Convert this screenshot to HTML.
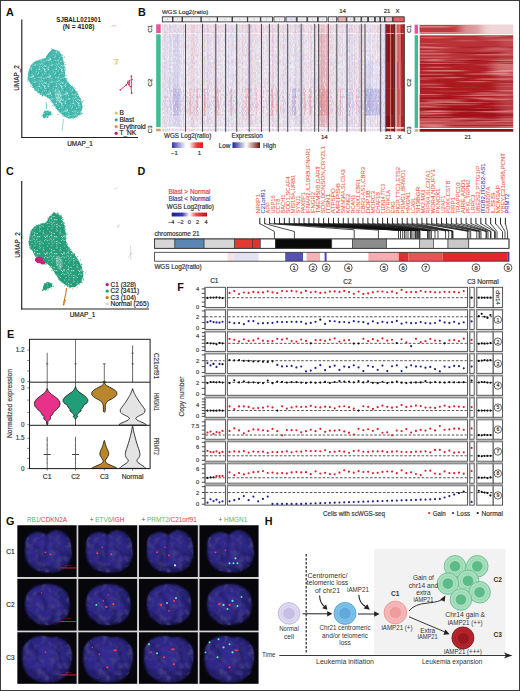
<!DOCTYPE html>
<html><head><meta charset="utf-8"><style>
html,body{margin:0;padding:0;background:#fff;}
body{width:520px;height:691px;overflow:hidden;}
svg{display:block;font-family:"Liberation Sans", sans-serif;}
</style></head><body>
<svg width="520" height="691" viewBox="0 0 520 691">
<rect x="0.5" y="0.5" width="519" height="690" fill="none" stroke="#3a3a3a" stroke-width="1"/>
<text x="6.10" y="15.90" font-size="10.8" fill="#111" text-anchor="start" font-weight="bold" >A</text>
<text x="78.60" y="22.00" font-size="6.6" fill="#1a1a1a" text-anchor="middle" font-weight="bold" textLength="44.5" lengthAdjust="spacingAndGlyphs">SJBALL021901</text>
<text x="78.60" y="29.00" font-size="6.6" fill="#1a1a1a" text-anchor="middle" font-weight="bold" textLength="31.5" lengthAdjust="spacingAndGlyphs">(N = 4108)</text>
<line x1="21.80" y1="19.50" x2="21.80" y2="138.00" stroke="#222" stroke-width="1.15" />
<line x1="21.30" y1="137.50" x2="138.00" y2="137.50" stroke="#222" stroke-width="1.15" />
<text x="19.40" y="78.00" font-size="6.4" fill="#222" text-anchor="middle" stroke="#222" stroke-width="0.18" transform="rotate(-90 19.40 78.00)" >UMAP_2</text>
<text x="80.00" y="146.00" font-size="6.4" fill="#222" text-anchor="middle" stroke="#222" stroke-width="0.18" >UMAP_1</text>
<defs><pattern id="pA" width="17" height="17" patternUnits="userSpaceOnUse"><path d="M3.9 8.9h0.75v0.75h-0.75zM6.0 9.8h0.75v0.75h-0.75zM10.2 1.1h0.75v0.75h-0.75zM0.2 13.7h0.75v0.75h-0.75zM4.2 3.8h0.75v0.75h-0.75zM16.2 7.7h0.75v0.75h-0.75zM13.6 7.8h0.75v0.75h-0.75zM10.4 2.5h0.75v0.75h-0.75zM10.3 14.1h0.75v0.75h-0.75zM8.5 12.1h0.75v0.75h-0.75zM10.9 1.0h0.75v0.75h-0.75zM12.4 9.6h0.75v0.75h-0.75zM4.9 0.5h0.75v0.75h-0.75zM14.1 7.7h0.75v0.75h-0.75zM11.7 14.3h0.75v0.75h-0.75zM11.6 15.0h0.75v0.75h-0.75zM6.4 13.1h0.75v0.75h-0.75zM7.2 15.3h0.75v0.75h-0.75zM14.3 1.6h0.75v0.75h-0.75zM2.2 3.5h0.75v0.75h-0.75zM15.7 7.1h0.75v0.75h-0.75zM10.2 4.9h0.75v0.75h-0.75zM8.3 6.3h0.75v0.75h-0.75zM5.7 9.5h0.75v0.75h-0.75zM9.5 14.7h0.75v0.75h-0.75zM11.1 15.1h0.75v0.75h-0.75zM14.0 16.2h0.75v0.75h-0.75zM10.9 2.7h0.75v0.75h-0.75zM14.0 15.7h0.75v0.75h-0.75zM14.7 9.3h0.75v0.75h-0.75zM11.6 3.4h0.75v0.75h-0.75zM13.6 9.3h0.75v0.75h-0.75zM4.6 1.0h0.75v0.75h-0.75zM13.9 16.1h0.75v0.75h-0.75zM1.4 13.0h0.75v0.75h-0.75zM6.7 2.5h0.75v0.75h-0.75zM4.8 12.5h0.75v0.75h-0.75zM14.2 0.7h0.75v0.75h-0.75zM10.0 0.7h0.75v0.75h-0.75zM11.7 5.4h0.75v0.75h-0.75zM14.4 16.0h0.75v0.75h-0.75zM8.2 16.3h0.75v0.75h-0.75zM5.0 1.3h0.75v0.75h-0.75zM9.8 0.5h0.75v0.75h-0.75zM3.2 6.6h0.75v0.75h-0.75zM10.0 2.5h0.75v0.75h-0.75zM0.7 14.1h0.75v0.75h-0.75zM5.1 15.6h0.75v0.75h-0.75zM14.6 6.2h0.75v0.75h-0.75zM7.5 8.5h0.75v0.75h-0.75zM10.5 9.7h0.75v0.75h-0.75zM9.1 10.1h0.75v0.75h-0.75zM15.3 8.3h0.75v0.75h-0.75zM7.0 11.7h0.75v0.75h-0.75zM3.9 4.9h0.75v0.75h-0.75zM15.9 8.5h0.75v0.75h-0.75zM8.9 0.2h0.75v0.75h-0.75zM6.8 9.5h0.75v0.75h-0.75zM0.3 10.0h0.75v0.75h-0.75zM10.3 1.0h0.75v0.75h-0.75z" fill="#ffffff" opacity="0.9"/><path d="M10.2 7.6h0.75v0.75h-0.75zM11.1 5.7h0.75v0.75h-0.75zM11.5 12.0h0.75v0.75h-0.75zM0.4 1.0h0.75v0.75h-0.75zM11.0 15.7h0.75v0.75h-0.75zM4.1 7.4h0.75v0.75h-0.75zM9.7 5.2h0.75v0.75h-0.75zM5.9 5.1h0.75v0.75h-0.75zM6.0 9.7h0.75v0.75h-0.75zM4.9 6.1h0.75v0.75h-0.75zM12.6 0.4h0.75v0.75h-0.75zM9.3 12.0h0.75v0.75h-0.75zM5.1 3.6h0.75v0.75h-0.75zM13.1 3.9h0.75v0.75h-0.75zM3.1 7.1h0.75v0.75h-0.75zM11.4 1.7h0.75v0.75h-0.75zM5.2 5.4h0.75v0.75h-0.75zM13.6 7.1h0.75v0.75h-0.75zM13.9 2.8h0.75v0.75h-0.75zM5.5 10.6h0.75v0.75h-0.75zM14.4 7.4h0.75v0.75h-0.75zM3.7 2.0h0.75v0.75h-0.75zM8.6 3.1h0.75v0.75h-0.75zM13.2 13.7h0.75v0.75h-0.75zM3.0 4.5h0.75v0.75h-0.75zM13.2 10.5h0.75v0.75h-0.75zM13.1 5.6h0.75v0.75h-0.75zM2.1 4.8h0.75v0.75h-0.75zM12.9 4.4h0.75v0.75h-0.75zM5.6 6.8h0.75v0.75h-0.75zM6.8 6.7h0.75v0.75h-0.75zM15.0 2.5h0.75v0.75h-0.75zM0.1 15.4h0.75v0.75h-0.75zM14.3 16.1h0.75v0.75h-0.75zM7.1 15.5h0.75v0.75h-0.75z" fill="#2a978d" opacity="0.7"/><path d="M15.1 3.6h0.75v0.75h-0.75zM12.2 13.6h0.75v0.75h-0.75zM10.8 8.5h0.75v0.75h-0.75zM4.7 5.6h0.75v0.75h-0.75zM3.7 1.1h0.75v0.75h-0.75zM9.6 4.7h0.75v0.75h-0.75zM13.2 0.7h0.75v0.75h-0.75zM14.7 11.3h0.75v0.75h-0.75zM15.1 14.6h0.75v0.75h-0.75zM14.7 9.4h0.75v0.75h-0.75zM0.2 12.1h0.75v0.75h-0.75zM2.8 4.9h0.75v0.75h-0.75zM10.8 8.6h0.75v0.75h-0.75zM6.7 15.3h0.75v0.75h-0.75zM10.0 5.6h0.75v0.75h-0.75zM4.1 14.0h0.75v0.75h-0.75zM7.8 12.8h0.75v0.75h-0.75zM5.7 3.2h0.75v0.75h-0.75zM8.7 13.3h0.75v0.75h-0.75zM2.8 12.9h0.75v0.75h-0.75zM15.0 13.1h0.75v0.75h-0.75zM13.4 0.1h0.75v0.75h-0.75zM10.2 14.1h0.75v0.75h-0.75zM0.8 4.4h0.75v0.75h-0.75zM4.4 8.6h0.75v0.75h-0.75zM6.9 7.7h0.75v0.75h-0.75zM12.7 0.0h0.75v0.75h-0.75zM0.9 2.1h0.75v0.75h-0.75zM2.0 1.1h0.75v0.75h-0.75zM15.9 13.9h0.75v0.75h-0.75z" fill="#7fd8d0" opacity="0.8"/></pattern></defs>
<polygon points="52.8,49.1 57.9,50.8 61.3,54.2 63.0,59.3 64.3,65.2 64.7,71.1 65.5,77.9 67.0,81.0 70.0,84.4 73.4,87.6 77.7,93.4 81.3,100.6 82.7,107.8 80.6,113.6 74.8,117.9 69.8,118.6 64.7,116.4 58.9,112.1 54.6,106.3 51.0,100.6 46.7,96.8 41.6,95.5 38.8,92.4 35.1,90.5 31.5,84.7 28.7,80.5 27.8,77.9 28.7,71.1 30.8,65.2 34.2,61.8 39.3,59.7 45.2,58.4 46.5,56.7 48.2,53.3" fill="#42b8ad"/>
<polygon points="55.0,90.0 58.0,89.0 61.5,93.0 62.0,99.0 60.0,103.0 57.0,101.0 55.0,96.0" fill="#ffffff" opacity="0.3"/>
<polygon points="52.8,49.1 57.9,50.8 61.3,54.2 63.0,59.3 64.3,65.2 64.7,71.1 65.5,77.9 67.0,81.0 70.0,84.4 73.4,87.6 77.7,93.4 81.3,100.6 82.7,107.8 80.6,113.6 74.8,117.9 69.8,118.6 64.7,116.4 58.9,112.1 54.6,106.3 51.0,100.6 46.7,96.8 41.6,95.5 38.8,92.4 35.1,90.5 31.5,84.7 28.7,80.5 27.8,77.9 28.7,71.1 30.8,65.2 34.2,61.8 39.3,59.7 45.2,58.4 46.5,56.7 48.2,53.3" fill="url(#pA)"/>
<path d="M64.6 74.6h0.8v0.8h-0.8zM63.8 66.4h0.8v0.8h-0.8zM35.0 88.9h0.8v0.8h-0.8zM71.7 85.4h0.8v0.8h-0.8zM66.0 75.2h0.8v0.8h-0.8zM31.3 82.5h0.8v0.8h-0.8zM62.2 61.5h0.8v0.8h-0.8zM28.5 71.5h0.8v0.8h-0.8zM77.4 115.6h0.8v0.8h-0.8zM29.3 69.9h0.8v0.8h-0.8zM45.9 95.5h0.8v0.8h-0.8zM63.3 114.1h0.8v0.8h-0.8zM51.2 48.8h0.8v0.8h-0.8zM66.5 79.5h0.8v0.8h-0.8zM66.2 117.0h0.8v0.8h-0.8zM65.4 81.0h0.8v0.8h-0.8zM40.4 94.0h0.8v0.8h-0.8zM45.2 58.3h0.8v0.8h-0.8zM64.8 70.4h0.8v0.8h-0.8zM69.2 116.5h0.8v0.8h-0.8zM64.1 62.2h0.8v0.8h-0.8zM64.7 67.2h0.8v0.8h-0.8zM26.9 78.7h0.8v0.8h-0.8zM28.3 71.7h0.8v0.8h-0.8zM29.4 72.0h0.8v0.8h-0.8zM51.8 51.1h0.8v0.8h-0.8zM73.2 88.6h0.8v0.8h-0.8zM51.2 48.5h0.8v0.8h-0.8zM71.2 86.3h0.8v0.8h-0.8zM42.5 94.8h0.8v0.8h-0.8zM52.8 101.6h0.8v0.8h-0.8zM54.9 107.5h0.8v0.8h-0.8zM30.4 83.6h0.8v0.8h-0.8zM45.4 60.6h0.8v0.8h-0.8zM43.7 59.8h0.8v0.8h-0.8zM59.2 50.9h0.8v0.8h-0.8zM28.2 78.3h0.8v0.8h-0.8zM69.5 117.4h0.8v0.8h-0.8zM65.0 70.4h0.8v0.8h-0.8zM81.8 113.1h0.8v0.8h-0.8zM62.8 60.4h0.8v0.8h-0.8zM47.0 97.3h0.8v0.8h-0.8zM67.6 80.7h0.8v0.8h-0.8zM37.1 90.8h0.8v0.8h-0.8zM58.2 52.3h0.8v0.8h-0.8zM76.8 115.4h0.8v0.8h-0.8zM72.3 86.6h0.8v0.8h-0.8zM30.3 69.3h0.8v0.8h-0.8zM65.9 78.4h0.8v0.8h-0.8zM32.0 87.3h0.8v0.8h-0.8zM64.8 115.7h0.8v0.8h-0.8zM48.0 52.9h0.8v0.8h-0.8zM51.7 102.2h0.8v0.8h-0.8zM75.1 87.9h0.8v0.8h-0.8zM65.6 80.7h0.8v0.8h-0.8zM27.8 73.4h0.8v0.8h-0.8zM47.5 97.3h0.8v0.8h-0.8zM81.1 105.7h0.8v0.8h-0.8zM38.4 92.5h0.8v0.8h-0.8zM69.5 84.5h0.8v0.8h-0.8zM46.7 56.2h0.8v0.8h-0.8zM64.7 67.0h0.8v0.8h-0.8zM55.9 107.7h0.8v0.8h-0.8zM67.9 82.4h0.8v0.8h-0.8zM28.0 77.3h0.8v0.8h-0.8zM77.4 91.6h0.8v0.8h-0.8zM79.9 98.1h0.8v0.8h-0.8zM55.0 104.5h0.8v0.8h-0.8zM31.2 83.0h0.8v0.8h-0.8zM46.2 56.1h0.8v0.8h-0.8zM39.9 60.7h0.8v0.8h-0.8zM66.2 79.5h0.8v0.8h-0.8zM51.5 52.0h0.8v0.8h-0.8zM79.2 113.8h0.8v0.8h-0.8zM30.9 66.0h0.8v0.8h-0.8zM74.3 87.3h0.8v0.8h-0.8zM62.3 58.8h0.8v0.8h-0.8zM46.5 57.2h0.8v0.8h-0.8zM37.3 92.3h0.8v0.8h-0.8zM62.5 57.1h0.8v0.8h-0.8zM75.7 117.0h0.8v0.8h-0.8zM72.6 118.4h0.8v0.8h-0.8zM64.4 69.4h0.8v0.8h-0.8zM42.6 58.6h0.8v0.8h-0.8zM44.3 58.2h0.8v0.8h-0.8zM28.1 79.4h0.8v0.8h-0.8zM61.9 115.5h0.8v0.8h-0.8zM29.0 79.9h0.8v0.8h-0.8zM34.1 89.8h0.8v0.8h-0.8zM79.7 113.2h0.8v0.8h-0.8zM57.7 50.7h0.8v0.8h-0.8zM82.2 101.2h0.8v0.8h-0.8zM27.7 77.1h0.8v0.8h-0.8zM64.0 56.6h0.8v0.8h-0.8zM73.2 118.4h0.8v0.8h-0.8zM39.6 93.9h0.8v0.8h-0.8zM63.5 66.2h0.8v0.8h-0.8zM39.1 59.9h0.8v0.8h-0.8zM57.5 114.1h0.8v0.8h-0.8zM45.4 94.8h0.8v0.8h-0.8zM53.3 49.1h0.8v0.8h-0.8zM47.7 57.0h0.8v0.8h-0.8zM41.9 94.7h0.8v0.8h-0.8zM44.9 58.4h0.8v0.8h-0.8zM47.2 97.2h0.8v0.8h-0.8zM53.1 105.7h0.8v0.8h-0.8zM40.2 93.0h0.8v0.8h-0.8zM27.4 80.6h0.8v0.8h-0.8zM31.4 86.2h0.8v0.8h-0.8zM41.7 58.4h0.8v0.8h-0.8zM29.3 80.8h0.8v0.8h-0.8zM61.7 54.3h0.8v0.8h-0.8zM64.8 78.0h0.8v0.8h-0.8zM64.7 63.9h0.8v0.8h-0.8zM39.3 92.4h0.8v0.8h-0.8zM65.7 79.8h0.8v0.8h-0.8zM79.6 114.8h0.8v0.8h-0.8zM76.5 91.0h0.8v0.8h-0.8zM78.6 114.2h0.8v0.8h-0.8zM42.2 95.7h0.8v0.8h-0.8zM83.6 105.5h0.8v0.8h-0.8zM62.4 54.9h0.8v0.8h-0.8zM63.6 116.2h0.8v0.8h-0.8zM66.6 78.3h0.8v0.8h-0.8zM36.6 90.5h0.8v0.8h-0.8zM50.4 100.7h0.8v0.8h-0.8zM80.6 114.1h0.8v0.8h-0.8zM64.9 68.5h0.8v0.8h-0.8zM32.9 87.2h0.8v0.8h-0.8zM79.3 114.4h0.8v0.8h-0.8zM68.1 117.9h0.8v0.8h-0.8zM80.5 99.3h0.8v0.8h-0.8zM38.1 59.7h0.8v0.8h-0.8zM81.7 112.8h0.8v0.8h-0.8zM28.0 74.6h0.8v0.8h-0.8zM59.6 52.2h0.8v0.8h-0.8zM53.6 103.8h0.8v0.8h-0.8zM81.0 113.0h0.8v0.8h-0.8zM37.5 92.8h0.8v0.8h-0.8zM73.6 89.0h0.8v0.8h-0.8zM62.9 66.5h0.8v0.8h-0.8zM52.7 100.5h0.8v0.8h-0.8zM30.0 85.8h0.8v0.8h-0.8zM41.7 58.8h0.8v0.8h-0.8zM51.9 105.1h0.8v0.8h-0.8zM48.7 97.3h0.8v0.8h-0.8zM52.5 49.1h0.8v0.8h-0.8zM83.4 100.3h0.8v0.8h-0.8zM36.8 60.9h0.8v0.8h-0.8zM62.2 57.3h0.8v0.8h-0.8zM38.1 92.0h0.8v0.8h-0.8zM31.9 65.6h0.8v0.8h-0.8zM28.3 73.1h0.8v0.8h-0.8zM61.6 55.8h0.8v0.8h-0.8zM64.9 115.0h0.8v0.8h-0.8zM28.8 73.6h0.8v0.8h-0.8zM59.7 112.3h0.8v0.8h-0.8zM64.9 64.1h0.8v0.8h-0.8zM46.7 55.2h0.8v0.8h-0.8zM82.4 102.3h0.8v0.8h-0.8z" fill="#42b8ad"/>
<defs><pattern id="pA2" width="17" height="17" patternUnits="userSpaceOnUse"><path d="M3.8 1.7h0.75v0.75h-0.75zM6.5 2.5h0.75v0.75h-0.75zM1.1 6.5h0.75v0.75h-0.75zM15.0 13.0h0.75v0.75h-0.75zM12.5 3.6h0.75v0.75h-0.75zM8.7 4.5h0.75v0.75h-0.75zM2.8 1.7h0.75v0.75h-0.75zM3.5 15.1h0.75v0.75h-0.75zM13.5 13.1h0.75v0.75h-0.75zM13.0 3.2h0.75v0.75h-0.75zM5.1 10.2h0.75v0.75h-0.75zM11.9 13.9h0.75v0.75h-0.75zM14.3 1.4h0.75v0.75h-0.75zM9.9 10.9h0.75v0.75h-0.75zM8.2 2.9h0.75v0.75h-0.75zM7.7 1.5h0.75v0.75h-0.75zM15.2 14.1h0.75v0.75h-0.75zM8.9 4.9h0.75v0.75h-0.75zM14.8 9.3h0.75v0.75h-0.75zM14.4 13.8h0.75v0.75h-0.75zM8.3 6.7h0.75v0.75h-0.75zM9.8 7.0h0.75v0.75h-0.75zM2.6 5.0h0.75v0.75h-0.75zM13.2 0.7h0.75v0.75h-0.75zM0.8 10.2h0.75v0.75h-0.75zM4.6 8.7h0.75v0.75h-0.75zM7.7 5.6h0.75v0.75h-0.75zM16.3 3.2h0.75v0.75h-0.75zM6.7 3.3h0.75v0.75h-0.75zM10.3 4.5h0.75v0.75h-0.75zM5.8 12.2h0.75v0.75h-0.75zM5.2 9.1h0.75v0.75h-0.75zM14.7 1.6h0.75v0.75h-0.75zM1.0 3.7h0.75v0.75h-0.75zM12.5 10.0h0.75v0.75h-0.75zM3.9 5.4h0.75v0.75h-0.75zM2.9 7.5h0.75v0.75h-0.75zM0.7 11.4h0.75v0.75h-0.75zM14.6 15.6h0.75v0.75h-0.75zM12.0 15.6h0.75v0.75h-0.75z" fill="#ffffff" opacity="0.9"/></pattern></defs>
<polygon points="44.0,111.5 47.5,110.5 51.5,111.8 50.8,115.0 47.0,117.0 43.5,118.2 42.5,116.0" fill="#3db5a8"/>
<polygon points="44.0,111.5 47.5,110.5 51.5,111.8 50.8,115.0 47.0,117.0 43.5,118.2 42.5,116.0" fill="url(#pA2)"/>
<path d="M44.9 111.6h0.8v0.8h-0.8zM44.1 116.9h0.8v0.8h-0.8zM41.4 114.5h0.8v0.8h-0.8zM49.9 113.6h0.8v0.8h-0.8zM50.5 114.3h0.8v0.8h-0.8zM50.5 114.8h0.8v0.8h-0.8zM46.0 112.8h0.8v0.8h-0.8zM44.7 111.6h0.8v0.8h-0.8zM41.7 115.4h0.8v0.8h-0.8zM46.5 117.3h0.8v0.8h-0.8zM47.1 117.3h0.8v0.8h-0.8zM49.5 111.9h0.8v0.8h-0.8zM43.7 111.7h0.8v0.8h-0.8zM47.4 116.7h0.8v0.8h-0.8zM50.0 112.4h0.8v0.8h-0.8zM47.7 116.9h0.8v0.8h-0.8zM51.9 113.6h0.8v0.8h-0.8zM43.2 115.5h0.8v0.8h-0.8zM47.7 116.6h0.8v0.8h-0.8zM44.5 117.7h0.8v0.8h-0.8zM43.6 116.8h0.8v0.8h-0.8zM48.1 115.1h0.8v0.8h-0.8zM50.5 113.5h0.8v0.8h-0.8zM45.1 111.3h0.8v0.8h-0.8zM44.4 110.2h0.8v0.8h-0.8z" fill="#3db5a8"/>
<path d="M63.5,119 L62.5,127 L62,131" stroke="#7fcfc5" stroke-width="0.8" fill="none"/>
<path d="M46,102 l0.6,4 l-0.3,3" stroke="#3db5a8" stroke-width="0.7" fill="none"/>
<path d="M111.5,26.5 l2,-1 l1.5,1 l1.5,-1.5" stroke="#e6b3a6" stroke-width="0.9" fill="none"/>
<path d="M113.5,59.5 l4.5,0.3 l-2,2 l1,1.8 l-2.5,0.5" stroke="#d6d27e" stroke-width="1.1" fill="none"/>
<path d="M120.3,89.8 L123.5,87.2 L126.5,84.8 L128.5,82.5 M131.4,76.2 L131.2,80 L131.8,84 L131.2,88 L131.6,93.2 M128,80.5 L130,83 L129,86" stroke="#c82a5c" stroke-width="0.9" fill="none"/>
<circle cx="120.30" cy="89.80" r="0.85" fill="#c82a5c" />
<circle cx="131.40" cy="76.20" r="0.85" fill="#c82a5c" />
<circle cx="131.60" cy="93.20" r="0.85" fill="#c82a5c" />
<circle cx="127.80" cy="82.20" r="0.85" fill="#c82a5c" />
<circle cx="129.60" cy="80.80" r="0.85" fill="#c82a5c" />
<circle cx="126.20" cy="85.00" r="0.85" fill="#c82a5c" />
<circle cx="130.20" cy="86.50" r="0.85" fill="#c82a5c" />
<circle cx="128.80" cy="84.20" r="0.85" fill="#c82a5c" />
<circle cx="132.00" cy="79.50" r="0.85" fill="#c82a5c" />
<circle cx="116.20" cy="113.10" r="1.65" fill="#d9c36a" />
<text x="119.40" y="115.00" font-size="6.6" fill="#222" text-anchor="start" stroke="#222" stroke-width="0.18" >B</text>
<circle cx="116.20" cy="119.85" r="1.65" fill="#3a9fcf" />
<text x="119.40" y="121.75" font-size="6.6" fill="#222" text-anchor="start" stroke="#222" stroke-width="0.18" >Blast</text>
<circle cx="116.20" cy="126.60" r="1.65" fill="#ec8a5a" />
<text x="119.40" y="128.50" font-size="6.6" fill="#222" text-anchor="start" stroke="#222" stroke-width="0.18" >Erythroid</text>
<circle cx="116.20" cy="133.35" r="1.65" fill="#c02060" />
<text x="119.40" y="135.25" font-size="6.6" fill="#222" text-anchor="start" stroke="#222" stroke-width="0.18" >T_NK</text>
<text x="6.00" y="175.20" font-size="10.8" fill="#111" text-anchor="start" font-weight="bold" >C</text>
<line x1="21.70" y1="181.00" x2="21.70" y2="309.50" stroke="#222" stroke-width="1.15" />
<line x1="21.20" y1="309.00" x2="149.00" y2="309.00" stroke="#222" stroke-width="1.15" />
<text x="19.80" y="245.00" font-size="6.4" fill="#222" text-anchor="middle" stroke="#222" stroke-width="0.18" transform="rotate(-90 19.80 245.00)" >UMAP_2</text>
<text x="82.50" y="316.60" font-size="6.4" fill="#222" text-anchor="middle" stroke="#222" stroke-width="0.18" >UMAP_1</text>
<defs><pattern id="pC" width="17" height="17" patternUnits="userSpaceOnUse"><path d="M10.2 12.1h0.75v0.75h-0.75zM13.0 15.4h0.75v0.75h-0.75zM12.1 15.0h0.75v0.75h-0.75zM0.5 7.6h0.75v0.75h-0.75zM15.4 10.6h0.75v0.75h-0.75zM14.7 1.8h0.75v0.75h-0.75zM7.6 4.0h0.75v0.75h-0.75zM8.9 9.4h0.75v0.75h-0.75zM0.2 3.5h0.75v0.75h-0.75zM4.6 14.9h0.75v0.75h-0.75zM12.5 2.6h0.75v0.75h-0.75zM13.0 2.3h0.75v0.75h-0.75zM10.1 2.1h0.75v0.75h-0.75zM0.0 14.2h0.75v0.75h-0.75zM3.4 3.5h0.75v0.75h-0.75zM16.0 14.2h0.75v0.75h-0.75zM4.7 15.7h0.75v0.75h-0.75zM8.8 11.0h0.75v0.75h-0.75zM3.3 15.3h0.75v0.75h-0.75zM11.3 15.8h0.75v0.75h-0.75zM14.6 4.9h0.75v0.75h-0.75zM5.9 2.7h0.75v0.75h-0.75zM2.4 1.1h0.75v0.75h-0.75zM4.9 9.8h0.75v0.75h-0.75zM0.1 11.1h0.75v0.75h-0.75zM5.5 5.1h0.75v0.75h-0.75zM13.3 7.8h0.75v0.75h-0.75zM5.1 7.8h0.75v0.75h-0.75zM11.5 0.9h0.75v0.75h-0.75zM15.9 0.4h0.75v0.75h-0.75zM12.2 13.8h0.75v0.75h-0.75zM0.3 12.8h0.75v0.75h-0.75zM6.0 9.4h0.75v0.75h-0.75zM0.1 0.8h0.75v0.75h-0.75zM2.9 15.6h0.75v0.75h-0.75zM3.2 12.3h0.75v0.75h-0.75zM15.2 15.4h0.75v0.75h-0.75zM5.6 5.8h0.75v0.75h-0.75zM8.6 12.6h0.75v0.75h-0.75zM1.8 12.2h0.75v0.75h-0.75zM13.0 14.0h0.75v0.75h-0.75zM0.6 15.4h0.75v0.75h-0.75zM1.5 5.6h0.75v0.75h-0.75zM10.0 15.0h0.75v0.75h-0.75zM5.5 15.1h0.75v0.75h-0.75zM8.9 5.1h0.75v0.75h-0.75zM5.2 2.9h0.75v0.75h-0.75zM1.3 2.4h0.75v0.75h-0.75zM11.2 16.2h0.75v0.75h-0.75zM2.6 0.8h0.75v0.75h-0.75z" fill="#ffffff" opacity="0.9"/><path d="M16.1 8.7h0.75v0.75h-0.75zM6.6 3.9h0.75v0.75h-0.75zM9.7 13.5h0.75v0.75h-0.75zM7.4 6.9h0.75v0.75h-0.75zM0.9 14.9h0.75v0.75h-0.75zM0.5 8.0h0.75v0.75h-0.75zM13.7 2.1h0.75v0.75h-0.75zM11.9 15.5h0.75v0.75h-0.75zM10.3 12.8h0.75v0.75h-0.75zM1.7 7.1h0.75v0.75h-0.75zM2.4 13.8h0.75v0.75h-0.75zM4.8 7.4h0.75v0.75h-0.75zM16.3 13.9h0.75v0.75h-0.75zM15.9 7.4h0.75v0.75h-0.75zM8.0 11.9h0.75v0.75h-0.75zM7.8 4.7h0.75v0.75h-0.75zM6.6 2.4h0.75v0.75h-0.75zM6.1 16.1h0.75v0.75h-0.75zM15.6 10.2h0.75v0.75h-0.75zM8.1 5.5h0.75v0.75h-0.75zM1.5 4.4h0.75v0.75h-0.75zM12.7 14.1h0.75v0.75h-0.75zM5.9 12.8h0.75v0.75h-0.75zM12.6 11.3h0.75v0.75h-0.75zM10.8 12.4h0.75v0.75h-0.75z" fill="#8a8a8a" opacity="0.8"/><path d="M5.9 11.5h0.75v0.75h-0.75zM4.6 7.9h0.75v0.75h-0.75zM12.5 11.3h0.75v0.75h-0.75zM4.8 15.4h0.75v0.75h-0.75zM10.6 9.5h0.75v0.75h-0.75zM0.2 8.9h0.75v0.75h-0.75zM4.1 10.9h0.75v0.75h-0.75zM7.5 13.3h0.75v0.75h-0.75zM10.6 13.0h0.75v0.75h-0.75zM5.7 10.5h0.75v0.75h-0.75zM12.0 13.5h0.75v0.75h-0.75zM5.7 13.7h0.75v0.75h-0.75zM14.2 11.2h0.75v0.75h-0.75zM15.9 15.6h0.75v0.75h-0.75zM8.4 8.6h0.75v0.75h-0.75zM2.7 13.6h0.75v0.75h-0.75zM15.3 7.8h0.75v0.75h-0.75zM11.3 11.7h0.75v0.75h-0.75zM11.9 2.8h0.75v0.75h-0.75zM12.7 9.5h0.75v0.75h-0.75zM10.8 6.9h0.75v0.75h-0.75zM10.2 12.6h0.75v0.75h-0.75zM10.4 11.7h0.75v0.75h-0.75zM0.5 2.6h0.75v0.75h-0.75zM7.2 10.6h0.75v0.75h-0.75z" fill="#167e60" opacity="0.6"/></pattern></defs>
<polygon points="53.6,212.4 58.7,214.2 62.1,217.9 63.8,223.4 65.1,229.8 65.5,236.1 66.3,243.5 67.8,246.8 70.8,250.5 74.2,254.0 78.5,260.2 82.1,268.0 83.5,275.8 81.4,282.0 75.6,286.7 70.6,287.4 65.5,285.1 59.7,280.4 55.4,274.2 51.8,268.0 47.5,263.9 42.4,262.5 39.6,259.1 35.9,257.1 32.3,250.8 29.5,246.3 28.6,243.5 29.5,236.1 31.6,229.8 35.0,226.1 40.1,223.8 46.0,222.4 47.3,220.6 49.0,216.9" fill="#22a07a"/>
<polygon points="55.8,256.6 58.8,255.5 62.3,259.8 62.8,266.3 60.8,270.6 57.8,268.4 55.8,263.0" fill="#ffffff" opacity="0.3"/>
<polygon points="53.6,212.4 58.7,214.2 62.1,217.9 63.8,223.4 65.1,229.8 65.5,236.1 66.3,243.5 67.8,246.8 70.8,250.5 74.2,254.0 78.5,260.2 82.1,268.0 83.5,275.8 81.4,282.0 75.6,286.7 70.6,287.4 65.5,285.1 59.7,280.4 55.4,274.2 51.8,268.0 47.5,263.9 42.4,262.5 39.6,259.1 35.9,257.1 32.3,250.8 29.5,246.3 28.6,243.5 29.5,236.1 31.6,229.8 35.0,226.1 40.1,223.8 46.0,222.4 47.3,220.6 49.0,216.9" fill="url(#pC)"/>
<path d="M72.3 288.4h0.8v0.8h-0.8zM46.7 223.9h0.8v0.8h-0.8zM69.0 248.5h0.8v0.8h-0.8zM62.1 221.1h0.8v0.8h-0.8zM65.5 235.3h0.8v0.8h-0.8zM56.9 212.6h0.8v0.8h-0.8zM67.9 248.8h0.8v0.8h-0.8zM50.7 267.4h0.8v0.8h-0.8zM52.3 267.5h0.8v0.8h-0.8zM34.7 254.8h0.8v0.8h-0.8zM46.8 222.3h0.8v0.8h-0.8zM36.1 256.8h0.8v0.8h-0.8zM44.3 262.8h0.8v0.8h-0.8zM32.0 248.7h0.8v0.8h-0.8zM44.4 223.9h0.8v0.8h-0.8zM80.5 267.1h0.8v0.8h-0.8zM48.2 222.2h0.8v0.8h-0.8zM49.5 266.9h0.8v0.8h-0.8zM70.4 249.1h0.8v0.8h-0.8zM63.5 222.1h0.8v0.8h-0.8zM58.4 278.9h0.8v0.8h-0.8zM47.7 223.9h0.8v0.8h-0.8zM54.6 271.1h0.8v0.8h-0.8zM68.3 247.4h0.8v0.8h-0.8zM40.7 260.3h0.8v0.8h-0.8zM38.2 257.3h0.8v0.8h-0.8zM61.0 217.5h0.8v0.8h-0.8zM67.5 246.4h0.8v0.8h-0.8zM30.0 230.5h0.8v0.8h-0.8zM45.7 221.9h0.8v0.8h-0.8zM80.3 281.7h0.8v0.8h-0.8zM47.9 263.8h0.8v0.8h-0.8zM52.4 270.3h0.8v0.8h-0.8zM79.3 263.7h0.8v0.8h-0.8zM40.0 261.1h0.8v0.8h-0.8zM64.1 225.3h0.8v0.8h-0.8zM66.6 234.2h0.8v0.8h-0.8zM65.4 235.9h0.8v0.8h-0.8zM67.3 246.1h0.8v0.8h-0.8zM73.9 253.1h0.8v0.8h-0.8zM82.5 273.0h0.8v0.8h-0.8zM81.8 282.7h0.8v0.8h-0.8zM64.8 231.4h0.8v0.8h-0.8zM29.3 244.5h0.8v0.8h-0.8zM43.3 263.0h0.8v0.8h-0.8zM33.0 251.9h0.8v0.8h-0.8zM48.7 219.2h0.8v0.8h-0.8zM73.7 286.7h0.8v0.8h-0.8zM53.9 271.4h0.8v0.8h-0.8zM33.9 254.5h0.8v0.8h-0.8zM61.9 217.2h0.8v0.8h-0.8zM65.3 242.4h0.8v0.8h-0.8zM29.1 246.9h0.8v0.8h-0.8zM49.1 216.5h0.8v0.8h-0.8zM77.0 260.5h0.8v0.8h-0.8zM68.8 246.7h0.8v0.8h-0.8zM80.1 282.2h0.8v0.8h-0.8zM70.3 286.2h0.8v0.8h-0.8zM31.1 248.4h0.8v0.8h-0.8zM51.1 269.8h0.8v0.8h-0.8zM49.7 216.7h0.8v0.8h-0.8zM82.8 271.2h0.8v0.8h-0.8zM81.2 277.1h0.8v0.8h-0.8zM37.9 259.5h0.8v0.8h-0.8zM29.7 234.2h0.8v0.8h-0.8zM79.9 259.6h0.8v0.8h-0.8zM41.0 224.3h0.8v0.8h-0.8zM81.1 265.9h0.8v0.8h-0.8zM62.7 219.1h0.8v0.8h-0.8zM64.3 227.0h0.8v0.8h-0.8zM74.4 254.1h0.8v0.8h-0.8zM67.2 286.2h0.8v0.8h-0.8zM60.0 215.4h0.8v0.8h-0.8zM33.8 253.5h0.8v0.8h-0.8zM65.3 234.0h0.8v0.8h-0.8zM69.8 287.3h0.8v0.8h-0.8zM30.9 232.4h0.8v0.8h-0.8zM34.0 227.0h0.8v0.8h-0.8zM52.8 213.9h0.8v0.8h-0.8zM64.1 285.4h0.8v0.8h-0.8zM64.1 227.0h0.8v0.8h-0.8zM64.3 223.0h0.8v0.8h-0.8zM65.4 228.8h0.8v0.8h-0.8zM48.6 218.8h0.8v0.8h-0.8zM45.5 264.0h0.8v0.8h-0.8zM81.0 264.4h0.8v0.8h-0.8zM59.7 216.5h0.8v0.8h-0.8zM30.9 248.6h0.8v0.8h-0.8zM51.3 263.2h0.8v0.8h-0.8zM66.8 247.5h0.8v0.8h-0.8zM60.6 281.7h0.8v0.8h-0.8zM65.4 238.3h0.8v0.8h-0.8zM68.6 286.8h0.8v0.8h-0.8zM83.1 279.6h0.8v0.8h-0.8zM64.7 233.7h0.8v0.8h-0.8zM57.4 212.9h0.8v0.8h-0.8zM60.7 214.8h0.8v0.8h-0.8zM61.0 216.3h0.8v0.8h-0.8zM30.4 248.9h0.8v0.8h-0.8zM71.4 250.8h0.8v0.8h-0.8zM65.3 233.0h0.8v0.8h-0.8zM68.5 247.6h0.8v0.8h-0.8zM59.6 280.3h0.8v0.8h-0.8zM30.0 236.1h0.8v0.8h-0.8zM81.2 263.6h0.8v0.8h-0.8zM65.8 243.7h0.8v0.8h-0.8zM77.4 256.2h0.8v0.8h-0.8zM68.3 248.3h0.8v0.8h-0.8zM31.0 235.4h0.8v0.8h-0.8zM81.5 264.2h0.8v0.8h-0.8zM67.2 242.9h0.8v0.8h-0.8zM76.8 286.8h0.8v0.8h-0.8zM43.7 223.6h0.8v0.8h-0.8zM83.2 278.5h0.8v0.8h-0.8zM36.9 256.8h0.8v0.8h-0.8zM65.5 284.0h0.8v0.8h-0.8zM64.2 227.6h0.8v0.8h-0.8zM68.6 286.4h0.8v0.8h-0.8zM67.1 247.8h0.8v0.8h-0.8zM44.1 263.4h0.8v0.8h-0.8zM66.1 242.1h0.8v0.8h-0.8zM47.3 217.4h0.8v0.8h-0.8zM60.5 215.5h0.8v0.8h-0.8zM29.7 248.2h0.8v0.8h-0.8zM35.7 224.5h0.8v0.8h-0.8zM64.7 226.1h0.8v0.8h-0.8zM60.4 216.6h0.8v0.8h-0.8zM65.3 228.9h0.8v0.8h-0.8zM29.5 241.0h0.8v0.8h-0.8zM70.3 286.1h0.8v0.8h-0.8zM47.4 262.9h0.8v0.8h-0.8zM78.9 284.5h0.8v0.8h-0.8zM38.9 259.0h0.8v0.8h-0.8zM56.1 214.5h0.8v0.8h-0.8zM54.1 212.2h0.8v0.8h-0.8zM32.3 248.0h0.8v0.8h-0.8zM35.5 255.9h0.8v0.8h-0.8zM58.0 276.4h0.8v0.8h-0.8zM65.4 233.2h0.8v0.8h-0.8zM64.5 232.6h0.8v0.8h-0.8zM28.1 240.9h0.8v0.8h-0.8zM68.8 287.8h0.8v0.8h-0.8zM42.3 261.9h0.8v0.8h-0.8zM82.5 271.7h0.8v0.8h-0.8zM41.2 260.4h0.8v0.8h-0.8zM52.8 214.0h0.8v0.8h-0.8zM29.9 247.9h0.8v0.8h-0.8zM46.3 222.7h0.8v0.8h-0.8zM68.7 248.1h0.8v0.8h-0.8zM66.5 245.7h0.8v0.8h-0.8zM84.9 272.6h0.8v0.8h-0.8zM67.1 244.2h0.8v0.8h-0.8zM44.4 263.7h0.8v0.8h-0.8zM66.5 237.6h0.8v0.8h-0.8zM53.6 212.2h0.8v0.8h-0.8zM58.0 212.8h0.8v0.8h-0.8zM66.5 232.4h0.8v0.8h-0.8zM58.4 214.7h0.8v0.8h-0.8zM81.1 282.0h0.8v0.8h-0.8zM46.9 220.9h0.8v0.8h-0.8z" fill="#22a07a"/>
<defs><pattern id="pC2" width="17" height="17" patternUnits="userSpaceOnUse"><path d="M12.9 13.4h0.75v0.75h-0.75zM7.9 4.3h0.75v0.75h-0.75zM0.0 10.8h0.75v0.75h-0.75zM7.7 12.4h0.75v0.75h-0.75zM6.1 12.6h0.75v0.75h-0.75zM4.4 13.1h0.75v0.75h-0.75zM11.9 6.7h0.75v0.75h-0.75zM8.8 11.1h0.75v0.75h-0.75zM3.1 9.0h0.75v0.75h-0.75zM13.1 4.3h0.75v0.75h-0.75zM13.1 11.2h0.75v0.75h-0.75zM13.8 5.5h0.75v0.75h-0.75zM1.5 13.0h0.75v0.75h-0.75zM13.1 7.3h0.75v0.75h-0.75zM1.5 3.2h0.75v0.75h-0.75zM10.3 4.7h0.75v0.75h-0.75zM15.5 9.6h0.75v0.75h-0.75zM3.3 10.7h0.75v0.75h-0.75zM5.9 15.2h0.75v0.75h-0.75zM14.8 8.4h0.75v0.75h-0.75zM10.5 11.4h0.75v0.75h-0.75zM13.1 15.9h0.75v0.75h-0.75zM0.5 5.9h0.75v0.75h-0.75zM9.8 5.0h0.75v0.75h-0.75zM9.6 1.5h0.75v0.75h-0.75zM14.3 8.6h0.75v0.75h-0.75zM1.9 10.8h0.75v0.75h-0.75zM5.1 3.2h0.75v0.75h-0.75zM7.9 2.3h0.75v0.75h-0.75zM3.4 14.1h0.75v0.75h-0.75zM11.4 0.2h0.75v0.75h-0.75zM12.7 0.3h0.75v0.75h-0.75zM5.4 14.7h0.75v0.75h-0.75zM10.1 5.0h0.75v0.75h-0.75zM6.2 6.3h0.75v0.75h-0.75zM2.1 16.3h0.75v0.75h-0.75zM0.9 6.9h0.75v0.75h-0.75zM12.2 6.5h0.75v0.75h-0.75zM16.0 4.0h0.75v0.75h-0.75zM16.0 14.5h0.75v0.75h-0.75z" fill="#ffffff" opacity="0.9"/></pattern></defs>
<polygon points="44.0,284.0 48.0,282.0 52.5,283.5 51.8,287.0 47.5,289.0 43.8,290.5 43.0,288.0" fill="#1f9e78"/>
<polygon points="44.0,284.0 48.0,282.0 52.5,283.5 51.8,287.0 47.5,289.0 43.8,290.5 43.0,288.0" fill="url(#pC2)"/>
<path d="M41.8 288.8h0.8v0.8h-0.8zM47.5 288.5h0.8v0.8h-0.8zM43.6 288.3h0.8v0.8h-0.8zM42.2 289.9h0.8v0.8h-0.8zM47.5 281.9h0.8v0.8h-0.8zM43.3 287.4h0.8v0.8h-0.8zM45.2 290.3h0.8v0.8h-0.8zM44.8 289.0h0.8v0.8h-0.8zM50.7 287.8h0.8v0.8h-0.8zM43.1 286.5h0.8v0.8h-0.8zM45.5 289.1h0.8v0.8h-0.8zM47.5 288.5h0.8v0.8h-0.8zM44.2 286.9h0.8v0.8h-0.8zM43.9 283.0h0.8v0.8h-0.8zM42.0 290.1h0.8v0.8h-0.8zM44.0 285.4h0.8v0.8h-0.8zM50.8 286.3h0.8v0.8h-0.8zM44.0 286.2h0.8v0.8h-0.8zM52.9 285.7h0.8v0.8h-0.8zM47.5 289.8h0.8v0.8h-0.8zM43.2 289.5h0.8v0.8h-0.8zM46.4 282.3h0.8v0.8h-0.8zM44.5 285.3h0.8v0.8h-0.8zM52.6 286.1h0.8v0.8h-0.8zM42.8 289.3h0.8v0.8h-0.8z" fill="#1f9e78"/>
<path d="M35,258.5 q2,-2.5 5,-1.5 q3,0.5 3,3 q2,0.5 2,2.5 q-0.5,2.5 -2.5,2 q-2,-0.5 -2.5,-1.5 q-3,0.5 -4,-1 q-1.5,-1.5 -1,-3.5z" fill="#cc1f77"/>
<path d="M66.5,288 l-0.6,5 l-0.8,4 l-0.8,3 l-0.6,3.5" stroke="#c07a1f" stroke-width="1.1" fill="none"/>
<circle cx="64.20" cy="302.50" r="0.90" fill="#c07a1f" />
<circle cx="63.60" cy="304.50" r="0.90" fill="#c07a1f" />
<circle cx="65.00" cy="300.50" r="0.90" fill="#c07a1f" />
<path d="M114,188 l1.5,1 l2,-1.5 M117,225 l1,2.5 l1.5,-3 M128,258 l2,-3 l1,-2 l1.5,2 M130.5,245 l0.5,5 l-0.5,5 l0.5,5" stroke="#c8c8c8" stroke-width="0.7" fill="none"/>
<circle cx="107.20" cy="284.60" r="1.65" fill="#c8187a" />
<text x="110.40" y="286.90" font-size="6.6" fill="#222" text-anchor="start" stroke="#222" stroke-width="0.18" >C1 (328)</text>
<circle cx="107.20" cy="291.10" r="1.65" fill="#1f9a74" />
<text x="110.40" y="293.40" font-size="6.6" fill="#222" text-anchor="start" stroke="#222" stroke-width="0.18" >C2 (3411)</text>
<circle cx="107.20" cy="297.60" r="1.65" fill="#c07a1f" />
<text x="110.40" y="299.90" font-size="6.6" fill="#222" text-anchor="start" stroke="#222" stroke-width="0.18" >C3 (104)</text>
<circle cx="107.20" cy="304.10" r="1.65" fill="#d8d8d8" />
<text x="110.40" y="306.40" font-size="6.6" fill="#222" text-anchor="start" stroke="#222" stroke-width="0.18" >Normal (265)</text>
<text x="138.10" y="15.90" font-size="10.8" fill="#111" text-anchor="start" font-weight="bold" >B</text>
<text x="162.00" y="14.20" font-size="6.2" fill="#333" text-anchor="start" stroke="#333" stroke-width="0.18" >WGS Log2(ratio)</text>
<text x="342.50" y="12.60" font-size="6" fill="#333" text-anchor="middle" stroke="#333" stroke-width="0.18" >14</text>
<text x="387.00" y="12.60" font-size="6" fill="#333" text-anchor="middle" stroke="#333" stroke-width="0.18" >21</text>
<text x="397.50" y="12.60" font-size="6" fill="#333" text-anchor="middle" stroke="#333" stroke-width="0.18" >X</text>
<rect x="162.00" y="24.30" width="1.05" height="9.10" fill="#edd9e2" />
<rect x="163.00" y="24.30" width="1.05" height="9.10" fill="#eddbe5" />
<rect x="164.00" y="24.30" width="1.05" height="9.10" fill="#ded4e8" />
<rect x="165.00" y="24.30" width="1.05" height="9.10" fill="#ddd3e8" />
<rect x="166.00" y="24.30" width="1.05" height="9.10" fill="#eadfeb" />
<rect x="167.00" y="24.30" width="1.05" height="9.10" fill="#ecd6df" />
<rect x="168.00" y="24.30" width="1.05" height="9.10" fill="#ebdfeb" />
<rect x="169.00" y="24.30" width="1.05" height="9.10" fill="#dad1e7" />
<rect x="170.00" y="24.30" width="1.05" height="9.10" fill="#ded4e8" />
<rect x="171.00" y="24.30" width="1.05" height="9.10" fill="#e6dbea" />
<rect x="172.00" y="24.30" width="1.05" height="9.10" fill="#eedfe9" />
<rect x="173.00" y="24.30" width="1.05" height="9.10" fill="#e6dbea" />
<rect x="174.00" y="24.30" width="1.05" height="9.10" fill="#e2d8e9" />
<rect x="175.00" y="24.30" width="1.05" height="9.10" fill="#e4d9ea" />
<rect x="176.00" y="24.30" width="1.05" height="9.10" fill="#e8ddeb" />
<rect x="177.00" y="24.30" width="1.05" height="9.10" fill="#ded5e8" />
<rect x="178.00" y="24.30" width="1.05" height="9.10" fill="#e6dcea" />
<rect x="179.00" y="24.30" width="1.05" height="9.10" fill="#e9deeb" />
<rect x="180.00" y="24.30" width="1.05" height="9.10" fill="#ecd7e1" />
<rect x="181.00" y="24.30" width="1.05" height="9.10" fill="#e6dbea" />
<rect x="182.00" y="24.30" width="1.05" height="9.10" fill="#eedfe9" />
<rect x="183.00" y="24.30" width="1.05" height="9.10" fill="#dbd2e8" />
<rect x="184.00" y="24.30" width="1.05" height="9.10" fill="#eee0ea" />
<rect x="185.00" y="24.30" width="1.05" height="9.10" fill="#e8ddeb" />
<rect x="186.00" y="24.30" width="1.05" height="9.10" fill="#e9ddeb" />
<rect x="187.00" y="24.30" width="1.05" height="9.10" fill="#eee2ec" />
<rect x="188.00" y="24.30" width="1.05" height="9.10" fill="#ecd7e1" />
<rect x="189.00" y="24.30" width="1.05" height="9.10" fill="#ebdfeb" />
<rect x="190.00" y="24.30" width="1.05" height="9.10" fill="#ecd6df" />
<rect x="191.00" y="24.30" width="1.05" height="9.10" fill="#ebd0d9" />
<rect x="192.00" y="24.30" width="1.05" height="9.10" fill="#ebcfd8" />
<rect x="193.00" y="24.30" width="1.05" height="9.10" fill="#ebcfd8" />
<rect x="194.00" y="24.30" width="1.05" height="9.10" fill="#e1d6e9" />
<rect x="195.00" y="24.30" width="1.05" height="9.10" fill="#eddee7" />
<rect x="196.00" y="24.30" width="1.05" height="9.10" fill="#e7dcea" />
<rect x="197.00" y="24.30" width="1.05" height="9.10" fill="#ecd7e0" />
<rect x="198.00" y="24.30" width="1.05" height="9.10" fill="#eee1eb" />
<rect x="199.00" y="24.30" width="1.05" height="9.10" fill="#eedfe9" />
<rect x="200.00" y="24.30" width="1.05" height="9.10" fill="#eddce6" />
<rect x="201.00" y="24.30" width="1.05" height="9.10" fill="#e8ddeb" />
<rect x="202.00" y="24.30" width="1.05" height="9.10" fill="#eee0ea" />
<rect x="203.00" y="24.30" width="1.05" height="9.10" fill="#e7dcea" />
<rect x="204.00" y="24.30" width="1.05" height="9.10" fill="#ebcad2" />
<rect x="205.00" y="24.30" width="1.05" height="9.10" fill="#e9deeb" />
<rect x="206.00" y="24.30" width="1.05" height="9.10" fill="#eee1eb" />
<rect x="207.00" y="24.30" width="1.05" height="9.10" fill="#dbd2e8" />
<rect x="208.00" y="24.30" width="1.05" height="9.10" fill="#ded5e8" />
<rect x="209.00" y="24.30" width="1.05" height="9.10" fill="#e5dbea" />
<rect x="210.00" y="24.30" width="1.05" height="9.10" fill="#edd9e2" />
<rect x="211.00" y="24.30" width="1.05" height="9.10" fill="#edd9e2" />
<rect x="212.00" y="24.30" width="1.05" height="9.10" fill="#eddee8" />
<rect x="213.00" y="24.30" width="1.05" height="9.10" fill="#e7dceb" />
<rect x="214.00" y="24.30" width="1.05" height="9.10" fill="#ebccd5" />
<rect x="215.00" y="24.30" width="1.05" height="9.10" fill="#e3d9ea" />
<rect x="216.00" y="24.30" width="1.05" height="9.10" fill="#e5daea" />
<rect x="217.00" y="24.30" width="1.05" height="9.10" fill="#eddce6" />
<rect x="218.00" y="24.30" width="1.05" height="9.10" fill="#e4d9ea" />
<rect x="219.00" y="24.30" width="1.05" height="9.10" fill="#eedfe8" />
<rect x="220.00" y="24.30" width="1.05" height="9.10" fill="#ecd7e0" />
<rect x="221.00" y="24.30" width="1.05" height="9.10" fill="#eee2ec" />
<rect x="222.00" y="24.30" width="1.05" height="9.10" fill="#eddde7" />
<rect x="223.00" y="24.30" width="1.05" height="9.10" fill="#eee1eb" />
<rect x="224.00" y="24.30" width="1.05" height="9.10" fill="#e7dcea" />
<rect x="225.00" y="24.30" width="1.05" height="9.10" fill="#ccc5e4" />
<rect x="226.00" y="24.30" width="1.05" height="9.10" fill="#e1d7e9" />
<rect x="227.00" y="24.30" width="1.05" height="9.10" fill="#eee2ec" />
<rect x="228.00" y="24.30" width="1.05" height="9.10" fill="#ddd3e8" />
<rect x="229.00" y="24.30" width="1.05" height="9.10" fill="#e8ddeb" />
<rect x="230.00" y="24.30" width="1.05" height="9.10" fill="#eedfe9" />
<rect x="231.00" y="24.30" width="1.05" height="9.10" fill="#ecd2db" />
<rect x="232.00" y="24.30" width="1.05" height="9.10" fill="#e0d6e9" />
<rect x="233.00" y="24.30" width="1.05" height="9.10" fill="#e9ddeb" />
<rect x="234.00" y="24.30" width="1.05" height="9.10" fill="#eedfe9" />
<rect x="235.00" y="24.30" width="1.05" height="9.10" fill="#eddce5" />
<rect x="236.00" y="24.30" width="1.05" height="9.10" fill="#dfd5e9" />
<rect x="237.00" y="24.30" width="1.05" height="9.10" fill="#ebccd5" />
<rect x="238.00" y="24.30" width="1.05" height="9.10" fill="#e5dbea" />
<rect x="239.00" y="24.30" width="1.05" height="9.10" fill="#ecd5de" />
<rect x="240.00" y="24.30" width="1.05" height="9.10" fill="#ece0ec" />
<rect x="241.00" y="24.30" width="1.05" height="9.10" fill="#eddde7" />
<rect x="242.00" y="24.30" width="1.05" height="9.10" fill="#ebced7" />
<rect x="243.00" y="24.30" width="1.05" height="9.10" fill="#edd9e3" />
<rect x="244.00" y="24.30" width="1.05" height="9.10" fill="#eee0ea" />
<rect x="245.00" y="24.30" width="1.05" height="9.10" fill="#e3d9ea" />
<rect x="246.00" y="24.30" width="1.05" height="9.10" fill="#e7dcea" />
<rect x="247.00" y="24.30" width="1.05" height="9.10" fill="#dfd5e9" />
<rect x="248.00" y="24.30" width="1.05" height="9.10" fill="#ebcad3" />
<rect x="249.00" y="24.30" width="1.05" height="9.10" fill="#ddd4e8" />
<rect x="250.00" y="24.30" width="1.05" height="9.10" fill="#d2cae6" />
<rect x="251.00" y="24.30" width="1.05" height="9.10" fill="#ebcfd8" />
<rect x="252.00" y="24.30" width="1.05" height="9.10" fill="#ecd3dc" />
<rect x="253.00" y="24.30" width="1.05" height="9.10" fill="#eadfeb" />
<rect x="254.00" y="24.30" width="1.05" height="9.10" fill="#edd8e1" />
<rect x="255.00" y="24.30" width="1.05" height="9.10" fill="#e5dbea" />
<rect x="256.00" y="24.30" width="1.05" height="9.10" fill="#e8ddeb" />
<rect x="257.00" y="24.30" width="1.05" height="9.10" fill="#eddce5" />
<rect x="258.00" y="24.30" width="1.05" height="9.10" fill="#eddde7" />
<rect x="259.00" y="24.30" width="1.05" height="9.10" fill="#e9deeb" />
<rect x="260.00" y="24.30" width="1.05" height="9.10" fill="#ebcfd8" />
<rect x="261.00" y="24.30" width="1.05" height="9.10" fill="#edd9e3" />
<rect x="262.00" y="24.30" width="1.05" height="9.10" fill="#eee0ea" />
<rect x="263.00" y="24.30" width="1.05" height="9.10" fill="#e1d7e9" />
<rect x="264.00" y="24.30" width="1.05" height="9.10" fill="#eee0ea" />
<rect x="265.00" y="24.30" width="1.05" height="9.10" fill="#ebdfeb" />
<rect x="266.00" y="24.30" width="1.05" height="9.10" fill="#eee2ec" />
<rect x="267.00" y="24.30" width="1.05" height="9.10" fill="#edd8e2" />
<rect x="268.00" y="24.30" width="1.05" height="9.10" fill="#e8ddeb" />
<rect x="269.00" y="24.30" width="1.05" height="9.10" fill="#eedfe8" />
<rect x="270.00" y="24.30" width="1.05" height="9.10" fill="#edd8e2" />
<rect x="271.00" y="24.30" width="1.05" height="9.10" fill="#eddee7" />
<rect x="272.00" y="24.30" width="1.05" height="9.10" fill="#eac7d0" />
<rect x="273.00" y="24.30" width="1.05" height="9.10" fill="#dbd2e8" />
<rect x="274.00" y="24.30" width="1.05" height="9.10" fill="#eee2ec" />
<rect x="275.00" y="24.30" width="1.05" height="9.10" fill="#e1d7e9" />
<rect x="276.00" y="24.30" width="1.05" height="9.10" fill="#eee2ec" />
<rect x="277.00" y="24.30" width="1.05" height="9.10" fill="#eac5cd" />
<rect x="278.00" y="24.30" width="1.05" height="9.10" fill="#dcd3e8" />
<rect x="279.00" y="24.30" width="1.05" height="9.10" fill="#ebe0eb" />
<rect x="280.00" y="24.30" width="1.05" height="9.10" fill="#eddae4" />
<rect x="281.00" y="24.30" width="1.05" height="9.10" fill="#eee1ea" />
<rect x="282.00" y="24.30" width="1.05" height="9.10" fill="#ecd7e0" />
<rect x="283.00" y="24.30" width="1.05" height="9.10" fill="#ddd4e8" />
<rect x="284.00" y="24.30" width="1.05" height="9.10" fill="#ecd6e0" />
<rect x="285.00" y="24.30" width="1.05" height="9.10" fill="#e4d9ea" />
<rect x="286.00" y="24.30" width="1.05" height="9.10" fill="#e1d7e9" />
<rect x="287.00" y="24.30" width="1.05" height="9.10" fill="#eddbe5" />
<rect x="288.00" y="24.30" width="1.05" height="9.10" fill="#eddce6" />
<rect x="289.00" y="24.30" width="1.05" height="9.10" fill="#e6dbea" />
<rect x="290.00" y="24.30" width="1.05" height="9.10" fill="#e5dbea" />
<rect x="291.00" y="24.30" width="1.05" height="9.10" fill="#ece0ec" />
<rect x="292.00" y="24.30" width="1.05" height="9.10" fill="#eee2ec" />
<rect x="293.00" y="24.30" width="1.05" height="9.10" fill="#ece1ec" />
<rect x="294.00" y="24.30" width="1.05" height="9.10" fill="#e3d9ea" />
<rect x="295.00" y="24.30" width="1.05" height="9.10" fill="#d5cce6" />
<rect x="296.00" y="24.30" width="1.05" height="9.10" fill="#ecd3dc" />
<rect x="297.00" y="24.30" width="1.05" height="9.10" fill="#eee0ea" />
<rect x="298.00" y="24.30" width="1.05" height="9.10" fill="#e1d6e9" />
<rect x="299.00" y="24.30" width="1.05" height="9.10" fill="#ddd3e8" />
<rect x="300.00" y="24.30" width="1.05" height="9.10" fill="#e7dcea" />
<rect x="301.00" y="24.30" width="1.05" height="9.10" fill="#eadeeb" />
<rect x="302.00" y="24.30" width="1.05" height="9.10" fill="#d7cee7" />
<rect x="303.00" y="24.30" width="1.05" height="9.10" fill="#ecd2db" />
<rect x="304.00" y="24.30" width="1.05" height="9.10" fill="#eddde7" />
<rect x="305.00" y="24.30" width="1.05" height="9.10" fill="#ebdfeb" />
<rect x="306.00" y="24.30" width="1.05" height="9.10" fill="#eddee7" />
<rect x="307.00" y="24.30" width="1.05" height="9.10" fill="#eedfe9" />
<rect x="308.00" y="24.30" width="1.05" height="9.10" fill="#ecd6df" />
<rect x="309.00" y="24.30" width="1.05" height="9.10" fill="#eee0ea" />
<rect x="310.00" y="24.30" width="1.05" height="9.10" fill="#ecd3dc" />
<rect x="311.00" y="24.30" width="1.05" height="9.10" fill="#ebd0d9" />
<rect x="312.00" y="24.30" width="1.05" height="9.10" fill="#ebdfeb" />
<rect x="313.00" y="24.30" width="1.05" height="9.10" fill="#e9deeb" />
<rect x="314.00" y="24.30" width="1.05" height="9.10" fill="#e4daea" />
<rect x="315.00" y="24.30" width="1.05" height="9.10" fill="#ece0eb" />
<rect x="316.00" y="24.30" width="1.05" height="9.10" fill="#e6dbea" />
<rect x="317.00" y="24.30" width="1.05" height="9.10" fill="#eee2ec" />
<rect x="318.00" y="24.30" width="1.05" height="9.10" fill="#eddee8" />
<rect x="319.00" y="24.30" width="1.05" height="9.10" fill="#e8bac2" />
<rect x="320.00" y="24.30" width="1.05" height="9.10" fill="#ebced7" />
<rect x="321.00" y="24.30" width="1.05" height="9.10" fill="#e7b4bb" />
<rect x="322.00" y="24.30" width="1.05" height="9.10" fill="#eac4cc" />
<rect x="323.00" y="24.30" width="1.05" height="9.10" fill="#e9c2ca" />
<rect x="324.00" y="24.30" width="1.05" height="9.10" fill="#eac7cf" />
<rect x="325.00" y="24.30" width="1.05" height="9.10" fill="#edd8e1" />
<rect x="326.00" y="24.30" width="1.05" height="9.10" fill="#e9bec5" />
<rect x="327.00" y="24.30" width="1.05" height="9.10" fill="#ecd5de" />
<rect x="328.00" y="24.30" width="1.05" height="9.10" fill="#e7b4bb" />
<rect x="329.00" y="24.30" width="1.05" height="9.10" fill="#eee1eb" />
<rect x="330.00" y="24.30" width="1.05" height="9.10" fill="#ebd0d9" />
<rect x="331.00" y="24.30" width="1.05" height="9.10" fill="#eddae4" />
<rect x="332.00" y="24.30" width="1.05" height="9.10" fill="#eddae3" />
<rect x="333.00" y="24.30" width="1.05" height="9.10" fill="#ecd2db" />
<rect x="334.00" y="24.30" width="1.05" height="9.10" fill="#eee2ec" />
<rect x="335.00" y="24.30" width="1.05" height="9.10" fill="#ebd0d9" />
<rect x="336.00" y="24.30" width="1.05" height="9.10" fill="#ede1ec" />
<rect x="337.00" y="24.30" width="1.05" height="9.10" fill="#eedfe9" />
<rect x="338.00" y="24.30" width="1.05" height="9.10" fill="#e7dcea" />
<rect x="339.00" y="24.30" width="1.05" height="9.10" fill="#eddce5" />
<rect x="340.00" y="24.30" width="1.05" height="9.10" fill="#eddae4" />
<rect x="341.00" y="24.30" width="1.05" height="9.10" fill="#e9ddeb" />
<rect x="342.00" y="24.30" width="1.05" height="9.10" fill="#e0d6e9" />
<rect x="343.00" y="24.30" width="1.05" height="9.10" fill="#eee2ec" />
<rect x="344.00" y="24.30" width="1.05" height="9.10" fill="#eddde7" />
<rect x="345.00" y="24.30" width="1.05" height="9.10" fill="#ece1ec" />
<rect x="346.00" y="24.30" width="1.05" height="9.10" fill="#e3d9ea" />
<rect x="347.00" y="24.30" width="1.05" height="9.10" fill="#e6dbea" />
<rect x="348.00" y="24.30" width="1.05" height="9.10" fill="#ebe0eb" />
<rect x="349.00" y="24.30" width="1.05" height="9.10" fill="#d1c9e5" />
<rect x="350.00" y="24.30" width="1.05" height="9.10" fill="#e8ddeb" />
<rect x="351.00" y="24.30" width="1.05" height="9.10" fill="#ecd1da" />
<rect x="352.00" y="24.30" width="1.05" height="9.10" fill="#e0d6e9" />
<rect x="353.00" y="24.30" width="1.05" height="9.10" fill="#ece0eb" />
<rect x="354.00" y="24.30" width="1.05" height="9.10" fill="#ebced7" />
<rect x="355.00" y="24.30" width="1.05" height="9.10" fill="#eddae3" />
<rect x="356.00" y="24.30" width="1.05" height="9.10" fill="#ecd7e1" />
<rect x="357.00" y="24.30" width="1.05" height="9.10" fill="#ece1ec" />
<rect x="358.00" y="24.30" width="1.05" height="9.10" fill="#dfd6e9" />
<rect x="359.00" y="24.30" width="1.05" height="9.10" fill="#e9c1c9" />
<rect x="360.00" y="24.30" width="1.05" height="9.10" fill="#eddee8" />
<rect x="361.00" y="24.30" width="1.05" height="9.10" fill="#eedfe9" />
<rect x="362.00" y="24.30" width="1.05" height="9.10" fill="#ebcfd8" />
<rect x="363.00" y="24.30" width="1.05" height="9.10" fill="#edd9e2" />
<rect x="364.00" y="24.30" width="1.05" height="9.10" fill="#eee1eb" />
<rect x="365.00" y="24.30" width="1.05" height="9.10" fill="#e2d8e9" />
<rect x="366.00" y="24.30" width="1.05" height="9.10" fill="#ece1ec" />
<rect x="367.00" y="24.30" width="1.05" height="9.10" fill="#ece1ec" />
<rect x="368.00" y="24.30" width="1.05" height="9.10" fill="#e7dcea" />
<rect x="369.00" y="24.30" width="1.05" height="9.10" fill="#e5daea" />
<rect x="370.00" y="24.30" width="1.05" height="9.10" fill="#e3d9ea" />
<rect x="371.00" y="24.30" width="1.05" height="9.10" fill="#ede1ec" />
<rect x="372.00" y="24.30" width="1.05" height="9.10" fill="#e8dceb" />
<rect x="373.00" y="24.30" width="1.05" height="9.10" fill="#eddde7" />
<rect x="374.00" y="24.30" width="1.05" height="9.10" fill="#ecd6df" />
<rect x="375.00" y="24.30" width="1.05" height="9.10" fill="#eddee8" />
<rect x="376.00" y="24.30" width="1.05" height="9.10" fill="#eee2ec" />
<rect x="377.00" y="24.30" width="1.05" height="9.10" fill="#ebd0d9" />
<rect x="378.00" y="24.30" width="1.05" height="9.10" fill="#eddae4" />
<rect x="379.00" y="24.30" width="1.05" height="9.10" fill="#ded4e8" />
<rect x="380.00" y="24.30" width="1.05" height="9.10" fill="#e6dbea" />
<rect x="381.00" y="24.30" width="1.05" height="9.10" fill="#eee0ea" />
<rect x="382.00" y="24.30" width="1.05" height="9.10" fill="#e4daea" />
<rect x="383.00" y="24.30" width="1.05" height="9.10" fill="#edd9e3" />
<rect x="384.00" y="24.30" width="1.05" height="9.10" fill="#dbd1e8" />
<rect x="385.00" y="24.30" width="1.05" height="9.10" fill="#d9d0e7" />
<rect x="386.00" y="24.30" width="1.05" height="9.10" fill="#9a181d" />
<rect x="387.00" y="24.30" width="1.05" height="9.10" fill="#9a181d" />
<rect x="388.00" y="24.30" width="1.05" height="9.10" fill="#97171c" />
<rect x="389.00" y="24.30" width="1.05" height="9.10" fill="#a01b20" />
<rect x="390.00" y="24.30" width="1.05" height="9.10" fill="#c86e6e" />
<rect x="391.00" y="24.30" width="1.05" height="9.10" fill="#921419" />
<rect x="392.00" y="24.30" width="1.05" height="9.10" fill="#a21d21" />
<rect x="393.00" y="24.30" width="1.05" height="9.10" fill="#9a191d" />
<rect x="394.00" y="24.30" width="1.05" height="9.10" fill="#840d13" />
<rect x="395.00" y="24.30" width="1.05" height="9.10" fill="#e4a5a5" />
<rect x="396.00" y="24.30" width="1.05" height="9.10" fill="#e4a5a5" />
<rect x="397.00" y="24.30" width="1.05" height="9.10" fill="#ce5a5a" />
<rect x="398.00" y="24.30" width="1.05" height="9.10" fill="#d46666" />
<rect x="399.00" y="24.30" width="1.05" height="9.10" fill="#dc7474" />
<rect x="400.00" y="24.30" width="1.05" height="9.10" fill="#c95252" />
<rect x="401.00" y="24.30" width="1.05" height="9.10" fill="#ac2429" />
<rect x="402.00" y="24.30" width="1.05" height="9.10" fill="#b92e33" />
<rect x="403.00" y="24.30" width="1.05" height="9.10" fill="#b62b30" />
<rect x="404.00" y="24.30" width="0.55" height="9.10" fill="#ae252a" />
<rect x="162.00" y="34.00" width="1.05" height="28.40" fill="#ebdfe8" />
<rect x="163.00" y="34.00" width="1.05" height="28.40" fill="#ebe1ea" />
<rect x="164.00" y="34.00" width="1.05" height="28.40" fill="#dcd9ee" />
<rect x="165.00" y="34.00" width="1.05" height="28.40" fill="#dbd8ed" />
<rect x="166.00" y="34.00" width="1.05" height="28.40" fill="#e8e5f1" />
<rect x="167.00" y="34.00" width="1.05" height="28.40" fill="#eadce5" />
<rect x="168.00" y="34.00" width="1.05" height="28.40" fill="#e9e5f1" />
<rect x="169.00" y="34.00" width="1.05" height="28.40" fill="#d8d6ed" />
<rect x="170.00" y="34.00" width="1.05" height="28.40" fill="#dcdaee" />
<rect x="171.00" y="34.00" width="1.05" height="28.40" fill="#e4e1f0" />
<rect x="172.00" y="34.00" width="1.05" height="28.40" fill="#ece5ef" />
<rect x="173.00" y="34.00" width="1.05" height="28.40" fill="#d9d7ed" />
<rect x="174.00" y="34.00" width="1.05" height="28.40" fill="#d6d4ec" />
<rect x="175.00" y="34.00" width="1.05" height="28.40" fill="#d7d5ec" />
<rect x="176.00" y="34.00" width="1.05" height="28.40" fill="#dbd9ee" />
<rect x="177.00" y="34.00" width="1.05" height="28.40" fill="#d2d0eb" />
<rect x="178.00" y="34.00" width="1.05" height="28.40" fill="#dad7ed" />
<rect x="179.00" y="34.00" width="1.05" height="28.40" fill="#dcdaee" />
<rect x="180.00" y="34.00" width="1.05" height="28.40" fill="#ebe7f2" />
<rect x="181.00" y="34.00" width="1.05" height="28.40" fill="#e4e1f0" />
<rect x="182.00" y="34.00" width="1.05" height="28.40" fill="#ece5ef" />
<rect x="183.00" y="34.00" width="1.05" height="28.40" fill="#dad7ed" />
<rect x="184.00" y="34.00" width="1.05" height="28.40" fill="#ece6f0" />
<rect x="185.00" y="34.00" width="1.05" height="28.40" fill="#e6e3f0" />
<rect x="186.00" y="34.00" width="1.05" height="28.40" fill="#e7e3f1" />
<rect x="187.00" y="34.00" width="1.05" height="28.40" fill="#ece8f2" />
<rect x="188.00" y="34.00" width="1.05" height="28.40" fill="#ebdde6" />
<rect x="189.00" y="34.00" width="1.05" height="28.40" fill="#e9e5f1" />
<rect x="190.00" y="34.00" width="1.05" height="28.40" fill="#eadbe5" />
<rect x="191.00" y="34.00" width="1.05" height="28.40" fill="#ead6df" />
<rect x="192.00" y="34.00" width="1.05" height="28.40" fill="#ead4dd" />
<rect x="193.00" y="34.00" width="1.05" height="28.40" fill="#ead4dd" />
<rect x="194.00" y="34.00" width="1.05" height="28.40" fill="#dfdcee" />
<rect x="195.00" y="34.00" width="1.05" height="28.40" fill="#ebe4ed" />
<rect x="196.00" y="34.00" width="1.05" height="28.40" fill="#e5e2f0" />
<rect x="197.00" y="34.00" width="1.05" height="28.40" fill="#ebdce6" />
<rect x="198.00" y="34.00" width="1.05" height="28.40" fill="#ece7f1" />
<rect x="199.00" y="34.00" width="1.05" height="28.40" fill="#ece5ef" />
<rect x="200.00" y="34.00" width="1.05" height="28.40" fill="#ebe2ec" />
<rect x="201.00" y="34.00" width="1.05" height="28.40" fill="#e6e3f0" />
<rect x="202.00" y="34.00" width="1.05" height="28.40" fill="#ece6f0" />
<rect x="203.00" y="34.00" width="1.05" height="28.40" fill="#e5e1f0" />
<rect x="204.00" y="34.00" width="1.05" height="28.40" fill="#e9cfd8" />
<rect x="205.00" y="34.00" width="1.05" height="28.40" fill="#e7e4f1" />
<rect x="206.00" y="34.00" width="1.05" height="28.40" fill="#ece7f1" />
<rect x="207.00" y="34.00" width="1.05" height="28.40" fill="#d9d7ed" />
<rect x="208.00" y="34.00" width="1.05" height="28.40" fill="#dddaee" />
<rect x="209.00" y="34.00" width="1.05" height="28.40" fill="#e3e0f0" />
<rect x="210.00" y="34.00" width="1.05" height="28.40" fill="#ebdee8" />
<rect x="211.00" y="34.00" width="1.05" height="28.40" fill="#ebdee8" />
<rect x="212.00" y="34.00" width="1.05" height="28.40" fill="#ece4ee" />
<rect x="213.00" y="34.00" width="1.05" height="28.40" fill="#e6e2f0" />
<rect x="214.00" y="34.00" width="1.05" height="28.40" fill="#e9d2da" />
<rect x="215.00" y="34.00" width="1.05" height="28.40" fill="#e1deef" />
<rect x="216.00" y="34.00" width="1.05" height="28.40" fill="#e3e0f0" />
<rect x="217.00" y="34.00" width="1.05" height="28.40" fill="#ebe2eb" />
<rect x="218.00" y="34.00" width="1.05" height="28.40" fill="#e2dfef" />
<rect x="219.00" y="34.00" width="1.05" height="28.40" fill="#ece4ee" />
<rect x="220.00" y="34.00" width="1.05" height="28.40" fill="#eadce5" />
<rect x="221.00" y="34.00" width="1.05" height="28.40" fill="#ece8f2" />
<rect x="222.00" y="34.00" width="1.05" height="28.40" fill="#ebe3ec" />
<rect x="223.00" y="34.00" width="1.05" height="28.40" fill="#ece7f1" />
<rect x="224.00" y="34.00" width="1.05" height="28.40" fill="#e5e2f0" />
<rect x="225.00" y="34.00" width="1.05" height="28.40" fill="#cac9e9" />
<rect x="226.00" y="34.00" width="1.05" height="28.40" fill="#dfdcef" />
<rect x="227.00" y="34.00" width="1.05" height="28.40" fill="#ece8f2" />
<rect x="228.00" y="34.00" width="1.05" height="28.40" fill="#dbd8ed" />
<rect x="229.00" y="34.00" width="1.05" height="28.40" fill="#e6e3f0" />
<rect x="230.00" y="34.00" width="1.05" height="28.40" fill="#ece5ef" />
<rect x="231.00" y="34.00" width="1.05" height="28.40" fill="#ead8e1" />
<rect x="232.00" y="34.00" width="1.05" height="28.40" fill="#dedbee" />
<rect x="233.00" y="34.00" width="1.05" height="28.40" fill="#e7e3f1" />
<rect x="234.00" y="34.00" width="1.05" height="28.40" fill="#ece5ef" />
<rect x="235.00" y="34.00" width="1.05" height="28.40" fill="#ebe1eb" />
<rect x="236.00" y="34.00" width="1.05" height="28.40" fill="#dedbee" />
<rect x="237.00" y="34.00" width="1.05" height="28.40" fill="#e9d2da" />
<rect x="238.00" y="34.00" width="1.05" height="28.40" fill="#e4e0f0" />
<rect x="239.00" y="34.00" width="1.05" height="28.40" fill="#eadbe4" />
<rect x="240.00" y="34.00" width="1.05" height="28.40" fill="#eae6f2" />
<rect x="241.00" y="34.00" width="1.05" height="28.40" fill="#ebe3ec" />
<rect x="242.00" y="34.00" width="1.05" height="28.40" fill="#e9d4dd" />
<rect x="243.00" y="34.00" width="1.05" height="28.40" fill="#ebdfe9" />
<rect x="244.00" y="34.00" width="1.05" height="28.40" fill="#ece6f0" />
<rect x="245.00" y="34.00" width="1.05" height="28.40" fill="#e2dfef" />
<rect x="246.00" y="34.00" width="1.05" height="28.40" fill="#e5e2f0" />
<rect x="247.00" y="34.00" width="1.05" height="28.40" fill="#dddaee" />
<rect x="248.00" y="34.00" width="1.05" height="28.40" fill="#e9d0d8" />
<rect x="249.00" y="34.00" width="1.05" height="28.40" fill="#dcd9ee" />
<rect x="250.00" y="34.00" width="1.05" height="28.40" fill="#d1cfeb" />
<rect x="251.00" y="34.00" width="1.05" height="28.40" fill="#e9d4dd" />
<rect x="252.00" y="34.00" width="1.05" height="28.40" fill="#ead8e1" />
<rect x="253.00" y="34.00" width="1.05" height="28.40" fill="#e8e5f1" />
<rect x="254.00" y="34.00" width="1.05" height="28.40" fill="#ebdee7" />
<rect x="255.00" y="34.00" width="1.05" height="28.40" fill="#e3e0f0" />
<rect x="256.00" y="34.00" width="1.05" height="28.40" fill="#e6e3f0" />
<rect x="257.00" y="34.00" width="1.05" height="28.40" fill="#ebe2eb" />
<rect x="258.00" y="34.00" width="1.05" height="28.40" fill="#ebe3ed" />
<rect x="259.00" y="34.00" width="1.05" height="28.40" fill="#e7e4f1" />
<rect x="260.00" y="34.00" width="1.05" height="28.40" fill="#e9d4dd" />
<rect x="261.00" y="34.00" width="1.05" height="28.40" fill="#ebdfe8" />
<rect x="262.00" y="34.00" width="1.05" height="28.40" fill="#ece6f0" />
<rect x="263.00" y="34.00" width="1.05" height="28.40" fill="#e0ddef" />
<rect x="264.00" y="34.00" width="1.05" height="28.40" fill="#ece6f0" />
<rect x="265.00" y="34.00" width="1.05" height="28.40" fill="#e9e5f1" />
<rect x="266.00" y="34.00" width="1.05" height="28.40" fill="#ece8f2" />
<rect x="267.00" y="34.00" width="1.05" height="28.40" fill="#ebdee7" />
<rect x="268.00" y="34.00" width="1.05" height="28.40" fill="#e6e3f0" />
<rect x="269.00" y="34.00" width="1.05" height="28.40" fill="#ece4ee" />
<rect x="270.00" y="34.00" width="1.05" height="28.40" fill="#ebdee8" />
<rect x="271.00" y="34.00" width="1.05" height="28.40" fill="#ebe3ed" />
<rect x="272.00" y="34.00" width="1.05" height="28.40" fill="#e8ccd5" />
<rect x="273.00" y="34.00" width="1.05" height="28.40" fill="#d9d7ed" />
<rect x="274.00" y="34.00" width="1.05" height="28.40" fill="#ece8f2" />
<rect x="275.00" y="34.00" width="1.05" height="28.40" fill="#e0ddef" />
<rect x="276.00" y="34.00" width="1.05" height="28.40" fill="#ece8f2" />
<rect x="277.00" y="34.00" width="1.05" height="28.40" fill="#e8cad2" />
<rect x="278.00" y="34.00" width="1.05" height="28.40" fill="#dbd8ed" />
<rect x="279.00" y="34.00" width="1.05" height="28.40" fill="#e9e5f1" />
<rect x="280.00" y="34.00" width="1.05" height="28.40" fill="#ebe0e9" />
<rect x="281.00" y="34.00" width="1.05" height="28.40" fill="#ece7f0" />
<rect x="282.00" y="34.00" width="1.05" height="28.40" fill="#ebdde6" />
<rect x="283.00" y="34.00" width="1.05" height="28.40" fill="#dbd9ee" />
<rect x="284.00" y="34.00" width="1.05" height="28.40" fill="#eadce5" />
<rect x="285.00" y="34.00" width="1.05" height="28.40" fill="#e2dfef" />
<rect x="286.00" y="34.00" width="1.05" height="28.40" fill="#dfdcef" />
<rect x="287.00" y="34.00" width="1.05" height="28.40" fill="#ebe1ea" />
<rect x="288.00" y="34.00" width="1.05" height="28.40" fill="#ebe2ec" />
<rect x="289.00" y="34.00" width="1.05" height="28.40" fill="#e4e1f0" />
<rect x="290.00" y="34.00" width="1.05" height="28.40" fill="#e3e0f0" />
<rect x="291.00" y="34.00" width="1.05" height="28.40" fill="#eae6f1" />
<rect x="292.00" y="34.00" width="1.05" height="28.40" fill="#ece8f2" />
<rect x="293.00" y="34.00" width="1.05" height="28.40" fill="#eae7f2" />
<rect x="294.00" y="34.00" width="1.05" height="28.40" fill="#e1deef" />
<rect x="295.00" y="34.00" width="1.05" height="28.40" fill="#d3d1eb" />
<rect x="296.00" y="34.00" width="1.05" height="28.40" fill="#ead8e1" />
<rect x="297.00" y="34.00" width="1.05" height="28.40" fill="#ece6ef" />
<rect x="298.00" y="34.00" width="1.05" height="28.40" fill="#dfdcee" />
<rect x="299.00" y="34.00" width="1.05" height="28.40" fill="#dbd9ed" />
<rect x="300.00" y="34.00" width="1.05" height="28.40" fill="#e5e1f0" />
<rect x="301.00" y="34.00" width="1.05" height="28.40" fill="#e8e4f1" />
<rect x="302.00" y="34.00" width="1.05" height="28.40" fill="#d5d3ec" />
<rect x="303.00" y="34.00" width="1.05" height="28.40" fill="#ead7e0" />
<rect x="304.00" y="34.00" width="1.05" height="28.40" fill="#ebe3ec" />
<rect x="305.00" y="34.00" width="1.05" height="28.40" fill="#e9e5f1" />
<rect x="306.00" y="34.00" width="1.05" height="28.40" fill="#ebe4ed" />
<rect x="307.00" y="34.00" width="1.05" height="28.40" fill="#ece5ef" />
<rect x="308.00" y="34.00" width="1.05" height="28.40" fill="#eadbe4" />
<rect x="309.00" y="34.00" width="1.05" height="28.40" fill="#ece6f0" />
<rect x="310.00" y="34.00" width="1.05" height="28.40" fill="#ead9e2" />
<rect x="311.00" y="34.00" width="1.05" height="28.40" fill="#ead5de" />
<rect x="312.00" y="34.00" width="1.05" height="28.40" fill="#e9e5f1" />
<rect x="313.00" y="34.00" width="1.05" height="28.40" fill="#e7e4f1" />
<rect x="314.00" y="34.00" width="1.05" height="28.40" fill="#e3dfef" />
<rect x="315.00" y="34.00" width="1.05" height="28.40" fill="#eae6f1" />
<rect x="316.00" y="34.00" width="1.05" height="28.40" fill="#e4e1f0" />
<rect x="317.00" y="34.00" width="1.05" height="28.40" fill="#ece8f2" />
<rect x="318.00" y="34.00" width="1.05" height="28.40" fill="#ece4ee" />
<rect x="319.00" y="34.00" width="1.05" height="28.40" fill="#e5aeb4" />
<rect x="320.00" y="34.00" width="1.05" height="28.40" fill="#e7c2ca" />
<rect x="321.00" y="34.00" width="1.05" height="28.40" fill="#e4a7ad" />
<rect x="322.00" y="34.00" width="1.05" height="28.40" fill="#e6b8bf" />
<rect x="323.00" y="34.00" width="1.05" height="28.40" fill="#e6b6bd" />
<rect x="324.00" y="34.00" width="1.05" height="28.40" fill="#e6bac2" />
<rect x="325.00" y="34.00" width="1.05" height="28.40" fill="#e8ccd5" />
<rect x="326.00" y="34.00" width="1.05" height="28.40" fill="#e5b1b8" />
<rect x="327.00" y="34.00" width="1.05" height="28.40" fill="#e8c9d2" />
<rect x="328.00" y="34.00" width="1.05" height="28.40" fill="#e4a7ad" />
<rect x="329.00" y="34.00" width="1.05" height="28.40" fill="#ece7f1" />
<rect x="330.00" y="34.00" width="1.05" height="28.40" fill="#ead5de" />
<rect x="331.00" y="34.00" width="1.05" height="28.40" fill="#ebe0ea" />
<rect x="332.00" y="34.00" width="1.05" height="28.40" fill="#ebdfe9" />
<rect x="333.00" y="34.00" width="1.05" height="28.40" fill="#ead7e0" />
<rect x="334.00" y="34.00" width="1.05" height="28.40" fill="#ece8f2" />
<rect x="335.00" y="34.00" width="1.05" height="28.40" fill="#ead5de" />
<rect x="336.00" y="34.00" width="1.05" height="28.40" fill="#ebe7f2" />
<rect x="337.00" y="34.00" width="1.05" height="28.40" fill="#ece5ef" />
<rect x="338.00" y="34.00" width="1.05" height="28.40" fill="#e5e1f0" />
<rect x="339.00" y="34.00" width="1.05" height="28.40" fill="#ebe1eb" />
<rect x="340.00" y="34.00" width="1.05" height="28.40" fill="#ebe0e9" />
<rect x="341.00" y="34.00" width="1.05" height="28.40" fill="#e7e3f1" />
<rect x="342.00" y="34.00" width="1.05" height="28.40" fill="#dedbee" />
<rect x="343.00" y="34.00" width="1.05" height="28.40" fill="#ece8f2" />
<rect x="344.00" y="34.00" width="1.05" height="28.40" fill="#ebe3ed" />
<rect x="345.00" y="34.00" width="1.05" height="28.40" fill="#eae7f2" />
<rect x="346.00" y="34.00" width="1.05" height="28.40" fill="#e2deef" />
<rect x="347.00" y="34.00" width="1.05" height="28.40" fill="#e4e1f0" />
<rect x="348.00" y="34.00" width="1.05" height="28.40" fill="#e9e5f1" />
<rect x="349.00" y="34.00" width="1.05" height="28.40" fill="#d0ceea" />
<rect x="350.00" y="34.00" width="1.05" height="28.40" fill="#e6e2f0" />
<rect x="351.00" y="34.00" width="1.05" height="28.40" fill="#ead7e0" />
<rect x="352.00" y="34.00" width="1.05" height="28.40" fill="#dedbee" />
<rect x="353.00" y="34.00" width="1.05" height="28.40" fill="#eae6f1" />
<rect x="354.00" y="34.00" width="1.05" height="28.40" fill="#e9d4dc" />
<rect x="355.00" y="34.00" width="1.05" height="28.40" fill="#ebdfe9" />
<rect x="356.00" y="34.00" width="1.05" height="28.40" fill="#ebdde6" />
<rect x="357.00" y="34.00" width="1.05" height="28.40" fill="#ebe7f2" />
<rect x="358.00" y="34.00" width="1.05" height="28.40" fill="#dedbee" />
<rect x="359.00" y="34.00" width="1.05" height="28.40" fill="#e8c5cd" />
<rect x="360.00" y="34.00" width="1.05" height="28.40" fill="#ece4ee" />
<rect x="361.00" y="34.00" width="1.05" height="28.40" fill="#ece5ef" />
<rect x="362.00" y="34.00" width="1.05" height="28.40" fill="#e9d4dd" />
<rect x="363.00" y="34.00" width="1.05" height="28.40" fill="#ebdee8" />
<rect x="364.00" y="34.00" width="1.05" height="28.40" fill="#ece7f1" />
<rect x="365.00" y="34.00" width="1.05" height="28.40" fill="#e0ddef" />
<rect x="366.00" y="34.00" width="1.05" height="28.40" fill="#eae7f2" />
<rect x="367.00" y="34.00" width="1.05" height="28.40" fill="#eae7f2" />
<rect x="368.00" y="34.00" width="1.05" height="28.40" fill="#e5e1f0" />
<rect x="369.00" y="34.00" width="1.05" height="28.40" fill="#e3e0ef" />
<rect x="370.00" y="34.00" width="1.05" height="28.40" fill="#e1deef" />
<rect x="371.00" y="34.00" width="1.05" height="28.40" fill="#ebe7f2" />
<rect x="372.00" y="34.00" width="1.05" height="28.40" fill="#e6e2f0" />
<rect x="373.00" y="34.00" width="1.05" height="28.40" fill="#ebe3ed" />
<rect x="374.00" y="34.00" width="1.05" height="28.40" fill="#eadce5" />
<rect x="375.00" y="34.00" width="1.05" height="28.40" fill="#ece4ee" />
<rect x="376.00" y="34.00" width="1.05" height="28.40" fill="#ece8f2" />
<rect x="377.00" y="34.00" width="1.05" height="28.40" fill="#ead5de" />
<rect x="378.00" y="34.00" width="1.05" height="28.40" fill="#ebe0ea" />
<rect x="379.00" y="34.00" width="1.05" height="28.40" fill="#dcd9ee" />
<rect x="380.00" y="34.00" width="1.05" height="28.40" fill="#e4e1f0" />
<rect x="381.00" y="34.00" width="1.05" height="28.40" fill="#ece6ef" />
<rect x="382.00" y="34.00" width="1.05" height="28.40" fill="#e3dfef" />
<rect x="383.00" y="34.00" width="1.05" height="28.40" fill="#ebdfe8" />
<rect x="384.00" y="34.00" width="1.05" height="28.40" fill="#d9d7ed" />
<rect x="385.00" y="34.00" width="1.05" height="28.40" fill="#d7d5ec" />
<rect x="386.00" y="34.00" width="1.05" height="28.40" fill="#8d1217" />
<rect x="387.00" y="34.00" width="1.05" height="28.40" fill="#9c191e" />
<rect x="388.00" y="34.00" width="1.05" height="28.40" fill="#840d13" />
<rect x="389.00" y="34.00" width="1.05" height="28.40" fill="#9a181d" />
<rect x="390.00" y="34.00" width="1.05" height="28.40" fill="#c86e6e" />
<rect x="391.00" y="34.00" width="1.05" height="28.40" fill="#9c191e" />
<rect x="392.00" y="34.00" width="1.05" height="28.40" fill="#870f14" />
<rect x="393.00" y="34.00" width="1.05" height="28.40" fill="#a01b20" />
<rect x="394.00" y="34.00" width="1.05" height="28.40" fill="#8d1217" />
<rect x="395.00" y="34.00" width="1.05" height="28.40" fill="#e4a5a5" />
<rect x="396.00" y="34.00" width="1.05" height="28.40" fill="#e4a5a5" />
<rect x="397.00" y="34.00" width="1.05" height="28.40" fill="#da7070" />
<rect x="398.00" y="34.00" width="1.05" height="28.40" fill="#d16060" />
<rect x="399.00" y="34.00" width="1.05" height="28.40" fill="#d86d6d" />
<rect x="400.00" y="34.00" width="1.05" height="28.40" fill="#d66969" />
<rect x="401.00" y="34.00" width="1.05" height="28.40" fill="#a61f24" />
<rect x="402.00" y="34.00" width="1.05" height="28.40" fill="#b2292e" />
<rect x="403.00" y="34.00" width="1.05" height="28.40" fill="#b3292e" />
<rect x="404.00" y="34.00" width="0.55" height="28.40" fill="#af262b" />
<rect x="162.00" y="62.00" width="1.05" height="26.90" fill="#ebdfe8" />
<rect x="163.00" y="62.00" width="1.05" height="26.90" fill="#ebe1ea" />
<rect x="164.00" y="62.00" width="1.05" height="26.90" fill="#dcd9ee" />
<rect x="165.00" y="62.00" width="1.05" height="26.90" fill="#dbd8ed" />
<rect x="166.00" y="62.00" width="1.05" height="26.90" fill="#e8e5f1" />
<rect x="167.00" y="62.00" width="1.05" height="26.90" fill="#eadce5" />
<rect x="168.00" y="62.00" width="1.05" height="26.90" fill="#e9e5f1" />
<rect x="169.00" y="62.00" width="1.05" height="26.90" fill="#d8d6ed" />
<rect x="170.00" y="62.00" width="1.05" height="26.90" fill="#dcdaee" />
<rect x="171.00" y="62.00" width="1.05" height="26.90" fill="#e4e1f0" />
<rect x="172.00" y="62.00" width="1.05" height="26.90" fill="#ece5ef" />
<rect x="173.00" y="62.00" width="1.05" height="26.90" fill="#d9d7ed" />
<rect x="174.00" y="62.00" width="1.05" height="26.90" fill="#d6d4ec" />
<rect x="175.00" y="62.00" width="1.05" height="26.90" fill="#d7d5ec" />
<rect x="176.00" y="62.00" width="1.05" height="26.90" fill="#dbd9ee" />
<rect x="177.00" y="62.00" width="1.05" height="26.90" fill="#d2d0eb" />
<rect x="178.00" y="62.00" width="1.05" height="26.90" fill="#dad7ed" />
<rect x="179.00" y="62.00" width="1.05" height="26.90" fill="#dcdaee" />
<rect x="180.00" y="62.00" width="1.05" height="26.90" fill="#ebe7f2" />
<rect x="181.00" y="62.00" width="1.05" height="26.90" fill="#e4e1f0" />
<rect x="182.00" y="62.00" width="1.05" height="26.90" fill="#ece5ef" />
<rect x="183.00" y="62.00" width="1.05" height="26.90" fill="#dad7ed" />
<rect x="184.00" y="62.00" width="1.05" height="26.90" fill="#ece6f0" />
<rect x="185.00" y="62.00" width="1.05" height="26.90" fill="#e6e3f0" />
<rect x="186.00" y="62.00" width="1.05" height="26.90" fill="#e7e3f1" />
<rect x="187.00" y="62.00" width="1.05" height="26.90" fill="#ece8f2" />
<rect x="188.00" y="62.00" width="1.05" height="26.90" fill="#ebdde6" />
<rect x="189.00" y="62.00" width="1.05" height="26.90" fill="#e9e5f1" />
<rect x="190.00" y="62.00" width="1.05" height="26.90" fill="#eadbe5" />
<rect x="191.00" y="62.00" width="1.05" height="26.90" fill="#ead6df" />
<rect x="192.00" y="62.00" width="1.05" height="26.90" fill="#ead4dd" />
<rect x="193.00" y="62.00" width="1.05" height="26.90" fill="#ead4dd" />
<rect x="194.00" y="62.00" width="1.05" height="26.90" fill="#dfdcee" />
<rect x="195.00" y="62.00" width="1.05" height="26.90" fill="#ebe4ed" />
<rect x="196.00" y="62.00" width="1.05" height="26.90" fill="#e5e2f0" />
<rect x="197.00" y="62.00" width="1.05" height="26.90" fill="#ebdce6" />
<rect x="198.00" y="62.00" width="1.05" height="26.90" fill="#ece7f1" />
<rect x="199.00" y="62.00" width="1.05" height="26.90" fill="#ece5ef" />
<rect x="200.00" y="62.00" width="1.05" height="26.90" fill="#ebe2ec" />
<rect x="201.00" y="62.00" width="1.05" height="26.90" fill="#e6e3f0" />
<rect x="202.00" y="62.00" width="1.05" height="26.90" fill="#ece6f0" />
<rect x="203.00" y="62.00" width="1.05" height="26.90" fill="#e5e1f0" />
<rect x="204.00" y="62.00" width="1.05" height="26.90" fill="#e9cfd8" />
<rect x="205.00" y="62.00" width="1.05" height="26.90" fill="#e7e4f1" />
<rect x="206.00" y="62.00" width="1.05" height="26.90" fill="#ece7f1" />
<rect x="207.00" y="62.00" width="1.05" height="26.90" fill="#d9d7ed" />
<rect x="208.00" y="62.00" width="1.05" height="26.90" fill="#dddaee" />
<rect x="209.00" y="62.00" width="1.05" height="26.90" fill="#e3e0f0" />
<rect x="210.00" y="62.00" width="1.05" height="26.90" fill="#ebdee8" />
<rect x="211.00" y="62.00" width="1.05" height="26.90" fill="#ebdee8" />
<rect x="212.00" y="62.00" width="1.05" height="26.90" fill="#ece4ee" />
<rect x="213.00" y="62.00" width="1.05" height="26.90" fill="#e6e2f0" />
<rect x="214.00" y="62.00" width="1.05" height="26.90" fill="#e9d2da" />
<rect x="215.00" y="62.00" width="1.05" height="26.90" fill="#e1deef" />
<rect x="216.00" y="62.00" width="1.05" height="26.90" fill="#e3e0f0" />
<rect x="217.00" y="62.00" width="1.05" height="26.90" fill="#ebe2eb" />
<rect x="218.00" y="62.00" width="1.05" height="26.90" fill="#e2dfef" />
<rect x="219.00" y="62.00" width="1.05" height="26.90" fill="#ece4ee" />
<rect x="220.00" y="62.00" width="1.05" height="26.90" fill="#eadce5" />
<rect x="221.00" y="62.00" width="1.05" height="26.90" fill="#ece8f2" />
<rect x="222.00" y="62.00" width="1.05" height="26.90" fill="#ebe3ec" />
<rect x="223.00" y="62.00" width="1.05" height="26.90" fill="#ece7f1" />
<rect x="224.00" y="62.00" width="1.05" height="26.90" fill="#e5e2f0" />
<rect x="225.00" y="62.00" width="1.05" height="26.90" fill="#cac9e9" />
<rect x="226.00" y="62.00" width="1.05" height="26.90" fill="#dfdcef" />
<rect x="227.00" y="62.00" width="1.05" height="26.90" fill="#ece8f2" />
<rect x="228.00" y="62.00" width="1.05" height="26.90" fill="#dbd8ed" />
<rect x="229.00" y="62.00" width="1.05" height="26.90" fill="#e6e3f0" />
<rect x="230.00" y="62.00" width="1.05" height="26.90" fill="#ece5ef" />
<rect x="231.00" y="62.00" width="1.05" height="26.90" fill="#ead8e1" />
<rect x="232.00" y="62.00" width="1.05" height="26.90" fill="#dedbee" />
<rect x="233.00" y="62.00" width="1.05" height="26.90" fill="#e7e3f1" />
<rect x="234.00" y="62.00" width="1.05" height="26.90" fill="#ece5ef" />
<rect x="235.00" y="62.00" width="1.05" height="26.90" fill="#ebe1eb" />
<rect x="236.00" y="62.00" width="1.05" height="26.90" fill="#dedbee" />
<rect x="237.00" y="62.00" width="1.05" height="26.90" fill="#e9d2da" />
<rect x="238.00" y="62.00" width="1.05" height="26.90" fill="#e4e0f0" />
<rect x="239.00" y="62.00" width="1.05" height="26.90" fill="#eadbe4" />
<rect x="240.00" y="62.00" width="1.05" height="26.90" fill="#eae6f2" />
<rect x="241.00" y="62.00" width="1.05" height="26.90" fill="#ebe3ec" />
<rect x="242.00" y="62.00" width="1.05" height="26.90" fill="#e9d4dd" />
<rect x="243.00" y="62.00" width="1.05" height="26.90" fill="#ebdfe9" />
<rect x="244.00" y="62.00" width="1.05" height="26.90" fill="#ece6f0" />
<rect x="245.00" y="62.00" width="1.05" height="26.90" fill="#e2dfef" />
<rect x="246.00" y="62.00" width="1.05" height="26.90" fill="#e5e2f0" />
<rect x="247.00" y="62.00" width="1.05" height="26.90" fill="#dddaee" />
<rect x="248.00" y="62.00" width="1.05" height="26.90" fill="#e9d0d8" />
<rect x="249.00" y="62.00" width="1.05" height="26.90" fill="#dcd9ee" />
<rect x="250.00" y="62.00" width="1.05" height="26.90" fill="#d1cfeb" />
<rect x="251.00" y="62.00" width="1.05" height="26.90" fill="#e9d4dd" />
<rect x="252.00" y="62.00" width="1.05" height="26.90" fill="#ead8e1" />
<rect x="253.00" y="62.00" width="1.05" height="26.90" fill="#e8e5f1" />
<rect x="254.00" y="62.00" width="1.05" height="26.90" fill="#ebdee7" />
<rect x="255.00" y="62.00" width="1.05" height="26.90" fill="#e3e0f0" />
<rect x="256.00" y="62.00" width="1.05" height="26.90" fill="#e6e3f0" />
<rect x="257.00" y="62.00" width="1.05" height="26.90" fill="#ebe2eb" />
<rect x="258.00" y="62.00" width="1.05" height="26.90" fill="#ebe3ed" />
<rect x="259.00" y="62.00" width="1.05" height="26.90" fill="#e7e4f1" />
<rect x="260.00" y="62.00" width="1.05" height="26.90" fill="#e9d4dd" />
<rect x="261.00" y="62.00" width="1.05" height="26.90" fill="#ebdfe8" />
<rect x="262.00" y="62.00" width="1.05" height="26.90" fill="#ece6f0" />
<rect x="263.00" y="62.00" width="1.05" height="26.90" fill="#e0ddef" />
<rect x="264.00" y="62.00" width="1.05" height="26.90" fill="#ece6f0" />
<rect x="265.00" y="62.00" width="1.05" height="26.90" fill="#e9e5f1" />
<rect x="266.00" y="62.00" width="1.05" height="26.90" fill="#ece8f2" />
<rect x="267.00" y="62.00" width="1.05" height="26.90" fill="#ebdee7" />
<rect x="268.00" y="62.00" width="1.05" height="26.90" fill="#e6e3f0" />
<rect x="269.00" y="62.00" width="1.05" height="26.90" fill="#ece4ee" />
<rect x="270.00" y="62.00" width="1.05" height="26.90" fill="#ebdee8" />
<rect x="271.00" y="62.00" width="1.05" height="26.90" fill="#ebe3ed" />
<rect x="272.00" y="62.00" width="1.05" height="26.90" fill="#e8ccd5" />
<rect x="273.00" y="62.00" width="1.05" height="26.90" fill="#d9d7ed" />
<rect x="274.00" y="62.00" width="1.05" height="26.90" fill="#ece8f2" />
<rect x="275.00" y="62.00" width="1.05" height="26.90" fill="#e0ddef" />
<rect x="276.00" y="62.00" width="1.05" height="26.90" fill="#ece8f2" />
<rect x="277.00" y="62.00" width="1.05" height="26.90" fill="#e8cad2" />
<rect x="278.00" y="62.00" width="1.05" height="26.90" fill="#dbd8ed" />
<rect x="279.00" y="62.00" width="1.05" height="26.90" fill="#e9e5f1" />
<rect x="280.00" y="62.00" width="1.05" height="26.90" fill="#ebe0e9" />
<rect x="281.00" y="62.00" width="1.05" height="26.90" fill="#ece7f0" />
<rect x="282.00" y="62.00" width="1.05" height="26.90" fill="#ebdde6" />
<rect x="283.00" y="62.00" width="1.05" height="26.90" fill="#dbd9ee" />
<rect x="284.00" y="62.00" width="1.05" height="26.90" fill="#eadce5" />
<rect x="285.00" y="62.00" width="1.05" height="26.90" fill="#e2dfef" />
<rect x="286.00" y="62.00" width="1.05" height="26.90" fill="#dfdcef" />
<rect x="287.00" y="62.00" width="1.05" height="26.90" fill="#ebe1ea" />
<rect x="288.00" y="62.00" width="1.05" height="26.90" fill="#ebe2ec" />
<rect x="289.00" y="62.00" width="1.05" height="26.90" fill="#e4e1f0" />
<rect x="290.00" y="62.00" width="1.05" height="26.90" fill="#e3e0f0" />
<rect x="291.00" y="62.00" width="1.05" height="26.90" fill="#eae6f1" />
<rect x="292.00" y="62.00" width="1.05" height="26.90" fill="#ece8f2" />
<rect x="293.00" y="62.00" width="1.05" height="26.90" fill="#eae7f2" />
<rect x="294.00" y="62.00" width="1.05" height="26.90" fill="#e1deef" />
<rect x="295.00" y="62.00" width="1.05" height="26.90" fill="#d3d1eb" />
<rect x="296.00" y="62.00" width="1.05" height="26.90" fill="#ead8e1" />
<rect x="297.00" y="62.00" width="1.05" height="26.90" fill="#ece6ef" />
<rect x="298.00" y="62.00" width="1.05" height="26.90" fill="#dfdcee" />
<rect x="299.00" y="62.00" width="1.05" height="26.90" fill="#dbd9ed" />
<rect x="300.00" y="62.00" width="1.05" height="26.90" fill="#e5e1f0" />
<rect x="301.00" y="62.00" width="1.05" height="26.90" fill="#e8e4f1" />
<rect x="302.00" y="62.00" width="1.05" height="26.90" fill="#d5d3ec" />
<rect x="303.00" y="62.00" width="1.05" height="26.90" fill="#ead7e0" />
<rect x="304.00" y="62.00" width="1.05" height="26.90" fill="#ebe3ec" />
<rect x="305.00" y="62.00" width="1.05" height="26.90" fill="#e9e5f1" />
<rect x="306.00" y="62.00" width="1.05" height="26.90" fill="#ebe4ed" />
<rect x="307.00" y="62.00" width="1.05" height="26.90" fill="#ece5ef" />
<rect x="308.00" y="62.00" width="1.05" height="26.90" fill="#eadbe4" />
<rect x="309.00" y="62.00" width="1.05" height="26.90" fill="#ece6f0" />
<rect x="310.00" y="62.00" width="1.05" height="26.90" fill="#ead9e2" />
<rect x="311.00" y="62.00" width="1.05" height="26.90" fill="#ead5de" />
<rect x="312.00" y="62.00" width="1.05" height="26.90" fill="#e9e5f1" />
<rect x="313.00" y="62.00" width="1.05" height="26.90" fill="#e7e4f1" />
<rect x="314.00" y="62.00" width="1.05" height="26.90" fill="#e3dfef" />
<rect x="315.00" y="62.00" width="1.05" height="26.90" fill="#eae6f1" />
<rect x="316.00" y="62.00" width="1.05" height="26.90" fill="#e4e1f0" />
<rect x="317.00" y="62.00" width="1.05" height="26.90" fill="#ece8f2" />
<rect x="318.00" y="62.00" width="1.05" height="26.90" fill="#ece4ee" />
<rect x="319.00" y="62.00" width="1.05" height="26.90" fill="#e4aab1" />
<rect x="320.00" y="62.00" width="1.05" height="26.90" fill="#e7bfc6" />
<rect x="321.00" y="62.00" width="1.05" height="26.90" fill="#e3a4aa" />
<rect x="322.00" y="62.00" width="1.05" height="26.90" fill="#e5b4bb" />
<rect x="323.00" y="62.00" width="1.05" height="26.90" fill="#e5b2b9" />
<rect x="324.00" y="62.00" width="1.05" height="26.90" fill="#e6b7be" />
<rect x="325.00" y="62.00" width="1.05" height="26.90" fill="#e8c9d1" />
<rect x="326.00" y="62.00" width="1.05" height="26.90" fill="#e5aeb4" />
<rect x="327.00" y="62.00" width="1.05" height="26.90" fill="#e8c6ce" />
<rect x="328.00" y="62.00" width="1.05" height="26.90" fill="#e3a4aa" />
<rect x="329.00" y="62.00" width="1.05" height="26.90" fill="#ece7f1" />
<rect x="330.00" y="62.00" width="1.05" height="26.90" fill="#ead5de" />
<rect x="331.00" y="62.00" width="1.05" height="26.90" fill="#ebe0ea" />
<rect x="332.00" y="62.00" width="1.05" height="26.90" fill="#ebdfe9" />
<rect x="333.00" y="62.00" width="1.05" height="26.90" fill="#ead7e0" />
<rect x="334.00" y="62.00" width="1.05" height="26.90" fill="#ece8f2" />
<rect x="335.00" y="62.00" width="1.05" height="26.90" fill="#ead5de" />
<rect x="336.00" y="62.00" width="1.05" height="26.90" fill="#ebe7f2" />
<rect x="337.00" y="62.00" width="1.05" height="26.90" fill="#ece5ef" />
<rect x="338.00" y="62.00" width="1.05" height="26.90" fill="#e5e1f0" />
<rect x="339.00" y="62.00" width="1.05" height="26.90" fill="#ebe1eb" />
<rect x="340.00" y="62.00" width="1.05" height="26.90" fill="#ebe0e9" />
<rect x="341.00" y="62.00" width="1.05" height="26.90" fill="#e7e3f1" />
<rect x="342.00" y="62.00" width="1.05" height="26.90" fill="#dedbee" />
<rect x="343.00" y="62.00" width="1.05" height="26.90" fill="#ece8f2" />
<rect x="344.00" y="62.00" width="1.05" height="26.90" fill="#ebe3ed" />
<rect x="345.00" y="62.00" width="1.05" height="26.90" fill="#eae7f2" />
<rect x="346.00" y="62.00" width="1.05" height="26.90" fill="#e2deef" />
<rect x="347.00" y="62.00" width="1.05" height="26.90" fill="#e4e1f0" />
<rect x="348.00" y="62.00" width="1.05" height="26.90" fill="#e9e5f1" />
<rect x="349.00" y="62.00" width="1.05" height="26.90" fill="#d0ceea" />
<rect x="350.00" y="62.00" width="1.05" height="26.90" fill="#e6e2f0" />
<rect x="351.00" y="62.00" width="1.05" height="26.90" fill="#ead7e0" />
<rect x="352.00" y="62.00" width="1.05" height="26.90" fill="#dedbee" />
<rect x="353.00" y="62.00" width="1.05" height="26.90" fill="#eae6f1" />
<rect x="354.00" y="62.00" width="1.05" height="26.90" fill="#e9d4dc" />
<rect x="355.00" y="62.00" width="1.05" height="26.90" fill="#ebdfe9" />
<rect x="356.00" y="62.00" width="1.05" height="26.90" fill="#ebdde6" />
<rect x="357.00" y="62.00" width="1.05" height="26.90" fill="#ebe7f2" />
<rect x="358.00" y="62.00" width="1.05" height="26.90" fill="#dedbee" />
<rect x="359.00" y="62.00" width="1.05" height="26.90" fill="#e8c5cd" />
<rect x="360.00" y="62.00" width="1.05" height="26.90" fill="#ece4ee" />
<rect x="361.00" y="62.00" width="1.05" height="26.90" fill="#ece5ef" />
<rect x="362.00" y="62.00" width="1.05" height="26.90" fill="#e9d4dd" />
<rect x="363.00" y="62.00" width="1.05" height="26.90" fill="#ebdee8" />
<rect x="364.00" y="62.00" width="1.05" height="26.90" fill="#ece7f1" />
<rect x="365.00" y="62.00" width="1.05" height="26.90" fill="#d4d2eb" />
<rect x="366.00" y="62.00" width="1.05" height="26.90" fill="#dedbee" />
<rect x="367.00" y="62.00" width="1.05" height="26.90" fill="#dedbee" />
<rect x="368.00" y="62.00" width="1.05" height="26.90" fill="#d8d6ed" />
<rect x="369.00" y="62.00" width="1.05" height="26.90" fill="#d6d4ec" />
<rect x="370.00" y="62.00" width="1.05" height="26.90" fill="#d5d3ec" />
<rect x="371.00" y="62.00" width="1.05" height="26.90" fill="#dedcee" />
<rect x="372.00" y="62.00" width="1.05" height="26.90" fill="#d9d7ed" />
<rect x="373.00" y="62.00" width="1.05" height="26.90" fill="#e4e1f0" />
<rect x="374.00" y="62.00" width="1.05" height="26.90" fill="#ebe7f2" />
<rect x="375.00" y="62.00" width="1.05" height="26.90" fill="#e3e0f0" />
<rect x="376.00" y="62.00" width="1.05" height="26.90" fill="#e0ddef" />
<rect x="377.00" y="62.00" width="1.05" height="26.90" fill="#ebe3ed" />
<rect x="378.00" y="62.00" width="1.05" height="26.90" fill="#e7e3f1" />
<rect x="379.00" y="62.00" width="1.05" height="26.90" fill="#d0ceea" />
<rect x="380.00" y="62.00" width="1.05" height="26.90" fill="#e4e1f0" />
<rect x="381.00" y="62.00" width="1.05" height="26.90" fill="#ece6ef" />
<rect x="382.00" y="62.00" width="1.05" height="26.90" fill="#e3dfef" />
<rect x="383.00" y="62.00" width="1.05" height="26.90" fill="#ebdfe8" />
<rect x="384.00" y="62.00" width="1.05" height="26.90" fill="#d9d7ed" />
<rect x="385.00" y="62.00" width="1.05" height="26.90" fill="#d7d5ec" />
<rect x="386.00" y="62.00" width="1.05" height="26.90" fill="#9b191e" />
<rect x="387.00" y="62.00" width="1.05" height="26.90" fill="#9f1b1f" />
<rect x="388.00" y="62.00" width="1.05" height="26.90" fill="#98171c" />
<rect x="389.00" y="62.00" width="1.05" height="26.90" fill="#9b191e" />
<rect x="390.00" y="62.00" width="1.05" height="26.90" fill="#c86e6e" />
<rect x="391.00" y="62.00" width="1.05" height="26.90" fill="#9e1b1f" />
<rect x="392.00" y="62.00" width="1.05" height="26.90" fill="#830d13" />
<rect x="393.00" y="62.00" width="1.05" height="26.90" fill="#a41d21" />
<rect x="394.00" y="62.00" width="1.05" height="26.90" fill="#890f15" />
<rect x="395.00" y="62.00" width="1.05" height="26.90" fill="#e4a5a5" />
<rect x="396.00" y="62.00" width="1.05" height="26.90" fill="#e4a5a5" />
<rect x="397.00" y="62.00" width="1.05" height="26.90" fill="#c95353" />
<rect x="398.00" y="62.00" width="1.05" height="26.90" fill="#ce5c5c" />
<rect x="399.00" y="62.00" width="1.05" height="26.90" fill="#de7777" />
<rect x="400.00" y="62.00" width="1.05" height="26.90" fill="#d36464" />
<rect x="401.00" y="62.00" width="1.05" height="26.90" fill="#bd3136" />
<rect x="402.00" y="62.00" width="1.05" height="26.90" fill="#af262b" />
<rect x="403.00" y="62.00" width="1.05" height="26.90" fill="#ac2429" />
<rect x="404.00" y="62.00" width="0.55" height="26.90" fill="#b82d32" />
<rect x="162.00" y="88.50" width="1.05" height="27.40" fill="#ebdfe8" />
<rect x="163.00" y="88.50" width="1.05" height="27.40" fill="#ebe1ea" />
<rect x="164.00" y="88.50" width="1.05" height="27.40" fill="#dcd9ee" />
<rect x="165.00" y="88.50" width="1.05" height="27.40" fill="#dbd8ed" />
<rect x="166.00" y="88.50" width="1.05" height="27.40" fill="#e8e5f1" />
<rect x="167.00" y="88.50" width="1.05" height="27.40" fill="#eadce5" />
<rect x="168.00" y="88.50" width="1.05" height="27.40" fill="#e9e5f1" />
<rect x="169.00" y="88.50" width="1.05" height="27.40" fill="#d8d6ed" />
<rect x="170.00" y="88.50" width="1.05" height="27.40" fill="#dcdaee" />
<rect x="171.00" y="88.50" width="1.05" height="27.40" fill="#e4e1f0" />
<rect x="172.00" y="88.50" width="1.05" height="27.40" fill="#ece5ef" />
<rect x="173.00" y="88.50" width="1.05" height="27.40" fill="#c4c3e7" />
<rect x="174.00" y="88.50" width="1.05" height="27.40" fill="#c0c0e6" />
<rect x="175.00" y="88.50" width="1.05" height="27.40" fill="#c1c1e7" />
<rect x="176.00" y="88.50" width="1.05" height="27.40" fill="#c6c5e8" />
<rect x="177.00" y="88.50" width="1.05" height="27.40" fill="#bcbce5" />
<rect x="178.00" y="88.50" width="1.05" height="27.40" fill="#c4c3e7" />
<rect x="179.00" y="88.50" width="1.05" height="27.40" fill="#c7c6e8" />
<rect x="180.00" y="88.50" width="1.05" height="27.40" fill="#d5d3ec" />
<rect x="181.00" y="88.50" width="1.05" height="27.40" fill="#e4e1f0" />
<rect x="182.00" y="88.50" width="1.05" height="27.40" fill="#ece5ef" />
<rect x="183.00" y="88.50" width="1.05" height="27.40" fill="#dad7ed" />
<rect x="184.00" y="88.50" width="1.05" height="27.40" fill="#ece6f0" />
<rect x="185.00" y="88.50" width="1.05" height="27.40" fill="#e6e3f0" />
<rect x="186.00" y="88.50" width="1.05" height="27.40" fill="#e7e3f1" />
<rect x="187.00" y="88.50" width="1.05" height="27.40" fill="#ece8f2" />
<rect x="188.00" y="88.50" width="1.05" height="27.40" fill="#ebdde6" />
<rect x="189.00" y="88.50" width="1.05" height="27.40" fill="#e8c9d1" />
<rect x="190.00" y="88.50" width="1.05" height="27.40" fill="#e6b9c0" />
<rect x="191.00" y="88.50" width="1.05" height="27.40" fill="#ead6df" />
<rect x="192.00" y="88.50" width="1.05" height="27.40" fill="#ead4dd" />
<rect x="193.00" y="88.50" width="1.05" height="27.40" fill="#ead4dd" />
<rect x="194.00" y="88.50" width="1.05" height="27.40" fill="#dfdcee" />
<rect x="195.00" y="88.50" width="1.05" height="27.40" fill="#ebe4ed" />
<rect x="196.00" y="88.50" width="1.05" height="27.40" fill="#e9cdd6" />
<rect x="197.00" y="88.50" width="1.05" height="27.40" fill="#e6bac1" />
<rect x="198.00" y="88.50" width="1.05" height="27.40" fill="#ece7f1" />
<rect x="199.00" y="88.50" width="1.05" height="27.40" fill="#ece5ef" />
<rect x="200.00" y="88.50" width="1.05" height="27.40" fill="#ebe2ec" />
<rect x="201.00" y="88.50" width="1.05" height="27.40" fill="#e6e3f0" />
<rect x="202.00" y="88.50" width="1.05" height="27.40" fill="#ece6f0" />
<rect x="203.00" y="88.50" width="1.05" height="27.40" fill="#e5e1f0" />
<rect x="204.00" y="88.50" width="1.05" height="27.40" fill="#e4adb3" />
<rect x="205.00" y="88.50" width="1.05" height="27.40" fill="#e8cbd3" />
<rect x="206.00" y="88.50" width="1.05" height="27.40" fill="#ece7f1" />
<rect x="207.00" y="88.50" width="1.05" height="27.40" fill="#d9d7ed" />
<rect x="208.00" y="88.50" width="1.05" height="27.40" fill="#dddaee" />
<rect x="209.00" y="88.50" width="1.05" height="27.40" fill="#e3e0f0" />
<rect x="210.00" y="88.50" width="1.05" height="27.40" fill="#ebdee8" />
<rect x="211.00" y="88.50" width="1.05" height="27.40" fill="#ebdee8" />
<rect x="212.00" y="88.50" width="1.05" height="27.40" fill="#ece4ee" />
<rect x="213.00" y="88.50" width="1.05" height="27.40" fill="#e6e2f0" />
<rect x="214.00" y="88.50" width="1.05" height="27.40" fill="#e9d2da" />
<rect x="215.00" y="88.50" width="1.05" height="27.40" fill="#e9d1da" />
<rect x="216.00" y="88.50" width="1.05" height="27.40" fill="#e9cfd8" />
<rect x="217.00" y="88.50" width="1.05" height="27.40" fill="#e7bfc7" />
<rect x="218.00" y="88.50" width="1.05" height="27.40" fill="#e9d1da" />
<rect x="219.00" y="88.50" width="1.05" height="27.40" fill="#ece4ee" />
<rect x="220.00" y="88.50" width="1.05" height="27.40" fill="#eadce5" />
<rect x="221.00" y="88.50" width="1.05" height="27.40" fill="#ece8f2" />
<rect x="222.00" y="88.50" width="1.05" height="27.40" fill="#ebe3ec" />
<rect x="223.00" y="88.50" width="1.05" height="27.40" fill="#ece7f1" />
<rect x="224.00" y="88.50" width="1.05" height="27.40" fill="#e5e2f0" />
<rect x="225.00" y="88.50" width="1.05" height="27.40" fill="#cac9e9" />
<rect x="226.00" y="88.50" width="1.05" height="27.40" fill="#dfdcef" />
<rect x="227.00" y="88.50" width="1.05" height="27.40" fill="#ece8f2" />
<rect x="228.00" y="88.50" width="1.05" height="27.40" fill="#dbd8ed" />
<rect x="229.00" y="88.50" width="1.05" height="27.40" fill="#e6e3f0" />
<rect x="230.00" y="88.50" width="1.05" height="27.40" fill="#e7c3cb" />
<rect x="231.00" y="88.50" width="1.05" height="27.40" fill="#e6b5bc" />
<rect x="232.00" y="88.50" width="1.05" height="27.40" fill="#dedbee" />
<rect x="233.00" y="88.50" width="1.05" height="27.40" fill="#e7e3f1" />
<rect x="234.00" y="88.50" width="1.05" height="27.40" fill="#ece5ef" />
<rect x="235.00" y="88.50" width="1.05" height="27.40" fill="#ebe1eb" />
<rect x="236.00" y="88.50" width="1.05" height="27.40" fill="#dedbee" />
<rect x="237.00" y="88.50" width="1.05" height="27.40" fill="#e9d2da" />
<rect x="238.00" y="88.50" width="1.05" height="27.40" fill="#e4e0f0" />
<rect x="239.00" y="88.50" width="1.05" height="27.40" fill="#eadbe4" />
<rect x="240.00" y="88.50" width="1.05" height="27.40" fill="#eae6f2" />
<rect x="241.00" y="88.50" width="1.05" height="27.40" fill="#ebe3ec" />
<rect x="242.00" y="88.50" width="1.05" height="27.40" fill="#e9d4dd" />
<rect x="243.00" y="88.50" width="1.05" height="27.40" fill="#ebdfe9" />
<rect x="244.00" y="88.50" width="1.05" height="27.40" fill="#ece6f0" />
<rect x="245.00" y="88.50" width="1.05" height="27.40" fill="#e9d1da" />
<rect x="246.00" y="88.50" width="1.05" height="27.40" fill="#e9cdd5" />
<rect x="247.00" y="88.50" width="1.05" height="27.40" fill="#ead6df" />
<rect x="248.00" y="88.50" width="1.05" height="27.40" fill="#e4adb4" />
<rect x="249.00" y="88.50" width="1.05" height="27.40" fill="#dcd9ee" />
<rect x="250.00" y="88.50" width="1.05" height="27.40" fill="#d1cfeb" />
<rect x="251.00" y="88.50" width="1.05" height="27.40" fill="#e9d4dd" />
<rect x="252.00" y="88.50" width="1.05" height="27.40" fill="#ead8e1" />
<rect x="253.00" y="88.50" width="1.05" height="27.40" fill="#e8e5f1" />
<rect x="254.00" y="88.50" width="1.05" height="27.40" fill="#ebdee7" />
<rect x="255.00" y="88.50" width="1.05" height="27.40" fill="#e3e0f0" />
<rect x="256.00" y="88.50" width="1.05" height="27.40" fill="#e8ccd4" />
<rect x="257.00" y="88.50" width="1.05" height="27.40" fill="#ebe2eb" />
<rect x="258.00" y="88.50" width="1.05" height="27.40" fill="#ebe3ed" />
<rect x="259.00" y="88.50" width="1.05" height="27.40" fill="#e7e4f1" />
<rect x="260.00" y="88.50" width="1.05" height="27.40" fill="#e9d4dd" />
<rect x="261.00" y="88.50" width="1.05" height="27.40" fill="#ebdfe8" />
<rect x="262.00" y="88.50" width="1.05" height="27.40" fill="#ece6f0" />
<rect x="263.00" y="88.50" width="1.05" height="27.40" fill="#e0ddef" />
<rect x="264.00" y="88.50" width="1.05" height="27.40" fill="#ece6f0" />
<rect x="265.00" y="88.50" width="1.05" height="27.40" fill="#e9e5f1" />
<rect x="266.00" y="88.50" width="1.05" height="27.40" fill="#ece8f2" />
<rect x="267.00" y="88.50" width="1.05" height="27.40" fill="#ebdee7" />
<rect x="268.00" y="88.50" width="1.05" height="27.40" fill="#e6e3f0" />
<rect x="269.00" y="88.50" width="1.05" height="27.40" fill="#ece4ee" />
<rect x="270.00" y="88.50" width="1.05" height="27.40" fill="#ebdee8" />
<rect x="271.00" y="88.50" width="1.05" height="27.40" fill="#e7c1c9" />
<rect x="272.00" y="88.50" width="1.05" height="27.40" fill="#e4aab0" />
<rect x="273.00" y="88.50" width="1.05" height="27.40" fill="#d9d7ed" />
<rect x="274.00" y="88.50" width="1.05" height="27.40" fill="#ece8f2" />
<rect x="275.00" y="88.50" width="1.05" height="27.40" fill="#e0ddef" />
<rect x="276.00" y="88.50" width="1.05" height="27.40" fill="#e8c6ce" />
<rect x="277.00" y="88.50" width="1.05" height="27.40" fill="#e8cad2" />
<rect x="278.00" y="88.50" width="1.05" height="27.40" fill="#dbd8ed" />
<rect x="279.00" y="88.50" width="1.05" height="27.40" fill="#e9e5f1" />
<rect x="280.00" y="88.50" width="1.05" height="27.40" fill="#ebe0e9" />
<rect x="281.00" y="88.50" width="1.05" height="27.40" fill="#ece7f0" />
<rect x="282.00" y="88.50" width="1.05" height="27.40" fill="#ebdde6" />
<rect x="283.00" y="88.50" width="1.05" height="27.40" fill="#dbd9ee" />
<rect x="284.00" y="88.50" width="1.05" height="27.40" fill="#eadce5" />
<rect x="285.00" y="88.50" width="1.05" height="27.40" fill="#e2dfef" />
<rect x="286.00" y="88.50" width="1.05" height="27.40" fill="#dfdcef" />
<rect x="287.00" y="88.50" width="1.05" height="27.40" fill="#ebe1ea" />
<rect x="288.00" y="88.50" width="1.05" height="27.40" fill="#ebe2ec" />
<rect x="289.00" y="88.50" width="1.05" height="27.40" fill="#e4e1f0" />
<rect x="290.00" y="88.50" width="1.05" height="27.40" fill="#e3e0f0" />
<rect x="291.00" y="88.50" width="1.05" height="27.40" fill="#eae6f1" />
<rect x="292.00" y="88.50" width="1.05" height="27.40" fill="#cdccea" />
<rect x="293.00" y="88.50" width="1.05" height="27.40" fill="#cbcae9" />
<rect x="294.00" y="88.50" width="1.05" height="27.40" fill="#c2c2e7" />
<rect x="295.00" y="88.50" width="1.05" height="27.40" fill="#b4b5e3" />
<rect x="296.00" y="88.50" width="1.05" height="27.40" fill="#ead8e1" />
<rect x="297.00" y="88.50" width="1.05" height="27.40" fill="#ece6ef" />
<rect x="298.00" y="88.50" width="1.05" height="27.40" fill="#dfdcee" />
<rect x="299.00" y="88.50" width="1.05" height="27.40" fill="#dbd9ed" />
<rect x="300.00" y="88.50" width="1.05" height="27.40" fill="#e5e1f0" />
<rect x="301.00" y="88.50" width="1.05" height="27.40" fill="#e8e4f1" />
<rect x="302.00" y="88.50" width="1.05" height="27.40" fill="#d5d3ec" />
<rect x="303.00" y="88.50" width="1.05" height="27.40" fill="#ead7e0" />
<rect x="304.00" y="88.50" width="1.05" height="27.40" fill="#e7c0c8" />
<rect x="305.00" y="88.50" width="1.05" height="27.40" fill="#e8c9d1" />
<rect x="306.00" y="88.50" width="1.05" height="27.40" fill="#ebe4ed" />
<rect x="307.00" y="88.50" width="1.05" height="27.40" fill="#ece5ef" />
<rect x="308.00" y="88.50" width="1.05" height="27.40" fill="#eadbe4" />
<rect x="309.00" y="88.50" width="1.05" height="27.40" fill="#e7c4cb" />
<rect x="310.00" y="88.50" width="1.05" height="27.40" fill="#e6b6bd" />
<rect x="311.00" y="88.50" width="1.05" height="27.40" fill="#ead5de" />
<rect x="312.00" y="88.50" width="1.05" height="27.40" fill="#e9e5f1" />
<rect x="313.00" y="88.50" width="1.05" height="27.40" fill="#e7e4f1" />
<rect x="314.00" y="88.50" width="1.05" height="27.40" fill="#e3dfef" />
<rect x="315.00" y="88.50" width="1.05" height="27.40" fill="#eae6f1" />
<rect x="316.00" y="88.50" width="1.05" height="27.40" fill="#e4e1f0" />
<rect x="317.00" y="88.50" width="1.05" height="27.40" fill="#ece8f2" />
<rect x="318.00" y="88.50" width="1.05" height="27.40" fill="#ece4ee" />
<rect x="319.00" y="88.50" width="1.05" height="27.40" fill="#e19499" />
<rect x="320.00" y="88.50" width="1.05" height="27.40" fill="#e4a8af" />
<rect x="321.00" y="88.50" width="1.05" height="27.40" fill="#e08d92" />
<rect x="322.00" y="88.50" width="1.05" height="27.40" fill="#e39ea4" />
<rect x="323.00" y="88.50" width="1.05" height="27.40" fill="#e29ca1" />
<rect x="324.00" y="88.50" width="1.05" height="27.40" fill="#e3a1a6" />
<rect x="325.00" y="88.50" width="1.05" height="27.40" fill="#e5b2b9" />
<rect x="326.00" y="88.50" width="1.05" height="27.40" fill="#e2979d" />
<rect x="327.00" y="88.50" width="1.05" height="27.40" fill="#e5b0b6" />
<rect x="328.00" y="88.50" width="1.05" height="27.40" fill="#e08d92" />
<rect x="329.00" y="88.50" width="1.05" height="27.40" fill="#ece7f1" />
<rect x="330.00" y="88.50" width="1.05" height="27.40" fill="#ead5de" />
<rect x="331.00" y="88.50" width="1.05" height="27.40" fill="#ebe0ea" />
<rect x="332.00" y="88.50" width="1.05" height="27.40" fill="#ebdfe9" />
<rect x="333.00" y="88.50" width="1.05" height="27.40" fill="#ead7e0" />
<rect x="334.00" y="88.50" width="1.05" height="27.40" fill="#ece8f2" />
<rect x="335.00" y="88.50" width="1.05" height="27.40" fill="#ead5de" />
<rect x="336.00" y="88.50" width="1.05" height="27.40" fill="#ebe7f2" />
<rect x="337.00" y="88.50" width="1.05" height="27.40" fill="#ece5ef" />
<rect x="338.00" y="88.50" width="1.05" height="27.40" fill="#e5e1f0" />
<rect x="339.00" y="88.50" width="1.05" height="27.40" fill="#ebe1eb" />
<rect x="340.00" y="88.50" width="1.05" height="27.40" fill="#e7bdc5" />
<rect x="341.00" y="88.50" width="1.05" height="27.40" fill="#e7e3f1" />
<rect x="342.00" y="88.50" width="1.05" height="27.40" fill="#dedbee" />
<rect x="343.00" y="88.50" width="1.05" height="27.40" fill="#ece8f2" />
<rect x="344.00" y="88.50" width="1.05" height="27.40" fill="#ebe3ed" />
<rect x="345.00" y="88.50" width="1.05" height="27.40" fill="#eae7f2" />
<rect x="346.00" y="88.50" width="1.05" height="27.40" fill="#e2deef" />
<rect x="347.00" y="88.50" width="1.05" height="27.40" fill="#e4e1f0" />
<rect x="348.00" y="88.50" width="1.05" height="27.40" fill="#dedcee" />
<rect x="349.00" y="88.50" width="1.05" height="27.40" fill="#c5c4e7" />
<rect x="350.00" y="88.50" width="1.05" height="27.40" fill="#dbd8ed" />
<rect x="351.00" y="88.50" width="1.05" height="27.40" fill="#ebe3ec" />
<rect x="352.00" y="88.50" width="1.05" height="27.40" fill="#d3d1eb" />
<rect x="353.00" y="88.50" width="1.05" height="27.40" fill="#dfdcee" />
<rect x="354.00" y="88.50" width="1.05" height="27.40" fill="#ebe0e9" />
<rect x="355.00" y="88.50" width="1.05" height="27.40" fill="#e9e5f1" />
<rect x="356.00" y="88.50" width="1.05" height="27.40" fill="#e8c6cf" />
<rect x="357.00" y="88.50" width="1.05" height="27.40" fill="#e0ddef" />
<rect x="358.00" y="88.50" width="1.05" height="27.40" fill="#d3d1eb" />
<rect x="359.00" y="88.50" width="1.05" height="27.40" fill="#e9d1da" />
<rect x="360.00" y="88.50" width="1.05" height="27.40" fill="#e4e1f0" />
<rect x="361.00" y="88.50" width="1.05" height="27.40" fill="#ece5ef" />
<rect x="362.00" y="88.50" width="1.05" height="27.40" fill="#e9d4dd" />
<rect x="363.00" y="88.50" width="1.05" height="27.40" fill="#ebdee8" />
<rect x="364.00" y="88.50" width="1.05" height="27.40" fill="#ece7f1" />
<rect x="365.00" y="88.50" width="1.05" height="27.40" fill="#b4b5e3" />
<rect x="366.00" y="88.50" width="1.05" height="27.40" fill="#bfbfe6" />
<rect x="367.00" y="88.50" width="1.05" height="27.40" fill="#bfbfe6" />
<rect x="368.00" y="88.50" width="1.05" height="27.40" fill="#b9bae4" />
<rect x="369.00" y="88.50" width="1.05" height="27.40" fill="#b7b8e4" />
<rect x="370.00" y="88.50" width="1.05" height="27.40" fill="#b6b6e3" />
<rect x="371.00" y="88.50" width="1.05" height="27.40" fill="#bfbfe6" />
<rect x="372.00" y="88.50" width="1.05" height="27.40" fill="#babae5" />
<rect x="373.00" y="88.50" width="1.05" height="27.40" fill="#c5c4e7" />
<rect x="374.00" y="88.50" width="1.05" height="27.40" fill="#cbcae9" />
<rect x="375.00" y="88.50" width="1.05" height="27.40" fill="#c4c3e7" />
<rect x="376.00" y="88.50" width="1.05" height="27.40" fill="#c1c1e6" />
<rect x="377.00" y="88.50" width="1.05" height="27.40" fill="#d1d0eb" />
<rect x="378.00" y="88.50" width="1.05" height="27.40" fill="#c8c7e8" />
<rect x="379.00" y="88.50" width="1.05" height="27.40" fill="#b0b2e2" />
<rect x="380.00" y="88.50" width="1.05" height="27.40" fill="#e4e1f0" />
<rect x="381.00" y="88.50" width="1.05" height="27.40" fill="#ece6ef" />
<rect x="382.00" y="88.50" width="1.05" height="27.40" fill="#e3dfef" />
<rect x="383.00" y="88.50" width="1.05" height="27.40" fill="#ebdfe8" />
<rect x="384.00" y="88.50" width="1.05" height="27.40" fill="#d9d7ed" />
<rect x="385.00" y="88.50" width="1.05" height="27.40" fill="#d7d5ec" />
<rect x="386.00" y="88.50" width="1.05" height="27.40" fill="#a51e22" />
<rect x="387.00" y="88.50" width="1.05" height="27.40" fill="#921419" />
<rect x="388.00" y="88.50" width="1.05" height="27.40" fill="#a21c20" />
<rect x="389.00" y="88.50" width="1.05" height="27.40" fill="#9a181d" />
<rect x="390.00" y="88.50" width="1.05" height="27.40" fill="#c86e6e" />
<rect x="391.00" y="88.50" width="1.05" height="27.40" fill="#95161b" />
<rect x="392.00" y="88.50" width="1.05" height="27.40" fill="#860e14" />
<rect x="393.00" y="88.50" width="1.05" height="27.40" fill="#98171c" />
<rect x="394.00" y="88.50" width="1.05" height="27.40" fill="#a01c20" />
<rect x="395.00" y="88.50" width="1.05" height="27.40" fill="#e4a5a5" />
<rect x="396.00" y="88.50" width="1.05" height="27.40" fill="#e4a5a5" />
<rect x="397.00" y="88.50" width="1.05" height="27.40" fill="#cd5858" />
<rect x="398.00" y="88.50" width="1.05" height="27.40" fill="#cc5757" />
<rect x="399.00" y="88.50" width="1.05" height="27.40" fill="#d26363" />
<rect x="400.00" y="88.50" width="1.05" height="27.40" fill="#dd7676" />
<rect x="401.00" y="88.50" width="1.05" height="27.40" fill="#b92e33" />
<rect x="402.00" y="88.50" width="1.05" height="27.40" fill="#b42a2f" />
<rect x="403.00" y="88.50" width="1.05" height="27.40" fill="#b0272c" />
<rect x="404.00" y="88.50" width="0.55" height="27.40" fill="#b82d32" />
<rect x="162.00" y="115.50" width="1.05" height="11.70" fill="#ebdfe8" />
<rect x="163.00" y="115.50" width="1.05" height="11.70" fill="#ebe1ea" />
<rect x="164.00" y="115.50" width="1.05" height="11.70" fill="#dcd9ee" />
<rect x="165.00" y="115.50" width="1.05" height="11.70" fill="#dbd8ed" />
<rect x="166.00" y="115.50" width="1.05" height="11.70" fill="#e8e5f1" />
<rect x="167.00" y="115.50" width="1.05" height="11.70" fill="#eadce5" />
<rect x="168.00" y="115.50" width="1.05" height="11.70" fill="#e9e5f1" />
<rect x="169.00" y="115.50" width="1.05" height="11.70" fill="#d8d6ed" />
<rect x="170.00" y="115.50" width="1.05" height="11.70" fill="#dcdaee" />
<rect x="171.00" y="115.50" width="1.05" height="11.70" fill="#e4e1f0" />
<rect x="172.00" y="115.50" width="1.05" height="11.70" fill="#ece5ef" />
<rect x="173.00" y="115.50" width="1.05" height="11.70" fill="#d9d7ed" />
<rect x="174.00" y="115.50" width="1.05" height="11.70" fill="#d6d4ec" />
<rect x="175.00" y="115.50" width="1.05" height="11.70" fill="#d7d5ec" />
<rect x="176.00" y="115.50" width="1.05" height="11.70" fill="#dbd9ee" />
<rect x="177.00" y="115.50" width="1.05" height="11.70" fill="#d2d0eb" />
<rect x="178.00" y="115.50" width="1.05" height="11.70" fill="#dad7ed" />
<rect x="179.00" y="115.50" width="1.05" height="11.70" fill="#dcdaee" />
<rect x="180.00" y="115.50" width="1.05" height="11.70" fill="#ebe7f2" />
<rect x="181.00" y="115.50" width="1.05" height="11.70" fill="#e4e1f0" />
<rect x="182.00" y="115.50" width="1.05" height="11.70" fill="#ece5ef" />
<rect x="183.00" y="115.50" width="1.05" height="11.70" fill="#dad7ed" />
<rect x="184.00" y="115.50" width="1.05" height="11.70" fill="#ece6f0" />
<rect x="185.00" y="115.50" width="1.05" height="11.70" fill="#e6e3f0" />
<rect x="186.00" y="115.50" width="1.05" height="11.70" fill="#e7e3f1" />
<rect x="187.00" y="115.50" width="1.05" height="11.70" fill="#ece8f2" />
<rect x="188.00" y="115.50" width="1.05" height="11.70" fill="#ebdde6" />
<rect x="189.00" y="115.50" width="1.05" height="11.70" fill="#e9e5f1" />
<rect x="190.00" y="115.50" width="1.05" height="11.70" fill="#eadbe5" />
<rect x="191.00" y="115.50" width="1.05" height="11.70" fill="#ead6df" />
<rect x="192.00" y="115.50" width="1.05" height="11.70" fill="#ead4dd" />
<rect x="193.00" y="115.50" width="1.05" height="11.70" fill="#ead4dd" />
<rect x="194.00" y="115.50" width="1.05" height="11.70" fill="#dfdcee" />
<rect x="195.00" y="115.50" width="1.05" height="11.70" fill="#ebe4ed" />
<rect x="196.00" y="115.50" width="1.05" height="11.70" fill="#e5e2f0" />
<rect x="197.00" y="115.50" width="1.05" height="11.70" fill="#ebdce6" />
<rect x="198.00" y="115.50" width="1.05" height="11.70" fill="#ece7f1" />
<rect x="199.00" y="115.50" width="1.05" height="11.70" fill="#ece5ef" />
<rect x="200.00" y="115.50" width="1.05" height="11.70" fill="#ebe2ec" />
<rect x="201.00" y="115.50" width="1.05" height="11.70" fill="#e6e3f0" />
<rect x="202.00" y="115.50" width="1.05" height="11.70" fill="#ece6f0" />
<rect x="203.00" y="115.50" width="1.05" height="11.70" fill="#e5e1f0" />
<rect x="204.00" y="115.50" width="1.05" height="11.70" fill="#e9cfd8" />
<rect x="205.00" y="115.50" width="1.05" height="11.70" fill="#e7e4f1" />
<rect x="206.00" y="115.50" width="1.05" height="11.70" fill="#ece7f1" />
<rect x="207.00" y="115.50" width="1.05" height="11.70" fill="#d9d7ed" />
<rect x="208.00" y="115.50" width="1.05" height="11.70" fill="#dddaee" />
<rect x="209.00" y="115.50" width="1.05" height="11.70" fill="#e3e0f0" />
<rect x="210.00" y="115.50" width="1.05" height="11.70" fill="#ebdee8" />
<rect x="211.00" y="115.50" width="1.05" height="11.70" fill="#ebdee8" />
<rect x="212.00" y="115.50" width="1.05" height="11.70" fill="#ece4ee" />
<rect x="213.00" y="115.50" width="1.05" height="11.70" fill="#e6e2f0" />
<rect x="214.00" y="115.50" width="1.05" height="11.70" fill="#e9d2da" />
<rect x="215.00" y="115.50" width="1.05" height="11.70" fill="#e1deef" />
<rect x="216.00" y="115.50" width="1.05" height="11.70" fill="#e3e0f0" />
<rect x="217.00" y="115.50" width="1.05" height="11.70" fill="#ebe2eb" />
<rect x="218.00" y="115.50" width="1.05" height="11.70" fill="#e2dfef" />
<rect x="219.00" y="115.50" width="1.05" height="11.70" fill="#ece4ee" />
<rect x="220.00" y="115.50" width="1.05" height="11.70" fill="#eadce5" />
<rect x="221.00" y="115.50" width="1.05" height="11.70" fill="#ece8f2" />
<rect x="222.00" y="115.50" width="1.05" height="11.70" fill="#ebe3ec" />
<rect x="223.00" y="115.50" width="1.05" height="11.70" fill="#ece7f1" />
<rect x="224.00" y="115.50" width="1.05" height="11.70" fill="#e5e2f0" />
<rect x="225.00" y="115.50" width="1.05" height="11.70" fill="#cac9e9" />
<rect x="226.00" y="115.50" width="1.05" height="11.70" fill="#dfdcef" />
<rect x="227.00" y="115.50" width="1.05" height="11.70" fill="#ece8f2" />
<rect x="228.00" y="115.50" width="1.05" height="11.70" fill="#dbd8ed" />
<rect x="229.00" y="115.50" width="1.05" height="11.70" fill="#e6e3f0" />
<rect x="230.00" y="115.50" width="1.05" height="11.70" fill="#ece5ef" />
<rect x="231.00" y="115.50" width="1.05" height="11.70" fill="#ead8e1" />
<rect x="232.00" y="115.50" width="1.05" height="11.70" fill="#dedbee" />
<rect x="233.00" y="115.50" width="1.05" height="11.70" fill="#e7e3f1" />
<rect x="234.00" y="115.50" width="1.05" height="11.70" fill="#ece5ef" />
<rect x="235.00" y="115.50" width="1.05" height="11.70" fill="#ebe1eb" />
<rect x="236.00" y="115.50" width="1.05" height="11.70" fill="#dedbee" />
<rect x="237.00" y="115.50" width="1.05" height="11.70" fill="#e9d2da" />
<rect x="238.00" y="115.50" width="1.05" height="11.70" fill="#e4e0f0" />
<rect x="239.00" y="115.50" width="1.05" height="11.70" fill="#eadbe4" />
<rect x="240.00" y="115.50" width="1.05" height="11.70" fill="#eae6f2" />
<rect x="241.00" y="115.50" width="1.05" height="11.70" fill="#ebe3ec" />
<rect x="242.00" y="115.50" width="1.05" height="11.70" fill="#e9d4dd" />
<rect x="243.00" y="115.50" width="1.05" height="11.70" fill="#ebdfe9" />
<rect x="244.00" y="115.50" width="1.05" height="11.70" fill="#ece6f0" />
<rect x="245.00" y="115.50" width="1.05" height="11.70" fill="#e2dfef" />
<rect x="246.00" y="115.50" width="1.05" height="11.70" fill="#e5e2f0" />
<rect x="247.00" y="115.50" width="1.05" height="11.70" fill="#dddaee" />
<rect x="248.00" y="115.50" width="1.05" height="11.70" fill="#e9d0d8" />
<rect x="249.00" y="115.50" width="1.05" height="11.70" fill="#dcd9ee" />
<rect x="250.00" y="115.50" width="1.05" height="11.70" fill="#d1cfeb" />
<rect x="251.00" y="115.50" width="1.05" height="11.70" fill="#e9d4dd" />
<rect x="252.00" y="115.50" width="1.05" height="11.70" fill="#ead8e1" />
<rect x="253.00" y="115.50" width="1.05" height="11.70" fill="#e8e5f1" />
<rect x="254.00" y="115.50" width="1.05" height="11.70" fill="#ebdee7" />
<rect x="255.00" y="115.50" width="1.05" height="11.70" fill="#e3e0f0" />
<rect x="256.00" y="115.50" width="1.05" height="11.70" fill="#e6e3f0" />
<rect x="257.00" y="115.50" width="1.05" height="11.70" fill="#ebe2eb" />
<rect x="258.00" y="115.50" width="1.05" height="11.70" fill="#ebe3ed" />
<rect x="259.00" y="115.50" width="1.05" height="11.70" fill="#e7e4f1" />
<rect x="260.00" y="115.50" width="1.05" height="11.70" fill="#e9d4dd" />
<rect x="261.00" y="115.50" width="1.05" height="11.70" fill="#ebdfe8" />
<rect x="262.00" y="115.50" width="1.05" height="11.70" fill="#ece6f0" />
<rect x="263.00" y="115.50" width="1.05" height="11.70" fill="#e0ddef" />
<rect x="264.00" y="115.50" width="1.05" height="11.70" fill="#ece6f0" />
<rect x="265.00" y="115.50" width="1.05" height="11.70" fill="#e9e5f1" />
<rect x="266.00" y="115.50" width="1.05" height="11.70" fill="#ece8f2" />
<rect x="267.00" y="115.50" width="1.05" height="11.70" fill="#ebdee7" />
<rect x="268.00" y="115.50" width="1.05" height="11.70" fill="#e6e3f0" />
<rect x="269.00" y="115.50" width="1.05" height="11.70" fill="#ece4ee" />
<rect x="270.00" y="115.50" width="1.05" height="11.70" fill="#ebdee8" />
<rect x="271.00" y="115.50" width="1.05" height="11.70" fill="#ebe3ed" />
<rect x="272.00" y="115.50" width="1.05" height="11.70" fill="#e8ccd5" />
<rect x="273.00" y="115.50" width="1.05" height="11.70" fill="#d9d7ed" />
<rect x="274.00" y="115.50" width="1.05" height="11.70" fill="#ece8f2" />
<rect x="275.00" y="115.50" width="1.05" height="11.70" fill="#e0ddef" />
<rect x="276.00" y="115.50" width="1.05" height="11.70" fill="#ece8f2" />
<rect x="277.00" y="115.50" width="1.05" height="11.70" fill="#e8cad2" />
<rect x="278.00" y="115.50" width="1.05" height="11.70" fill="#dbd8ed" />
<rect x="279.00" y="115.50" width="1.05" height="11.70" fill="#e9e5f1" />
<rect x="280.00" y="115.50" width="1.05" height="11.70" fill="#ebe0e9" />
<rect x="281.00" y="115.50" width="1.05" height="11.70" fill="#ece7f0" />
<rect x="282.00" y="115.50" width="1.05" height="11.70" fill="#ebdde6" />
<rect x="283.00" y="115.50" width="1.05" height="11.70" fill="#dbd9ee" />
<rect x="284.00" y="115.50" width="1.05" height="11.70" fill="#eadce5" />
<rect x="285.00" y="115.50" width="1.05" height="11.70" fill="#e2dfef" />
<rect x="286.00" y="115.50" width="1.05" height="11.70" fill="#dfdcef" />
<rect x="287.00" y="115.50" width="1.05" height="11.70" fill="#ebe1ea" />
<rect x="288.00" y="115.50" width="1.05" height="11.70" fill="#ebe2ec" />
<rect x="289.00" y="115.50" width="1.05" height="11.70" fill="#e4e1f0" />
<rect x="290.00" y="115.50" width="1.05" height="11.70" fill="#e3e0f0" />
<rect x="291.00" y="115.50" width="1.05" height="11.70" fill="#eae6f1" />
<rect x="292.00" y="115.50" width="1.05" height="11.70" fill="#ece8f2" />
<rect x="293.00" y="115.50" width="1.05" height="11.70" fill="#eae7f2" />
<rect x="294.00" y="115.50" width="1.05" height="11.70" fill="#e1deef" />
<rect x="295.00" y="115.50" width="1.05" height="11.70" fill="#d3d1eb" />
<rect x="296.00" y="115.50" width="1.05" height="11.70" fill="#ead8e1" />
<rect x="297.00" y="115.50" width="1.05" height="11.70" fill="#ece6ef" />
<rect x="298.00" y="115.50" width="1.05" height="11.70" fill="#dfdcee" />
<rect x="299.00" y="115.50" width="1.05" height="11.70" fill="#dbd9ed" />
<rect x="300.00" y="115.50" width="1.05" height="11.70" fill="#e5e1f0" />
<rect x="301.00" y="115.50" width="1.05" height="11.70" fill="#e8e4f1" />
<rect x="302.00" y="115.50" width="1.05" height="11.70" fill="#d5d3ec" />
<rect x="303.00" y="115.50" width="1.05" height="11.70" fill="#ead7e0" />
<rect x="304.00" y="115.50" width="1.05" height="11.70" fill="#ebe3ec" />
<rect x="305.00" y="115.50" width="1.05" height="11.70" fill="#e9e5f1" />
<rect x="306.00" y="115.50" width="1.05" height="11.70" fill="#ebe4ed" />
<rect x="307.00" y="115.50" width="1.05" height="11.70" fill="#ece5ef" />
<rect x="308.00" y="115.50" width="1.05" height="11.70" fill="#eadbe4" />
<rect x="309.00" y="115.50" width="1.05" height="11.70" fill="#ece6f0" />
<rect x="310.00" y="115.50" width="1.05" height="11.70" fill="#ead9e2" />
<rect x="311.00" y="115.50" width="1.05" height="11.70" fill="#ead5de" />
<rect x="312.00" y="115.50" width="1.05" height="11.70" fill="#e9e5f1" />
<rect x="313.00" y="115.50" width="1.05" height="11.70" fill="#e7e4f1" />
<rect x="314.00" y="115.50" width="1.05" height="11.70" fill="#e3dfef" />
<rect x="315.00" y="115.50" width="1.05" height="11.70" fill="#eae6f1" />
<rect x="316.00" y="115.50" width="1.05" height="11.70" fill="#e4e1f0" />
<rect x="317.00" y="115.50" width="1.05" height="11.70" fill="#ece8f2" />
<rect x="318.00" y="115.50" width="1.05" height="11.70" fill="#ece4ee" />
<rect x="319.00" y="115.50" width="1.05" height="11.70" fill="#e5aeb4" />
<rect x="320.00" y="115.50" width="1.05" height="11.70" fill="#e7c2ca" />
<rect x="321.00" y="115.50" width="1.05" height="11.70" fill="#e4a7ad" />
<rect x="322.00" y="115.50" width="1.05" height="11.70" fill="#e6b8bf" />
<rect x="323.00" y="115.50" width="1.05" height="11.70" fill="#e6b6bd" />
<rect x="324.00" y="115.50" width="1.05" height="11.70" fill="#e6bac2" />
<rect x="325.00" y="115.50" width="1.05" height="11.70" fill="#e8ccd5" />
<rect x="326.00" y="115.50" width="1.05" height="11.70" fill="#e5b1b8" />
<rect x="327.00" y="115.50" width="1.05" height="11.70" fill="#e8c9d2" />
<rect x="328.00" y="115.50" width="1.05" height="11.70" fill="#e4a7ad" />
<rect x="329.00" y="115.50" width="1.05" height="11.70" fill="#ece7f1" />
<rect x="330.00" y="115.50" width="1.05" height="11.70" fill="#ead5de" />
<rect x="331.00" y="115.50" width="1.05" height="11.70" fill="#ebe0ea" />
<rect x="332.00" y="115.50" width="1.05" height="11.70" fill="#ebdfe9" />
<rect x="333.00" y="115.50" width="1.05" height="11.70" fill="#ead7e0" />
<rect x="334.00" y="115.50" width="1.05" height="11.70" fill="#ece8f2" />
<rect x="335.00" y="115.50" width="1.05" height="11.70" fill="#ead5de" />
<rect x="336.00" y="115.50" width="1.05" height="11.70" fill="#ebe7f2" />
<rect x="337.00" y="115.50" width="1.05" height="11.70" fill="#ece5ef" />
<rect x="338.00" y="115.50" width="1.05" height="11.70" fill="#e5e1f0" />
<rect x="339.00" y="115.50" width="1.05" height="11.70" fill="#ebe1eb" />
<rect x="340.00" y="115.50" width="1.05" height="11.70" fill="#ebe0e9" />
<rect x="341.00" y="115.50" width="1.05" height="11.70" fill="#e7e3f1" />
<rect x="342.00" y="115.50" width="1.05" height="11.70" fill="#dedbee" />
<rect x="343.00" y="115.50" width="1.05" height="11.70" fill="#ece8f2" />
<rect x="344.00" y="115.50" width="1.05" height="11.70" fill="#ebe3ed" />
<rect x="345.00" y="115.50" width="1.05" height="11.70" fill="#eae7f2" />
<rect x="346.00" y="115.50" width="1.05" height="11.70" fill="#e2deef" />
<rect x="347.00" y="115.50" width="1.05" height="11.70" fill="#e4e1f0" />
<rect x="348.00" y="115.50" width="1.05" height="11.70" fill="#e9e5f1" />
<rect x="349.00" y="115.50" width="1.05" height="11.70" fill="#d0ceea" />
<rect x="350.00" y="115.50" width="1.05" height="11.70" fill="#e6e2f0" />
<rect x="351.00" y="115.50" width="1.05" height="11.70" fill="#ead7e0" />
<rect x="352.00" y="115.50" width="1.05" height="11.70" fill="#dedbee" />
<rect x="353.00" y="115.50" width="1.05" height="11.70" fill="#eae6f1" />
<rect x="354.00" y="115.50" width="1.05" height="11.70" fill="#e9d4dc" />
<rect x="355.00" y="115.50" width="1.05" height="11.70" fill="#ebdfe9" />
<rect x="356.00" y="115.50" width="1.05" height="11.70" fill="#ebdde6" />
<rect x="357.00" y="115.50" width="1.05" height="11.70" fill="#ebe7f2" />
<rect x="358.00" y="115.50" width="1.05" height="11.70" fill="#dedbee" />
<rect x="359.00" y="115.50" width="1.05" height="11.70" fill="#e8c5cd" />
<rect x="360.00" y="115.50" width="1.05" height="11.70" fill="#ece4ee" />
<rect x="361.00" y="115.50" width="1.05" height="11.70" fill="#ece5ef" />
<rect x="362.00" y="115.50" width="1.05" height="11.70" fill="#e9d4dd" />
<rect x="363.00" y="115.50" width="1.05" height="11.70" fill="#ebdee8" />
<rect x="364.00" y="115.50" width="1.05" height="11.70" fill="#ece7f1" />
<rect x="365.00" y="115.50" width="1.05" height="11.70" fill="#e0ddef" />
<rect x="366.00" y="115.50" width="1.05" height="11.70" fill="#eae7f2" />
<rect x="367.00" y="115.50" width="1.05" height="11.70" fill="#eae7f2" />
<rect x="368.00" y="115.50" width="1.05" height="11.70" fill="#e5e1f0" />
<rect x="369.00" y="115.50" width="1.05" height="11.70" fill="#e3e0ef" />
<rect x="370.00" y="115.50" width="1.05" height="11.70" fill="#e1deef" />
<rect x="371.00" y="115.50" width="1.05" height="11.70" fill="#ebe7f2" />
<rect x="372.00" y="115.50" width="1.05" height="11.70" fill="#e6e2f0" />
<rect x="373.00" y="115.50" width="1.05" height="11.70" fill="#ebe3ed" />
<rect x="374.00" y="115.50" width="1.05" height="11.70" fill="#eadce5" />
<rect x="375.00" y="115.50" width="1.05" height="11.70" fill="#ece4ee" />
<rect x="376.00" y="115.50" width="1.05" height="11.70" fill="#ece8f2" />
<rect x="377.00" y="115.50" width="1.05" height="11.70" fill="#ead5de" />
<rect x="378.00" y="115.50" width="1.05" height="11.70" fill="#ebe0ea" />
<rect x="379.00" y="115.50" width="1.05" height="11.70" fill="#dcd9ee" />
<rect x="380.00" y="115.50" width="1.05" height="11.70" fill="#e4e1f0" />
<rect x="381.00" y="115.50" width="1.05" height="11.70" fill="#ece6ef" />
<rect x="382.00" y="115.50" width="1.05" height="11.70" fill="#e3dfef" />
<rect x="383.00" y="115.50" width="1.05" height="11.70" fill="#ebdfe8" />
<rect x="384.00" y="115.50" width="1.05" height="11.70" fill="#d9d7ed" />
<rect x="385.00" y="115.50" width="1.05" height="11.70" fill="#d7d5ec" />
<rect x="386.00" y="115.50" width="1.05" height="11.70" fill="#891015" />
<rect x="387.00" y="115.50" width="1.05" height="11.70" fill="#870f15" />
<rect x="388.00" y="115.50" width="1.05" height="11.70" fill="#850d13" />
<rect x="389.00" y="115.50" width="1.05" height="11.70" fill="#860e14" />
<rect x="390.00" y="115.50" width="1.05" height="11.70" fill="#c86e6e" />
<rect x="391.00" y="115.50" width="1.05" height="11.70" fill="#a41e22" />
<rect x="392.00" y="115.50" width="1.05" height="11.70" fill="#911419" />
<rect x="393.00" y="115.50" width="1.05" height="11.70" fill="#a21d21" />
<rect x="394.00" y="115.50" width="1.05" height="11.70" fill="#860e14" />
<rect x="395.00" y="115.50" width="1.05" height="11.70" fill="#e4a5a5" />
<rect x="396.00" y="115.50" width="1.05" height="11.70" fill="#e4a5a5" />
<rect x="397.00" y="115.50" width="1.05" height="11.70" fill="#ce5a5a" />
<rect x="398.00" y="115.50" width="1.05" height="11.70" fill="#cd5a5a" />
<rect x="399.00" y="115.50" width="1.05" height="11.70" fill="#da7070" />
<rect x="400.00" y="115.50" width="1.05" height="11.70" fill="#dd7676" />
<rect x="401.00" y="115.50" width="1.05" height="11.70" fill="#aa2227" />
<rect x="402.00" y="115.50" width="1.05" height="11.70" fill="#af262b" />
<rect x="403.00" y="115.50" width="1.05" height="11.70" fill="#ae262b" />
<rect x="404.00" y="115.50" width="0.55" height="11.70" fill="#b2292e" />
<rect x="162.00" y="128.60" width="1.05" height="2.70" fill="#ebdfe8" />
<rect x="163.00" y="128.60" width="1.05" height="2.70" fill="#ead8e1" />
<rect x="164.00" y="128.60" width="1.05" height="2.70" fill="#e4e0f0" />
<rect x="165.00" y="128.60" width="1.05" height="2.70" fill="#e3dfef" />
<rect x="166.00" y="128.60" width="1.05" height="2.70" fill="#ebe3ed" />
<rect x="167.00" y="128.60" width="1.05" height="2.70" fill="#e9d3dc" />
<rect x="168.00" y="128.60" width="1.05" height="2.70" fill="#ebe3ed" />
<rect x="169.00" y="128.60" width="1.05" height="2.70" fill="#e0ddef" />
<rect x="170.00" y="128.60" width="1.05" height="2.70" fill="#e4e1f0" />
<rect x="171.00" y="128.60" width="1.05" height="2.70" fill="#ece8f2" />
<rect x="172.00" y="128.60" width="1.05" height="2.70" fill="#ebdce6" />
<rect x="173.00" y="128.60" width="1.05" height="2.70" fill="#ece8f2" />
<rect x="174.00" y="128.60" width="1.05" height="2.70" fill="#e8e5f1" />
<rect x="175.00" y="128.60" width="1.05" height="2.70" fill="#eae6f1" />
<rect x="176.00" y="128.60" width="1.05" height="2.70" fill="#ece6ef" />
<rect x="177.00" y="128.60" width="1.05" height="2.70" fill="#e4e1f0" />
<rect x="178.00" y="128.60" width="1.05" height="2.70" fill="#ece8f2" />
<rect x="179.00" y="128.60" width="1.05" height="2.70" fill="#ece4ee" />
<rect x="180.00" y="128.60" width="1.05" height="2.70" fill="#e9d4dd" />
<rect x="181.00" y="128.60" width="1.05" height="2.70" fill="#ece8f2" />
<rect x="182.00" y="128.60" width="1.05" height="2.70" fill="#eadce6" />
<rect x="183.00" y="128.60" width="1.05" height="2.70" fill="#e1deef" />
<rect x="184.00" y="128.60" width="1.05" height="2.70" fill="#ebdde7" />
<rect x="185.00" y="128.60" width="1.05" height="2.70" fill="#ece6f0" />
<rect x="186.00" y="128.60" width="1.05" height="2.70" fill="#e7e3f1" />
<rect x="187.00" y="128.60" width="1.05" height="2.70" fill="#ece8f2" />
<rect x="188.00" y="128.60" width="1.05" height="2.70" fill="#ebdde6" />
<rect x="189.00" y="128.60" width="1.05" height="2.70" fill="#e9e5f1" />
<rect x="190.00" y="128.60" width="1.05" height="2.70" fill="#eadbe5" />
<rect x="191.00" y="128.60" width="1.05" height="2.70" fill="#ead6df" />
<rect x="192.00" y="128.60" width="1.05" height="2.70" fill="#ead4dd" />
<rect x="193.00" y="128.60" width="1.05" height="2.70" fill="#ead4dd" />
<rect x="194.00" y="128.60" width="1.05" height="2.70" fill="#dfdcee" />
<rect x="195.00" y="128.60" width="1.05" height="2.70" fill="#ebe4ed" />
<rect x="196.00" y="128.60" width="1.05" height="2.70" fill="#e5e2f0" />
<rect x="197.00" y="128.60" width="1.05" height="2.70" fill="#ebdce6" />
<rect x="198.00" y="128.60" width="1.05" height="2.70" fill="#ece7f1" />
<rect x="199.00" y="128.60" width="1.05" height="2.70" fill="#ece5ef" />
<rect x="200.00" y="128.60" width="1.05" height="2.70" fill="#ebe2ec" />
<rect x="201.00" y="128.60" width="1.05" height="2.70" fill="#e6e3f0" />
<rect x="202.00" y="128.60" width="1.05" height="2.70" fill="#ece6f0" />
<rect x="203.00" y="128.60" width="1.05" height="2.70" fill="#e5e1f0" />
<rect x="204.00" y="128.60" width="1.05" height="2.70" fill="#e9cfd8" />
<rect x="205.00" y="128.60" width="1.05" height="2.70" fill="#e7e4f1" />
<rect x="206.00" y="128.60" width="1.05" height="2.70" fill="#ece7f1" />
<rect x="207.00" y="128.60" width="1.05" height="2.70" fill="#d9d7ed" />
<rect x="208.00" y="128.60" width="1.05" height="2.70" fill="#dddaee" />
<rect x="209.00" y="128.60" width="1.05" height="2.70" fill="#e3e0f0" />
<rect x="210.00" y="128.60" width="1.05" height="2.70" fill="#ebdee8" />
<rect x="211.00" y="128.60" width="1.05" height="2.70" fill="#ebdee8" />
<rect x="212.00" y="128.60" width="1.05" height="2.70" fill="#ece4ee" />
<rect x="213.00" y="128.60" width="1.05" height="2.70" fill="#e6e2f0" />
<rect x="214.00" y="128.60" width="1.05" height="2.70" fill="#e9d2da" />
<rect x="215.00" y="128.60" width="1.05" height="2.70" fill="#e1deef" />
<rect x="216.00" y="128.60" width="1.05" height="2.70" fill="#e3e0f0" />
<rect x="217.00" y="128.60" width="1.05" height="2.70" fill="#ebe2eb" />
<rect x="218.00" y="128.60" width="1.05" height="2.70" fill="#e2dfef" />
<rect x="219.00" y="128.60" width="1.05" height="2.70" fill="#ece4ee" />
<rect x="220.00" y="128.60" width="1.05" height="2.70" fill="#eadce5" />
<rect x="221.00" y="128.60" width="1.05" height="2.70" fill="#ece8f2" />
<rect x="222.00" y="128.60" width="1.05" height="2.70" fill="#ebe3ec" />
<rect x="223.00" y="128.60" width="1.05" height="2.70" fill="#ece7f1" />
<rect x="224.00" y="128.60" width="1.05" height="2.70" fill="#e5e2f0" />
<rect x="225.00" y="128.60" width="1.05" height="2.70" fill="#cac9e9" />
<rect x="226.00" y="128.60" width="1.05" height="2.70" fill="#dfdcef" />
<rect x="227.00" y="128.60" width="1.05" height="2.70" fill="#ece8f2" />
<rect x="228.00" y="128.60" width="1.05" height="2.70" fill="#dbd8ed" />
<rect x="229.00" y="128.60" width="1.05" height="2.70" fill="#e6e3f0" />
<rect x="230.00" y="128.60" width="1.05" height="2.70" fill="#ece5ef" />
<rect x="231.00" y="128.60" width="1.05" height="2.70" fill="#ead8e1" />
<rect x="232.00" y="128.60" width="1.05" height="2.70" fill="#dedbee" />
<rect x="233.00" y="128.60" width="1.05" height="2.70" fill="#e7e3f1" />
<rect x="234.00" y="128.60" width="1.05" height="2.70" fill="#ece5ef" />
<rect x="235.00" y="128.60" width="1.05" height="2.70" fill="#ebe1eb" />
<rect x="236.00" y="128.60" width="1.05" height="2.70" fill="#dedbee" />
<rect x="237.00" y="128.60" width="1.05" height="2.70" fill="#e9d2da" />
<rect x="238.00" y="128.60" width="1.05" height="2.70" fill="#e4e0f0" />
<rect x="239.00" y="128.60" width="1.05" height="2.70" fill="#eadbe4" />
<rect x="240.00" y="128.60" width="1.05" height="2.70" fill="#eae6f2" />
<rect x="241.00" y="128.60" width="1.05" height="2.70" fill="#ebe3ec" />
<rect x="242.00" y="128.60" width="1.05" height="2.70" fill="#e9d4dd" />
<rect x="243.00" y="128.60" width="1.05" height="2.70" fill="#ebdfe9" />
<rect x="244.00" y="128.60" width="1.05" height="2.70" fill="#ece6f0" />
<rect x="245.00" y="128.60" width="1.05" height="2.70" fill="#e2dfef" />
<rect x="246.00" y="128.60" width="1.05" height="2.70" fill="#e5e2f0" />
<rect x="247.00" y="128.60" width="1.05" height="2.70" fill="#dddaee" />
<rect x="248.00" y="128.60" width="1.05" height="2.70" fill="#e9d0d8" />
<rect x="249.00" y="128.60" width="1.05" height="2.70" fill="#dcd9ee" />
<rect x="250.00" y="128.60" width="1.05" height="2.70" fill="#d1cfeb" />
<rect x="251.00" y="128.60" width="1.05" height="2.70" fill="#e9d4dd" />
<rect x="252.00" y="128.60" width="1.05" height="2.70" fill="#ead8e1" />
<rect x="253.00" y="128.60" width="1.05" height="2.70" fill="#e8e5f1" />
<rect x="254.00" y="128.60" width="1.05" height="2.70" fill="#ebdee7" />
<rect x="255.00" y="128.60" width="1.05" height="2.70" fill="#e3e0f0" />
<rect x="256.00" y="128.60" width="1.05" height="2.70" fill="#e6e3f0" />
<rect x="257.00" y="128.60" width="1.05" height="2.70" fill="#ebe2eb" />
<rect x="258.00" y="128.60" width="1.05" height="2.70" fill="#ebe3ed" />
<rect x="259.00" y="128.60" width="1.05" height="2.70" fill="#e7e4f1" />
<rect x="260.00" y="128.60" width="1.05" height="2.70" fill="#e9d4dd" />
<rect x="261.00" y="128.60" width="1.05" height="2.70" fill="#ebdfe8" />
<rect x="262.00" y="128.60" width="1.05" height="2.70" fill="#ece6f0" />
<rect x="263.00" y="128.60" width="1.05" height="2.70" fill="#e0ddef" />
<rect x="264.00" y="128.60" width="1.05" height="2.70" fill="#ece6f0" />
<rect x="265.00" y="128.60" width="1.05" height="2.70" fill="#e9e5f1" />
<rect x="266.00" y="128.60" width="1.05" height="2.70" fill="#ece8f2" />
<rect x="267.00" y="128.60" width="1.05" height="2.70" fill="#ebdee7" />
<rect x="268.00" y="128.60" width="1.05" height="2.70" fill="#e6e3f0" />
<rect x="269.00" y="128.60" width="1.05" height="2.70" fill="#ece4ee" />
<rect x="270.00" y="128.60" width="1.05" height="2.70" fill="#ebdee8" />
<rect x="271.00" y="128.60" width="1.05" height="2.70" fill="#ebe3ed" />
<rect x="272.00" y="128.60" width="1.05" height="2.70" fill="#e8ccd5" />
<rect x="273.00" y="128.60" width="1.05" height="2.70" fill="#d9d7ed" />
<rect x="274.00" y="128.60" width="1.05" height="2.70" fill="#ece8f2" />
<rect x="275.00" y="128.60" width="1.05" height="2.70" fill="#e0ddef" />
<rect x="276.00" y="128.60" width="1.05" height="2.70" fill="#ece8f2" />
<rect x="277.00" y="128.60" width="1.05" height="2.70" fill="#e8cad2" />
<rect x="278.00" y="128.60" width="1.05" height="2.70" fill="#dbd8ed" />
<rect x="279.00" y="128.60" width="1.05" height="2.70" fill="#e9e5f1" />
<rect x="280.00" y="128.60" width="1.05" height="2.70" fill="#ebe0e9" />
<rect x="281.00" y="128.60" width="1.05" height="2.70" fill="#ece7f0" />
<rect x="282.00" y="128.60" width="1.05" height="2.70" fill="#ebdde6" />
<rect x="283.00" y="128.60" width="1.05" height="2.70" fill="#dbd9ee" />
<rect x="284.00" y="128.60" width="1.05" height="2.70" fill="#eadce5" />
<rect x="285.00" y="128.60" width="1.05" height="2.70" fill="#e2dfef" />
<rect x="286.00" y="128.60" width="1.05" height="2.70" fill="#dfdcef" />
<rect x="287.00" y="128.60" width="1.05" height="2.70" fill="#ebe1ea" />
<rect x="288.00" y="128.60" width="1.05" height="2.70" fill="#ebe2ec" />
<rect x="289.00" y="128.60" width="1.05" height="2.70" fill="#e4e1f0" />
<rect x="290.00" y="128.60" width="1.05" height="2.70" fill="#e3e0f0" />
<rect x="291.00" y="128.60" width="1.05" height="2.70" fill="#eae6f1" />
<rect x="292.00" y="128.60" width="1.05" height="2.70" fill="#ece8f2" />
<rect x="293.00" y="128.60" width="1.05" height="2.70" fill="#eae7f2" />
<rect x="294.00" y="128.60" width="1.05" height="2.70" fill="#e1deef" />
<rect x="295.00" y="128.60" width="1.05" height="2.70" fill="#d3d1eb" />
<rect x="296.00" y="128.60" width="1.05" height="2.70" fill="#ead8e1" />
<rect x="297.00" y="128.60" width="1.05" height="2.70" fill="#ece6ef" />
<rect x="298.00" y="128.60" width="1.05" height="2.70" fill="#dfdcee" />
<rect x="299.00" y="128.60" width="1.05" height="2.70" fill="#dbd9ed" />
<rect x="300.00" y="128.60" width="1.05" height="2.70" fill="#e5e1f0" />
<rect x="301.00" y="128.60" width="1.05" height="2.70" fill="#e8e4f1" />
<rect x="302.00" y="128.60" width="1.05" height="2.70" fill="#d5d3ec" />
<rect x="303.00" y="128.60" width="1.05" height="2.70" fill="#ead7e0" />
<rect x="304.00" y="128.60" width="1.05" height="2.70" fill="#ebe3ec" />
<rect x="305.00" y="128.60" width="1.05" height="2.70" fill="#e9e5f1" />
<rect x="306.00" y="128.60" width="1.05" height="2.70" fill="#ebe4ed" />
<rect x="307.00" y="128.60" width="1.05" height="2.70" fill="#ece5ef" />
<rect x="308.00" y="128.60" width="1.05" height="2.70" fill="#eadbe4" />
<rect x="309.00" y="128.60" width="1.05" height="2.70" fill="#ece6f0" />
<rect x="310.00" y="128.60" width="1.05" height="2.70" fill="#ead9e2" />
<rect x="311.00" y="128.60" width="1.05" height="2.70" fill="#ead5de" />
<rect x="312.00" y="128.60" width="1.05" height="2.70" fill="#e9e5f1" />
<rect x="313.00" y="128.60" width="1.05" height="2.70" fill="#e7e4f1" />
<rect x="314.00" y="128.60" width="1.05" height="2.70" fill="#e3dfef" />
<rect x="315.00" y="128.60" width="1.05" height="2.70" fill="#eae6f1" />
<rect x="316.00" y="128.60" width="1.05" height="2.70" fill="#e4e1f0" />
<rect x="317.00" y="128.60" width="1.05" height="2.70" fill="#ece8f2" />
<rect x="318.00" y="128.60" width="1.05" height="2.70" fill="#ece4ee" />
<rect x="319.00" y="128.60" width="1.05" height="2.70" fill="#e9d0d9" />
<rect x="320.00" y="128.60" width="1.05" height="2.70" fill="#ece4ee" />
<rect x="321.00" y="128.60" width="1.05" height="2.70" fill="#e8cad2" />
<rect x="322.00" y="128.60" width="1.05" height="2.70" fill="#eadae4" />
<rect x="323.00" y="128.60" width="1.05" height="2.70" fill="#ead8e1" />
<rect x="324.00" y="128.60" width="1.05" height="2.70" fill="#ebdde6" />
<rect x="325.00" y="128.60" width="1.05" height="2.70" fill="#e6e3f0" />
<rect x="326.00" y="128.60" width="1.05" height="2.70" fill="#e9d4dc" />
<rect x="327.00" y="128.60" width="1.05" height="2.70" fill="#e9e5f1" />
<rect x="328.00" y="128.60" width="1.05" height="2.70" fill="#e8c9d2" />
<rect x="329.00" y="128.60" width="1.05" height="2.70" fill="#ece7f1" />
<rect x="330.00" y="128.60" width="1.05" height="2.70" fill="#ead5de" />
<rect x="331.00" y="128.60" width="1.05" height="2.70" fill="#ebe0ea" />
<rect x="332.00" y="128.60" width="1.05" height="2.70" fill="#ebdfe9" />
<rect x="333.00" y="128.60" width="1.05" height="2.70" fill="#ead7e0" />
<rect x="334.00" y="128.60" width="1.05" height="2.70" fill="#ece8f2" />
<rect x="335.00" y="128.60" width="1.05" height="2.70" fill="#ead5de" />
<rect x="336.00" y="128.60" width="1.05" height="2.70" fill="#ebe7f2" />
<rect x="337.00" y="128.60" width="1.05" height="2.70" fill="#ece5ef" />
<rect x="338.00" y="128.60" width="1.05" height="2.70" fill="#e5e1f0" />
<rect x="339.00" y="128.60" width="1.05" height="2.70" fill="#ebe1eb" />
<rect x="340.00" y="128.60" width="1.05" height="2.70" fill="#ebe0e9" />
<rect x="341.00" y="128.60" width="1.05" height="2.70" fill="#e7e3f1" />
<rect x="342.00" y="128.60" width="1.05" height="2.70" fill="#dedbee" />
<rect x="343.00" y="128.60" width="1.05" height="2.70" fill="#ece8f2" />
<rect x="344.00" y="128.60" width="1.05" height="2.70" fill="#ebe3ed" />
<rect x="345.00" y="128.60" width="1.05" height="2.70" fill="#eae7f2" />
<rect x="346.00" y="128.60" width="1.05" height="2.70" fill="#e2deef" />
<rect x="347.00" y="128.60" width="1.05" height="2.70" fill="#e4e1f0" />
<rect x="348.00" y="128.60" width="1.05" height="2.70" fill="#e9e5f1" />
<rect x="349.00" y="128.60" width="1.05" height="2.70" fill="#d0ceea" />
<rect x="350.00" y="128.60" width="1.05" height="2.70" fill="#e6e2f0" />
<rect x="351.00" y="128.60" width="1.05" height="2.70" fill="#ead7e0" />
<rect x="352.00" y="128.60" width="1.05" height="2.70" fill="#dedbee" />
<rect x="353.00" y="128.60" width="1.05" height="2.70" fill="#eae6f1" />
<rect x="354.00" y="128.60" width="1.05" height="2.70" fill="#e9d4dc" />
<rect x="355.00" y="128.60" width="1.05" height="2.70" fill="#ebdfe9" />
<rect x="356.00" y="128.60" width="1.05" height="2.70" fill="#ebdde6" />
<rect x="357.00" y="128.60" width="1.05" height="2.70" fill="#ebe7f2" />
<rect x="358.00" y="128.60" width="1.05" height="2.70" fill="#dedbee" />
<rect x="359.00" y="128.60" width="1.05" height="2.70" fill="#e8c5cd" />
<rect x="360.00" y="128.60" width="1.05" height="2.70" fill="#ece4ee" />
<rect x="361.00" y="128.60" width="1.05" height="2.70" fill="#ece5ef" />
<rect x="362.00" y="128.60" width="1.05" height="2.70" fill="#e9d4dd" />
<rect x="363.00" y="128.60" width="1.05" height="2.70" fill="#ebdee8" />
<rect x="364.00" y="128.60" width="1.05" height="2.70" fill="#ece7f1" />
<rect x="365.00" y="128.60" width="1.05" height="2.70" fill="#e0ddef" />
<rect x="366.00" y="128.60" width="1.05" height="2.70" fill="#eae7f2" />
<rect x="367.00" y="128.60" width="1.05" height="2.70" fill="#eae7f2" />
<rect x="368.00" y="128.60" width="1.05" height="2.70" fill="#e5e1f0" />
<rect x="369.00" y="128.60" width="1.05" height="2.70" fill="#e3e0ef" />
<rect x="370.00" y="128.60" width="1.05" height="2.70" fill="#e1deef" />
<rect x="371.00" y="128.60" width="1.05" height="2.70" fill="#ebe7f2" />
<rect x="372.00" y="128.60" width="1.05" height="2.70" fill="#e6e2f0" />
<rect x="373.00" y="128.60" width="1.05" height="2.70" fill="#ebe3ed" />
<rect x="374.00" y="128.60" width="1.05" height="2.70" fill="#eadce5" />
<rect x="375.00" y="128.60" width="1.05" height="2.70" fill="#ece4ee" />
<rect x="376.00" y="128.60" width="1.05" height="2.70" fill="#ece8f2" />
<rect x="377.00" y="128.60" width="1.05" height="2.70" fill="#ead5de" />
<rect x="378.00" y="128.60" width="1.05" height="2.70" fill="#ebe0ea" />
<rect x="379.00" y="128.60" width="1.05" height="2.70" fill="#dcd9ee" />
<rect x="380.00" y="128.60" width="1.05" height="2.70" fill="#e4e1f0" />
<rect x="381.00" y="128.60" width="1.05" height="2.70" fill="#ece6ef" />
<rect x="382.00" y="128.60" width="1.05" height="2.70" fill="#e3dfef" />
<rect x="383.00" y="128.60" width="1.05" height="2.70" fill="#ebdfe8" />
<rect x="384.00" y="128.60" width="1.05" height="2.70" fill="#d9d7ed" />
<rect x="385.00" y="128.60" width="1.05" height="2.70" fill="#d7d5ec" />
<rect x="386.00" y="128.60" width="1.05" height="2.70" fill="#891015" />
<rect x="387.00" y="128.60" width="1.05" height="2.70" fill="#99181d" />
<rect x="388.00" y="128.60" width="1.05" height="2.70" fill="#9c191e" />
<rect x="389.00" y="128.60" width="1.05" height="2.70" fill="#99181c" />
<rect x="390.00" y="128.60" width="1.05" height="2.70" fill="#c86e6e" />
<rect x="391.00" y="128.60" width="1.05" height="2.70" fill="#9b191d" />
<rect x="392.00" y="128.60" width="1.05" height="2.70" fill="#8f1318" />
<rect x="393.00" y="128.60" width="1.05" height="2.70" fill="#860e14" />
<rect x="394.00" y="128.60" width="1.05" height="2.70" fill="#a31d21" />
<rect x="395.00" y="128.60" width="1.05" height="2.70" fill="#e4a5a5" />
<rect x="396.00" y="128.60" width="1.05" height="2.70" fill="#e4a5a5" />
<rect x="397.00" y="128.60" width="1.05" height="2.70" fill="#dd7575" />
<rect x="398.00" y="128.60" width="1.05" height="2.70" fill="#d36464" />
<rect x="399.00" y="128.60" width="1.05" height="2.70" fill="#cf5d5d" />
<rect x="400.00" y="128.60" width="1.05" height="2.70" fill="#da7070" />
<rect x="401.00" y="128.60" width="1.05" height="2.70" fill="#b72d32" />
<rect x="402.00" y="128.60" width="1.05" height="2.70" fill="#bd3136" />
<rect x="403.00" y="128.60" width="1.05" height="2.70" fill="#bd3136" />
<rect x="404.00" y="128.60" width="0.55" height="2.70" fill="#b2282d" />
<defs><pattern id="spk" width="48" height="64" patternUnits="userSpaceOnUse"><path d="M6 0h1v2h-1zM11 0h1v2h-1zM16 0h1v2h-1zM21 0h1v2h-1zM23 0h1v2h-1zM25 0h1v2h-1zM26 0h1v2h-1zM44 0h1v2h-1zM45 0h1v2h-1zM0 2h1v2h-1zM9 2h1v2h-1zM11 2h1v2h-1zM14 2h1v2h-1zM18 2h1v2h-1zM19 2h1v2h-1zM30 2h1v2h-1zM34 2h1v2h-1zM36 2h1v2h-1zM46 2h1v2h-1zM47 2h1v2h-1zM3 4h1v2h-1zM12 4h1v2h-1zM14 4h1v2h-1zM17 4h1v2h-1zM22 4h1v2h-1zM24 4h1v2h-1zM37 4h1v2h-1zM44 4h1v2h-1zM16 6h1v2h-1zM4 8h1v2h-1zM11 8h1v2h-1zM14 8h1v2h-1zM15 8h1v2h-1zM19 8h1v2h-1zM26 8h1v2h-1zM30 8h1v2h-1zM33 8h1v2h-1zM35 8h1v2h-1zM45 8h1v2h-1zM5 10h1v2h-1zM6 10h1v2h-1zM9 10h1v2h-1zM30 10h1v2h-1zM36 10h1v2h-1zM43 10h1v2h-1zM3 12h1v2h-1zM14 12h1v2h-1zM20 12h1v2h-1zM34 12h1v2h-1zM41 12h1v2h-1zM46 12h1v2h-1zM1 14h1v2h-1zM6 14h1v2h-1zM11 14h1v2h-1zM17 14h1v2h-1zM20 14h1v2h-1zM25 14h1v2h-1zM26 14h1v2h-1zM28 14h1v2h-1zM29 14h1v2h-1zM33 14h1v2h-1zM40 14h1v2h-1zM42 14h1v2h-1zM5 16h1v2h-1zM12 16h1v2h-1zM14 16h1v2h-1zM15 16h1v2h-1zM22 16h1v2h-1zM24 16h1v2h-1zM25 16h1v2h-1zM29 16h1v2h-1zM33 16h1v2h-1zM41 16h1v2h-1zM4 18h1v2h-1zM5 18h1v2h-1zM7 18h1v2h-1zM11 18h1v2h-1zM17 18h1v2h-1zM18 18h1v2h-1zM19 18h1v2h-1zM23 18h1v2h-1zM30 18h1v2h-1zM38 18h1v2h-1zM45 18h1v2h-1zM47 18h1v2h-1zM15 20h1v2h-1zM16 20h1v2h-1zM19 20h1v2h-1zM24 20h1v2h-1zM25 20h1v2h-1zM29 20h1v2h-1zM31 20h1v2h-1zM33 20h1v2h-1zM37 20h1v2h-1zM38 20h1v2h-1zM44 20h1v2h-1zM46 20h1v2h-1zM4 22h1v2h-1zM16 22h1v2h-1zM18 22h1v2h-1zM22 22h1v2h-1zM23 22h1v2h-1zM25 22h1v2h-1zM29 22h1v2h-1zM31 22h1v2h-1zM35 22h1v2h-1zM5 24h1v2h-1zM6 24h1v2h-1zM11 24h1v2h-1zM14 24h1v2h-1zM15 24h1v2h-1zM16 24h1v2h-1zM25 24h1v2h-1zM29 24h1v2h-1zM36 24h1v2h-1zM47 24h1v2h-1zM2 26h1v2h-1zM4 26h1v2h-1zM23 26h1v2h-1zM26 26h1v2h-1zM28 26h1v2h-1zM39 26h1v2h-1zM45 26h1v2h-1zM15 28h1v2h-1zM16 28h1v2h-1zM25 28h1v2h-1zM41 28h1v2h-1zM1 30h1v2h-1zM16 30h1v2h-1zM30 30h1v2h-1zM31 30h1v2h-1zM40 30h1v2h-1zM4 32h1v2h-1zM6 32h1v2h-1zM7 32h1v2h-1zM8 32h1v2h-1zM10 32h1v2h-1zM20 32h1v2h-1zM21 32h1v2h-1zM22 32h1v2h-1zM28 32h1v2h-1zM32 32h1v2h-1zM39 32h1v2h-1zM43 32h1v2h-1zM10 34h1v2h-1zM14 34h1v2h-1zM16 34h1v2h-1zM22 34h1v2h-1zM25 34h1v2h-1zM28 34h1v2h-1zM33 34h1v2h-1zM38 34h1v2h-1zM43 34h1v2h-1zM3 36h1v2h-1zM4 36h1v2h-1zM14 36h1v2h-1zM25 36h1v2h-1zM28 36h1v2h-1zM33 36h1v2h-1zM37 36h1v2h-1zM41 36h1v2h-1zM0 38h1v2h-1zM4 38h1v2h-1zM5 38h1v2h-1zM17 38h1v2h-1zM20 38h1v2h-1zM26 38h1v2h-1zM28 38h1v2h-1zM31 38h1v2h-1zM45 38h1v2h-1zM6 40h1v2h-1zM12 40h1v2h-1zM13 40h1v2h-1zM15 40h1v2h-1zM32 40h1v2h-1zM33 40h1v2h-1zM36 40h1v2h-1zM37 40h1v2h-1zM41 40h1v2h-1zM43 40h1v2h-1zM1 42h1v2h-1zM2 42h1v2h-1zM4 42h1v2h-1zM5 42h1v2h-1zM10 42h1v2h-1zM13 42h1v2h-1zM17 42h1v2h-1zM22 42h1v2h-1zM27 42h1v2h-1zM29 42h1v2h-1zM34 42h1v2h-1zM40 42h1v2h-1zM3 44h1v2h-1zM11 44h1v2h-1zM14 44h1v2h-1zM18 44h1v2h-1zM26 44h1v2h-1zM27 44h1v2h-1zM31 44h1v2h-1zM38 44h1v2h-1zM41 44h1v2h-1zM44 44h1v2h-1zM1 46h1v2h-1zM3 46h1v2h-1zM5 46h1v2h-1zM22 46h1v2h-1zM23 46h1v2h-1zM36 46h1v2h-1zM40 46h1v2h-1zM42 46h1v2h-1zM44 46h1v2h-1zM2 48h1v2h-1zM6 48h1v2h-1zM8 48h1v2h-1zM19 48h1v2h-1zM23 48h1v2h-1zM27 48h1v2h-1zM41 48h1v2h-1zM43 48h1v2h-1zM47 48h1v2h-1zM2 50h1v2h-1zM13 50h1v2h-1zM26 50h1v2h-1zM29 50h1v2h-1zM30 50h1v2h-1zM31 50h1v2h-1zM33 50h1v2h-1zM39 50h1v2h-1zM0 52h1v2h-1zM4 52h1v2h-1zM6 52h1v2h-1zM8 52h1v2h-1zM10 52h1v2h-1zM23 52h1v2h-1zM0 54h1v2h-1zM3 54h1v2h-1zM5 54h1v2h-1zM6 54h1v2h-1zM8 54h1v2h-1zM9 54h1v2h-1zM15 54h1v2h-1zM16 54h1v2h-1zM17 54h1v2h-1zM18 54h1v2h-1zM34 54h1v2h-1zM39 54h1v2h-1zM47 54h1v2h-1zM1 56h1v2h-1zM5 56h1v2h-1zM9 56h1v2h-1zM12 56h1v2h-1zM16 56h1v2h-1zM20 56h1v2h-1zM23 56h1v2h-1zM28 56h1v2h-1zM34 56h1v2h-1zM1 58h1v2h-1zM11 58h1v2h-1zM12 58h1v2h-1zM15 58h1v2h-1zM16 58h1v2h-1zM20 58h1v2h-1zM34 58h1v2h-1zM43 58h1v2h-1zM10 60h1v2h-1zM24 60h1v2h-1zM28 60h1v2h-1zM34 60h1v2h-1zM35 60h1v2h-1zM40 60h1v2h-1zM41 60h1v2h-1zM2 62h1v2h-1zM6 62h1v2h-1zM17 62h1v2h-1zM20 62h1v2h-1zM21 62h1v2h-1zM36 62h1v2h-1zM37 62h1v2h-1zM40 62h1v2h-1z" fill="#d84a5a" opacity="0.09"/><path d="M13 0h1v2h-1zM17 0h1v2h-1zM18 0h1v2h-1zM28 0h1v2h-1zM29 0h1v2h-1zM32 0h1v2h-1zM36 0h1v2h-1zM41 0h1v2h-1zM43 0h1v2h-1zM20 2h1v2h-1zM22 2h1v2h-1zM45 2h1v2h-1zM2 4h1v2h-1zM7 4h1v2h-1zM26 4h1v2h-1zM35 4h1v2h-1zM45 4h1v2h-1zM8 6h1v2h-1zM12 6h1v2h-1zM18 6h1v2h-1zM36 6h1v2h-1zM43 6h1v2h-1zM5 8h1v2h-1zM8 8h1v2h-1zM13 8h1v2h-1zM17 8h1v2h-1zM18 8h1v2h-1zM24 8h1v2h-1zM28 8h1v2h-1zM14 10h1v2h-1zM15 10h1v2h-1zM21 10h1v2h-1zM28 10h1v2h-1zM33 10h1v2h-1zM38 10h1v2h-1zM41 10h1v2h-1zM42 10h1v2h-1zM45 10h1v2h-1zM8 12h1v2h-1zM15 12h1v2h-1zM31 12h1v2h-1zM32 12h1v2h-1zM38 12h1v2h-1zM2 14h1v2h-1zM13 14h1v2h-1zM18 14h1v2h-1zM23 14h1v2h-1zM0 16h1v2h-1zM2 16h1v2h-1zM6 16h1v2h-1zM9 16h1v2h-1zM17 16h1v2h-1zM28 16h1v2h-1zM36 16h1v2h-1zM6 18h1v2h-1zM24 18h1v2h-1zM25 18h1v2h-1zM26 18h1v2h-1zM27 18h1v2h-1zM28 18h1v2h-1zM40 18h1v2h-1zM43 18h1v2h-1zM44 18h1v2h-1zM46 18h1v2h-1zM5 20h1v2h-1zM8 20h1v2h-1zM9 20h1v2h-1zM30 20h1v2h-1zM34 20h1v2h-1zM40 20h1v2h-1zM3 22h1v2h-1zM15 22h1v2h-1zM24 22h1v2h-1zM28 22h1v2h-1zM32 22h1v2h-1zM33 22h1v2h-1zM2 24h1v2h-1zM7 24h1v2h-1zM8 24h1v2h-1zM10 24h1v2h-1zM21 24h1v2h-1zM31 24h1v2h-1zM9 26h1v2h-1zM10 26h1v2h-1zM11 26h1v2h-1zM15 26h1v2h-1zM17 26h1v2h-1zM27 26h1v2h-1zM31 26h1v2h-1zM42 26h1v2h-1zM14 28h1v2h-1zM23 28h1v2h-1zM34 28h1v2h-1zM37 28h1v2h-1zM43 28h1v2h-1zM7 30h1v2h-1zM9 30h1v2h-1zM12 30h1v2h-1zM15 30h1v2h-1zM26 30h1v2h-1zM29 30h1v2h-1zM34 30h1v2h-1zM35 30h1v2h-1zM0 32h1v2h-1zM5 32h1v2h-1zM23 32h1v2h-1zM42 32h1v2h-1zM1 34h1v2h-1zM6 34h1v2h-1zM12 34h1v2h-1zM15 34h1v2h-1zM29 34h1v2h-1zM34 34h1v2h-1zM39 34h1v2h-1zM19 36h1v2h-1zM21 36h1v2h-1zM23 36h1v2h-1zM26 36h1v2h-1zM32 36h1v2h-1zM38 36h1v2h-1zM42 36h1v2h-1zM44 36h1v2h-1zM12 38h1v2h-1zM14 38h1v2h-1zM32 38h1v2h-1zM43 38h1v2h-1zM3 40h1v2h-1zM10 40h1v2h-1zM17 40h1v2h-1zM18 40h1v2h-1zM21 40h1v2h-1zM26 40h1v2h-1zM27 40h1v2h-1zM31 40h1v2h-1zM47 40h1v2h-1zM15 42h1v2h-1zM16 42h1v2h-1zM23 42h1v2h-1zM24 42h1v2h-1zM26 42h1v2h-1zM33 42h1v2h-1zM41 42h1v2h-1zM2 44h1v2h-1zM4 44h1v2h-1zM7 44h1v2h-1zM23 44h1v2h-1zM33 44h1v2h-1zM40 44h1v2h-1zM43 44h1v2h-1zM9 46h1v2h-1zM13 46h1v2h-1zM30 46h1v2h-1zM32 46h1v2h-1zM37 46h1v2h-1zM43 46h1v2h-1zM0 48h1v2h-1zM4 48h1v2h-1zM16 48h1v2h-1zM3 50h1v2h-1zM6 50h1v2h-1zM11 50h1v2h-1zM12 50h1v2h-1zM27 50h1v2h-1zM3 52h1v2h-1zM9 52h1v2h-1zM15 52h1v2h-1zM19 52h1v2h-1zM39 52h1v2h-1zM41 52h1v2h-1zM44 52h1v2h-1zM4 54h1v2h-1zM27 54h1v2h-1zM31 54h1v2h-1zM32 54h1v2h-1zM36 54h1v2h-1zM10 56h1v2h-1zM14 56h1v2h-1zM15 56h1v2h-1zM19 56h1v2h-1zM25 56h1v2h-1zM35 56h1v2h-1zM36 56h1v2h-1zM37 56h1v2h-1zM8 58h1v2h-1zM18 58h1v2h-1zM22 58h1v2h-1zM30 58h1v2h-1zM47 58h1v2h-1zM0 60h1v2h-1zM4 60h1v2h-1zM9 60h1v2h-1zM13 60h1v2h-1zM22 60h1v2h-1zM26 60h1v2h-1zM29 60h1v2h-1zM32 60h1v2h-1zM36 60h1v2h-1zM39 60h1v2h-1zM47 60h1v2h-1zM0 62h1v2h-1zM1 62h1v2h-1zM3 62h1v2h-1zM16 62h1v2h-1zM18 62h1v2h-1zM22 62h1v2h-1zM35 62h1v2h-1zM39 62h1v2h-1zM42 62h1v2h-1zM43 62h1v2h-1zM46 62h1v2h-1z" fill="#5a5ac8" opacity="0.08"/><path d="M46 0h1v2h-1zM2 2h1v2h-1zM3 2h1v2h-1zM6 2h1v2h-1zM26 2h1v2h-1zM27 2h1v2h-1zM37 2h1v2h-1zM40 2h1v2h-1zM43 2h1v2h-1zM44 2h1v2h-1zM43 4h1v2h-1zM24 6h1v2h-1zM28 6h1v2h-1zM16 8h1v2h-1zM37 8h1v2h-1zM3 10h1v2h-1zM25 10h1v2h-1zM5 12h1v2h-1zM7 12h1v2h-1zM45 12h1v2h-1zM35 14h1v2h-1zM20 16h1v2h-1zM35 16h1v2h-1zM37 16h1v2h-1zM39 16h1v2h-1zM3 20h1v2h-1zM23 20h1v2h-1zM36 20h1v2h-1zM45 20h1v2h-1zM12 22h1v2h-1zM17 22h1v2h-1zM21 22h1v2h-1zM37 22h1v2h-1zM17 24h1v2h-1zM24 24h1v2h-1zM37 24h1v2h-1zM13 26h1v2h-1zM16 26h1v2h-1zM33 26h1v2h-1zM44 26h1v2h-1zM46 26h1v2h-1zM17 28h1v2h-1zM21 28h1v2h-1zM8 30h1v2h-1zM25 30h1v2h-1zM44 30h1v2h-1zM45 32h1v2h-1zM7 34h1v2h-1zM23 34h1v2h-1zM30 38h1v2h-1zM42 38h1v2h-1zM7 40h1v2h-1zM14 40h1v2h-1zM28 42h1v2h-1zM5 44h1v2h-1zM13 44h1v2h-1zM25 44h1v2h-1zM32 44h1v2h-1zM19 46h1v2h-1zM5 48h1v2h-1zM10 48h1v2h-1zM17 48h1v2h-1zM29 48h1v2h-1zM35 48h1v2h-1zM19 50h1v2h-1zM5 52h1v2h-1zM12 52h1v2h-1zM40 52h1v2h-1zM13 54h1v2h-1zM42 54h1v2h-1zM45 54h1v2h-1zM17 56h1v2h-1zM21 56h1v2h-1zM24 56h1v2h-1zM30 56h1v2h-1zM40 56h1v2h-1zM4 58h1v2h-1zM23 58h1v2h-1zM32 58h1v2h-1zM19 60h1v2h-1zM20 60h1v2h-1zM38 60h1v2h-1zM7 62h1v2h-1zM29 62h1v2h-1zM31 62h1v2h-1zM41 62h1v2h-1z" fill="#ffffff" opacity="0.35"/></pattern></defs>
<rect x="162.0" y="24.3" width="224.0" height="107" fill="url(#spk)"/>
<rect x="162.0" y="88.5" width="224.0" height="27" fill="url(#spk)" opacity="0.8"/>
<rect x="162.0" y="29" width="224.5" height="0.7" fill="#ffffff" opacity="0.06"/>
<rect x="162.0" y="43" width="224.5" height="0.7" fill="#ffffff" opacity="0.16"/>
<rect x="162.0" y="45" width="224.5" height="0.7" fill="#ffffff" opacity="0.06"/>
<rect x="162.0" y="53" width="224.5" height="0.7" fill="#ffffff" opacity="0.14"/>
<rect x="162.0" y="57" width="224.5" height="0.7" fill="#ffffff" opacity="0.16"/>
<rect x="162.0" y="65" width="224.5" height="0.7" fill="#ffffff" opacity="0.15"/>
<rect x="162.0" y="83" width="224.5" height="0.7" fill="#ffffff" opacity="0.10"/>
<rect x="162.0" y="93" width="224.5" height="0.7" fill="#ffffff" opacity="0.17"/>
<rect x="162.0" y="99" width="224.5" height="0.7" fill="#ffffff" opacity="0.18"/>
<rect x="162.0" y="111" width="224.5" height="0.7" fill="#ffffff" opacity="0.10"/>
<rect x="162.0" y="113" width="224.5" height="0.7" fill="#ffffff" opacity="0.12"/>
<rect x="162.0" y="119" width="224.5" height="0.7" fill="#ffffff" opacity="0.05"/>
<rect x="162.0" y="125" width="224.5" height="0.7" fill="#ffffff" opacity="0.14"/>
<line x1="185.50" y1="23.80" x2="185.50" y2="131.80" stroke="#3a3a3a" stroke-width="0.9" />
<line x1="202.50" y1="23.80" x2="202.50" y2="131.80" stroke="#3a3a3a" stroke-width="0.9" />
<line x1="215.80" y1="23.80" x2="215.80" y2="131.80" stroke="#3a3a3a" stroke-width="0.9" />
<line x1="225.60" y1="23.80" x2="225.60" y2="131.80" stroke="#3a3a3a" stroke-width="0.9" />
<line x1="236.70" y1="23.80" x2="236.70" y2="131.80" stroke="#3a3a3a" stroke-width="0.9" />
<line x1="249.20" y1="23.80" x2="249.20" y2="131.80" stroke="#3a3a3a" stroke-width="0.9" />
<line x1="261.50" y1="23.80" x2="261.50" y2="131.80" stroke="#3a3a3a" stroke-width="0.9" />
<line x1="269.40" y1="23.80" x2="269.40" y2="131.80" stroke="#3a3a3a" stroke-width="0.9" />
<line x1="278.30" y1="23.80" x2="278.30" y2="131.80" stroke="#3a3a3a" stroke-width="0.9" />
<line x1="287.70" y1="23.80" x2="287.70" y2="131.80" stroke="#3a3a3a" stroke-width="0.9" />
<line x1="301.20" y1="23.80" x2="301.20" y2="131.80" stroke="#3a3a3a" stroke-width="0.9" />
<line x1="314.70" y1="23.80" x2="314.70" y2="131.80" stroke="#3a3a3a" stroke-width="0.9" />
<line x1="318.60" y1="23.80" x2="318.60" y2="131.80" stroke="#3a3a3a" stroke-width="0.9" />
<line x1="328.30" y1="23.80" x2="328.30" y2="131.80" stroke="#3a3a3a" stroke-width="0.9" />
<line x1="336.80" y1="23.80" x2="336.80" y2="131.80" stroke="#3a3a3a" stroke-width="0.9" />
<line x1="347.00" y1="23.80" x2="347.00" y2="131.80" stroke="#3a3a3a" stroke-width="0.9" />
<line x1="361.30" y1="23.80" x2="361.30" y2="131.80" stroke="#3a3a3a" stroke-width="0.9" />
<line x1="365.00" y1="23.80" x2="365.00" y2="131.80" stroke="#3a3a3a" stroke-width="0.9" />
<line x1="380.70" y1="23.80" x2="380.70" y2="131.80" stroke="#3a3a3a" stroke-width="0.9" />
<line x1="385.80" y1="23.80" x2="385.80" y2="131.80" stroke="#3a3a3a" stroke-width="0.9" />
<line x1="394.60" y1="23.80" x2="394.60" y2="131.80" stroke="#3a3a3a" stroke-width="0.9" />
<line x1="404.30" y1="23.80" x2="404.30" y2="131.80" stroke="#3a3a3a" stroke-width="0.9" />
<rect x="162.30" y="16.8" width="10.30" height="5.1" fill="#eeeef3" stroke="#222" stroke-width="0.8"/>
<rect x="167.05" y="18.6" width="0.8" height="1.6" fill="#9a9aaa" opacity="0.6"/>
<rect x="173.00" y="16.8" width="9.00" height="5.1" fill="#eeeef3" stroke="#222" stroke-width="0.8"/>
<rect x="177.10" y="18.6" width="0.8" height="1.6" fill="#9a9aaa" opacity="0.6"/>
<rect x="182.40" y="16.8" width="18.50" height="5.1" fill="#eeeef3" stroke="#222" stroke-width="0.8"/>
<rect x="191.25" y="18.6" width="0.8" height="1.6" fill="#9a9aaa" opacity="0.6"/>
<rect x="201.30" y="16.8" width="15.90" height="5.1" fill="#eeeef3" stroke="#222" stroke-width="0.8"/>
<rect x="208.85" y="18.6" width="0.8" height="1.6" fill="#9a9aaa" opacity="0.6"/>
<rect x="217.60" y="16.8" width="14.40" height="5.1" fill="#eeeef3" stroke="#222" stroke-width="0.8"/>
<rect x="224.40" y="18.6" width="0.8" height="1.6" fill="#9a9aaa" opacity="0.6"/>
<rect x="232.40" y="16.8" width="14.90" height="5.1" fill="#eeeef3" stroke="#222" stroke-width="0.8"/>
<rect x="239.45" y="18.6" width="0.8" height="1.6" fill="#9a9aaa" opacity="0.6"/>
<rect x="247.70" y="16.8" width="12.60" height="5.1" fill="#eeeef3" stroke="#222" stroke-width="0.8"/>
<rect x="253.60" y="18.6" width="0.8" height="1.6" fill="#9a9aaa" opacity="0.6"/>
<rect x="260.80" y="16.8" width="11.80" height="5.1" fill="#eeeef3" stroke="#222" stroke-width="0.8"/>
<rect x="266.30" y="18.6" width="0.8" height="1.6" fill="#9a9aaa" opacity="0.6"/>
<rect x="273.90" y="16.8" width="11.00" height="5.1" fill="#eeeef3" stroke="#222" stroke-width="0.8"/>
<rect x="279.00" y="18.6" width="0.8" height="1.6" fill="#9a9aaa" opacity="0.6"/>
<rect x="286.00" y="16.8" width="10.30" height="5.1" fill="#e4e2f6" stroke="#222" stroke-width="0.8"/>
<rect x="290.75" y="18.6" width="0.8" height="1.6" fill="#9a9aaa" opacity="0.6"/>
<rect x="297.10" y="16.8" width="9.80" height="5.1" fill="#eeeef3" stroke="#222" stroke-width="0.8"/>
<rect x="301.60" y="18.6" width="0.8" height="1.6" fill="#9a9aaa" opacity="0.6"/>
<rect x="307.70" y="16.8" width="9.80" height="5.1" fill="#eeeef3" stroke="#222" stroke-width="0.8"/>
<rect x="312.20" y="18.6" width="0.8" height="1.6" fill="#9a9aaa" opacity="0.6"/>
<rect x="318.20" y="16.8" width="8.70" height="5.1" fill="#eeeef3" stroke="#222" stroke-width="0.8"/>
<rect x="322.15" y="18.6" width="0.8" height="1.6" fill="#9a9aaa" opacity="0.6"/>
<rect x="328.20" y="16.8" width="8.50" height="5.1" fill="#eeeef3" stroke="#222" stroke-width="0.8"/>
<rect x="332.05" y="18.6" width="0.8" height="1.6" fill="#9a9aaa" opacity="0.6"/>
<rect x="337.90" y="16.8" width="8.30" height="5.1" fill="#efb1b1" stroke="#222" stroke-width="0.8"/>
<rect x="341.65" y="18.6" width="0.8" height="1.6" fill="#9a9aaa" opacity="0.6"/>
<rect x="346.90" y="16.8" width="7.10" height="5.1" fill="#eeeef3" stroke="#222" stroke-width="0.8"/>
<rect x="350.05" y="18.6" width="0.8" height="1.6" fill="#9a9aaa" opacity="0.6"/>
<rect x="354.80" y="16.8" width="6.20" height="5.1" fill="#eeeef3" stroke="#222" stroke-width="0.8"/>
<rect x="357.50" y="18.6" width="0.8" height="1.6" fill="#9a9aaa" opacity="0.6"/>
<rect x="361.70" y="16.8" width="6.00" height="5.1" fill="#eeeef3" stroke="#222" stroke-width="0.8"/>
<rect x="364.30" y="18.6" width="0.8" height="1.6" fill="#9a9aaa" opacity="0.6"/>
<rect x="368.60" y="16.8" width="5.80" height="5.1" fill="#eeeef3" stroke="#222" stroke-width="0.8"/>
<rect x="371.10" y="18.6" width="0.8" height="1.6" fill="#9a9aaa" opacity="0.6"/>
<rect x="375.30" y="16.8" width="4.50" height="5.1" fill="#eeeef3" stroke="#222" stroke-width="0.8"/>
<rect x="377.15" y="18.6" width="0.8" height="1.6" fill="#9a9aaa" opacity="0.6"/>
<rect x="380.50" y="16.8" width="4.00" height="5.1" fill="#eeeef3" stroke="#222" stroke-width="0.8"/>
<rect x="382.10" y="18.6" width="0.8" height="1.6" fill="#9a9aaa" opacity="0.6"/>
<rect x="385.00" y="16.8" width="7.30" height="5.1" fill="#f2c8d0" stroke="#222" stroke-width="0.8"/>
<rect x="388.25" y="18.6" width="0.8" height="1.6" fill="#9a9aaa" opacity="0.6"/>
<rect x="393.00" y="16.8" width="11.20" height="5.1" fill="#e26060" stroke="#222" stroke-width="0.8"/>
<rect x="398.20" y="18.6" width="0.8" height="1.6" fill="#9a9aaa" opacity="0.6"/>
<rect x="156.20" y="24.30" width="4.50" height="8.70" fill="#e1579c" />
<rect x="156.20" y="34.30" width="4.50" height="92.80" fill="#42bb93" />
<rect x="156.20" y="128.70" width="4.50" height="2.60" fill="#c9a06c" />
<text x="151.60" y="28.70" font-size="6" fill="#333" text-anchor="middle" stroke="#333" stroke-width="0.18" transform="rotate(-90 151.60 28.70)" >C1</text>
<text x="151.60" y="82.60" font-size="6" fill="#333" text-anchor="middle" stroke="#333" stroke-width="0.18" transform="rotate(-90 151.60 82.60)" >C2</text>
<text x="151.60" y="129.30" font-size="6" fill="#333" text-anchor="middle" stroke="#333" stroke-width="0.18" transform="rotate(-90 151.60 129.30)" >C3</text>
<defs><clipPath id="rhc"><rect x="419.6" y="24.7" width="93.60" height="9"/><rect x="419.6" y="35.2" width="93.60" height="92.7"/></clipPath><filter id="hb" x="-10%" y="-10%" width="120%" height="120%"><feGaussianBlur stdDeviation="5 0.35"/></filter></defs>
<g clip-path="url(#rhc)">
<rect x="419.60" y="24.70" width="93.60" height="9.00" fill="#c65a5e" />
<rect x="419.60" y="35.20" width="93.60" height="92.70" fill="#b01e26" />
<g filter="url(#hb)">
<rect x="411.6" y="24.7" width="50" height="9" fill="#bc3a40"/>
<rect x="462" y="23" width="20" height="12" fill="#dc9a9c"/>
<rect x="482" y="23" width="40" height="12" fill="#f0d6d6"/>
<rect x="414.6" y="26.69" width="33.2" height="0.9" fill="#e8a0a0" opacity="0.7"/>
<rect x="414.6" y="32.42" width="45.7" height="0.9" fill="#e8a0a0" opacity="0.7"/>
<rect x="414.6" y="32.16" width="45.4" height="0.9" fill="#e8a0a0" opacity="0.7"/>
<rect x="414.6" y="25.98" width="37.2" height="0.9" fill="#e8a0a0" opacity="0.7"/>
<rect x="414.6" y="95" width="110" height="24" fill="#a8141c" opacity="0.8"/>
<rect x="439.6" y="72" width="60" height="22" fill="#a8141c" opacity="0.5"/>
<rect x="492" y="62" width="30" height="10" fill="#e4a0a0" opacity="0.5"/>
<rect x="500" y="35" width="30" height="90" fill="#e0a0a0" opacity="0.25"/>
<rect x="414.6" y="35" width="110" height="25" fill="#d06060" opacity="0.3"/>
<rect x="414.6" y="118" width="110" height="10" fill="#d06a6a" opacity="0.6"/>
<rect x="495.7" y="74.36" width="37.8" height="1.5" fill="#eab0b0" opacity="0.43"/>
<rect x="481.2" y="111.54" width="33.8" height="0.9" fill="#d47a7a" opacity="0.44"/>
<rect x="497.3" y="108.04" width="40.8" height="1.2" fill="#dc8a8a" opacity="0.80"/>
<rect x="422.9" y="69.99" width="41.0" height="1.5" fill="#eab0b0" opacity="0.61"/>
<rect x="499.3" y="127.28" width="34.4" height="0.9" fill="#d47a7a" opacity="0.65"/>
<rect x="487.0" y="37.70" width="28.6" height="0.9" fill="#d47a7a" opacity="0.62"/>
<rect x="484.4" y="99.17" width="23.8" height="1.2" fill="#d47a7a" opacity="0.71"/>
<rect x="483.2" y="120.87" width="44.7" height="0.9" fill="#eab0b0" opacity="0.46"/>
<rect x="418.1" y="47.19" width="34.4" height="1.2" fill="#dc8a8a" opacity="0.41"/>
<rect x="420.2" y="106.38" width="25.1" height="1.5" fill="#eab0b0" opacity="0.35"/>
<rect x="420.5" y="112.99" width="27.4" height="1.2" fill="#e49a9a" opacity="0.69"/>
<rect x="434.4" y="90.75" width="32.6" height="0.7" fill="#d47a7a" opacity="0.58"/>
<rect x="400.2" y="124.01" width="43.5" height="1.2" fill="#dc8a8a" opacity="0.51"/>
<rect x="490.8" y="104.88" width="30.4" height="1.5" fill="#dc8a8a" opacity="0.36"/>
<rect x="468.9" y="94.57" width="37.6" height="1.5" fill="#e49a9a" opacity="0.51"/>
<rect x="483.0" y="49.45" width="26.5" height="0.7" fill="#dc8a8a" opacity="0.78"/>
<rect x="418.3" y="77.36" width="40.4" height="0.9" fill="#dc8a8a" opacity="0.60"/>
<rect x="476.9" y="50.59" width="19.3" height="0.7" fill="#dc8a8a" opacity="0.59"/>
<rect x="416.6" y="43.04" width="22.3" height="0.9" fill="#d47a7a" opacity="0.61"/>
<rect x="428.4" y="110.71" width="39.2" height="0.7" fill="#eab0b0" opacity="0.75"/>
<rect x="411.7" y="73.76" width="39.2" height="1.5" fill="#d47a7a" opacity="0.43"/>
<rect x="480.9" y="120.69" width="31.5" height="0.7" fill="#eab0b0" opacity="0.59"/>
<rect x="414.3" y="50.34" width="22.9" height="1.2" fill="#eab0b0" opacity="0.37"/>
<rect x="497.8" y="61.71" width="19.8" height="0.7" fill="#dc8a8a" opacity="0.49"/>
<rect x="486.5" y="71.24" width="23.1" height="1.2" fill="#eab0b0" opacity="0.69"/>
<rect x="487.4" y="111.57" width="34.5" height="0.7" fill="#eab0b0" opacity="0.68"/>
<rect x="486.2" y="39.51" width="42.0" height="1.2" fill="#e49a9a" opacity="0.54"/>
<rect x="404.6" y="53.68" width="43.9" height="0.7" fill="#e49a9a" opacity="0.65"/>
<rect x="410.2" y="56.48" width="40.4" height="1.5" fill="#dc8a8a" opacity="0.48"/>
<rect x="487.6" y="90.05" width="26.5" height="0.9" fill="#dc8a8a" opacity="0.48"/>
<rect x="435.2" y="104.43" width="39.9" height="0.7" fill="#eab0b0" opacity="0.60"/>
<rect x="474.0" y="110.99" width="35.2" height="0.9" fill="#eab0b0" opacity="0.45"/>
<rect x="499.4" y="126.06" width="46.3" height="0.9" fill="#d47a7a" opacity="0.79"/>
<rect x="461.3" y="81.29" width="25.8" height="0.9" fill="#eab0b0" opacity="0.70"/>
<rect x="399.7" y="83.13" width="17.8" height="0.7" fill="#d47a7a" opacity="0.40"/>
<rect x="476.5" y="78.89" width="32.9" height="0.7" fill="#eab0b0" opacity="0.64"/>
<rect x="411.4" y="115.71" width="36.9" height="1.2" fill="#e49a9a" opacity="0.48"/>
<rect x="481.9" y="35.71" width="21.4" height="1.5" fill="#eab0b0" opacity="0.75"/>
<rect x="410.0" y="59.68" width="43.1" height="1.2" fill="#eab0b0" opacity="0.44"/>
<rect x="423.1" y="50.06" width="15.1" height="0.7" fill="#eab0b0" opacity="0.37"/>
<rect x="474.5" y="108.04" width="16.0" height="0.9" fill="#eab0b0" opacity="0.61"/>
<rect x="459.1" y="86.35" width="19.2" height="0.9" fill="#dc8a8a" opacity="0.39"/>
<rect x="409.4" y="120.91" width="36.8" height="1.2" fill="#d47a7a" opacity="0.71"/>
<rect x="409.2" y="114.11" width="24.1" height="0.7" fill="#d47a7a" opacity="0.70"/>
<rect x="500.2" y="52.68" width="31.2" height="0.7" fill="#dc8a8a" opacity="0.43"/>
<rect x="477.6" y="92.04" width="17.1" height="0.7" fill="#d47a7a" opacity="0.76"/>
<rect x="473.5" y="121.30" width="41.8" height="0.7" fill="#eab0b0" opacity="0.58"/>
<rect x="475.1" y="101.82" width="48.3" height="0.7" fill="#d47a7a" opacity="0.39"/>
<rect x="487.9" y="72.81" width="24.3" height="1.5" fill="#eab0b0" opacity="0.64"/>
<rect x="426.9" y="124.93" width="19.8" height="1.2" fill="#d47a7a" opacity="0.64"/>
<rect x="421.9" y="86.73" width="26.0" height="1.2" fill="#e49a9a" opacity="0.76"/>
<rect x="487.4" y="94.41" width="33.0" height="0.9" fill="#dc8a8a" opacity="0.65"/>
<rect x="482.7" y="78.87" width="36.6" height="0.9" fill="#d47a7a" opacity="0.59"/>
<rect x="405.0" y="104.66" width="31.2" height="1.2" fill="#dc8a8a" opacity="0.39"/>
<rect x="450.2" y="101.98" width="29.9" height="1.2" fill="#eab0b0" opacity="0.46"/>
<rect x="455.4" y="58.92" width="16.6" height="0.7" fill="#dc8a8a" opacity="0.66"/>
<rect x="494.2" y="82.32" width="49.9" height="0.9" fill="#d47a7a" opacity="0.47"/>
<rect x="420.9" y="99.11" width="44.1" height="1.5" fill="#d47a7a" opacity="0.44"/>
<rect x="459.6" y="97.11" width="36.4" height="1.2" fill="#d47a7a" opacity="0.48"/>
<rect x="410.5" y="102.81" width="26.2" height="0.9" fill="#eab0b0" opacity="0.59"/>
<rect x="501.9" y="82.61" width="23.2" height="1.2" fill="#dc8a8a" opacity="0.40"/>
<rect x="417.0" y="95.67" width="24.5" height="0.9" fill="#e49a9a" opacity="0.37"/>
<rect x="455.7" y="39.94" width="19.6" height="1.5" fill="#d47a7a" opacity="0.52"/>
<rect x="428.9" y="63.13" width="38.4" height="0.7" fill="#d47a7a" opacity="0.64"/>
<rect x="444.0" y="76.54" width="18.0" height="1.5" fill="#dc8a8a" opacity="0.64"/>
<rect x="409.7" y="111.72" width="18.5" height="0.7" fill="#d47a7a" opacity="0.71"/>
<rect x="487.5" y="66.31" width="17.9" height="1.5" fill="#d47a7a" opacity="0.37"/>
<rect x="415.1" y="105.91" width="17.7" height="1.2" fill="#e49a9a" opacity="0.56"/>
<rect x="468.0" y="73.21" width="37.1" height="1.5" fill="#e49a9a" opacity="0.54"/>
<rect x="495.4" y="94.67" width="35.1" height="0.7" fill="#dc8a8a" opacity="0.56"/>
<rect x="427.8" y="60.28" width="37.1" height="1.5" fill="#d47a7a" opacity="0.52"/>
<rect x="424.8" y="66.81" width="23.5" height="0.9" fill="#eab0b0" opacity="0.66"/>
<rect x="424.0" y="37.61" width="17.9" height="0.7" fill="#d47a7a" opacity="0.78"/>
<rect x="406.4" y="78.53" width="22.8" height="1.5" fill="#dc8a8a" opacity="0.43"/>
<rect x="418.5" y="104.42" width="30.9" height="0.7" fill="#d47a7a" opacity="0.57"/>
<rect x="418.1" y="118.60" width="43.4" height="0.9" fill="#d47a7a" opacity="0.44"/>
<rect x="405.8" y="108.72" width="20.0" height="0.9" fill="#dc8a8a" opacity="0.37"/>
<rect x="501.0" y="90.47" width="24.8" height="0.9" fill="#e49a9a" opacity="0.72"/>
<rect x="498.2" y="119.74" width="23.6" height="0.7" fill="#d47a7a" opacity="0.71"/>
<rect x="413.9" y="74.24" width="34.6" height="0.7" fill="#e49a9a" opacity="0.36"/>
<rect x="454.7" y="117.77" width="29.7" height="0.7" fill="#eab0b0" opacity="0.78"/>
<rect x="481.3" y="78.02" width="37.0" height="0.7" fill="#e49a9a" opacity="0.47"/>
<rect x="477.2" y="64.50" width="35.9" height="0.9" fill="#dc8a8a" opacity="0.61"/>
<rect x="415.3" y="111.62" width="38.7" height="0.9" fill="#e49a9a" opacity="0.47"/>
<rect x="483.6" y="99.26" width="31.6" height="0.7" fill="#eab0b0" opacity="0.38"/>
<rect x="419.6" y="124.66" width="21.5" height="1.2" fill="#dc8a8a" opacity="0.71"/>
<rect x="430.1" y="100.52" width="28.3" height="1.5" fill="#d47a7a" opacity="0.79"/>
<rect x="407.4" y="121.95" width="16.2" height="0.7" fill="#dc8a8a" opacity="0.57"/>
<rect x="410.6" y="94.14" width="29.5" height="0.9" fill="#e49a9a" opacity="0.74"/>
<rect x="419.7" y="47.23" width="23.4" height="1.2" fill="#eab0b0" opacity="0.52"/>
<rect x="475.0" y="54.33" width="36.8" height="0.9" fill="#e49a9a" opacity="0.74"/>
<rect x="490.5" y="59.81" width="29.3" height="1.2" fill="#eab0b0" opacity="0.50"/>
<rect x="497.2" y="86.06" width="20.5" height="0.7" fill="#d47a7a" opacity="0.55"/>
<rect x="419.0" y="83.66" width="19.4" height="1.5" fill="#e49a9a" opacity="0.50"/>
<rect x="412.4" y="46.19" width="18.7" height="1.5" fill="#e49a9a" opacity="0.47"/>
<rect x="409.6" y="63.37" width="36.8" height="0.9" fill="#eab0b0" opacity="0.55"/>
<rect x="424.2" y="125.93" width="21.7" height="1.5" fill="#dc8a8a" opacity="0.79"/>
<rect x="424.7" y="110.25" width="19.3" height="1.5" fill="#eab0b0" opacity="0.75"/>
<rect x="503.0" y="109.72" width="31.6" height="1.2" fill="#eab0b0" opacity="0.39"/>
<rect x="496.9" y="70.13" width="28.1" height="0.9" fill="#eab0b0" opacity="0.62"/>
<rect x="413.0" y="37.12" width="38.8" height="0.7" fill="#dc8a8a" opacity="0.66"/>
<rect x="420.5" y="102.00" width="42.7" height="0.7" fill="#e49a9a" opacity="0.79"/>
<rect x="475.5" y="98.07" width="15.6" height="0.9" fill="#e49a9a" opacity="0.70"/>
<rect x="477.2" y="97.85" width="39.0" height="1.5" fill="#dc8a8a" opacity="0.41"/>
<rect x="455.6" y="95.23" width="31.1" height="0.7" fill="#eab0b0" opacity="0.41"/>
<rect x="411.9" y="53.39" width="36.6" height="0.7" fill="#e49a9a" opacity="0.67"/>
<rect x="427.8" y="59.17" width="16.2" height="1.5" fill="#dc8a8a" opacity="0.79"/>
<rect x="487.0" y="47.13" width="17.7" height="1.5" fill="#eab0b0" opacity="0.52"/>
<rect x="474.3" y="93.42" width="22.9" height="0.7" fill="#eab0b0" opacity="0.69"/>
<rect x="429.3" y="116.06" width="25.2" height="1.2" fill="#d47a7a" opacity="0.36"/>
<rect x="471.5" y="117.79" width="28.5" height="1" fill="#8c0a12" opacity="0.5"/>
<rect x="412.5" y="64.04" width="43.5" height="1" fill="#8c0a12" opacity="0.5"/>
<rect x="405.8" y="48.50" width="28.6" height="1" fill="#8c0a12" opacity="0.5"/>
<rect x="447.1" y="52.23" width="58.4" height="1" fill="#8c0a12" opacity="0.5"/>
<rect x="452.3" y="109.32" width="35.6" height="1" fill="#8c0a12" opacity="0.5"/>
<rect x="416.2" y="87.32" width="22.2" height="1" fill="#8c0a12" opacity="0.5"/>
<rect x="407.4" y="108.71" width="24.8" height="1" fill="#8c0a12" opacity="0.5"/>
<rect x="466.4" y="108.10" width="73.8" height="1" fill="#8c0a12" opacity="0.5"/>
<rect x="421.8" y="108.55" width="33.8" height="1" fill="#8c0a12" opacity="0.5"/>
<rect x="496.2" y="81.40" width="30.8" height="1" fill="#8c0a12" opacity="0.5"/>
<rect x="487.1" y="61.42" width="30.8" height="1" fill="#8c0a12" opacity="0.5"/>
<rect x="415.3" y="116.60" width="56.4" height="1" fill="#8c0a12" opacity="0.5"/>
<rect x="489.6" y="37.35" width="67.6" height="1" fill="#8c0a12" opacity="0.5"/>
<rect x="440.0" y="59.99" width="43.1" height="1" fill="#8c0a12" opacity="0.5"/>
<rect x="416.0" y="75.62" width="57.7" height="1" fill="#8c0a12" opacity="0.5"/>
<rect x="487.4" y="114.58" width="25.2" height="1" fill="#8c0a12" opacity="0.5"/>
<rect x="446.3" y="108.90" width="63.3" height="1" fill="#8c0a12" opacity="0.5"/>
<rect x="458.2" y="46.67" width="70.8" height="1" fill="#8c0a12" opacity="0.5"/>
<rect x="463.9" y="119.94" width="36.1" height="1" fill="#8c0a12" opacity="0.5"/>
<rect x="466.3" y="53.06" width="26.0" height="1" fill="#8c0a12" opacity="0.5"/>
<rect x="466.0" y="56.60" width="57.1" height="1" fill="#8c0a12" opacity="0.5"/>
<rect x="493.9" y="122.26" width="65.5" height="1" fill="#8c0a12" opacity="0.5"/>
<rect x="433.8" y="86.06" width="50.7" height="1" fill="#8c0a12" opacity="0.5"/>
<rect x="502.6" y="82.07" width="70.3" height="1" fill="#8c0a12" opacity="0.5"/>
<rect x="498.1" y="62.91" width="67.8" height="1" fill="#8c0a12" opacity="0.5"/>
<rect x="474.7" y="35.55" width="57.6" height="1" fill="#8c0a12" opacity="0.5"/>
<rect x="446.8" y="114.36" width="74.7" height="1" fill="#8c0a12" opacity="0.5"/>
<rect x="444.9" y="125.01" width="79.6" height="1" fill="#8c0a12" opacity="0.5"/>
<rect x="453.0" y="120.46" width="72.2" height="1" fill="#8c0a12" opacity="0.5"/>
<rect x="419.9" y="109.59" width="68.0" height="1" fill="#8c0a12" opacity="0.5"/>
</g></g>
<rect x="419.60" y="129.00" width="93.60" height="2.70" fill="#8e0c16" />
<rect x="414.60" y="24.70" width="3.40" height="9.00" fill="#e1579c" />
<rect x="414.60" y="35.20" width="3.40" height="92.70" fill="#42bb93" />
<rect x="414.60" y="129.00" width="3.40" height="2.70" fill="#d9a878" />
<text x="411.40" y="28.90" font-size="6" fill="#333" text-anchor="middle" stroke="#333" stroke-width="0.18" transform="rotate(-90 411.40 28.90)" >C1</text>
<text x="411.40" y="82.60" font-size="6" fill="#333" text-anchor="middle" stroke="#333" stroke-width="0.18" transform="rotate(-90 411.40 82.60)" >C2</text>
<text x="411.40" y="130.20" font-size="6" fill="#333" text-anchor="middle" stroke="#333" stroke-width="0.18" transform="rotate(-90 411.40 130.20)" >C3</text>
<text x="467.80" y="139.20" font-size="6" fill="#333" text-anchor="middle" stroke="#333" stroke-width="0.18" >21</text>
<text x="324.30" y="138.60" font-size="6" fill="#333" text-anchor="middle" stroke="#333" stroke-width="0.18" >14</text>
<text x="388.40" y="138.60" font-size="6" fill="#333" text-anchor="middle" stroke="#333" stroke-width="0.18" >21</text>
<text x="399.60" y="138.60" font-size="6" fill="#333" text-anchor="middle" stroke="#333" stroke-width="0.18" >X</text>
<text x="164.00" y="138.40" font-size="6.3" fill="#333" text-anchor="start" stroke="#333" stroke-width="0.18" >WGS Log2(ratio)</text>
<text x="231.50" y="138.40" font-size="6.3" fill="#333" text-anchor="start" stroke="#333" stroke-width="0.18" >Expression</text>
<defs><linearGradient id="wg" x1="0" x2="1"><stop offset="0" stop-color="#3535a8"/><stop offset="0.45" stop-color="#ffffff"/><stop offset="0.55" stop-color="#ffffff"/><stop offset="0.8" stop-color="#ee3838"/><stop offset="1" stop-color="#d82020"/></linearGradient><linearGradient id="eg" x1="0" x2="1"><stop offset="0" stop-color="#20208a"/><stop offset="0.5" stop-color="#ffffff"/><stop offset="1" stop-color="#7a0a0a"/></linearGradient></defs>
<rect x="172.00" y="142.30" width="31.00" height="5.70" fill="url(#wg)" />
<text x="174.50" y="154.60" font-size="6" fill="#333" text-anchor="middle" stroke="#333" stroke-width="0.18" >&#8722;1</text>
<text x="199.50" y="154.60" font-size="6" fill="#333" text-anchor="middle" stroke="#333" stroke-width="0.18" >1</text>
<text x="218.70" y="147.50" font-size="6.3" fill="#333" text-anchor="start" stroke="#333" stroke-width="0.18" >Low</text>
<rect x="232.50" y="142.30" width="27.50" height="5.70" fill="url(#eg)" />
<text x="263.00" y="147.50" font-size="6.3" fill="#333" text-anchor="start" stroke="#333" stroke-width="0.18" >High</text>
<text x="137.60" y="174.70" font-size="10.8" fill="#111" text-anchor="start" font-weight="bold" >D</text>
<text x="168.40" y="193.90" font-size="6.4" fill="#e23c3c" text-anchor="start" stroke="#e23c3c" stroke-width="0.18" >Blast &gt; Normal</text>
<text x="168.40" y="201.10" font-size="6.4" fill="#3c3ca6" text-anchor="start" stroke="#3c3ca6" stroke-width="0.18" >Blast &lt; Normal</text>
<text x="166.70" y="209.30" font-size="6.3" fill="#333" text-anchor="start" stroke="#333" stroke-width="0.18" >WGS Log2(ratio)</text>
<defs><linearGradient id="dg" x1="0" x2="1"><stop offset="0" stop-color="#1c1c9a"/><stop offset="0.3" stop-color="#3a3ab0"/><stop offset="0.5" stop-color="#ffffff"/><stop offset="0.7" stop-color="#ee4a4a"/><stop offset="1" stop-color="#c01010"/></linearGradient></defs>
<rect x="171.70" y="212.60" width="35.30" height="3.90" fill="url(#dg)" />
<text x="171.20" y="224.20" font-size="5.6" fill="#333" text-anchor="middle" stroke="#333" stroke-width="0.18" >&#8722;4</text>
<text x="180.50" y="224.20" font-size="5.6" fill="#333" text-anchor="middle" stroke="#333" stroke-width="0.18" >&#8722;2</text>
<text x="189.40" y="224.20" font-size="5.6" fill="#333" text-anchor="middle" stroke="#333" stroke-width="0.18" >0</text>
<text x="197.60" y="224.20" font-size="5.6" fill="#333" text-anchor="middle" stroke="#333" stroke-width="0.18" >2</text>
<text x="206.00" y="224.20" font-size="5.6" fill="#333" text-anchor="middle" stroke="#333" stroke-width="0.18" >4</text>
<text x="154.40" y="235.60" font-size="6.3" fill="#333" text-anchor="start" stroke="#333" stroke-width="0.18" >chromosome 21</text>
<text x="260.50" y="213.6" font-size="6.1" fill="#ec6652" stroke="#ec6652" stroke-width="0.1" transform="rotate(-90 260.50 213.6)" textLength="20.0" lengthAdjust="spacingAndGlyphs">NRIP1</text>
<text x="265.48" y="213.6" font-size="6.1" fill="#4a4ab4" stroke="#4a4ab4" stroke-width="0.1" transform="rotate(-90 265.48 213.6)" textLength="24.3" lengthAdjust="spacingAndGlyphs">C21orf91</text>
<text x="270.46" y="213.6" font-size="6.1" fill="#ec6652" stroke="#ec6652" stroke-width="0.1" transform="rotate(-90 270.46 213.6)" textLength="11.3" lengthAdjust="spacingAndGlyphs">APP</text>
<text x="275.44" y="213.6" font-size="6.1" fill="#ec6652" stroke="#ec6652" stroke-width="0.1" transform="rotate(-90 275.44 213.6)" textLength="18.2" lengthAdjust="spacingAndGlyphs">USP16</text>
<text x="280.42" y="213.6" font-size="6.1" fill="#ec6652" stroke="#ec6652" stroke-width="0.1" transform="rotate(-90 280.42 213.6)" textLength="15.1" lengthAdjust="spacingAndGlyphs">CCT8</text>
<text x="285.40" y="213.6" font-size="6.1" fill="#ec6652" stroke="#ec6652" stroke-width="0.1" transform="rotate(-90 285.40 213.6)" textLength="19.1" lengthAdjust="spacingAndGlyphs">BACH1</text>
<text x="290.38" y="213.6" font-size="6.1" fill="#ec6652" stroke="#ec6652" stroke-width="0.1" transform="rotate(-90 290.38 213.6)" textLength="37.3" lengthAdjust="spacingAndGlyphs">SOD1,SCAF4</text>
<text x="295.36" y="213.6" font-size="6.1" fill="#ec6652" stroke="#ec6652" stroke-width="0.1" transform="rotate(-90 295.36 213.6)" textLength="39.0" lengthAdjust="spacingAndGlyphs">MIS18A,URB1</text>
<text x="300.34" y="213.6" font-size="6.1" fill="#ec6652" stroke="#ec6652" stroke-width="0.1" transform="rotate(-90 300.34 213.6)" textLength="18.2" lengthAdjust="spacingAndGlyphs">SYNJ1</text>
<text x="305.32" y="213.6" font-size="6.1" fill="#ec6652" stroke="#ec6652" stroke-width="0.1" transform="rotate(-90 305.32 213.6)" textLength="21.6" lengthAdjust="spacingAndGlyphs">PAXBP1</text>
<text x="310.30" y="213.6" font-size="6.1" fill="#ec6652" stroke="#ec6652" stroke-width="0.1" transform="rotate(-90 310.30 213.6)" textLength="65.8" lengthAdjust="spacingAndGlyphs">IFNAR2,IL10RB,IFNAR1</text>
<text x="315.28" y="213.6" font-size="6.1" fill="#ec6652" stroke="#ec6652" stroke-width="0.1" transform="rotate(-90 315.28 213.6)" textLength="21.6" lengthAdjust="spacingAndGlyphs">IFNGR2</text>
<text x="320.26" y="213.6" font-size="6.1" fill="#ec6652" stroke="#ec6652" stroke-width="0.1" transform="rotate(-90 320.26 213.6)" textLength="47.6" lengthAdjust="spacingAndGlyphs">TMEM50B,GART</text>
<text x="325.24" y="213.6" font-size="6.1" fill="#ec6652" stroke="#ec6652" stroke-width="0.1" transform="rotate(-90 325.24 213.6)" textLength="67.6" lengthAdjust="spacingAndGlyphs">SON,DONSON,CRYZL1</text>
<text x="330.22" y="213.6" font-size="6.1" fill="#ec6652" stroke="#ec6652" stroke-width="0.1" transform="rotate(-90 330.22 213.6)" textLength="20.0" lengthAdjust="spacingAndGlyphs">ITSN1</text>
<text x="335.20" y="213.6" font-size="6.1" fill="#ec6652" stroke="#ec6652" stroke-width="0.1" transform="rotate(-90 335.20 213.6)" textLength="25.6" lengthAdjust="spacingAndGlyphs">ATP5PO</text>
<text x="340.18" y="213.6" font-size="6.1" fill="#ec6652" stroke="#ec6652" stroke-width="0.1" transform="rotate(-90 340.18 213.6)" textLength="30.6" lengthAdjust="spacingAndGlyphs">MRPS6</text>
<text x="345.16" y="213.6" font-size="6.1" fill="#ec6652" stroke="#ec6652" stroke-width="0.1" transform="rotate(-90 345.16 213.6)" textLength="44.2" lengthAdjust="spacingAndGlyphs">SMIM34A,SLC5A3</text>
<text x="350.14" y="213.6" font-size="6.1" fill="#ec6652" stroke="#ec6652" stroke-width="0.1" transform="rotate(-90 350.14 213.6)" textLength="20.0" lengthAdjust="spacingAndGlyphs">KCNE2</text>
<text x="355.12" y="213.6" font-size="6.1" fill="#ec6652" stroke="#ec6652" stroke-width="0.1" transform="rotate(-90 355.12 213.6)" textLength="19.1" lengthAdjust="spacingAndGlyphs">RCAN1</text>
<text x="360.10" y="213.6" font-size="6.1" fill="#ec6652" stroke="#ec6652" stroke-width="0.1" transform="rotate(-90 360.10 213.6)" textLength="34.6" lengthAdjust="spacingAndGlyphs">RUNX1,CBR1</text>
<text x="365.08" y="213.6" font-size="6.1" fill="#ec6652" stroke="#ec6652" stroke-width="0.1" transform="rotate(-90 365.08 213.6)" textLength="46.8" lengthAdjust="spacingAndGlyphs">CBR3-AS1,CBR3</text>
<text x="370.06" y="213.6" font-size="6.1" fill="#ec6652" stroke="#ec6652" stroke-width="0.1" transform="rotate(-90 370.06 213.6)" textLength="23.6" lengthAdjust="spacingAndGlyphs">DOP1B</text>
<text x="375.04" y="213.6" font-size="6.1" fill="#ec6652" stroke="#ec6652" stroke-width="0.1" transform="rotate(-90 375.04 213.6)" textLength="22.6" lengthAdjust="spacingAndGlyphs">MORC3</text>
<text x="380.02" y="213.6" font-size="6.1" fill="#ec6652" stroke="#ec6652" stroke-width="0.1" transform="rotate(-90 380.02 213.6)" textLength="21.6" lengthAdjust="spacingAndGlyphs">CHAF1B</text>
<text x="385.00" y="213.6" font-size="6.1" fill="#ec6652" stroke="#ec6652" stroke-width="0.1" transform="rotate(-90 385.00 213.6)" textLength="29.6" lengthAdjust="spacingAndGlyphs">CLDN14,TTC3</text>
<text x="389.98" y="213.6" font-size="6.1" fill="#ec6652" stroke="#ec6652" stroke-width="0.1" transform="rotate(-90 389.98 213.6)" textLength="23.6" lengthAdjust="spacingAndGlyphs">DYRK1A</text>
<text x="394.96" y="213.6" font-size="6.1" fill="#ec6652" stroke="#ec6652" stroke-width="0.1" transform="rotate(-90 394.96 213.6)" textLength="12.2" lengthAdjust="spacingAndGlyphs">ERG</text>
<text x="399.94" y="213.6" font-size="6.1" fill="#ec6652" stroke="#ec6652" stroke-width="0.1" transform="rotate(-90 399.94 213.6)" textLength="46.8" lengthAdjust="spacingAndGlyphs">PIGP,TTC3,ETS2</text>
<text x="404.92" y="213.6" font-size="6.1" fill="#ec6652" stroke="#ec6652" stroke-width="0.1" transform="rotate(-90 404.92 213.6)" textLength="44.2" lengthAdjust="spacingAndGlyphs">PSMG1,BRWD1</text>
<text x="409.90" y="213.6" font-size="6.1" fill="#ec6652" stroke="#ec6652" stroke-width="0.1" transform="rotate(-90 409.90 213.6)" textLength="21.6" lengthAdjust="spacingAndGlyphs">HMGN1</text>
<text x="414.88" y="213.6" font-size="6.1" fill="#ec6652" stroke="#ec6652" stroke-width="0.1" transform="rotate(-90 414.88 213.6)" textLength="15.6" lengthAdjust="spacingAndGlyphs">LCA5L</text>
<text x="419.86" y="213.6" font-size="6.1" fill="#ec6652" stroke="#ec6652" stroke-width="0.1" transform="rotate(-90 419.86 213.6)" textLength="26.9" lengthAdjust="spacingAndGlyphs">SH3BGR</text>
<text x="424.84" y="213.6" font-size="6.1" fill="#ec6652" stroke="#ec6652" stroke-width="0.1" transform="rotate(-90 424.84 213.6)" textLength="24.3" lengthAdjust="spacingAndGlyphs">MX2,MX1</text>
<text x="429.82" y="213.6" font-size="6.1" fill="#ec6652" stroke="#ec6652" stroke-width="0.1" transform="rotate(-90 429.82 213.6)" textLength="43.3" lengthAdjust="spacingAndGlyphs">RIPK4,SLC37A1</text>
<text x="434.80" y="213.6" font-size="6.1" fill="#ec6652" stroke="#ec6652" stroke-width="0.1" transform="rotate(-90 434.80 213.6)" textLength="44.2" lengthAdjust="spacingAndGlyphs">WDR4,NDUFV3</text>
<text x="439.78" y="213.6" font-size="6.1" fill="#ec6652" stroke="#ec6652" stroke-width="0.1" transform="rotate(-90 439.78 213.6)" textLength="25.2" lengthAdjust="spacingAndGlyphs">PKNOX1</text>
<text x="444.76" y="213.6" font-size="6.1" fill="#ec6652" stroke="#ec6652" stroke-width="0.1" transform="rotate(-90 444.76 213.6)" textLength="18.2" lengthAdjust="spacingAndGlyphs">U2AF1</text>
<text x="449.74" y="213.6" font-size="6.1" fill="#ec6652" stroke="#ec6652" stroke-width="0.1" transform="rotate(-90 449.74 213.6)" textLength="32.9" lengthAdjust="spacingAndGlyphs">PDXK,CSTB</text>
<text x="454.72" y="213.6" font-size="6.1" fill="#ec6652" stroke="#ec6652" stroke-width="0.1" transform="rotate(-90 454.72 213.6)" textLength="16.6" lengthAdjust="spacingAndGlyphs">RRP1</text>
<text x="459.70" y="213.6" font-size="6.1" fill="#ec6652" stroke="#ec6652" stroke-width="0.1" transform="rotate(-90 459.70 213.6)" textLength="31.2" lengthAdjust="spacingAndGlyphs">TRAPPC10</text>
<text x="464.68" y="213.6" font-size="6.1" fill="#ec6652" stroke="#ec6652" stroke-width="0.1" transform="rotate(-90 464.68 213.6)" textLength="34.6" lengthAdjust="spacingAndGlyphs">AIRE,ADD1</text>
<text x="469.66" y="213.6" font-size="6.1" fill="#ec6652" stroke="#ec6652" stroke-width="0.1" transform="rotate(-90 469.66 213.6)" textLength="33.8" lengthAdjust="spacingAndGlyphs">PFKL,TRPM2</text>
<text x="474.64" y="213.6" font-size="6.1" fill="#ec6652" stroke="#ec6652" stroke-width="0.1" transform="rotate(-90 474.64 213.6)" textLength="19.1" lengthAdjust="spacingAndGlyphs">LRRC3</text>
<text x="479.62" y="213.6" font-size="6.1" fill="#ec6652" stroke="#ec6652" stroke-width="0.1" transform="rotate(-90 479.62 213.6)" textLength="47.6" lengthAdjust="spacingAndGlyphs">UBE2G2,PTTG1IP</text>
<text x="484.60" y="213.6" font-size="6.1" fill="#4a4ab4" stroke="#4a4ab4" stroke-width="0.1" transform="rotate(-90 484.60 213.6)" textLength="50.2" lengthAdjust="spacingAndGlyphs">ITGB2,ITGB2-AS1</text>
<text x="489.58" y="213.6" font-size="6.1" fill="#ec6652" stroke="#ec6652" stroke-width="0.1" transform="rotate(-90 489.58 213.6)" textLength="26.9" lengthAdjust="spacingAndGlyphs">FAM207A</text>
<text x="494.56" y="213.6" font-size="6.1" fill="#ec6652" stroke="#ec6652" stroke-width="0.1" transform="rotate(-90 494.56 213.6)" textLength="21.6" lengthAdjust="spacingAndGlyphs">LSS</text>
<text x="499.54" y="213.6" font-size="6.1" fill="#ec6652" stroke="#ec6652" stroke-width="0.1" transform="rotate(-90 499.54 213.6)" textLength="28.6" lengthAdjust="spacingAndGlyphs">MCM3AP</text>
<text x="504.52" y="213.6" font-size="6.1" fill="#ec6652" stroke="#ec6652" stroke-width="0.1" transform="rotate(-90 504.52 213.6)" textLength="60.6" lengthAdjust="spacingAndGlyphs">YBEY,C21orf58,PCNT</text>
<text x="509.50" y="213.6" font-size="6.1" fill="#4a4ab4" stroke="#4a4ab4" stroke-width="0.1" transform="rotate(-90 509.50 213.6)" textLength="20.0" lengthAdjust="spacingAndGlyphs">PRMT2</text>
<path d="M259.80 223.6L274.40 231.50V238.7M264.71 223.6L294.40 231.50V238.7M269.62 223.6L354.20 229.80V238.7M274.54 223.6L378.40 230.09V238.7M279.45 223.6L398.50 230.33V238.7M284.36 223.6L400.50 230.36V238.7M289.27 223.6L402.70 230.38V238.7M294.18 223.6L404.50 230.41V238.7M299.10 223.6L406.00 230.42V238.7M304.01 223.6L408.00 230.45V238.7M308.92 223.6L410.40 230.48V238.7M313.83 223.6L411.00 230.48V238.7M318.74 223.6L412.00 230.50V238.7M323.66 223.6L414.00 230.52V238.7M328.57 223.6L415.50 230.54V238.7M333.48 223.6L417.40 230.56V238.7M338.39 223.6L418.50 230.57V238.7M343.30 223.6L419.50 230.59V238.7M348.22 223.6L416.00 230.54V238.7M353.13 223.6L417.00 230.56V238.7M358.04 223.6L420.00 230.59V238.7M362.95 223.6L427.60 230.68V238.7M367.86 223.6L428.00 230.69V238.7M372.78 223.6L429.00 230.70V238.7M377.69 223.6L430.00 230.71V238.7M382.60 223.6L431.40 230.73V238.7M387.51 223.6L435.00 230.77V238.7M392.42 223.6L438.00 230.81V238.7M397.34 223.6L445.60 230.90V238.7M402.25 223.6L448.70 230.94V238.7M407.16 223.6L451.70 230.97V238.7M412.07 223.6L452.50 230.98V238.7M416.98 223.6L453.00 230.99V238.7M421.90 223.6L467.40 231.16V238.7M426.81 223.6L469.00 231.18V238.7M431.72 223.6L470.70 231.20V238.7M436.63 223.6L476.80 231.27V238.7M441.54 223.6L479.00 231.30V238.7M446.46 223.6L479.80 231.31V238.7M451.37 223.6L481.00 231.32V238.7M456.28 223.6L486.00 231.38V238.7M461.19 223.6L486.60 231.39V238.7M466.10 223.6L488.00 231.41V238.7M471.02 223.6L490.50 231.44V238.7M475.93 223.6L491.00 231.44V238.7M480.84 223.6L494.50 231.49V238.7M485.75 223.6L495.40 231.50V238.7M490.66 223.6L497.00 231.52V238.7M495.58 223.6L502.50 231.58V238.7M500.49 223.6L505.00 231.61V238.7M505.40 223.6L507.50 231.64V238.7" stroke="#111" stroke-width="0.75" fill="none"/>
<path d="M259.80 217.8V224.2M264.71 217.8V224.2M269.62 217.8V224.2M274.54 217.8V224.2M279.45 217.8V224.2M284.36 217.8V224.2M289.27 217.8V224.2M294.18 217.8V224.2M299.10 217.8V224.2M304.01 217.8V224.2M308.92 217.8V224.2M313.83 217.8V224.2M318.74 217.8V224.2M323.66 217.8V224.2M328.57 217.8V224.2M333.48 217.8V224.2M338.39 217.8V224.2M343.30 217.8V224.2M348.22 217.8V224.2M353.13 217.8V224.2M358.04 217.8V224.2M362.95 217.8V224.2M367.86 217.8V224.2M372.78 217.8V224.2M377.69 217.8V224.2M382.60 217.8V224.2M387.51 217.8V224.2M392.42 217.8V224.2M397.34 217.8V224.2M402.25 217.8V224.2M407.16 217.8V224.2M412.07 217.8V224.2M416.98 217.8V224.2M421.90 217.8V224.2M426.81 217.8V224.2M431.72 217.8V224.2M436.63 217.8V224.2M441.54 217.8V224.2M446.46 217.8V224.2M451.37 217.8V224.2M456.28 217.8V224.2M461.19 217.8V224.2M466.10 217.8V224.2M471.02 217.8V224.2M475.93 217.8V224.2M480.84 217.8V224.2M485.75 217.8V224.2M490.66 217.8V224.2M495.58 217.8V224.2M500.49 217.8V224.2M505.40 217.8V224.2" stroke="#1a1a1a" stroke-width="0.95" fill="none"/>
<rect x="154.60" y="238.90" width="20.30" height="9.40" fill="#d6d6d6" stroke="#333" stroke-width="0.6" />
<rect x="174.90" y="238.90" width="29.20" height="9.40" fill="#5a86b4" stroke="#333" stroke-width="0.6" />
<rect x="204.10" y="238.90" width="30.60" height="9.40" fill="#d6d6d6" stroke="#333" stroke-width="0.6" />
<rect x="234.70" y="238.90" width="17.80" height="9.40" fill="#e13a33" stroke="#333" stroke-width="0.6" />
<rect x="252.50" y="238.90" width="7.80" height="9.40" fill="#e3322e" stroke="#333" stroke-width="0.6" />
<rect x="260.30" y="238.90" width="15.00" height="9.40" fill="#ffffff" stroke="#333" stroke-width="0.6" />
<rect x="275.30" y="238.90" width="56.50" height="9.40" fill="#0a0a0a" stroke="#333" stroke-width="0.6" />
<rect x="331.80" y="238.90" width="20.90" height="9.40" fill="#ffffff" stroke="#333" stroke-width="0.6" />
<rect x="352.70" y="238.90" width="33.90" height="9.40" fill="#8c8c8c" stroke="#333" stroke-width="0.6" />
<rect x="386.60" y="238.90" width="32.90" height="9.40" fill="#ffffff" stroke="#333" stroke-width="0.6" />
<rect x="419.50" y="238.90" width="13.90" height="9.40" fill="#c8c8c8" stroke="#333" stroke-width="0.6" />
<rect x="433.40" y="238.90" width="14.60" height="9.40" fill="#ffffff" stroke="#333" stroke-width="0.6" />
<rect x="448.00" y="238.90" width="20.80" height="9.40" fill="#c8c8c8" stroke="#333" stroke-width="0.6" />
<rect x="468.80" y="238.90" width="40.20" height="9.40" fill="#ffffff" stroke="#333" stroke-width="0.6" />
<rect x="154.6" y="238.9" width="354.4" height="9.4" fill="none" stroke="#333" stroke-width="0.8"/>
<rect x="154.60" y="252.30" width="354.40" height="8.90" fill="#ffffff" />
<rect x="227.60" y="252.30" width="6.00" height="8.90" fill="#fbe2e2" />
<rect x="233.60" y="252.30" width="24.90" height="8.90" fill="#e2e2f4" />
<rect x="285.20" y="252.30" width="17.80" height="8.90" fill="#5454ae" />
<rect x="306.60" y="252.30" width="13.40" height="8.90" fill="#f5b2b8" />
<rect x="324.60" y="252.30" width="2.00" height="8.90" fill="#4c4cb0" />
<rect x="368.40" y="252.30" width="30.30" height="8.90" fill="#f5aeb0" />
<rect x="398.70" y="252.30" width="9.80" height="8.90" fill="#e12e2e" />
<rect x="408.50" y="252.30" width="34.00" height="8.90" fill="#e85454" />
<rect x="442.50" y="252.30" width="64.70" height="8.90" fill="#e2282c" />
<rect x="507.20" y="252.30" width="1.80" height="8.90" fill="#5050b0" />
<rect x="154.6" y="252.3" width="354.4" height="8.9" fill="none" stroke="#333" stroke-width="0.8"/>
<text x="154.40" y="269.30" font-size="6.3" fill="#333" text-anchor="start" stroke="#333" stroke-width="0.18" >WGS Log2(ratio)</text>
<circle cx="294.10" cy="267.70" r="3.90" fill="#fff" stroke="#222" stroke-width="0.75" />
<text x="294.10" y="269.80" font-size="5.8" fill="#222" text-anchor="middle" stroke="#222" stroke-width="0.18" >1</text>
<circle cx="313.00" cy="267.70" r="3.90" fill="#fff" stroke="#222" stroke-width="0.75" />
<text x="313.00" y="269.80" font-size="5.8" fill="#222" text-anchor="middle" stroke="#222" stroke-width="0.18" >2</text>
<circle cx="326.20" cy="267.70" r="3.90" fill="#fff" stroke="#222" stroke-width="0.75" />
<text x="326.20" y="269.80" font-size="5.8" fill="#222" text-anchor="middle" stroke="#222" stroke-width="0.18" >3</text>
<circle cx="348.30" cy="267.70" r="3.90" fill="#fff" stroke="#222" stroke-width="0.75" />
<text x="348.30" y="269.80" font-size="5.8" fill="#222" text-anchor="middle" stroke="#222" stroke-width="0.18" >4</text>
<circle cx="384.00" cy="267.70" r="3.90" fill="#fff" stroke="#222" stroke-width="0.75" />
<text x="384.00" y="269.80" font-size="5.8" fill="#222" text-anchor="middle" stroke="#222" stroke-width="0.18" >5</text>
<circle cx="403.00" cy="267.70" r="3.90" fill="#fff" stroke="#222" stroke-width="0.75" />
<text x="403.00" y="269.80" font-size="5.8" fill="#222" text-anchor="middle" stroke="#222" stroke-width="0.18" >6</text>
<circle cx="425.70" cy="267.70" r="3.90" fill="#fff" stroke="#222" stroke-width="0.75" />
<text x="425.70" y="269.80" font-size="5.8" fill="#222" text-anchor="middle" stroke="#222" stroke-width="0.18" >7</text>
<circle cx="476.00" cy="267.70" r="3.90" fill="#fff" stroke="#222" stroke-width="0.75" />
<text x="476.00" y="269.80" font-size="5.8" fill="#222" text-anchor="middle" stroke="#222" stroke-width="0.18" >8</text>
<circle cx="508.00" cy="267.70" r="3.90" fill="#fff" stroke="#222" stroke-width="0.75" />
<text x="508.00" y="269.80" font-size="5.8" fill="#222" text-anchor="middle" stroke="#222" stroke-width="0.18" >9</text>
<text x="7.00" y="337.80" font-size="10.8" fill="#111" text-anchor="start" font-weight="bold" >E</text>
<line x1="47.20" y1="382.20" x2="47.20" y2="425.30" stroke="#222" stroke-width="0.7" />
<line x1="75.50" y1="382.20" x2="75.50" y2="425.30" stroke="#222" stroke-width="0.7" />
<line x1="47.20" y1="352.70" x2="47.20" y2="382.20" stroke="#333" stroke-width="0.7" />
<line x1="75.50" y1="339.30" x2="75.50" y2="382.20" stroke="#333" stroke-width="0.7" />
<line x1="104.30" y1="363.80" x2="104.30" y2="382.20" stroke="#333" stroke-width="0.7" />
<line x1="132.60" y1="345.40" x2="132.60" y2="382.20" stroke="#555" stroke-width="0.9" />
<line x1="46.20" y1="363.80" x2="48.20" y2="363.80" stroke="#333" stroke-width="0.8" />
<line x1="74.50" y1="363.80" x2="76.50" y2="363.80" stroke="#333" stroke-width="0.8" />
<line x1="131.60" y1="353.20" x2="133.60" y2="353.20" stroke="#333" stroke-width="0.8" />
<line x1="131.60" y1="363.80" x2="133.60" y2="363.80" stroke="#333" stroke-width="0.8" />
<line x1="102.80" y1="363.80" x2="105.80" y2="363.80" stroke="#333" stroke-width="0.7" />
<path d="M102.7,382.2 Q104.3,380.0 105.89999999999999,382.2 Z" fill="#b8862a" stroke="#222" stroke-width="0.5"/>
<path d="M47.20,388.60 L47.47,389.20 L47.73,389.80 L48.00,390.40 L48.40,391.00 L48.80,391.60 L49.20,392.20 L49.93,392.87 L50.67,393.53 L51.40,394.20 L52.47,394.93 L53.53,395.67 L54.60,396.40 L55.60,397.20 L56.60,398.00 L57.60,398.80 L58.20,399.60 L58.80,400.40 L59.40,401.20 L59.63,402.00 L59.87,402.80 L60.10,403.60 L59.90,404.47 L59.70,405.33 L59.50,406.20 L58.80,407.00 L58.10,407.80 L57.40,408.60 L56.87,409.20 L56.33,409.80 L55.80,410.40 L55.13,410.80 L54.47,411.20 L53.80,411.60 L53.60,412.13 L53.40,412.67 L53.20,413.20 L52.80,413.87 L52.40,414.53 L52.00,415.20 L51.33,415.67 L50.67,416.13 L50.00,416.60 L50.27,417.07 L50.53,417.53 L50.80,418.00 L50.60,418.47 L50.40,418.93 L50.20,419.40 L49.67,419.80 L49.13,420.20 L48.60,420.60 L48.37,420.90 L48.13,421.20 L47.90,421.50 L47.87,422.27 L47.83,423.03 L47.80,423.80 L47.60,424.03 L47.40,424.27 L47.20,424.50 L47.20,424.50 L47.00,424.27 L46.80,424.03 L46.60,423.80 L46.57,423.03 L46.53,422.27 L46.50,421.50 L46.27,421.20 L46.03,420.90 L45.80,420.60 L45.27,420.20 L44.73,419.80 L44.20,419.40 L44.00,418.93 L43.80,418.47 L43.60,418.00 L43.87,417.53 L44.13,417.07 L44.40,416.60 L43.73,416.13 L43.07,415.67 L42.40,415.20 L42.00,414.53 L41.60,413.87 L41.20,413.20 L41.00,412.67 L40.80,412.13 L40.60,411.60 L39.93,411.20 L39.27,410.80 L38.60,410.40 L38.07,409.80 L37.53,409.20 L37.00,408.60 L36.30,407.80 L35.60,407.00 L34.90,406.20 L34.70,405.33 L34.50,404.47 L34.30,403.60 L34.53,402.80 L34.77,402.00 L35.00,401.20 L35.60,400.40 L36.20,399.60 L36.80,398.80 L37.80,398.00 L38.80,397.20 L39.80,396.40 L40.87,395.67 L41.93,394.93 L43.00,394.20 L43.73,393.53 L44.47,392.87 L45.20,392.20 L45.60,391.60 L46.00,391.00 L46.40,390.40 L46.67,389.80 L46.93,389.20 L47.20,388.60 Z" fill="#e8318b" stroke="#141414" stroke-width="0.85" stroke-linejoin="round"/>
<path d="M75.50,386.60 L75.77,387.27 L76.03,387.93 L76.30,388.60 L76.70,389.27 L77.10,389.93 L77.50,390.60 L78.30,391.27 L79.10,391.93 L79.90,392.60 L80.97,393.33 L82.03,394.07 L83.10,394.80 L84.10,395.60 L85.10,396.40 L86.10,397.20 L86.67,398.00 L87.23,398.80 L87.80,399.60 L87.80,400.27 L87.80,400.93 L87.80,401.60 L87.37,402.20 L86.93,402.80 L86.50,403.40 L85.63,403.93 L84.77,404.47 L83.90,405.00 L83.70,405.47 L83.50,405.93 L83.30,406.40 L82.97,406.93 L82.63,407.47 L82.30,408.00 L81.83,408.53 L81.37,409.07 L80.90,409.60 L80.97,410.07 L81.03,410.53 L81.10,411.00 L80.50,411.47 L79.90,411.93 L79.30,412.40 L78.77,412.87 L78.23,413.33 L77.70,413.80 L77.43,414.27 L77.17,414.73 L76.90,415.20 L77.23,415.67 L77.57,416.13 L77.90,416.60 L77.40,417.07 L76.90,417.53 L76.40,418.00 L76.10,418.33 L75.80,418.67 L75.50,419.00 L75.50,419.00 L75.20,418.67 L74.90,418.33 L74.60,418.00 L74.10,417.53 L73.60,417.07 L73.10,416.60 L73.43,416.13 L73.77,415.67 L74.10,415.20 L73.83,414.73 L73.57,414.27 L73.30,413.80 L72.77,413.33 L72.23,412.87 L71.70,412.40 L71.10,411.93 L70.50,411.47 L69.90,411.00 L69.97,410.53 L70.03,410.07 L70.10,409.60 L69.63,409.07 L69.17,408.53 L68.70,408.00 L68.37,407.47 L68.03,406.93 L67.70,406.40 L67.50,405.93 L67.30,405.47 L67.10,405.00 L66.23,404.47 L65.37,403.93 L64.50,403.40 L64.07,402.80 L63.63,402.20 L63.20,401.60 L63.20,400.93 L63.20,400.27 L63.20,399.60 L63.77,398.80 L64.33,398.00 L64.90,397.20 L65.90,396.40 L66.90,395.60 L67.90,394.80 L68.97,394.07 L70.03,393.33 L71.10,392.60 L71.90,391.93 L72.70,391.27 L73.50,390.60 L73.90,389.93 L74.30,389.27 L74.70,388.60 L74.97,387.93 L75.23,387.27 L75.50,386.60 Z" fill="#1f9e78" stroke="#141414" stroke-width="0.85" stroke-linejoin="round"/>
<path d="M104.30,382.60 L104.63,383.20 L104.97,383.80 L105.30,384.40 L105.97,384.93 L106.63,385.47 L107.30,386.00 L108.50,386.60 L109.70,387.20 L110.90,387.80 L112.10,388.47 L113.30,389.13 L114.50,389.80 L115.23,390.53 L115.97,391.27 L116.70,392.00 L116.77,392.80 L116.83,393.60 L116.90,394.40 L116.37,395.13 L115.83,395.87 L115.30,396.60 L114.30,397.27 L113.30,397.93 L112.30,398.60 L111.17,399.20 L110.03,399.80 L108.90,400.40 L108.17,400.93 L107.43,401.47 L106.70,402.00 L106.37,402.67 L106.03,403.33 L105.70,404.00 L105.57,404.67 L105.43,405.33 L105.30,406.00 L105.27,407.83 L105.23,409.67 L105.20,411.50 L104.90,411.77 L104.60,412.03 L104.30,412.30 L104.30,412.30 L104.00,412.03 L103.70,411.77 L103.40,411.50 L103.37,409.67 L103.33,407.83 L103.30,406.00 L103.17,405.33 L103.03,404.67 L102.90,404.00 L102.57,403.33 L102.23,402.67 L101.90,402.00 L101.17,401.47 L100.43,400.93 L99.70,400.40 L98.57,399.80 L97.43,399.20 L96.30,398.60 L95.30,397.93 L94.30,397.27 L93.30,396.60 L92.77,395.87 L92.23,395.13 L91.70,394.40 L91.77,393.60 L91.83,392.80 L91.90,392.00 L92.63,391.27 L93.37,390.53 L94.10,389.80 L95.30,389.13 L96.50,388.47 L97.70,387.80 L98.90,387.20 L100.10,386.60 L101.30,386.00 L101.97,385.47 L102.63,384.93 L103.30,384.40 L103.63,383.80 L103.97,383.20 L104.30,382.60 Z" fill="#b8862b" stroke="#141414" stroke-width="0.85" stroke-linejoin="round"/>
<path d="M132.60,388.60 L132.87,389.40 L133.13,390.20 L133.40,391.00 L133.73,391.83 L134.07,392.67 L134.40,393.50 L134.93,394.50 L135.47,395.50 L136.00,396.50 L136.73,397.67 L137.47,398.83 L138.20,400.00 L138.93,401.13 L139.67,402.27 L140.40,403.40 L141.27,404.53 L142.13,405.67 L143.00,406.80 L143.63,407.73 L144.27,408.67 L144.90,409.60 L144.87,410.40 L144.83,411.20 L144.80,412.00 L144.13,412.67 L143.47,413.33 L142.80,414.00 L141.73,414.53 L140.67,415.07 L139.60,415.60 L138.67,416.07 L137.73,416.53 L136.80,417.00 L136.47,417.53 L136.13,418.07 L135.80,418.60 L136.27,419.13 L136.73,419.67 L137.20,420.20 L138.40,420.73 L139.60,421.27 L140.80,421.80 L142.00,422.33 L143.20,422.87 L144.40,423.40 L145.00,423.80 L145.60,424.20 L146.20,424.60 L146.20,424.80 L146.20,425.00 L146.20,425.20 L119.00,425.20 L119.00,425.00 L119.00,424.80 L119.00,424.60 L119.60,424.20 L120.20,423.80 L120.80,423.40 L122.00,422.87 L123.20,422.33 L124.40,421.80 L125.60,421.27 L126.80,420.73 L128.00,420.20 L128.47,419.67 L128.93,419.13 L129.40,418.60 L129.07,418.07 L128.73,417.53 L128.40,417.00 L127.47,416.53 L126.53,416.07 L125.60,415.60 L124.53,415.07 L123.47,414.53 L122.40,414.00 L121.73,413.33 L121.07,412.67 L120.40,412.00 L120.37,411.20 L120.33,410.40 L120.30,409.60 L120.93,408.67 L121.57,407.73 L122.20,406.80 L123.07,405.67 L123.93,404.53 L124.80,403.40 L125.53,402.27 L126.27,401.13 L127.00,400.00 L127.73,398.83 L128.47,397.67 L129.20,396.50 L129.73,395.50 L130.27,394.50 L130.80,393.50 L131.13,392.67 L131.47,391.83 L131.80,391.00 L132.07,390.20 L132.33,389.40 L132.60,388.60 Z" fill="#e4e4e4" stroke="#141414" stroke-width="0.85" stroke-linejoin="round"/>
<line x1="47.20" y1="424.10" x2="47.20" y2="425.30" stroke="#222" stroke-width="0.7" />
<line x1="75.50" y1="424.10" x2="75.50" y2="425.30" stroke="#222" stroke-width="0.7" />
<line x1="47.20" y1="436.80" x2="47.20" y2="468.60" stroke="#333" stroke-width="0.7" />
<line x1="43.70" y1="454.50" x2="50.70" y2="454.50" stroke="#333" stroke-width="0.9" />
<line x1="46.40" y1="440.00" x2="48.00" y2="440.00" stroke="#555" stroke-width="0.5" />
<line x1="46.40" y1="445.00" x2="48.00" y2="445.00" stroke="#555" stroke-width="0.5" />
<line x1="46.40" y1="449.00" x2="48.00" y2="449.00" stroke="#555" stroke-width="0.5" />
<line x1="46.40" y1="459.00" x2="48.00" y2="459.00" stroke="#555" stroke-width="0.5" />
<line x1="46.40" y1="463.00" x2="48.00" y2="463.00" stroke="#555" stroke-width="0.5" />
<line x1="75.50" y1="436.80" x2="75.50" y2="468.60" stroke="#333" stroke-width="0.7" />
<line x1="72.00" y1="454.50" x2="79.00" y2="454.50" stroke="#333" stroke-width="0.9" />
<line x1="74.70" y1="440.00" x2="76.30" y2="440.00" stroke="#555" stroke-width="0.5" />
<line x1="74.70" y1="445.00" x2="76.30" y2="445.00" stroke="#555" stroke-width="0.5" />
<line x1="74.70" y1="449.00" x2="76.30" y2="449.00" stroke="#555" stroke-width="0.5" />
<line x1="74.70" y1="459.00" x2="76.30" y2="459.00" stroke="#555" stroke-width="0.5" />
<line x1="74.70" y1="463.00" x2="76.30" y2="463.00" stroke="#555" stroke-width="0.5" />
<path d="M104.30,440.40 L104.50,441.00 L104.70,441.60 L104.90,442.20 L105.10,442.97 L105.30,443.73 L105.50,444.50 L105.83,445.50 L106.17,446.50 L106.50,447.50 L106.97,448.50 L107.43,449.50 L107.90,450.50 L108.20,451.40 L108.50,452.30 L108.80,453.20 L108.63,454.07 L108.47,454.93 L108.30,455.80 L107.77,456.60 L107.23,457.40 L106.70,458.20 L106.27,458.93 L105.83,459.67 L105.40,460.40 L105.50,461.00 L105.60,461.60 L105.70,462.20 L106.43,462.80 L107.17,463.40 L107.90,464.00 L109.10,464.53 L110.30,465.07 L111.50,465.60 L112.77,466.13 L114.03,466.67 L115.30,467.20 L115.90,467.60 L116.50,468.00 L117.10,468.40 L91.50,468.40 L92.10,468.00 L92.70,467.60 L93.30,467.20 L94.57,466.67 L95.83,466.13 L97.10,465.60 L98.30,465.07 L99.50,464.53 L100.70,464.00 L101.43,463.40 L102.17,462.80 L102.90,462.20 L103.00,461.60 L103.10,461.00 L103.20,460.40 L102.77,459.67 L102.33,458.93 L101.90,458.20 L101.37,457.40 L100.83,456.60 L100.30,455.80 L100.13,454.93 L99.97,454.07 L99.80,453.20 L100.10,452.30 L100.40,451.40 L100.70,450.50 L101.17,449.50 L101.63,448.50 L102.10,447.50 L102.43,446.50 L102.77,445.50 L103.10,444.50 L103.30,443.73 L103.50,442.97 L103.70,442.20 L103.90,441.60 L104.10,441.00 L104.30,440.40 Z" fill="#b8862b" stroke="#141414" stroke-width="0.85" stroke-linejoin="round"/>
<path d="M132.60,425.50 L132.77,426.33 L132.93,427.17 L133.10,428.00 L133.33,429.33 L133.57,430.67 L133.80,432.00 L134.20,433.60 L134.60,435.20 L135.00,436.80 L135.47,438.53 L135.93,440.27 L136.40,442.00 L136.93,443.67 L137.47,445.33 L138.00,447.00 L138.47,448.33 L138.93,449.67 L139.40,451.00 L139.60,452.20 L139.80,453.40 L140.00,454.60 L139.73,455.47 L139.47,456.33 L139.20,457.20 L138.60,457.93 L138.00,458.67 L137.40,459.40 L137.20,459.93 L137.00,460.47 L136.80,461.00 L137.20,461.53 L137.60,462.07 L138.00,462.60 L139.07,463.33 L140.13,464.07 L141.20,464.80 L142.13,465.40 L143.07,466.00 L144.00,466.60 L144.60,467.20 L145.20,467.80 L145.80,468.40 L119.40,468.40 L120.00,467.80 L120.60,467.20 L121.20,466.60 L122.13,466.00 L123.07,465.40 L124.00,464.80 L125.07,464.07 L126.13,463.33 L127.20,462.60 L127.60,462.07 L128.00,461.53 L128.40,461.00 L128.20,460.47 L128.00,459.93 L127.80,459.40 L127.20,458.67 L126.60,457.93 L126.00,457.20 L125.73,456.33 L125.47,455.47 L125.20,454.60 L125.40,453.40 L125.60,452.20 L125.80,451.00 L126.27,449.67 L126.73,448.33 L127.20,447.00 L127.73,445.33 L128.27,443.67 L128.80,442.00 L129.27,440.27 L129.73,438.53 L130.20,436.80 L130.60,435.20 L131.00,433.60 L131.40,432.00 L131.63,430.67 L131.87,429.33 L132.10,428.00 L132.27,427.17 L132.43,426.33 L132.60,425.50 Z" fill="#e4e4e4" stroke="#141414" stroke-width="0.85" stroke-linejoin="round"/>
<rect x="29.5" y="339.3" width="120.6" height="129.3" fill="none" stroke="#1a1a1a" stroke-width="1.0"/>
<line x1="29.50" y1="382.20" x2="150.10" y2="382.20" stroke="#1a1a1a" stroke-width="1.0" />
<line x1="29.50" y1="425.30" x2="150.10" y2="425.30" stroke="#1a1a1a" stroke-width="1.0" />
<line x1="27.20" y1="350.00" x2="29.50" y2="350.00" stroke="#333" stroke-width="0.6" />
<line x1="27.20" y1="360.50" x2="29.50" y2="360.50" stroke="#333" stroke-width="0.6" />
<line x1="27.20" y1="371.00" x2="29.50" y2="371.00" stroke="#333" stroke-width="0.6" />
<line x1="27.20" y1="381.50" x2="29.50" y2="381.50" stroke="#333" stroke-width="0.6" />
<line x1="27.20" y1="387.80" x2="29.50" y2="387.80" stroke="#333" stroke-width="0.6" />
<line x1="27.20" y1="400.10" x2="29.50" y2="400.10" stroke="#333" stroke-width="0.6" />
<line x1="27.20" y1="412.40" x2="29.50" y2="412.40" stroke="#333" stroke-width="0.6" />
<line x1="27.20" y1="424.70" x2="29.50" y2="424.70" stroke="#333" stroke-width="0.6" />
<line x1="27.20" y1="438.30" x2="29.50" y2="438.30" stroke="#333" stroke-width="0.6" />
<line x1="27.20" y1="448.40" x2="29.50" y2="448.40" stroke="#333" stroke-width="0.6" />
<line x1="27.20" y1="458.40" x2="29.50" y2="458.40" stroke="#333" stroke-width="0.6" />
<line x1="27.20" y1="468.40" x2="29.50" y2="468.40" stroke="#333" stroke-width="0.6" />
<line x1="47.20" y1="468.60" x2="47.20" y2="470.60" stroke="#333" stroke-width="0.6" />
<line x1="75.50" y1="468.60" x2="75.50" y2="470.60" stroke="#333" stroke-width="0.6" />
<line x1="104.30" y1="468.60" x2="104.30" y2="470.60" stroke="#333" stroke-width="0.6" />
<line x1="132.60" y1="468.60" x2="132.60" y2="470.60" stroke="#333" stroke-width="0.6" />
<text x="24.60" y="352.10" font-size="6.3" fill="#444" text-anchor="end" stroke="#444" stroke-width="0.18" >1.2</text>
<text x="24.60" y="383.40" font-size="6.3" fill="#444" text-anchor="end" stroke="#444" stroke-width="0.18" >0</text>
<text x="24.60" y="390.00" font-size="6.3" fill="#444" text-anchor="end" stroke="#444" stroke-width="0.18" >3</text>
<text x="24.60" y="426.70" font-size="6.3" fill="#444" text-anchor="end" stroke="#444" stroke-width="0.18" >0</text>
<text x="24.60" y="440.40" font-size="6.3" fill="#444" text-anchor="end" stroke="#444" stroke-width="0.18" >1.5</text>
<text x="24.60" y="470.50" font-size="6.3" fill="#444" text-anchor="end" stroke="#444" stroke-width="0.18" >0</text>
<text x="11.80" y="403.50" font-size="6.8" fill="#444" text-anchor="middle" stroke="#444" stroke-width="0.18" transform="rotate(-90 11.80 403.50)" >Normalized expression</text>
<text x="154.00" y="366.00" font-size="6.6" fill="#444" text-anchor="middle" stroke="#444" stroke-width="0.18" transform="rotate(90 154.00 366.00)" textLength="26" lengthAdjust="spacingAndGlyphs">C21orf91</text>
<text x="154.00" y="401.80" font-size="6.6" fill="#444" text-anchor="middle" stroke="#444" stroke-width="0.18" transform="rotate(90 154.00 401.80)" textLength="17.6" lengthAdjust="spacingAndGlyphs">HMGN1</text>
<text x="154.00" y="446.20" font-size="6.6" fill="#444" text-anchor="middle" stroke="#444" stroke-width="0.18" transform="rotate(90 154.00 446.20)" textLength="17.0" lengthAdjust="spacingAndGlyphs">PRMT2</text>
<text x="47.20" y="479.40" font-size="6.8" fill="#333" text-anchor="middle" stroke="#333" stroke-width="0.18" >C1</text>
<text x="75.50" y="479.40" font-size="6.8" fill="#333" text-anchor="middle" stroke="#333" stroke-width="0.18" >C2</text>
<text x="104.30" y="479.40" font-size="6.8" fill="#333" text-anchor="middle" stroke="#333" stroke-width="0.18" >C3</text>
<text x="132.60" y="479.40" font-size="6.8" fill="#333" text-anchor="middle" stroke="#333" stroke-width="0.18" >Normal</text>
<text x="177.30" y="291.20" font-size="10.8" fill="#111" text-anchor="start" font-weight="bold" >F</text>
<text x="214.30" y="283.40" font-size="6.5" fill="#333" text-anchor="middle" stroke="#333" stroke-width="0.18" >C1</text>
<text x="347.40" y="284.00" font-size="6.5" fill="#333" text-anchor="middle" stroke="#333" stroke-width="0.18" >C2</text>
<text x="471.30" y="284.00" font-size="6.5" fill="#333" text-anchor="middle" stroke="#333" stroke-width="0.18" >C3</text>
<text x="488.00" y="284.00" font-size="6.5" fill="#333" text-anchor="middle" stroke="#333" stroke-width="0.18" textLength="21.5" lengthAdjust="spacingAndGlyphs">Normal</text>
<text x="184.30" y="396.50" font-size="7.6" fill="#444" text-anchor="middle" stroke="#444" stroke-width="0.18" transform="rotate(-90 184.30 396.50)" textLength="40" lengthAdjust="spacingAndGlyphs">Copy number</text>
<rect x="204.90" y="287.30" width="20.50" height="20.1" fill="#fff" stroke="#3c3c3c" stroke-width="0.85"/>
<rect x="204.70" y="287.30" width="1.3" height="20.1" fill="#8c8c8c"/>
<rect x="227.30" y="287.30" width="240.30" height="20.1" fill="#fff" stroke="#3c3c3c" stroke-width="0.85"/>
<rect x="469.40" y="287.30" width="4.80" height="20.1" fill="#fff" stroke="#3c3c3c" stroke-width="0.85"/>
<rect x="469.20" y="287.30" width="1.3" height="20.1" fill="#8c8c8c"/>
<rect x="476.40" y="287.30" width="16.80" height="20.1" fill="#fff" stroke="#3c3c3c" stroke-width="0.85"/>
<rect x="476.20" y="287.30" width="1.3" height="20.1" fill="#8c8c8c"/>
<rect x="493.20" y="287.30" width="9.40" height="20.1" fill="#fff" stroke="#3c3c3c" stroke-width="0.85"/>
<line x1="201.80" y1="306.50" x2="204.90" y2="306.50" stroke="#333" stroke-width="0.9" />
<line x1="201.80" y1="302.10" x2="204.90" y2="302.10" stroke="#333" stroke-width="0.9" />
<line x1="201.80" y1="297.70" x2="204.90" y2="297.70" stroke="#333" stroke-width="0.9" />
<line x1="201.80" y1="293.30" x2="204.90" y2="293.30" stroke="#333" stroke-width="0.9" />
<line x1="201.80" y1="288.90" x2="204.90" y2="288.90" stroke="#333" stroke-width="0.9" />
<text x="199.20" y="308.50" font-size="5.8" fill="#444" text-anchor="end" stroke="#444" stroke-width="0.18" >0</text>
<text x="199.20" y="290.80" font-size="5.8" fill="#444" text-anchor="end" stroke="#444" stroke-width="0.18" >4</text>
<line x1="205.70" y1="297.70" x2="224.60" y2="297.70" stroke="#2a2a2a" stroke-width="0.8" stroke-dasharray="2.6,1.7"/>
<line x1="228.10" y1="297.70" x2="466.80" y2="297.70" stroke="#2a2a2a" stroke-width="0.8" stroke-dasharray="2.6,1.7"/>
<line x1="470.20" y1="297.70" x2="473.40" y2="297.70" stroke="#2a2a2a" stroke-width="0.8" stroke-dasharray="2.6,1.7"/>
<line x1="477.20" y1="297.70" x2="492.40" y2="297.70" stroke="#2a2a2a" stroke-width="0.8" stroke-dasharray="2.6,1.7"/>
<text x="496.40" y="297.40" font-size="5.8" fill="#333" text-anchor="middle" stroke="#333" stroke-width="0.18" transform="rotate(90 496.40 297.40)" >chr14</text>
<rect x="204.90" y="309.27" width="20.50" height="20.1" fill="#fff" stroke="#3c3c3c" stroke-width="0.85"/>
<rect x="204.90" y="309.07" width="20.50" height="1.5" fill="#8c8c8c"/>
<rect x="204.70" y="309.27" width="1.3" height="20.1" fill="#8c8c8c"/>
<rect x="227.30" y="309.27" width="240.30" height="20.1" fill="#fff" stroke="#3c3c3c" stroke-width="0.85"/>
<rect x="227.30" y="309.07" width="240.30" height="1.5" fill="#8c8c8c"/>
<rect x="469.40" y="309.27" width="4.80" height="20.1" fill="#fff" stroke="#3c3c3c" stroke-width="0.85"/>
<rect x="469.40" y="309.07" width="4.80" height="1.5" fill="#8c8c8c"/>
<rect x="469.20" y="309.27" width="1.3" height="20.1" fill="#8c8c8c"/>
<rect x="476.40" y="309.27" width="16.80" height="20.1" fill="#fff" stroke="#3c3c3c" stroke-width="0.85"/>
<rect x="476.40" y="309.07" width="16.80" height="1.5" fill="#8c8c8c"/>
<rect x="476.20" y="309.27" width="1.3" height="20.1" fill="#8c8c8c"/>
<rect x="493.20" y="309.27" width="9.40" height="20.1" fill="#fff" stroke="#3c3c3c" stroke-width="0.85"/>
<rect x="493.20" y="309.07" width="9.40" height="1.5" fill="#8c8c8c"/>
<line x1="201.80" y1="328.47" x2="204.90" y2="328.47" stroke="#333" stroke-width="0.9" />
<line x1="201.80" y1="322.62" x2="204.90" y2="322.62" stroke="#333" stroke-width="0.9" />
<line x1="201.80" y1="316.77" x2="204.90" y2="316.77" stroke="#333" stroke-width="0.9" />
<line x1="201.80" y1="310.92" x2="204.90" y2="310.92" stroke="#333" stroke-width="0.9" />
<text x="199.20" y="330.47" font-size="5.8" fill="#444" text-anchor="end" stroke="#444" stroke-width="0.18" >0</text>
<text x="199.20" y="318.77" font-size="5.8" fill="#444" text-anchor="end" stroke="#444" stroke-width="0.18" >2</text>
<line x1="205.70" y1="316.77" x2="224.60" y2="316.77" stroke="#2a2a2a" stroke-width="0.8" stroke-dasharray="2.6,1.7"/>
<line x1="228.10" y1="316.77" x2="466.80" y2="316.77" stroke="#2a2a2a" stroke-width="0.8" stroke-dasharray="2.6,1.7"/>
<line x1="470.20" y1="316.77" x2="473.40" y2="316.77" stroke="#2a2a2a" stroke-width="0.8" stroke-dasharray="2.6,1.7"/>
<line x1="477.20" y1="316.77" x2="492.40" y2="316.77" stroke="#2a2a2a" stroke-width="0.8" stroke-dasharray="2.6,1.7"/>
<circle cx="497.90" cy="319.67" r="3.70" fill="#fff" stroke="#222" stroke-width="0.7" />
<text x="497.90" y="321.57" font-size="5.2" fill="#333" text-anchor="middle" stroke="#333" stroke-width="0.18" >1</text>
<rect x="204.90" y="331.24" width="20.50" height="20.1" fill="#fff" stroke="#3c3c3c" stroke-width="0.85"/>
<rect x="204.90" y="331.04" width="20.50" height="1.5" fill="#8c8c8c"/>
<rect x="204.70" y="331.24" width="1.3" height="20.1" fill="#8c8c8c"/>
<rect x="227.30" y="331.24" width="240.30" height="20.1" fill="#fff" stroke="#3c3c3c" stroke-width="0.85"/>
<rect x="227.30" y="331.04" width="240.30" height="1.5" fill="#8c8c8c"/>
<rect x="469.40" y="331.24" width="4.80" height="20.1" fill="#fff" stroke="#3c3c3c" stroke-width="0.85"/>
<rect x="469.40" y="331.04" width="4.80" height="1.5" fill="#8c8c8c"/>
<rect x="469.20" y="331.24" width="1.3" height="20.1" fill="#8c8c8c"/>
<rect x="476.40" y="331.24" width="16.80" height="20.1" fill="#fff" stroke="#3c3c3c" stroke-width="0.85"/>
<rect x="476.40" y="331.04" width="16.80" height="1.5" fill="#8c8c8c"/>
<rect x="476.20" y="331.24" width="1.3" height="20.1" fill="#8c8c8c"/>
<rect x="493.20" y="331.24" width="9.40" height="20.1" fill="#fff" stroke="#3c3c3c" stroke-width="0.85"/>
<rect x="493.20" y="331.04" width="9.40" height="1.5" fill="#8c8c8c"/>
<line x1="201.80" y1="350.44" x2="204.90" y2="350.44" stroke="#333" stroke-width="0.9" />
<line x1="201.80" y1="346.89" x2="204.90" y2="346.89" stroke="#333" stroke-width="0.9" />
<line x1="201.80" y1="343.34" x2="204.90" y2="343.34" stroke="#333" stroke-width="0.9" />
<line x1="201.80" y1="339.79" x2="204.90" y2="339.79" stroke="#333" stroke-width="0.9" />
<line x1="201.80" y1="336.24" x2="204.90" y2="336.24" stroke="#333" stroke-width="0.9" />
<line x1="201.80" y1="332.69" x2="204.90" y2="332.69" stroke="#333" stroke-width="0.9" />
<text x="199.20" y="352.44" font-size="5.8" fill="#444" text-anchor="end" stroke="#444" stroke-width="0.18" >0</text>
<text x="199.20" y="338.14" font-size="5.8" fill="#444" text-anchor="end" stroke="#444" stroke-width="0.18" >4</text>
<line x1="205.70" y1="343.34" x2="224.60" y2="343.34" stroke="#2a2a2a" stroke-width="0.8" stroke-dasharray="2.6,1.7"/>
<line x1="228.10" y1="343.34" x2="466.80" y2="343.34" stroke="#2a2a2a" stroke-width="0.8" stroke-dasharray="2.6,1.7"/>
<line x1="470.20" y1="343.34" x2="473.40" y2="343.34" stroke="#2a2a2a" stroke-width="0.8" stroke-dasharray="2.6,1.7"/>
<line x1="477.20" y1="343.34" x2="492.40" y2="343.34" stroke="#2a2a2a" stroke-width="0.8" stroke-dasharray="2.6,1.7"/>
<circle cx="497.90" cy="341.64" r="3.70" fill="#fff" stroke="#222" stroke-width="0.7" />
<text x="497.90" y="343.54" font-size="5.2" fill="#333" text-anchor="middle" stroke="#333" stroke-width="0.18" >2</text>
<rect x="204.90" y="353.21" width="20.50" height="20.1" fill="#fff" stroke="#3c3c3c" stroke-width="0.85"/>
<rect x="204.90" y="353.01" width="20.50" height="1.5" fill="#8c8c8c"/>
<rect x="204.70" y="353.21" width="1.3" height="20.1" fill="#8c8c8c"/>
<rect x="227.30" y="353.21" width="240.30" height="20.1" fill="#fff" stroke="#3c3c3c" stroke-width="0.85"/>
<rect x="227.30" y="353.01" width="240.30" height="1.5" fill="#8c8c8c"/>
<rect x="469.40" y="353.21" width="4.80" height="20.1" fill="#fff" stroke="#3c3c3c" stroke-width="0.85"/>
<rect x="469.40" y="353.01" width="4.80" height="1.5" fill="#8c8c8c"/>
<rect x="469.20" y="353.21" width="1.3" height="20.1" fill="#8c8c8c"/>
<rect x="476.40" y="353.21" width="16.80" height="20.1" fill="#fff" stroke="#3c3c3c" stroke-width="0.85"/>
<rect x="476.40" y="353.01" width="16.80" height="1.5" fill="#8c8c8c"/>
<rect x="476.20" y="353.21" width="1.3" height="20.1" fill="#8c8c8c"/>
<rect x="493.20" y="353.21" width="9.40" height="20.1" fill="#fff" stroke="#3c3c3c" stroke-width="0.85"/>
<rect x="493.20" y="353.01" width="9.40" height="1.5" fill="#8c8c8c"/>
<line x1="201.80" y1="372.41" x2="204.90" y2="372.41" stroke="#333" stroke-width="0.9" />
<line x1="201.80" y1="366.56" x2="204.90" y2="366.56" stroke="#333" stroke-width="0.9" />
<line x1="201.80" y1="360.71" x2="204.90" y2="360.71" stroke="#333" stroke-width="0.9" />
<line x1="201.80" y1="354.86" x2="204.90" y2="354.86" stroke="#333" stroke-width="0.9" />
<text x="199.20" y="374.41" font-size="5.8" fill="#444" text-anchor="end" stroke="#444" stroke-width="0.18" >0</text>
<text x="199.20" y="362.81" font-size="5.8" fill="#444" text-anchor="end" stroke="#444" stroke-width="0.18" >2</text>
<line x1="205.70" y1="360.71" x2="224.60" y2="360.71" stroke="#2a2a2a" stroke-width="0.8" stroke-dasharray="2.6,1.7"/>
<line x1="228.10" y1="360.71" x2="466.80" y2="360.71" stroke="#2a2a2a" stroke-width="0.8" stroke-dasharray="2.6,1.7"/>
<line x1="470.20" y1="360.71" x2="473.40" y2="360.71" stroke="#2a2a2a" stroke-width="0.8" stroke-dasharray="2.6,1.7"/>
<line x1="477.20" y1="360.71" x2="492.40" y2="360.71" stroke="#2a2a2a" stroke-width="0.8" stroke-dasharray="2.6,1.7"/>
<circle cx="497.90" cy="363.61" r="3.70" fill="#fff" stroke="#222" stroke-width="0.7" />
<text x="497.90" y="365.51" font-size="5.2" fill="#333" text-anchor="middle" stroke="#333" stroke-width="0.18" >3</text>
<rect x="204.90" y="375.18" width="20.50" height="20.1" fill="#fff" stroke="#3c3c3c" stroke-width="0.85"/>
<rect x="204.90" y="374.98" width="20.50" height="1.5" fill="#8c8c8c"/>
<rect x="204.70" y="375.18" width="1.3" height="20.1" fill="#8c8c8c"/>
<rect x="227.30" y="375.18" width="240.30" height="20.1" fill="#fff" stroke="#3c3c3c" stroke-width="0.85"/>
<rect x="227.30" y="374.98" width="240.30" height="1.5" fill="#8c8c8c"/>
<rect x="469.40" y="375.18" width="4.80" height="20.1" fill="#fff" stroke="#3c3c3c" stroke-width="0.85"/>
<rect x="469.40" y="374.98" width="4.80" height="1.5" fill="#8c8c8c"/>
<rect x="469.20" y="375.18" width="1.3" height="20.1" fill="#8c8c8c"/>
<rect x="476.40" y="375.18" width="16.80" height="20.1" fill="#fff" stroke="#3c3c3c" stroke-width="0.85"/>
<rect x="476.40" y="374.98" width="16.80" height="1.5" fill="#8c8c8c"/>
<rect x="476.20" y="375.18" width="1.3" height="20.1" fill="#8c8c8c"/>
<rect x="493.20" y="375.18" width="9.40" height="20.1" fill="#fff" stroke="#3c3c3c" stroke-width="0.85"/>
<rect x="493.20" y="374.98" width="9.40" height="1.5" fill="#8c8c8c"/>
<line x1="201.80" y1="394.38" x2="204.90" y2="394.38" stroke="#333" stroke-width="0.9" />
<line x1="201.80" y1="388.38" x2="204.90" y2="388.38" stroke="#333" stroke-width="0.9" />
<line x1="201.80" y1="382.38" x2="204.90" y2="382.38" stroke="#333" stroke-width="0.9" />
<line x1="201.80" y1="376.38" x2="204.90" y2="376.38" stroke="#333" stroke-width="0.9" />
<text x="199.20" y="396.38" font-size="5.8" fill="#444" text-anchor="end" stroke="#444" stroke-width="0.18" >0</text>
<text x="199.20" y="384.78" font-size="5.8" fill="#444" text-anchor="end" stroke="#444" stroke-width="0.18" >2</text>
<line x1="205.70" y1="382.38" x2="224.60" y2="382.38" stroke="#2a2a2a" stroke-width="0.8" stroke-dasharray="2.6,1.7"/>
<line x1="228.10" y1="382.38" x2="466.80" y2="382.38" stroke="#2a2a2a" stroke-width="0.8" stroke-dasharray="2.6,1.7"/>
<line x1="470.20" y1="382.38" x2="473.40" y2="382.38" stroke="#2a2a2a" stroke-width="0.8" stroke-dasharray="2.6,1.7"/>
<line x1="477.20" y1="382.38" x2="492.40" y2="382.38" stroke="#2a2a2a" stroke-width="0.8" stroke-dasharray="2.6,1.7"/>
<circle cx="497.90" cy="385.58" r="3.70" fill="#fff" stroke="#222" stroke-width="0.7" />
<text x="497.90" y="387.48" font-size="5.2" fill="#333" text-anchor="middle" stroke="#333" stroke-width="0.18" >4</text>
<rect x="204.90" y="397.15" width="20.50" height="20.1" fill="#fff" stroke="#3c3c3c" stroke-width="0.85"/>
<rect x="204.90" y="396.95" width="20.50" height="1.5" fill="#8c8c8c"/>
<rect x="204.70" y="397.15" width="1.3" height="20.1" fill="#8c8c8c"/>
<rect x="227.30" y="397.15" width="240.30" height="20.1" fill="#fff" stroke="#3c3c3c" stroke-width="0.85"/>
<rect x="227.30" y="396.95" width="240.30" height="1.5" fill="#8c8c8c"/>
<rect x="469.40" y="397.15" width="4.80" height="20.1" fill="#fff" stroke="#3c3c3c" stroke-width="0.85"/>
<rect x="469.40" y="396.95" width="4.80" height="1.5" fill="#8c8c8c"/>
<rect x="469.20" y="397.15" width="1.3" height="20.1" fill="#8c8c8c"/>
<rect x="476.40" y="397.15" width="16.80" height="20.1" fill="#fff" stroke="#3c3c3c" stroke-width="0.85"/>
<rect x="476.40" y="396.95" width="16.80" height="1.5" fill="#8c8c8c"/>
<rect x="476.20" y="397.15" width="1.3" height="20.1" fill="#8c8c8c"/>
<rect x="493.20" y="397.15" width="9.40" height="20.1" fill="#fff" stroke="#3c3c3c" stroke-width="0.85"/>
<rect x="493.20" y="396.95" width="9.40" height="1.5" fill="#8c8c8c"/>
<line x1="201.80" y1="416.35" x2="204.90" y2="416.35" stroke="#333" stroke-width="0.9" />
<line x1="201.80" y1="413.45" x2="204.90" y2="413.45" stroke="#333" stroke-width="0.9" />
<line x1="201.80" y1="410.55" x2="204.90" y2="410.55" stroke="#333" stroke-width="0.9" />
<line x1="201.80" y1="407.65" x2="204.90" y2="407.65" stroke="#333" stroke-width="0.9" />
<line x1="201.80" y1="404.75" x2="204.90" y2="404.75" stroke="#333" stroke-width="0.9" />
<line x1="201.80" y1="401.85" x2="204.90" y2="401.85" stroke="#333" stroke-width="0.9" />
<line x1="201.80" y1="398.95" x2="204.90" y2="398.95" stroke="#333" stroke-width="0.9" />
<text x="199.20" y="418.35" font-size="5.8" fill="#444" text-anchor="end" stroke="#444" stroke-width="0.18" >0</text>
<text x="199.20" y="407.05" font-size="5.8" fill="#444" text-anchor="end" stroke="#444" stroke-width="0.18" >4</text>
<line x1="205.70" y1="410.55" x2="224.60" y2="410.55" stroke="#2a2a2a" stroke-width="0.8" stroke-dasharray="2.6,1.7"/>
<line x1="228.10" y1="410.55" x2="466.80" y2="410.55" stroke="#2a2a2a" stroke-width="0.8" stroke-dasharray="2.6,1.7"/>
<line x1="470.20" y1="410.55" x2="473.40" y2="410.55" stroke="#2a2a2a" stroke-width="0.8" stroke-dasharray="2.6,1.7"/>
<line x1="477.20" y1="410.55" x2="492.40" y2="410.55" stroke="#2a2a2a" stroke-width="0.8" stroke-dasharray="2.6,1.7"/>
<circle cx="497.90" cy="407.55" r="3.70" fill="#fff" stroke="#222" stroke-width="0.7" />
<text x="497.90" y="409.45" font-size="5.2" fill="#333" text-anchor="middle" stroke="#333" stroke-width="0.18" >5</text>
<rect x="204.90" y="419.12" width="20.50" height="20.1" fill="#fff" stroke="#3c3c3c" stroke-width="0.85"/>
<rect x="204.90" y="418.92" width="20.50" height="1.5" fill="#8c8c8c"/>
<rect x="204.70" y="419.12" width="1.3" height="20.1" fill="#8c8c8c"/>
<rect x="227.30" y="419.12" width="240.30" height="20.1" fill="#fff" stroke="#3c3c3c" stroke-width="0.85"/>
<rect x="227.30" y="418.92" width="240.30" height="1.5" fill="#8c8c8c"/>
<rect x="469.40" y="419.12" width="4.80" height="20.1" fill="#fff" stroke="#3c3c3c" stroke-width="0.85"/>
<rect x="469.40" y="418.92" width="4.80" height="1.5" fill="#8c8c8c"/>
<rect x="469.20" y="419.12" width="1.3" height="20.1" fill="#8c8c8c"/>
<rect x="476.40" y="419.12" width="16.80" height="20.1" fill="#fff" stroke="#3c3c3c" stroke-width="0.85"/>
<rect x="476.40" y="418.92" width="16.80" height="1.5" fill="#8c8c8c"/>
<rect x="476.20" y="419.12" width="1.3" height="20.1" fill="#8c8c8c"/>
<rect x="493.20" y="419.12" width="9.40" height="20.1" fill="#fff" stroke="#3c3c3c" stroke-width="0.85"/>
<rect x="493.20" y="418.92" width="9.40" height="1.5" fill="#8c8c8c"/>
<line x1="201.80" y1="438.32" x2="204.90" y2="438.32" stroke="#333" stroke-width="0.9" />
<line x1="201.80" y1="434.19" x2="204.90" y2="434.19" stroke="#333" stroke-width="0.9" />
<line x1="201.80" y1="430.07" x2="204.90" y2="430.07" stroke="#333" stroke-width="0.9" />
<line x1="201.80" y1="425.94" x2="204.90" y2="425.94" stroke="#333" stroke-width="0.9" />
<line x1="201.80" y1="421.82" x2="204.90" y2="421.82" stroke="#333" stroke-width="0.9" />
<text x="199.20" y="440.32" font-size="5.8" fill="#444" text-anchor="end" stroke="#444" stroke-width="0.18" >0</text>
<text x="199.20" y="428.12" font-size="5.8" fill="#444" text-anchor="end" stroke="#444" stroke-width="0.18" >7.5</text>
<line x1="205.70" y1="435.02" x2="224.60" y2="435.02" stroke="#2a2a2a" stroke-width="0.8" stroke-dasharray="2.6,1.7"/>
<line x1="228.10" y1="435.02" x2="466.80" y2="435.02" stroke="#2a2a2a" stroke-width="0.8" stroke-dasharray="2.6,1.7"/>
<line x1="470.20" y1="435.02" x2="473.40" y2="435.02" stroke="#2a2a2a" stroke-width="0.8" stroke-dasharray="2.6,1.7"/>
<line x1="477.20" y1="435.02" x2="492.40" y2="435.02" stroke="#2a2a2a" stroke-width="0.8" stroke-dasharray="2.6,1.7"/>
<circle cx="497.90" cy="429.52" r="3.70" fill="#fff" stroke="#222" stroke-width="0.7" />
<text x="497.90" y="431.42" font-size="5.2" fill="#333" text-anchor="middle" stroke="#333" stroke-width="0.18" >6</text>
<rect x="204.90" y="441.09" width="20.50" height="20.1" fill="#fff" stroke="#3c3c3c" stroke-width="0.85"/>
<rect x="204.90" y="440.89" width="20.50" height="1.5" fill="#8c8c8c"/>
<rect x="204.70" y="441.09" width="1.3" height="20.1" fill="#8c8c8c"/>
<rect x="227.30" y="441.09" width="240.30" height="20.1" fill="#fff" stroke="#3c3c3c" stroke-width="0.85"/>
<rect x="227.30" y="440.89" width="240.30" height="1.5" fill="#8c8c8c"/>
<rect x="469.40" y="441.09" width="4.80" height="20.1" fill="#fff" stroke="#3c3c3c" stroke-width="0.85"/>
<rect x="469.40" y="440.89" width="4.80" height="1.5" fill="#8c8c8c"/>
<rect x="469.20" y="441.09" width="1.3" height="20.1" fill="#8c8c8c"/>
<rect x="476.40" y="441.09" width="16.80" height="20.1" fill="#fff" stroke="#3c3c3c" stroke-width="0.85"/>
<rect x="476.40" y="440.89" width="16.80" height="1.5" fill="#8c8c8c"/>
<rect x="476.20" y="441.09" width="1.3" height="20.1" fill="#8c8c8c"/>
<rect x="493.20" y="441.09" width="9.40" height="20.1" fill="#fff" stroke="#3c3c3c" stroke-width="0.85"/>
<rect x="493.20" y="440.89" width="9.40" height="1.5" fill="#8c8c8c"/>
<line x1="201.80" y1="460.29" x2="204.90" y2="460.29" stroke="#333" stroke-width="0.9" />
<line x1="201.80" y1="455.79" x2="204.90" y2="455.79" stroke="#333" stroke-width="0.9" />
<line x1="201.80" y1="451.29" x2="204.90" y2="451.29" stroke="#333" stroke-width="0.9" />
<line x1="201.80" y1="446.79" x2="204.90" y2="446.79" stroke="#333" stroke-width="0.9" />
<line x1="201.80" y1="442.29" x2="204.90" y2="442.29" stroke="#333" stroke-width="0.9" />
<text x="199.20" y="462.29" font-size="5.8" fill="#444" text-anchor="end" stroke="#444" stroke-width="0.18" >0</text>
<text x="199.20" y="449.29" font-size="5.8" fill="#444" text-anchor="end" stroke="#444" stroke-width="0.18" >6</text>
<line x1="205.70" y1="455.79" x2="224.60" y2="455.79" stroke="#2a2a2a" stroke-width="0.8" stroke-dasharray="2.6,1.7"/>
<line x1="228.10" y1="455.79" x2="466.80" y2="455.79" stroke="#2a2a2a" stroke-width="0.8" stroke-dasharray="2.6,1.7"/>
<line x1="470.20" y1="455.79" x2="473.40" y2="455.79" stroke="#2a2a2a" stroke-width="0.8" stroke-dasharray="2.6,1.7"/>
<line x1="477.20" y1="455.79" x2="492.40" y2="455.79" stroke="#2a2a2a" stroke-width="0.8" stroke-dasharray="2.6,1.7"/>
<circle cx="497.90" cy="451.49" r="3.70" fill="#fff" stroke="#222" stroke-width="0.7" />
<text x="497.90" y="453.39" font-size="5.2" fill="#333" text-anchor="middle" stroke="#333" stroke-width="0.18" >7</text>
<rect x="204.90" y="463.06" width="20.50" height="20.1" fill="#fff" stroke="#3c3c3c" stroke-width="0.85"/>
<rect x="204.90" y="462.86" width="20.50" height="1.5" fill="#8c8c8c"/>
<rect x="204.70" y="463.06" width="1.3" height="20.1" fill="#8c8c8c"/>
<rect x="227.30" y="463.06" width="240.30" height="20.1" fill="#fff" stroke="#3c3c3c" stroke-width="0.85"/>
<rect x="227.30" y="462.86" width="240.30" height="1.5" fill="#8c8c8c"/>
<rect x="469.40" y="463.06" width="4.80" height="20.1" fill="#fff" stroke="#3c3c3c" stroke-width="0.85"/>
<rect x="469.40" y="462.86" width="4.80" height="1.5" fill="#8c8c8c"/>
<rect x="469.20" y="463.06" width="1.3" height="20.1" fill="#8c8c8c"/>
<rect x="476.40" y="463.06" width="16.80" height="20.1" fill="#fff" stroke="#3c3c3c" stroke-width="0.85"/>
<rect x="476.40" y="462.86" width="16.80" height="1.5" fill="#8c8c8c"/>
<rect x="476.20" y="463.06" width="1.3" height="20.1" fill="#8c8c8c"/>
<rect x="493.20" y="463.06" width="9.40" height="20.1" fill="#fff" stroke="#3c3c3c" stroke-width="0.85"/>
<rect x="493.20" y="462.86" width="9.40" height="1.5" fill="#8c8c8c"/>
<line x1="201.80" y1="482.26" x2="204.90" y2="482.26" stroke="#333" stroke-width="0.9" />
<line x1="201.80" y1="477.76" x2="204.90" y2="477.76" stroke="#333" stroke-width="0.9" />
<line x1="201.80" y1="473.26" x2="204.90" y2="473.26" stroke="#333" stroke-width="0.9" />
<line x1="201.80" y1="468.76" x2="204.90" y2="468.76" stroke="#333" stroke-width="0.9" />
<line x1="201.80" y1="464.26" x2="204.90" y2="464.26" stroke="#333" stroke-width="0.9" />
<text x="199.20" y="484.26" font-size="5.8" fill="#444" text-anchor="end" stroke="#444" stroke-width="0.18" >0</text>
<text x="199.20" y="471.26" font-size="5.8" fill="#444" text-anchor="end" stroke="#444" stroke-width="0.18" >6</text>
<line x1="205.70" y1="477.76" x2="224.60" y2="477.76" stroke="#2a2a2a" stroke-width="0.8" stroke-dasharray="2.6,1.7"/>
<line x1="228.10" y1="477.76" x2="466.80" y2="477.76" stroke="#2a2a2a" stroke-width="0.8" stroke-dasharray="2.6,1.7"/>
<line x1="470.20" y1="477.76" x2="473.40" y2="477.76" stroke="#2a2a2a" stroke-width="0.8" stroke-dasharray="2.6,1.7"/>
<line x1="477.20" y1="477.76" x2="492.40" y2="477.76" stroke="#2a2a2a" stroke-width="0.8" stroke-dasharray="2.6,1.7"/>
<circle cx="497.90" cy="473.46" r="3.70" fill="#fff" stroke="#222" stroke-width="0.7" />
<text x="497.90" y="475.36" font-size="5.2" fill="#333" text-anchor="middle" stroke="#333" stroke-width="0.18" >8</text>
<rect x="204.90" y="485.03" width="20.50" height="20.1" fill="#fff" stroke="#3c3c3c" stroke-width="0.85"/>
<rect x="204.90" y="484.83" width="20.50" height="1.5" fill="#8c8c8c"/>
<rect x="204.70" y="485.03" width="1.3" height="20.1" fill="#8c8c8c"/>
<rect x="227.30" y="485.03" width="240.30" height="20.1" fill="#fff" stroke="#3c3c3c" stroke-width="0.85"/>
<rect x="227.30" y="484.83" width="240.30" height="1.5" fill="#8c8c8c"/>
<rect x="469.40" y="485.03" width="4.80" height="20.1" fill="#fff" stroke="#3c3c3c" stroke-width="0.85"/>
<rect x="469.40" y="484.83" width="4.80" height="1.5" fill="#8c8c8c"/>
<rect x="469.20" y="485.03" width="1.3" height="20.1" fill="#8c8c8c"/>
<rect x="476.40" y="485.03" width="16.80" height="20.1" fill="#fff" stroke="#3c3c3c" stroke-width="0.85"/>
<rect x="476.40" y="484.83" width="16.80" height="1.5" fill="#8c8c8c"/>
<rect x="476.20" y="485.03" width="1.3" height="20.1" fill="#8c8c8c"/>
<rect x="493.20" y="485.03" width="9.40" height="20.1" fill="#fff" stroke="#3c3c3c" stroke-width="0.85"/>
<rect x="493.20" y="484.83" width="9.40" height="1.5" fill="#8c8c8c"/>
<line x1="201.80" y1="504.23" x2="204.90" y2="504.23" stroke="#333" stroke-width="0.9" />
<line x1="201.80" y1="498.38" x2="204.90" y2="498.38" stroke="#333" stroke-width="0.9" />
<line x1="201.80" y1="492.53" x2="204.90" y2="492.53" stroke="#333" stroke-width="0.9" />
<line x1="201.80" y1="486.68" x2="204.90" y2="486.68" stroke="#333" stroke-width="0.9" />
<text x="199.20" y="506.23" font-size="5.8" fill="#444" text-anchor="end" stroke="#444" stroke-width="0.18" >0</text>
<text x="199.20" y="494.63" font-size="5.8" fill="#444" text-anchor="end" stroke="#444" stroke-width="0.18" >2</text>
<line x1="205.70" y1="492.53" x2="224.60" y2="492.53" stroke="#2a2a2a" stroke-width="0.8" stroke-dasharray="2.6,1.7"/>
<line x1="228.10" y1="492.53" x2="466.80" y2="492.53" stroke="#2a2a2a" stroke-width="0.8" stroke-dasharray="2.6,1.7"/>
<line x1="470.20" y1="492.53" x2="473.40" y2="492.53" stroke="#2a2a2a" stroke-width="0.8" stroke-dasharray="2.6,1.7"/>
<line x1="477.20" y1="492.53" x2="492.40" y2="492.53" stroke="#2a2a2a" stroke-width="0.8" stroke-dasharray="2.6,1.7"/>
<circle cx="497.90" cy="495.43" r="3.70" fill="#fff" stroke="#222" stroke-width="0.7" />
<text x="497.90" y="497.33" font-size="5.2" fill="#333" text-anchor="middle" stroke="#333" stroke-width="0.18" >9</text>
<path d="M228.40 292.97a1.1 1.1 0 1 0 2.2 0a1.1 1.1 0 1 0 -2.2 0M233.18 291.08a1.1 1.1 0 1 0 2.2 0a1.1 1.1 0 1 0 -2.2 0M237.96 294.00a1.1 1.1 0 1 0 2.2 0a1.1 1.1 0 1 0 -2.2 0M242.74 292.48a1.1 1.1 0 1 0 2.2 0a1.1 1.1 0 1 0 -2.2 0M247.52 292.90a1.1 1.1 0 1 0 2.2 0a1.1 1.1 0 1 0 -2.2 0M252.30 291.92a1.1 1.1 0 1 0 2.2 0a1.1 1.1 0 1 0 -2.2 0M257.08 292.45a1.1 1.1 0 1 0 2.2 0a1.1 1.1 0 1 0 -2.2 0M261.86 292.38a1.1 1.1 0 1 0 2.2 0a1.1 1.1 0 1 0 -2.2 0M266.64 291.28a1.1 1.1 0 1 0 2.2 0a1.1 1.1 0 1 0 -2.2 0M271.42 292.47a1.1 1.1 0 1 0 2.2 0a1.1 1.1 0 1 0 -2.2 0M276.20 293.00a1.1 1.1 0 1 0 2.2 0a1.1 1.1 0 1 0 -2.2 0M280.98 291.12a1.1 1.1 0 1 0 2.2 0a1.1 1.1 0 1 0 -2.2 0M285.76 291.23a1.1 1.1 0 1 0 2.2 0a1.1 1.1 0 1 0 -2.2 0M290.54 290.92a1.1 1.1 0 1 0 2.2 0a1.1 1.1 0 1 0 -2.2 0M295.32 291.51a1.1 1.1 0 1 0 2.2 0a1.1 1.1 0 1 0 -2.2 0M300.10 292.63a1.1 1.1 0 1 0 2.2 0a1.1 1.1 0 1 0 -2.2 0M304.88 290.96a1.1 1.1 0 1 0 2.2 0a1.1 1.1 0 1 0 -2.2 0M309.66 292.33a1.1 1.1 0 1 0 2.2 0a1.1 1.1 0 1 0 -2.2 0M314.44 291.83a1.1 1.1 0 1 0 2.2 0a1.1 1.1 0 1 0 -2.2 0M319.22 292.96a1.1 1.1 0 1 0 2.2 0a1.1 1.1 0 1 0 -2.2 0M324.00 292.55a1.1 1.1 0 1 0 2.2 0a1.1 1.1 0 1 0 -2.2 0M328.78 291.58a1.1 1.1 0 1 0 2.2 0a1.1 1.1 0 1 0 -2.2 0M333.56 291.39a1.1 1.1 0 1 0 2.2 0a1.1 1.1 0 1 0 -2.2 0M338.34 291.95a1.1 1.1 0 1 0 2.2 0a1.1 1.1 0 1 0 -2.2 0M343.12 290.89a1.1 1.1 0 1 0 2.2 0a1.1 1.1 0 1 0 -2.2 0M347.90 292.05a1.1 1.1 0 1 0 2.2 0a1.1 1.1 0 1 0 -2.2 0M352.68 293.82a1.1 1.1 0 1 0 2.2 0a1.1 1.1 0 1 0 -2.2 0M357.46 291.53a1.1 1.1 0 1 0 2.2 0a1.1 1.1 0 1 0 -2.2 0M362.24 293.88a1.1 1.1 0 1 0 2.2 0a1.1 1.1 0 1 0 -2.2 0M367.02 293.47a1.1 1.1 0 1 0 2.2 0a1.1 1.1 0 1 0 -2.2 0M371.80 292.36a1.1 1.1 0 1 0 2.2 0a1.1 1.1 0 1 0 -2.2 0M376.58 291.50a1.1 1.1 0 1 0 2.2 0a1.1 1.1 0 1 0 -2.2 0M381.36 291.52a1.1 1.1 0 1 0 2.2 0a1.1 1.1 0 1 0 -2.2 0M386.14 292.23a1.1 1.1 0 1 0 2.2 0a1.1 1.1 0 1 0 -2.2 0M390.92 291.67a1.1 1.1 0 1 0 2.2 0a1.1 1.1 0 1 0 -2.2 0M395.70 293.12a1.1 1.1 0 1 0 2.2 0a1.1 1.1 0 1 0 -2.2 0M400.48 289.88a1.1 1.1 0 1 0 2.2 0a1.1 1.1 0 1 0 -2.2 0M405.26 292.21a1.1 1.1 0 1 0 2.2 0a1.1 1.1 0 1 0 -2.2 0M410.04 292.11a1.1 1.1 0 1 0 2.2 0a1.1 1.1 0 1 0 -2.2 0M414.82 292.18a1.1 1.1 0 1 0 2.2 0a1.1 1.1 0 1 0 -2.2 0M419.60 290.99a1.1 1.1 0 1 0 2.2 0a1.1 1.1 0 1 0 -2.2 0M424.38 291.83a1.1 1.1 0 1 0 2.2 0a1.1 1.1 0 1 0 -2.2 0M429.16 291.83a1.1 1.1 0 1 0 2.2 0a1.1 1.1 0 1 0 -2.2 0M433.94 292.31a1.1 1.1 0 1 0 2.2 0a1.1 1.1 0 1 0 -2.2 0M438.72 292.31a1.1 1.1 0 1 0 2.2 0a1.1 1.1 0 1 0 -2.2 0M443.50 291.81a1.1 1.1 0 1 0 2.2 0a1.1 1.1 0 1 0 -2.2 0M448.28 292.01a1.1 1.1 0 1 0 2.2 0a1.1 1.1 0 1 0 -2.2 0M453.06 291.89a1.1 1.1 0 1 0 2.2 0a1.1 1.1 0 1 0 -2.2 0M457.84 292.49a1.1 1.1 0 1 0 2.2 0a1.1 1.1 0 1 0 -2.2 0M462.62 291.04a1.1 1.1 0 1 0 2.2 0a1.1 1.1 0 1 0 -2.2 0M228.40 338.89a1.1 1.1 0 1 0 2.2 0a1.1 1.1 0 1 0 -2.2 0M233.18 339.83a1.1 1.1 0 1 0 2.2 0a1.1 1.1 0 1 0 -2.2 0M237.96 341.42a1.1 1.1 0 1 0 2.2 0a1.1 1.1 0 1 0 -2.2 0M242.74 339.34a1.1 1.1 0 1 0 2.2 0a1.1 1.1 0 1 0 -2.2 0M247.52 340.89a1.1 1.1 0 1 0 2.2 0a1.1 1.1 0 1 0 -2.2 0M252.30 340.47a1.1 1.1 0 1 0 2.2 0a1.1 1.1 0 1 0 -2.2 0M257.08 338.57a1.1 1.1 0 1 0 2.2 0a1.1 1.1 0 1 0 -2.2 0M261.86 340.72a1.1 1.1 0 1 0 2.2 0a1.1 1.1 0 1 0 -2.2 0M266.64 341.14a1.1 1.1 0 1 0 2.2 0a1.1 1.1 0 1 0 -2.2 0M271.42 341.04a1.1 1.1 0 1 0 2.2 0a1.1 1.1 0 1 0 -2.2 0M276.20 338.84a1.1 1.1 0 1 0 2.2 0a1.1 1.1 0 1 0 -2.2 0M280.98 339.60a1.1 1.1 0 1 0 2.2 0a1.1 1.1 0 1 0 -2.2 0M285.76 338.67a1.1 1.1 0 1 0 2.2 0a1.1 1.1 0 1 0 -2.2 0M290.54 341.11a1.1 1.1 0 1 0 2.2 0a1.1 1.1 0 1 0 -2.2 0M295.32 341.61a1.1 1.1 0 1 0 2.2 0a1.1 1.1 0 1 0 -2.2 0M300.10 339.52a1.1 1.1 0 1 0 2.2 0a1.1 1.1 0 1 0 -2.2 0M304.88 340.90a1.1 1.1 0 1 0 2.2 0a1.1 1.1 0 1 0 -2.2 0M314.44 340.16a1.1 1.1 0 1 0 2.2 0a1.1 1.1 0 1 0 -2.2 0M319.22 340.15a1.1 1.1 0 1 0 2.2 0a1.1 1.1 0 1 0 -2.2 0M324.00 340.79a1.1 1.1 0 1 0 2.2 0a1.1 1.1 0 1 0 -2.2 0M328.78 339.65a1.1 1.1 0 1 0 2.2 0a1.1 1.1 0 1 0 -2.2 0M333.56 338.44a1.1 1.1 0 1 0 2.2 0a1.1 1.1 0 1 0 -2.2 0M338.34 341.60a1.1 1.1 0 1 0 2.2 0a1.1 1.1 0 1 0 -2.2 0M343.12 340.43a1.1 1.1 0 1 0 2.2 0a1.1 1.1 0 1 0 -2.2 0M347.90 340.06a1.1 1.1 0 1 0 2.2 0a1.1 1.1 0 1 0 -2.2 0M362.24 338.83a1.1 1.1 0 1 0 2.2 0a1.1 1.1 0 1 0 -2.2 0M367.02 341.07a1.1 1.1 0 1 0 2.2 0a1.1 1.1 0 1 0 -2.2 0M371.80 339.15a1.1 1.1 0 1 0 2.2 0a1.1 1.1 0 1 0 -2.2 0M376.58 340.65a1.1 1.1 0 1 0 2.2 0a1.1 1.1 0 1 0 -2.2 0M381.36 338.43a1.1 1.1 0 1 0 2.2 0a1.1 1.1 0 1 0 -2.2 0M386.14 340.67a1.1 1.1 0 1 0 2.2 0a1.1 1.1 0 1 0 -2.2 0M390.92 339.75a1.1 1.1 0 1 0 2.2 0a1.1 1.1 0 1 0 -2.2 0M400.48 339.30a1.1 1.1 0 1 0 2.2 0a1.1 1.1 0 1 0 -2.2 0M405.26 342.45a1.1 1.1 0 1 0 2.2 0a1.1 1.1 0 1 0 -2.2 0M414.82 338.84a1.1 1.1 0 1 0 2.2 0a1.1 1.1 0 1 0 -2.2 0M419.60 342.15a1.1 1.1 0 1 0 2.2 0a1.1 1.1 0 1 0 -2.2 0M424.38 341.13a1.1 1.1 0 1 0 2.2 0a1.1 1.1 0 1 0 -2.2 0M429.16 339.02a1.1 1.1 0 1 0 2.2 0a1.1 1.1 0 1 0 -2.2 0M433.94 340.61a1.1 1.1 0 1 0 2.2 0a1.1 1.1 0 1 0 -2.2 0M438.72 340.79a1.1 1.1 0 1 0 2.2 0a1.1 1.1 0 1 0 -2.2 0M448.28 340.33a1.1 1.1 0 1 0 2.2 0a1.1 1.1 0 1 0 -2.2 0M453.06 340.10a1.1 1.1 0 1 0 2.2 0a1.1 1.1 0 1 0 -2.2 0M457.84 341.03a1.1 1.1 0 1 0 2.2 0a1.1 1.1 0 1 0 -2.2 0M462.62 338.66a1.1 1.1 0 1 0 2.2 0a1.1 1.1 0 1 0 -2.2 0M470.50 339.79a1.1 1.1 0 1 0 2.2 0a1.1 1.1 0 1 0 -2.2 0M228.40 406.43a1.1 1.1 0 1 0 2.2 0a1.1 1.1 0 1 0 -2.2 0M233.18 409.06a1.1 1.1 0 1 0 2.2 0a1.1 1.1 0 1 0 -2.2 0M237.96 406.46a1.1 1.1 0 1 0 2.2 0a1.1 1.1 0 1 0 -2.2 0M242.74 406.45a1.1 1.1 0 1 0 2.2 0a1.1 1.1 0 1 0 -2.2 0M247.52 406.96a1.1 1.1 0 1 0 2.2 0a1.1 1.1 0 1 0 -2.2 0M252.30 408.35a1.1 1.1 0 1 0 2.2 0a1.1 1.1 0 1 0 -2.2 0M257.08 408.11a1.1 1.1 0 1 0 2.2 0a1.1 1.1 0 1 0 -2.2 0M261.86 407.67a1.1 1.1 0 1 0 2.2 0a1.1 1.1 0 1 0 -2.2 0M266.64 406.51a1.1 1.1 0 1 0 2.2 0a1.1 1.1 0 1 0 -2.2 0M271.42 407.42a1.1 1.1 0 1 0 2.2 0a1.1 1.1 0 1 0 -2.2 0M280.98 406.30a1.1 1.1 0 1 0 2.2 0a1.1 1.1 0 1 0 -2.2 0M285.76 408.54a1.1 1.1 0 1 0 2.2 0a1.1 1.1 0 1 0 -2.2 0M290.54 407.43a1.1 1.1 0 1 0 2.2 0a1.1 1.1 0 1 0 -2.2 0M295.32 406.53a1.1 1.1 0 1 0 2.2 0a1.1 1.1 0 1 0 -2.2 0M300.10 407.00a1.1 1.1 0 1 0 2.2 0a1.1 1.1 0 1 0 -2.2 0M304.88 406.86a1.1 1.1 0 1 0 2.2 0a1.1 1.1 0 1 0 -2.2 0M309.66 405.88a1.1 1.1 0 1 0 2.2 0a1.1 1.1 0 1 0 -2.2 0M314.44 407.05a1.1 1.1 0 1 0 2.2 0a1.1 1.1 0 1 0 -2.2 0M319.22 407.40a1.1 1.1 0 1 0 2.2 0a1.1 1.1 0 1 0 -2.2 0M324.00 406.64a1.1 1.1 0 1 0 2.2 0a1.1 1.1 0 1 0 -2.2 0M328.78 407.07a1.1 1.1 0 1 0 2.2 0a1.1 1.1 0 1 0 -2.2 0M333.56 408.30a1.1 1.1 0 1 0 2.2 0a1.1 1.1 0 1 0 -2.2 0M338.34 406.55a1.1 1.1 0 1 0 2.2 0a1.1 1.1 0 1 0 -2.2 0M343.12 406.25a1.1 1.1 0 1 0 2.2 0a1.1 1.1 0 1 0 -2.2 0M347.90 407.21a1.1 1.1 0 1 0 2.2 0a1.1 1.1 0 1 0 -2.2 0M352.68 408.65a1.1 1.1 0 1 0 2.2 0a1.1 1.1 0 1 0 -2.2 0M362.24 406.25a1.1 1.1 0 1 0 2.2 0a1.1 1.1 0 1 0 -2.2 0M367.02 406.86a1.1 1.1 0 1 0 2.2 0a1.1 1.1 0 1 0 -2.2 0M371.80 408.94a1.1 1.1 0 1 0 2.2 0a1.1 1.1 0 1 0 -2.2 0M376.58 407.18a1.1 1.1 0 1 0 2.2 0a1.1 1.1 0 1 0 -2.2 0M381.36 405.70a1.1 1.1 0 1 0 2.2 0a1.1 1.1 0 1 0 -2.2 0M386.14 406.82a1.1 1.1 0 1 0 2.2 0a1.1 1.1 0 1 0 -2.2 0M390.92 407.72a1.1 1.1 0 1 0 2.2 0a1.1 1.1 0 1 0 -2.2 0M395.70 406.99a1.1 1.1 0 1 0 2.2 0a1.1 1.1 0 1 0 -2.2 0M400.48 405.06a1.1 1.1 0 1 0 2.2 0a1.1 1.1 0 1 0 -2.2 0M405.26 406.92a1.1 1.1 0 1 0 2.2 0a1.1 1.1 0 1 0 -2.2 0M410.04 406.31a1.1 1.1 0 1 0 2.2 0a1.1 1.1 0 1 0 -2.2 0M414.82 405.65a1.1 1.1 0 1 0 2.2 0a1.1 1.1 0 1 0 -2.2 0M419.60 406.00a1.1 1.1 0 1 0 2.2 0a1.1 1.1 0 1 0 -2.2 0M424.38 407.54a1.1 1.1 0 1 0 2.2 0a1.1 1.1 0 1 0 -2.2 0M429.16 407.52a1.1 1.1 0 1 0 2.2 0a1.1 1.1 0 1 0 -2.2 0M433.94 407.95a1.1 1.1 0 1 0 2.2 0a1.1 1.1 0 1 0 -2.2 0M438.72 406.74a1.1 1.1 0 1 0 2.2 0a1.1 1.1 0 1 0 -2.2 0M443.50 405.64a1.1 1.1 0 1 0 2.2 0a1.1 1.1 0 1 0 -2.2 0M448.28 406.92a1.1 1.1 0 1 0 2.2 0a1.1 1.1 0 1 0 -2.2 0M453.06 406.31a1.1 1.1 0 1 0 2.2 0a1.1 1.1 0 1 0 -2.2 0M457.84 406.67a1.1 1.1 0 1 0 2.2 0a1.1 1.1 0 1 0 -2.2 0M462.62 407.12a1.1 1.1 0 1 0 2.2 0a1.1 1.1 0 1 0 -2.2 0M470.50 407.07a1.1 1.1 0 1 0 2.2 0a1.1 1.1 0 1 0 -2.2 0M206.40 432.52a1.1 1.1 0 1 0 2.2 0a1.1 1.1 0 1 0 -2.2 0M209.40 431.52a1.1 1.1 0 1 0 2.2 0a1.1 1.1 0 1 0 -2.2 0M212.40 433.85a1.1 1.1 0 1 0 2.2 0a1.1 1.1 0 1 0 -2.2 0M215.40 432.02a1.1 1.1 0 1 0 2.2 0a1.1 1.1 0 1 0 -2.2 0M218.40 432.72a1.1 1.1 0 1 0 2.2 0a1.1 1.1 0 1 0 -2.2 0M221.40 430.93a1.1 1.1 0 1 0 2.2 0a1.1 1.1 0 1 0 -2.2 0M228.40 430.96a1.1 1.1 0 1 0 2.2 0a1.1 1.1 0 1 0 -2.2 0M233.18 428.38a1.1 1.1 0 1 0 2.2 0a1.1 1.1 0 1 0 -2.2 0M237.96 430.45a1.1 1.1 0 1 0 2.2 0a1.1 1.1 0 1 0 -2.2 0M242.74 433.34a1.1 1.1 0 1 0 2.2 0a1.1 1.1 0 1 0 -2.2 0M247.52 431.05a1.1 1.1 0 1 0 2.2 0a1.1 1.1 0 1 0 -2.2 0M252.30 429.44a1.1 1.1 0 1 0 2.2 0a1.1 1.1 0 1 0 -2.2 0M257.08 429.65a1.1 1.1 0 1 0 2.2 0a1.1 1.1 0 1 0 -2.2 0M261.86 430.31a1.1 1.1 0 1 0 2.2 0a1.1 1.1 0 1 0 -2.2 0M266.64 430.95a1.1 1.1 0 1 0 2.2 0a1.1 1.1 0 1 0 -2.2 0M271.42 428.94a1.1 1.1 0 1 0 2.2 0a1.1 1.1 0 1 0 -2.2 0M276.20 431.14a1.1 1.1 0 1 0 2.2 0a1.1 1.1 0 1 0 -2.2 0M280.98 435.34a1.1 1.1 0 1 0 2.2 0a1.1 1.1 0 1 0 -2.2 0M285.76 430.09a1.1 1.1 0 1 0 2.2 0a1.1 1.1 0 1 0 -2.2 0M290.54 430.14a1.1 1.1 0 1 0 2.2 0a1.1 1.1 0 1 0 -2.2 0M295.32 430.25a1.1 1.1 0 1 0 2.2 0a1.1 1.1 0 1 0 -2.2 0M300.10 432.34a1.1 1.1 0 1 0 2.2 0a1.1 1.1 0 1 0 -2.2 0M304.88 431.21a1.1 1.1 0 1 0 2.2 0a1.1 1.1 0 1 0 -2.2 0M309.66 429.77a1.1 1.1 0 1 0 2.2 0a1.1 1.1 0 1 0 -2.2 0M314.44 431.14a1.1 1.1 0 1 0 2.2 0a1.1 1.1 0 1 0 -2.2 0M319.22 428.79a1.1 1.1 0 1 0 2.2 0a1.1 1.1 0 1 0 -2.2 0M324.00 431.86a1.1 1.1 0 1 0 2.2 0a1.1 1.1 0 1 0 -2.2 0M328.78 430.66a1.1 1.1 0 1 0 2.2 0a1.1 1.1 0 1 0 -2.2 0M333.56 430.54a1.1 1.1 0 1 0 2.2 0a1.1 1.1 0 1 0 -2.2 0M338.34 430.08a1.1 1.1 0 1 0 2.2 0a1.1 1.1 0 1 0 -2.2 0M343.12 431.39a1.1 1.1 0 1 0 2.2 0a1.1 1.1 0 1 0 -2.2 0M347.90 432.72a1.1 1.1 0 1 0 2.2 0a1.1 1.1 0 1 0 -2.2 0M352.68 434.49a1.1 1.1 0 1 0 2.2 0a1.1 1.1 0 1 0 -2.2 0M357.46 428.83a1.1 1.1 0 1 0 2.2 0a1.1 1.1 0 1 0 -2.2 0M362.24 430.27a1.1 1.1 0 1 0 2.2 0a1.1 1.1 0 1 0 -2.2 0M367.02 429.27a1.1 1.1 0 1 0 2.2 0a1.1 1.1 0 1 0 -2.2 0M371.80 430.86a1.1 1.1 0 1 0 2.2 0a1.1 1.1 0 1 0 -2.2 0M376.58 428.96a1.1 1.1 0 1 0 2.2 0a1.1 1.1 0 1 0 -2.2 0M381.36 432.74a1.1 1.1 0 1 0 2.2 0a1.1 1.1 0 1 0 -2.2 0M386.14 432.33a1.1 1.1 0 1 0 2.2 0a1.1 1.1 0 1 0 -2.2 0M390.92 435.34a1.1 1.1 0 1 0 2.2 0a1.1 1.1 0 1 0 -2.2 0M395.70 430.59a1.1 1.1 0 1 0 2.2 0a1.1 1.1 0 1 0 -2.2 0M400.48 431.07a1.1 1.1 0 1 0 2.2 0a1.1 1.1 0 1 0 -2.2 0M405.26 429.05a1.1 1.1 0 1 0 2.2 0a1.1 1.1 0 1 0 -2.2 0M410.04 432.48a1.1 1.1 0 1 0 2.2 0a1.1 1.1 0 1 0 -2.2 0M414.82 430.90a1.1 1.1 0 1 0 2.2 0a1.1 1.1 0 1 0 -2.2 0M419.60 429.96a1.1 1.1 0 1 0 2.2 0a1.1 1.1 0 1 0 -2.2 0M424.38 430.62a1.1 1.1 0 1 0 2.2 0a1.1 1.1 0 1 0 -2.2 0M429.16 428.60a1.1 1.1 0 1 0 2.2 0a1.1 1.1 0 1 0 -2.2 0M433.94 430.41a1.1 1.1 0 1 0 2.2 0a1.1 1.1 0 1 0 -2.2 0M438.72 426.04a1.1 1.1 0 1 0 2.2 0a1.1 1.1 0 1 0 -2.2 0M443.50 429.75a1.1 1.1 0 1 0 2.2 0a1.1 1.1 0 1 0 -2.2 0M448.28 429.40a1.1 1.1 0 1 0 2.2 0a1.1 1.1 0 1 0 -2.2 0M453.06 428.64a1.1 1.1 0 1 0 2.2 0a1.1 1.1 0 1 0 -2.2 0M457.84 428.67a1.1 1.1 0 1 0 2.2 0a1.1 1.1 0 1 0 -2.2 0M462.62 429.87a1.1 1.1 0 1 0 2.2 0a1.1 1.1 0 1 0 -2.2 0M470.50 428.42a1.1 1.1 0 1 0 2.2 0a1.1 1.1 0 1 0 -2.2 0M206.40 450.81a1.1 1.1 0 1 0 2.2 0a1.1 1.1 0 1 0 -2.2 0M209.40 451.99a1.1 1.1 0 1 0 2.2 0a1.1 1.1 0 1 0 -2.2 0M212.40 452.22a1.1 1.1 0 1 0 2.2 0a1.1 1.1 0 1 0 -2.2 0M215.40 451.28a1.1 1.1 0 1 0 2.2 0a1.1 1.1 0 1 0 -2.2 0M218.40 452.92a1.1 1.1 0 1 0 2.2 0a1.1 1.1 0 1 0 -2.2 0M221.40 451.97a1.1 1.1 0 1 0 2.2 0a1.1 1.1 0 1 0 -2.2 0M228.40 451.95a1.1 1.1 0 1 0 2.2 0a1.1 1.1 0 1 0 -2.2 0M233.18 451.40a1.1 1.1 0 1 0 2.2 0a1.1 1.1 0 1 0 -2.2 0M237.96 451.71a1.1 1.1 0 1 0 2.2 0a1.1 1.1 0 1 0 -2.2 0M242.74 451.15a1.1 1.1 0 1 0 2.2 0a1.1 1.1 0 1 0 -2.2 0M247.52 452.60a1.1 1.1 0 1 0 2.2 0a1.1 1.1 0 1 0 -2.2 0M252.30 451.53a1.1 1.1 0 1 0 2.2 0a1.1 1.1 0 1 0 -2.2 0M257.08 451.76a1.1 1.1 0 1 0 2.2 0a1.1 1.1 0 1 0 -2.2 0M261.86 451.69a1.1 1.1 0 1 0 2.2 0a1.1 1.1 0 1 0 -2.2 0M266.64 452.80a1.1 1.1 0 1 0 2.2 0a1.1 1.1 0 1 0 -2.2 0M271.42 451.99a1.1 1.1 0 1 0 2.2 0a1.1 1.1 0 1 0 -2.2 0M276.20 452.16a1.1 1.1 0 1 0 2.2 0a1.1 1.1 0 1 0 -2.2 0M280.98 451.83a1.1 1.1 0 1 0 2.2 0a1.1 1.1 0 1 0 -2.2 0M285.76 451.34a1.1 1.1 0 1 0 2.2 0a1.1 1.1 0 1 0 -2.2 0M290.54 452.29a1.1 1.1 0 1 0 2.2 0a1.1 1.1 0 1 0 -2.2 0M295.32 451.48a1.1 1.1 0 1 0 2.2 0a1.1 1.1 0 1 0 -2.2 0M300.10 451.63a1.1 1.1 0 1 0 2.2 0a1.1 1.1 0 1 0 -2.2 0M304.88 450.77a1.1 1.1 0 1 0 2.2 0a1.1 1.1 0 1 0 -2.2 0M309.66 451.06a1.1 1.1 0 1 0 2.2 0a1.1 1.1 0 1 0 -2.2 0M314.44 451.07a1.1 1.1 0 1 0 2.2 0a1.1 1.1 0 1 0 -2.2 0M319.22 451.25a1.1 1.1 0 1 0 2.2 0a1.1 1.1 0 1 0 -2.2 0M324.00 450.27a1.1 1.1 0 1 0 2.2 0a1.1 1.1 0 1 0 -2.2 0M328.78 452.07a1.1 1.1 0 1 0 2.2 0a1.1 1.1 0 1 0 -2.2 0M333.56 451.63a1.1 1.1 0 1 0 2.2 0a1.1 1.1 0 1 0 -2.2 0M338.34 451.14a1.1 1.1 0 1 0 2.2 0a1.1 1.1 0 1 0 -2.2 0M343.12 451.66a1.1 1.1 0 1 0 2.2 0a1.1 1.1 0 1 0 -2.2 0M347.90 452.74a1.1 1.1 0 1 0 2.2 0a1.1 1.1 0 1 0 -2.2 0M352.68 451.05a1.1 1.1 0 1 0 2.2 0a1.1 1.1 0 1 0 -2.2 0M357.46 450.63a1.1 1.1 0 1 0 2.2 0a1.1 1.1 0 1 0 -2.2 0M362.24 451.73a1.1 1.1 0 1 0 2.2 0a1.1 1.1 0 1 0 -2.2 0M367.02 451.78a1.1 1.1 0 1 0 2.2 0a1.1 1.1 0 1 0 -2.2 0M371.80 451.38a1.1 1.1 0 1 0 2.2 0a1.1 1.1 0 1 0 -2.2 0M376.58 451.40a1.1 1.1 0 1 0 2.2 0a1.1 1.1 0 1 0 -2.2 0M381.36 451.17a1.1 1.1 0 1 0 2.2 0a1.1 1.1 0 1 0 -2.2 0M386.14 452.08a1.1 1.1 0 1 0 2.2 0a1.1 1.1 0 1 0 -2.2 0M390.92 451.63a1.1 1.1 0 1 0 2.2 0a1.1 1.1 0 1 0 -2.2 0M395.70 451.31a1.1 1.1 0 1 0 2.2 0a1.1 1.1 0 1 0 -2.2 0M400.48 451.87a1.1 1.1 0 1 0 2.2 0a1.1 1.1 0 1 0 -2.2 0M405.26 452.00a1.1 1.1 0 1 0 2.2 0a1.1 1.1 0 1 0 -2.2 0M410.04 452.22a1.1 1.1 0 1 0 2.2 0a1.1 1.1 0 1 0 -2.2 0M414.82 451.71a1.1 1.1 0 1 0 2.2 0a1.1 1.1 0 1 0 -2.2 0M419.60 451.65a1.1 1.1 0 1 0 2.2 0a1.1 1.1 0 1 0 -2.2 0M424.38 451.32a1.1 1.1 0 1 0 2.2 0a1.1 1.1 0 1 0 -2.2 0M429.16 452.31a1.1 1.1 0 1 0 2.2 0a1.1 1.1 0 1 0 -2.2 0M433.94 449.97a1.1 1.1 0 1 0 2.2 0a1.1 1.1 0 1 0 -2.2 0M438.72 449.88a1.1 1.1 0 1 0 2.2 0a1.1 1.1 0 1 0 -2.2 0M443.50 452.12a1.1 1.1 0 1 0 2.2 0a1.1 1.1 0 1 0 -2.2 0M448.28 450.66a1.1 1.1 0 1 0 2.2 0a1.1 1.1 0 1 0 -2.2 0M453.06 452.67a1.1 1.1 0 1 0 2.2 0a1.1 1.1 0 1 0 -2.2 0M457.84 452.26a1.1 1.1 0 1 0 2.2 0a1.1 1.1 0 1 0 -2.2 0M462.62 452.29a1.1 1.1 0 1 0 2.2 0a1.1 1.1 0 1 0 -2.2 0M470.50 447.92a1.1 1.1 0 1 0 2.2 0a1.1 1.1 0 1 0 -2.2 0M215.40 476.20a1.1 1.1 0 1 0 2.2 0a1.1 1.1 0 1 0 -2.2 0M218.40 476.15a1.1 1.1 0 1 0 2.2 0a1.1 1.1 0 1 0 -2.2 0M221.40 475.89a1.1 1.1 0 1 0 2.2 0a1.1 1.1 0 1 0 -2.2 0M228.40 472.36a1.1 1.1 0 1 0 2.2 0a1.1 1.1 0 1 0 -2.2 0M233.18 475.05a1.1 1.1 0 1 0 2.2 0a1.1 1.1 0 1 0 -2.2 0M237.96 473.12a1.1 1.1 0 1 0 2.2 0a1.1 1.1 0 1 0 -2.2 0M242.74 474.38a1.1 1.1 0 1 0 2.2 0a1.1 1.1 0 1 0 -2.2 0M247.52 473.27a1.1 1.1 0 1 0 2.2 0a1.1 1.1 0 1 0 -2.2 0M252.30 472.16a1.1 1.1 0 1 0 2.2 0a1.1 1.1 0 1 0 -2.2 0M257.08 471.78a1.1 1.1 0 1 0 2.2 0a1.1 1.1 0 1 0 -2.2 0M261.86 471.10a1.1 1.1 0 1 0 2.2 0a1.1 1.1 0 1 0 -2.2 0M266.64 473.01a1.1 1.1 0 1 0 2.2 0a1.1 1.1 0 1 0 -2.2 0M271.42 472.71a1.1 1.1 0 1 0 2.2 0a1.1 1.1 0 1 0 -2.2 0M276.20 473.42a1.1 1.1 0 1 0 2.2 0a1.1 1.1 0 1 0 -2.2 0M280.98 473.04a1.1 1.1 0 1 0 2.2 0a1.1 1.1 0 1 0 -2.2 0M285.76 473.39a1.1 1.1 0 1 0 2.2 0a1.1 1.1 0 1 0 -2.2 0M290.54 472.40a1.1 1.1 0 1 0 2.2 0a1.1 1.1 0 1 0 -2.2 0M295.32 472.02a1.1 1.1 0 1 0 2.2 0a1.1 1.1 0 1 0 -2.2 0M300.10 472.38a1.1 1.1 0 1 0 2.2 0a1.1 1.1 0 1 0 -2.2 0M304.88 472.19a1.1 1.1 0 1 0 2.2 0a1.1 1.1 0 1 0 -2.2 0M309.66 474.16a1.1 1.1 0 1 0 2.2 0a1.1 1.1 0 1 0 -2.2 0M314.44 471.30a1.1 1.1 0 1 0 2.2 0a1.1 1.1 0 1 0 -2.2 0M319.22 473.52a1.1 1.1 0 1 0 2.2 0a1.1 1.1 0 1 0 -2.2 0M324.00 472.86a1.1 1.1 0 1 0 2.2 0a1.1 1.1 0 1 0 -2.2 0M328.78 474.03a1.1 1.1 0 1 0 2.2 0a1.1 1.1 0 1 0 -2.2 0M333.56 474.36a1.1 1.1 0 1 0 2.2 0a1.1 1.1 0 1 0 -2.2 0M338.34 472.71a1.1 1.1 0 1 0 2.2 0a1.1 1.1 0 1 0 -2.2 0M343.12 470.32a1.1 1.1 0 1 0 2.2 0a1.1 1.1 0 1 0 -2.2 0M347.90 471.65a1.1 1.1 0 1 0 2.2 0a1.1 1.1 0 1 0 -2.2 0M352.68 472.69a1.1 1.1 0 1 0 2.2 0a1.1 1.1 0 1 0 -2.2 0M357.46 471.17a1.1 1.1 0 1 0 2.2 0a1.1 1.1 0 1 0 -2.2 0M362.24 471.99a1.1 1.1 0 1 0 2.2 0a1.1 1.1 0 1 0 -2.2 0M367.02 471.74a1.1 1.1 0 1 0 2.2 0a1.1 1.1 0 1 0 -2.2 0M371.80 473.06a1.1 1.1 0 1 0 2.2 0a1.1 1.1 0 1 0 -2.2 0M376.58 472.87a1.1 1.1 0 1 0 2.2 0a1.1 1.1 0 1 0 -2.2 0M381.36 471.90a1.1 1.1 0 1 0 2.2 0a1.1 1.1 0 1 0 -2.2 0M386.14 471.52a1.1 1.1 0 1 0 2.2 0a1.1 1.1 0 1 0 -2.2 0M390.92 471.53a1.1 1.1 0 1 0 2.2 0a1.1 1.1 0 1 0 -2.2 0M395.70 473.16a1.1 1.1 0 1 0 2.2 0a1.1 1.1 0 1 0 -2.2 0M400.48 470.30a1.1 1.1 0 1 0 2.2 0a1.1 1.1 0 1 0 -2.2 0M405.26 473.03a1.1 1.1 0 1 0 2.2 0a1.1 1.1 0 1 0 -2.2 0M410.04 472.29a1.1 1.1 0 1 0 2.2 0a1.1 1.1 0 1 0 -2.2 0M414.82 474.01a1.1 1.1 0 1 0 2.2 0a1.1 1.1 0 1 0 -2.2 0M419.60 475.07a1.1 1.1 0 1 0 2.2 0a1.1 1.1 0 1 0 -2.2 0M424.38 470.74a1.1 1.1 0 1 0 2.2 0a1.1 1.1 0 1 0 -2.2 0M429.16 470.63a1.1 1.1 0 1 0 2.2 0a1.1 1.1 0 1 0 -2.2 0M433.94 473.50a1.1 1.1 0 1 0 2.2 0a1.1 1.1 0 1 0 -2.2 0M438.72 474.05a1.1 1.1 0 1 0 2.2 0a1.1 1.1 0 1 0 -2.2 0M443.50 471.38a1.1 1.1 0 1 0 2.2 0a1.1 1.1 0 1 0 -2.2 0M448.28 473.01a1.1 1.1 0 1 0 2.2 0a1.1 1.1 0 1 0 -2.2 0M453.06 473.13a1.1 1.1 0 1 0 2.2 0a1.1 1.1 0 1 0 -2.2 0M457.84 472.71a1.1 1.1 0 1 0 2.2 0a1.1 1.1 0 1 0 -2.2 0M462.62 473.67a1.1 1.1 0 1 0 2.2 0a1.1 1.1 0 1 0 -2.2 0M470.50 471.01a1.1 1.1 0 1 0 2.2 0a1.1 1.1 0 1 0 -2.2 0" fill="#e0202c"/>
<path d="M206.40 322.15a1.1 1.1 0 1 0 2.2 0a1.1 1.1 0 1 0 -2.2 0M209.40 321.15a1.1 1.1 0 1 0 2.2 0a1.1 1.1 0 1 0 -2.2 0M212.40 322.05a1.1 1.1 0 1 0 2.2 0a1.1 1.1 0 1 0 -2.2 0M215.40 322.41a1.1 1.1 0 1 0 2.2 0a1.1 1.1 0 1 0 -2.2 0M218.40 322.66a1.1 1.1 0 1 0 2.2 0a1.1 1.1 0 1 0 -2.2 0M221.40 321.73a1.1 1.1 0 1 0 2.2 0a1.1 1.1 0 1 0 -2.2 0M228.40 322.26a1.1 1.1 0 1 0 2.2 0a1.1 1.1 0 1 0 -2.2 0M233.18 323.14a1.1 1.1 0 1 0 2.2 0a1.1 1.1 0 1 0 -2.2 0M237.96 323.00a1.1 1.1 0 1 0 2.2 0a1.1 1.1 0 1 0 -2.2 0M242.74 324.19a1.1 1.1 0 1 0 2.2 0a1.1 1.1 0 1 0 -2.2 0M247.52 321.14a1.1 1.1 0 1 0 2.2 0a1.1 1.1 0 1 0 -2.2 0M252.30 321.04a1.1 1.1 0 1 0 2.2 0a1.1 1.1 0 1 0 -2.2 0M257.08 323.51a1.1 1.1 0 1 0 2.2 0a1.1 1.1 0 1 0 -2.2 0M261.86 323.18a1.1 1.1 0 1 0 2.2 0a1.1 1.1 0 1 0 -2.2 0M266.64 323.03a1.1 1.1 0 1 0 2.2 0a1.1 1.1 0 1 0 -2.2 0M271.42 322.89a1.1 1.1 0 1 0 2.2 0a1.1 1.1 0 1 0 -2.2 0M276.20 321.93a1.1 1.1 0 1 0 2.2 0a1.1 1.1 0 1 0 -2.2 0M280.98 322.05a1.1 1.1 0 1 0 2.2 0a1.1 1.1 0 1 0 -2.2 0M285.76 322.08a1.1 1.1 0 1 0 2.2 0a1.1 1.1 0 1 0 -2.2 0M290.54 321.84a1.1 1.1 0 1 0 2.2 0a1.1 1.1 0 1 0 -2.2 0M295.32 321.96a1.1 1.1 0 1 0 2.2 0a1.1 1.1 0 1 0 -2.2 0M300.10 321.85a1.1 1.1 0 1 0 2.2 0a1.1 1.1 0 1 0 -2.2 0M304.88 323.72a1.1 1.1 0 1 0 2.2 0a1.1 1.1 0 1 0 -2.2 0M309.66 322.89a1.1 1.1 0 1 0 2.2 0a1.1 1.1 0 1 0 -2.2 0M314.44 321.82a1.1 1.1 0 1 0 2.2 0a1.1 1.1 0 1 0 -2.2 0M324.00 323.95a1.1 1.1 0 1 0 2.2 0a1.1 1.1 0 1 0 -2.2 0M328.78 321.12a1.1 1.1 0 1 0 2.2 0a1.1 1.1 0 1 0 -2.2 0M333.56 321.23a1.1 1.1 0 1 0 2.2 0a1.1 1.1 0 1 0 -2.2 0M338.34 322.19a1.1 1.1 0 1 0 2.2 0a1.1 1.1 0 1 0 -2.2 0M343.12 322.01a1.1 1.1 0 1 0 2.2 0a1.1 1.1 0 1 0 -2.2 0M347.90 322.60a1.1 1.1 0 1 0 2.2 0a1.1 1.1 0 1 0 -2.2 0M352.68 321.20a1.1 1.1 0 1 0 2.2 0a1.1 1.1 0 1 0 -2.2 0M357.46 321.74a1.1 1.1 0 1 0 2.2 0a1.1 1.1 0 1 0 -2.2 0M362.24 322.15a1.1 1.1 0 1 0 2.2 0a1.1 1.1 0 1 0 -2.2 0M367.02 323.64a1.1 1.1 0 1 0 2.2 0a1.1 1.1 0 1 0 -2.2 0M371.80 321.36a1.1 1.1 0 1 0 2.2 0a1.1 1.1 0 1 0 -2.2 0M376.58 323.06a1.1 1.1 0 1 0 2.2 0a1.1 1.1 0 1 0 -2.2 0M381.36 321.79a1.1 1.1 0 1 0 2.2 0a1.1 1.1 0 1 0 -2.2 0M386.14 322.59a1.1 1.1 0 1 0 2.2 0a1.1 1.1 0 1 0 -2.2 0M390.92 322.05a1.1 1.1 0 1 0 2.2 0a1.1 1.1 0 1 0 -2.2 0M395.70 320.88a1.1 1.1 0 1 0 2.2 0a1.1 1.1 0 1 0 -2.2 0M400.48 323.69a1.1 1.1 0 1 0 2.2 0a1.1 1.1 0 1 0 -2.2 0M405.26 322.48a1.1 1.1 0 1 0 2.2 0a1.1 1.1 0 1 0 -2.2 0M410.04 323.20a1.1 1.1 0 1 0 2.2 0a1.1 1.1 0 1 0 -2.2 0M414.82 323.04a1.1 1.1 0 1 0 2.2 0a1.1 1.1 0 1 0 -2.2 0M419.60 322.07a1.1 1.1 0 1 0 2.2 0a1.1 1.1 0 1 0 -2.2 0M424.38 323.05a1.1 1.1 0 1 0 2.2 0a1.1 1.1 0 1 0 -2.2 0M429.16 323.38a1.1 1.1 0 1 0 2.2 0a1.1 1.1 0 1 0 -2.2 0M433.94 322.99a1.1 1.1 0 1 0 2.2 0a1.1 1.1 0 1 0 -2.2 0M438.72 320.67a1.1 1.1 0 1 0 2.2 0a1.1 1.1 0 1 0 -2.2 0M443.50 322.44a1.1 1.1 0 1 0 2.2 0a1.1 1.1 0 1 0 -2.2 0M448.28 322.93a1.1 1.1 0 1 0 2.2 0a1.1 1.1 0 1 0 -2.2 0M453.06 321.85a1.1 1.1 0 1 0 2.2 0a1.1 1.1 0 1 0 -2.2 0M457.84 323.55a1.1 1.1 0 1 0 2.2 0a1.1 1.1 0 1 0 -2.2 0M462.62 322.33a1.1 1.1 0 1 0 2.2 0a1.1 1.1 0 1 0 -2.2 0M470.50 321.45a1.1 1.1 0 1 0 2.2 0a1.1 1.1 0 1 0 -2.2 0M410.04 346.18a1.1 1.1 0 1 0 2.2 0a1.1 1.1 0 1 0 -2.2 0M206.40 363.12a1.1 1.1 0 1 0 2.2 0a1.1 1.1 0 1 0 -2.2 0M209.40 365.38a1.1 1.1 0 1 0 2.2 0a1.1 1.1 0 1 0 -2.2 0M215.40 366.90a1.1 1.1 0 1 0 2.2 0a1.1 1.1 0 1 0 -2.2 0M218.40 363.96a1.1 1.1 0 1 0 2.2 0a1.1 1.1 0 1 0 -2.2 0M276.20 364.96a1.1 1.1 0 1 0 2.2 0a1.1 1.1 0 1 0 -2.2 0M280.98 366.41a1.1 1.1 0 1 0 2.2 0a1.1 1.1 0 1 0 -2.2 0M285.76 366.27a1.1 1.1 0 1 0 2.2 0a1.1 1.1 0 1 0 -2.2 0M290.54 365.93a1.1 1.1 0 1 0 2.2 0a1.1 1.1 0 1 0 -2.2 0M295.32 367.40a1.1 1.1 0 1 0 2.2 0a1.1 1.1 0 1 0 -2.2 0M300.10 366.51a1.1 1.1 0 1 0 2.2 0a1.1 1.1 0 1 0 -2.2 0M304.88 371.33a1.1 1.1 0 1 0 2.2 0a1.1 1.1 0 1 0 -2.2 0M309.66 370.60a1.1 1.1 0 1 0 2.2 0a1.1 1.1 0 1 0 -2.2 0M314.44 367.95a1.1 1.1 0 1 0 2.2 0a1.1 1.1 0 1 0 -2.2 0M319.22 365.14a1.1 1.1 0 1 0 2.2 0a1.1 1.1 0 1 0 -2.2 0M324.00 370.15a1.1 1.1 0 1 0 2.2 0a1.1 1.1 0 1 0 -2.2 0M328.78 366.90a1.1 1.1 0 1 0 2.2 0a1.1 1.1 0 1 0 -2.2 0M333.56 365.66a1.1 1.1 0 1 0 2.2 0a1.1 1.1 0 1 0 -2.2 0M338.34 369.93a1.1 1.1 0 1 0 2.2 0a1.1 1.1 0 1 0 -2.2 0M343.12 366.53a1.1 1.1 0 1 0 2.2 0a1.1 1.1 0 1 0 -2.2 0M347.90 367.19a1.1 1.1 0 1 0 2.2 0a1.1 1.1 0 1 0 -2.2 0M352.68 365.36a1.1 1.1 0 1 0 2.2 0a1.1 1.1 0 1 0 -2.2 0M357.46 367.43a1.1 1.1 0 1 0 2.2 0a1.1 1.1 0 1 0 -2.2 0M362.24 371.04a1.1 1.1 0 1 0 2.2 0a1.1 1.1 0 1 0 -2.2 0M367.02 365.73a1.1 1.1 0 1 0 2.2 0a1.1 1.1 0 1 0 -2.2 0M371.80 366.80a1.1 1.1 0 1 0 2.2 0a1.1 1.1 0 1 0 -2.2 0M376.58 369.84a1.1 1.1 0 1 0 2.2 0a1.1 1.1 0 1 0 -2.2 0M381.36 365.61a1.1 1.1 0 1 0 2.2 0a1.1 1.1 0 1 0 -2.2 0M386.14 371.05a1.1 1.1 0 1 0 2.2 0a1.1 1.1 0 1 0 -2.2 0M390.92 366.26a1.1 1.1 0 1 0 2.2 0a1.1 1.1 0 1 0 -2.2 0M395.70 365.43a1.1 1.1 0 1 0 2.2 0a1.1 1.1 0 1 0 -2.2 0M400.48 371.07a1.1 1.1 0 1 0 2.2 0a1.1 1.1 0 1 0 -2.2 0M405.26 367.31a1.1 1.1 0 1 0 2.2 0a1.1 1.1 0 1 0 -2.2 0M410.04 365.32a1.1 1.1 0 1 0 2.2 0a1.1 1.1 0 1 0 -2.2 0M414.82 366.46a1.1 1.1 0 1 0 2.2 0a1.1 1.1 0 1 0 -2.2 0M419.60 366.51a1.1 1.1 0 1 0 2.2 0a1.1 1.1 0 1 0 -2.2 0M424.38 367.69a1.1 1.1 0 1 0 2.2 0a1.1 1.1 0 1 0 -2.2 0M429.16 366.88a1.1 1.1 0 1 0 2.2 0a1.1 1.1 0 1 0 -2.2 0M433.94 369.17a1.1 1.1 0 1 0 2.2 0a1.1 1.1 0 1 0 -2.2 0M438.72 371.39a1.1 1.1 0 1 0 2.2 0a1.1 1.1 0 1 0 -2.2 0M443.50 366.60a1.1 1.1 0 1 0 2.2 0a1.1 1.1 0 1 0 -2.2 0M448.28 367.25a1.1 1.1 0 1 0 2.2 0a1.1 1.1 0 1 0 -2.2 0M453.06 365.96a1.1 1.1 0 1 0 2.2 0a1.1 1.1 0 1 0 -2.2 0M457.84 366.15a1.1 1.1 0 1 0 2.2 0a1.1 1.1 0 1 0 -2.2 0M462.62 368.35a1.1 1.1 0 1 0 2.2 0a1.1 1.1 0 1 0 -2.2 0M470.50 366.56a1.1 1.1 0 1 0 2.2 0a1.1 1.1 0 1 0 -2.2 0M206.40 502.71a1.1 1.1 0 1 0 2.2 0a1.1 1.1 0 1 0 -2.2 0M209.40 499.25a1.1 1.1 0 1 0 2.2 0a1.1 1.1 0 1 0 -2.2 0M212.40 501.08a1.1 1.1 0 1 0 2.2 0a1.1 1.1 0 1 0 -2.2 0M215.40 499.62a1.1 1.1 0 1 0 2.2 0a1.1 1.1 0 1 0 -2.2 0M218.40 502.30a1.1 1.1 0 1 0 2.2 0a1.1 1.1 0 1 0 -2.2 0M221.40 501.30a1.1 1.1 0 1 0 2.2 0a1.1 1.1 0 1 0 -2.2 0M228.40 501.30a1.1 1.1 0 1 0 2.2 0a1.1 1.1 0 1 0 -2.2 0M233.18 500.13a1.1 1.1 0 1 0 2.2 0a1.1 1.1 0 1 0 -2.2 0M237.96 498.96a1.1 1.1 0 1 0 2.2 0a1.1 1.1 0 1 0 -2.2 0M242.74 496.04a1.1 1.1 0 1 0 2.2 0a1.1 1.1 0 1 0 -2.2 0M247.52 500.13a1.1 1.1 0 1 0 2.2 0a1.1 1.1 0 1 0 -2.2 0M252.30 496.62a1.1 1.1 0 1 0 2.2 0a1.1 1.1 0 1 0 -2.2 0M257.08 501.30a1.1 1.1 0 1 0 2.2 0a1.1 1.1 0 1 0 -2.2 0M261.86 498.96a1.1 1.1 0 1 0 2.2 0a1.1 1.1 0 1 0 -2.2 0M266.64 496.62a1.1 1.1 0 1 0 2.2 0a1.1 1.1 0 1 0 -2.2 0M271.42 503.94a1.1 1.1 0 1 0 2.2 0a1.1 1.1 0 1 0 -2.2 0M276.20 503.94a1.1 1.1 0 1 0 2.2 0a1.1 1.1 0 1 0 -2.2 0M280.98 503.94a1.1 1.1 0 1 0 2.2 0a1.1 1.1 0 1 0 -2.2 0M285.76 503.94a1.1 1.1 0 1 0 2.2 0a1.1 1.1 0 1 0 -2.2 0M290.54 503.94a1.1 1.1 0 1 0 2.2 0a1.1 1.1 0 1 0 -2.2 0M295.32 503.94a1.1 1.1 0 1 0 2.2 0a1.1 1.1 0 1 0 -2.2 0M300.10 503.94a1.1 1.1 0 1 0 2.2 0a1.1 1.1 0 1 0 -2.2 0M304.88 503.64a1.1 1.1 0 1 0 2.2 0a1.1 1.1 0 1 0 -2.2 0M309.66 503.48a1.1 1.1 0 1 0 2.2 0a1.1 1.1 0 1 0 -2.2 0M314.44 503.32a1.1 1.1 0 1 0 2.2 0a1.1 1.1 0 1 0 -2.2 0M319.22 503.15a1.1 1.1 0 1 0 2.2 0a1.1 1.1 0 1 0 -2.2 0M324.00 502.99a1.1 1.1 0 1 0 2.2 0a1.1 1.1 0 1 0 -2.2 0M328.78 502.83a1.1 1.1 0 1 0 2.2 0a1.1 1.1 0 1 0 -2.2 0M333.56 502.66a1.1 1.1 0 1 0 2.2 0a1.1 1.1 0 1 0 -2.2 0M338.34 502.50a1.1 1.1 0 1 0 2.2 0a1.1 1.1 0 1 0 -2.2 0M343.12 502.33a1.1 1.1 0 1 0 2.2 0a1.1 1.1 0 1 0 -2.2 0M347.90 502.17a1.1 1.1 0 1 0 2.2 0a1.1 1.1 0 1 0 -2.2 0M352.68 502.01a1.1 1.1 0 1 0 2.2 0a1.1 1.1 0 1 0 -2.2 0M357.46 501.84a1.1 1.1 0 1 0 2.2 0a1.1 1.1 0 1 0 -2.2 0M362.24 501.68a1.1 1.1 0 1 0 2.2 0a1.1 1.1 0 1 0 -2.2 0M367.02 501.52a1.1 1.1 0 1 0 2.2 0a1.1 1.1 0 1 0 -2.2 0M371.80 501.35a1.1 1.1 0 1 0 2.2 0a1.1 1.1 0 1 0 -2.2 0M376.58 501.19a1.1 1.1 0 1 0 2.2 0a1.1 1.1 0 1 0 -2.2 0M381.36 501.02a1.1 1.1 0 1 0 2.2 0a1.1 1.1 0 1 0 -2.2 0M386.14 500.86a1.1 1.1 0 1 0 2.2 0a1.1 1.1 0 1 0 -2.2 0M390.92 500.70a1.1 1.1 0 1 0 2.2 0a1.1 1.1 0 1 0 -2.2 0M395.70 500.53a1.1 1.1 0 1 0 2.2 0a1.1 1.1 0 1 0 -2.2 0M400.48 500.37a1.1 1.1 0 1 0 2.2 0a1.1 1.1 0 1 0 -2.2 0M405.26 500.21a1.1 1.1 0 1 0 2.2 0a1.1 1.1 0 1 0 -2.2 0M410.04 500.04a1.1 1.1 0 1 0 2.2 0a1.1 1.1 0 1 0 -2.2 0M414.82 499.88a1.1 1.1 0 1 0 2.2 0a1.1 1.1 0 1 0 -2.2 0M419.60 499.71a1.1 1.1 0 1 0 2.2 0a1.1 1.1 0 1 0 -2.2 0M424.38 499.55a1.1 1.1 0 1 0 2.2 0a1.1 1.1 0 1 0 -2.2 0M429.16 499.39a1.1 1.1 0 1 0 2.2 0a1.1 1.1 0 1 0 -2.2 0M433.94 499.22a1.1 1.1 0 1 0 2.2 0a1.1 1.1 0 1 0 -2.2 0M438.72 498.96a1.1 1.1 0 1 0 2.2 0a1.1 1.1 0 1 0 -2.2 0M443.50 497.50a1.1 1.1 0 1 0 2.2 0a1.1 1.1 0 1 0 -2.2 0M448.28 496.04a1.1 1.1 0 1 0 2.2 0a1.1 1.1 0 1 0 -2.2 0M453.06 494.58a1.1 1.1 0 1 0 2.2 0a1.1 1.1 0 1 0 -2.2 0M470.50 501.89a1.1 1.1 0 1 0 2.2 0a1.1 1.1 0 1 0 -2.2 0" fill="#23238f"/>
<path d="M206.40 297.94a1.1 1.1 0 1 0 2.2 0a1.1 1.1 0 1 0 -2.2 0M209.40 297.53a1.1 1.1 0 1 0 2.2 0a1.1 1.1 0 1 0 -2.2 0M212.40 297.56a1.1 1.1 0 1 0 2.2 0a1.1 1.1 0 1 0 -2.2 0M215.40 297.40a1.1 1.1 0 1 0 2.2 0a1.1 1.1 0 1 0 -2.2 0M218.40 297.68a1.1 1.1 0 1 0 2.2 0a1.1 1.1 0 1 0 -2.2 0M221.40 298.03a1.1 1.1 0 1 0 2.2 0a1.1 1.1 0 1 0 -2.2 0M470.50 297.70a1.1 1.1 0 1 0 2.2 0a1.1 1.1 0 1 0 -2.2 0M477.70 297.70a1.1 1.1 0 1 0 2.2 0a1.1 1.1 0 1 0 -2.2 0M480.60 297.70a1.1 1.1 0 1 0 2.2 0a1.1 1.1 0 1 0 -2.2 0M483.50 297.70a1.1 1.1 0 1 0 2.2 0a1.1 1.1 0 1 0 -2.2 0M486.40 297.70a1.1 1.1 0 1 0 2.2 0a1.1 1.1 0 1 0 -2.2 0M489.30 297.70a1.1 1.1 0 1 0 2.2 0a1.1 1.1 0 1 0 -2.2 0M319.22 319.69a1.1 1.1 0 1 0 2.2 0a1.1 1.1 0 1 0 -2.2 0M477.70 316.18a1.1 1.1 0 1 0 2.2 0a1.1 1.1 0 1 0 -2.2 0M480.60 313.84a1.1 1.1 0 1 0 2.2 0a1.1 1.1 0 1 0 -2.2 0M483.50 316.77a1.1 1.1 0 1 0 2.2 0a1.1 1.1 0 1 0 -2.2 0M486.40 317.94a1.1 1.1 0 1 0 2.2 0a1.1 1.1 0 1 0 -2.2 0M489.30 315.01a1.1 1.1 0 1 0 2.2 0a1.1 1.1 0 1 0 -2.2 0M206.40 342.98a1.1 1.1 0 1 0 2.2 0a1.1 1.1 0 1 0 -2.2 0M209.40 343.34a1.1 1.1 0 1 0 2.2 0a1.1 1.1 0 1 0 -2.2 0M212.40 343.51a1.1 1.1 0 1 0 2.2 0a1.1 1.1 0 1 0 -2.2 0M215.40 344.35a1.1 1.1 0 1 0 2.2 0a1.1 1.1 0 1 0 -2.2 0M218.40 342.92a1.1 1.1 0 1 0 2.2 0a1.1 1.1 0 1 0 -2.2 0M221.40 343.36a1.1 1.1 0 1 0 2.2 0a1.1 1.1 0 1 0 -2.2 0M309.66 343.36a1.1 1.1 0 1 0 2.2 0a1.1 1.1 0 1 0 -2.2 0M352.68 343.58a1.1 1.1 0 1 0 2.2 0a1.1 1.1 0 1 0 -2.2 0M357.46 343.51a1.1 1.1 0 1 0 2.2 0a1.1 1.1 0 1 0 -2.2 0M395.70 343.08a1.1 1.1 0 1 0 2.2 0a1.1 1.1 0 1 0 -2.2 0M443.50 343.31a1.1 1.1 0 1 0 2.2 0a1.1 1.1 0 1 0 -2.2 0M477.70 343.83a1.1 1.1 0 1 0 2.2 0a1.1 1.1 0 1 0 -2.2 0M480.60 343.44a1.1 1.1 0 1 0 2.2 0a1.1 1.1 0 1 0 -2.2 0M483.50 343.66a1.1 1.1 0 1 0 2.2 0a1.1 1.1 0 1 0 -2.2 0M486.40 343.52a1.1 1.1 0 1 0 2.2 0a1.1 1.1 0 1 0 -2.2 0M489.30 343.10a1.1 1.1 0 1 0 2.2 0a1.1 1.1 0 1 0 -2.2 0M212.40 363.92a1.1 1.1 0 1 0 2.2 0a1.1 1.1 0 1 0 -2.2 0M221.40 364.14a1.1 1.1 0 1 0 2.2 0a1.1 1.1 0 1 0 -2.2 0M228.40 360.00a1.1 1.1 0 1 0 2.2 0a1.1 1.1 0 1 0 -2.2 0M233.18 360.34a1.1 1.1 0 1 0 2.2 0a1.1 1.1 0 1 0 -2.2 0M237.96 360.20a1.1 1.1 0 1 0 2.2 0a1.1 1.1 0 1 0 -2.2 0M242.74 360.83a1.1 1.1 0 1 0 2.2 0a1.1 1.1 0 1 0 -2.2 0M247.52 360.90a1.1 1.1 0 1 0 2.2 0a1.1 1.1 0 1 0 -2.2 0M252.30 361.43a1.1 1.1 0 1 0 2.2 0a1.1 1.1 0 1 0 -2.2 0M257.08 361.34a1.1 1.1 0 1 0 2.2 0a1.1 1.1 0 1 0 -2.2 0M261.86 361.66a1.1 1.1 0 1 0 2.2 0a1.1 1.1 0 1 0 -2.2 0M266.64 361.97a1.1 1.1 0 1 0 2.2 0a1.1 1.1 0 1 0 -2.2 0M271.42 361.32a1.1 1.1 0 1 0 2.2 0a1.1 1.1 0 1 0 -2.2 0M477.70 360.93a1.1 1.1 0 1 0 2.2 0a1.1 1.1 0 1 0 -2.2 0M480.60 360.55a1.1 1.1 0 1 0 2.2 0a1.1 1.1 0 1 0 -2.2 0M483.50 360.05a1.1 1.1 0 1 0 2.2 0a1.1 1.1 0 1 0 -2.2 0M486.40 360.40a1.1 1.1 0 1 0 2.2 0a1.1 1.1 0 1 0 -2.2 0M489.30 360.19a1.1 1.1 0 1 0 2.2 0a1.1 1.1 0 1 0 -2.2 0M206.40 383.09a1.1 1.1 0 1 0 2.2 0a1.1 1.1 0 1 0 -2.2 0M209.40 382.07a1.1 1.1 0 1 0 2.2 0a1.1 1.1 0 1 0 -2.2 0M212.40 381.98a1.1 1.1 0 1 0 2.2 0a1.1 1.1 0 1 0 -2.2 0M215.40 382.31a1.1 1.1 0 1 0 2.2 0a1.1 1.1 0 1 0 -2.2 0M218.40 382.07a1.1 1.1 0 1 0 2.2 0a1.1 1.1 0 1 0 -2.2 0M221.40 382.60a1.1 1.1 0 1 0 2.2 0a1.1 1.1 0 1 0 -2.2 0M228.40 383.06a1.1 1.1 0 1 0 2.2 0a1.1 1.1 0 1 0 -2.2 0M233.18 380.32a1.1 1.1 0 1 0 2.2 0a1.1 1.1 0 1 0 -2.2 0M237.96 382.41a1.1 1.1 0 1 0 2.2 0a1.1 1.1 0 1 0 -2.2 0M242.74 381.43a1.1 1.1 0 1 0 2.2 0a1.1 1.1 0 1 0 -2.2 0M247.52 382.43a1.1 1.1 0 1 0 2.2 0a1.1 1.1 0 1 0 -2.2 0M252.30 382.36a1.1 1.1 0 1 0 2.2 0a1.1 1.1 0 1 0 -2.2 0M257.08 382.91a1.1 1.1 0 1 0 2.2 0a1.1 1.1 0 1 0 -2.2 0M261.86 383.05a1.1 1.1 0 1 0 2.2 0a1.1 1.1 0 1 0 -2.2 0M266.64 380.56a1.1 1.1 0 1 0 2.2 0a1.1 1.1 0 1 0 -2.2 0M271.42 383.14a1.1 1.1 0 1 0 2.2 0a1.1 1.1 0 1 0 -2.2 0M276.20 381.52a1.1 1.1 0 1 0 2.2 0a1.1 1.1 0 1 0 -2.2 0M280.98 381.95a1.1 1.1 0 1 0 2.2 0a1.1 1.1 0 1 0 -2.2 0M285.76 382.59a1.1 1.1 0 1 0 2.2 0a1.1 1.1 0 1 0 -2.2 0M290.54 382.06a1.1 1.1 0 1 0 2.2 0a1.1 1.1 0 1 0 -2.2 0M295.32 382.11a1.1 1.1 0 1 0 2.2 0a1.1 1.1 0 1 0 -2.2 0M300.10 382.54a1.1 1.1 0 1 0 2.2 0a1.1 1.1 0 1 0 -2.2 0M304.88 382.90a1.1 1.1 0 1 0 2.2 0a1.1 1.1 0 1 0 -2.2 0M309.66 382.39a1.1 1.1 0 1 0 2.2 0a1.1 1.1 0 1 0 -2.2 0M314.44 382.82a1.1 1.1 0 1 0 2.2 0a1.1 1.1 0 1 0 -2.2 0M319.22 382.60a1.1 1.1 0 1 0 2.2 0a1.1 1.1 0 1 0 -2.2 0M324.00 381.91a1.1 1.1 0 1 0 2.2 0a1.1 1.1 0 1 0 -2.2 0M328.78 382.99a1.1 1.1 0 1 0 2.2 0a1.1 1.1 0 1 0 -2.2 0M333.56 381.99a1.1 1.1 0 1 0 2.2 0a1.1 1.1 0 1 0 -2.2 0M338.34 381.15a1.1 1.1 0 1 0 2.2 0a1.1 1.1 0 1 0 -2.2 0M343.12 381.60a1.1 1.1 0 1 0 2.2 0a1.1 1.1 0 1 0 -2.2 0M347.90 381.50a1.1 1.1 0 1 0 2.2 0a1.1 1.1 0 1 0 -2.2 0M352.68 382.37a1.1 1.1 0 1 0 2.2 0a1.1 1.1 0 1 0 -2.2 0M357.46 381.00a1.1 1.1 0 1 0 2.2 0a1.1 1.1 0 1 0 -2.2 0M362.24 382.42a1.1 1.1 0 1 0 2.2 0a1.1 1.1 0 1 0 -2.2 0M367.02 381.34a1.1 1.1 0 1 0 2.2 0a1.1 1.1 0 1 0 -2.2 0M371.80 382.78a1.1 1.1 0 1 0 2.2 0a1.1 1.1 0 1 0 -2.2 0M376.58 383.13a1.1 1.1 0 1 0 2.2 0a1.1 1.1 0 1 0 -2.2 0M381.36 381.76a1.1 1.1 0 1 0 2.2 0a1.1 1.1 0 1 0 -2.2 0M386.14 383.03a1.1 1.1 0 1 0 2.2 0a1.1 1.1 0 1 0 -2.2 0M390.92 382.30a1.1 1.1 0 1 0 2.2 0a1.1 1.1 0 1 0 -2.2 0M395.70 381.51a1.1 1.1 0 1 0 2.2 0a1.1 1.1 0 1 0 -2.2 0M400.48 382.67a1.1 1.1 0 1 0 2.2 0a1.1 1.1 0 1 0 -2.2 0M405.26 383.07a1.1 1.1 0 1 0 2.2 0a1.1 1.1 0 1 0 -2.2 0M410.04 382.66a1.1 1.1 0 1 0 2.2 0a1.1 1.1 0 1 0 -2.2 0M414.82 382.42a1.1 1.1 0 1 0 2.2 0a1.1 1.1 0 1 0 -2.2 0M419.60 382.38a1.1 1.1 0 1 0 2.2 0a1.1 1.1 0 1 0 -2.2 0M424.38 381.15a1.1 1.1 0 1 0 2.2 0a1.1 1.1 0 1 0 -2.2 0M429.16 382.62a1.1 1.1 0 1 0 2.2 0a1.1 1.1 0 1 0 -2.2 0M433.94 381.98a1.1 1.1 0 1 0 2.2 0a1.1 1.1 0 1 0 -2.2 0M438.72 382.33a1.1 1.1 0 1 0 2.2 0a1.1 1.1 0 1 0 -2.2 0M443.50 382.55a1.1 1.1 0 1 0 2.2 0a1.1 1.1 0 1 0 -2.2 0M448.28 382.13a1.1 1.1 0 1 0 2.2 0a1.1 1.1 0 1 0 -2.2 0M453.06 382.32a1.1 1.1 0 1 0 2.2 0a1.1 1.1 0 1 0 -2.2 0M457.84 382.29a1.1 1.1 0 1 0 2.2 0a1.1 1.1 0 1 0 -2.2 0M462.62 382.17a1.1 1.1 0 1 0 2.2 0a1.1 1.1 0 1 0 -2.2 0M470.50 380.58a1.1 1.1 0 1 0 2.2 0a1.1 1.1 0 1 0 -2.2 0M477.70 382.48a1.1 1.1 0 1 0 2.2 0a1.1 1.1 0 1 0 -2.2 0M480.60 382.01a1.1 1.1 0 1 0 2.2 0a1.1 1.1 0 1 0 -2.2 0M483.50 382.05a1.1 1.1 0 1 0 2.2 0a1.1 1.1 0 1 0 -2.2 0M486.40 382.55a1.1 1.1 0 1 0 2.2 0a1.1 1.1 0 1 0 -2.2 0M489.30 382.74a1.1 1.1 0 1 0 2.2 0a1.1 1.1 0 1 0 -2.2 0M206.40 410.66a1.1 1.1 0 1 0 2.2 0a1.1 1.1 0 1 0 -2.2 0M209.40 410.57a1.1 1.1 0 1 0 2.2 0a1.1 1.1 0 1 0 -2.2 0M212.40 410.69a1.1 1.1 0 1 0 2.2 0a1.1 1.1 0 1 0 -2.2 0M215.40 410.64a1.1 1.1 0 1 0 2.2 0a1.1 1.1 0 1 0 -2.2 0M218.40 410.42a1.1 1.1 0 1 0 2.2 0a1.1 1.1 0 1 0 -2.2 0M221.40 410.63a1.1 1.1 0 1 0 2.2 0a1.1 1.1 0 1 0 -2.2 0M276.20 410.55a1.1 1.1 0 1 0 2.2 0a1.1 1.1 0 1 0 -2.2 0M357.46 410.55a1.1 1.1 0 1 0 2.2 0a1.1 1.1 0 1 0 -2.2 0M477.70 410.55a1.1 1.1 0 1 0 2.2 0a1.1 1.1 0 1 0 -2.2 0M480.60 410.55a1.1 1.1 0 1 0 2.2 0a1.1 1.1 0 1 0 -2.2 0M483.50 410.55a1.1 1.1 0 1 0 2.2 0a1.1 1.1 0 1 0 -2.2 0M486.40 410.55a1.1 1.1 0 1 0 2.2 0a1.1 1.1 0 1 0 -2.2 0M489.30 410.55a1.1 1.1 0 1 0 2.2 0a1.1 1.1 0 1 0 -2.2 0M477.70 435.13a1.1 1.1 0 1 0 2.2 0a1.1 1.1 0 1 0 -2.2 0M480.60 435.29a1.1 1.1 0 1 0 2.2 0a1.1 1.1 0 1 0 -2.2 0M483.50 434.80a1.1 1.1 0 1 0 2.2 0a1.1 1.1 0 1 0 -2.2 0M486.40 435.11a1.1 1.1 0 1 0 2.2 0a1.1 1.1 0 1 0 -2.2 0M489.30 435.09a1.1 1.1 0 1 0 2.2 0a1.1 1.1 0 1 0 -2.2 0M477.70 455.90a1.1 1.1 0 1 0 2.2 0a1.1 1.1 0 1 0 -2.2 0M480.60 456.35a1.1 1.1 0 1 0 2.2 0a1.1 1.1 0 1 0 -2.2 0M483.50 456.02a1.1 1.1 0 1 0 2.2 0a1.1 1.1 0 1 0 -2.2 0M486.40 455.96a1.1 1.1 0 1 0 2.2 0a1.1 1.1 0 1 0 -2.2 0M489.30 455.85a1.1 1.1 0 1 0 2.2 0a1.1 1.1 0 1 0 -2.2 0M206.40 477.96a1.1 1.1 0 1 0 2.2 0a1.1 1.1 0 1 0 -2.2 0M209.40 477.38a1.1 1.1 0 1 0 2.2 0a1.1 1.1 0 1 0 -2.2 0M212.40 477.32a1.1 1.1 0 1 0 2.2 0a1.1 1.1 0 1 0 -2.2 0M477.70 477.61a1.1 1.1 0 1 0 2.2 0a1.1 1.1 0 1 0 -2.2 0M480.60 477.78a1.1 1.1 0 1 0 2.2 0a1.1 1.1 0 1 0 -2.2 0M483.50 477.52a1.1 1.1 0 1 0 2.2 0a1.1 1.1 0 1 0 -2.2 0M486.40 478.08a1.1 1.1 0 1 0 2.2 0a1.1 1.1 0 1 0 -2.2 0M489.30 477.47a1.1 1.1 0 1 0 2.2 0a1.1 1.1 0 1 0 -2.2 0M457.84 493.11a1.1 1.1 0 1 0 2.2 0a1.1 1.1 0 1 0 -2.2 0M462.62 491.65a1.1 1.1 0 1 0 2.2 0a1.1 1.1 0 1 0 -2.2 0M477.70 490.77a1.1 1.1 0 1 0 2.2 0a1.1 1.1 0 1 0 -2.2 0M480.60 491.94a1.1 1.1 0 1 0 2.2 0a1.1 1.1 0 1 0 -2.2 0M483.50 492.53a1.1 1.1 0 1 0 2.2 0a1.1 1.1 0 1 0 -2.2 0M486.40 493.11a1.1 1.1 0 1 0 2.2 0a1.1 1.1 0 1 0 -2.2 0M489.30 495.45a1.1 1.1 0 1 0 2.2 0a1.1 1.1 0 1 0 -2.2 0" fill="#111111"/>
<text x="354.00" y="516.40" font-size="8.0" fill="#333" text-anchor="middle" stroke="#333" stroke-width="0.18" textLength="62" lengthAdjust="spacingAndGlyphs">Cells with scWGS-seq</text>
<circle cx="429.20" cy="513.00" r="1.10" fill="#e0202c" />
<text x="432.80" y="515.60" font-size="7.0" fill="#333" text-anchor="start" stroke="#333" stroke-width="0.18" textLength="13" lengthAdjust="spacingAndGlyphs">Gain</text>
<circle cx="453.00" cy="513.00" r="1.10" fill="#23238f" />
<text x="456.80" y="515.60" font-size="7.0" fill="#333" text-anchor="start" stroke="#333" stroke-width="0.18" textLength="13.5" lengthAdjust="spacingAndGlyphs">Loss</text>
<circle cx="477.70" cy="513.00" r="1.10" fill="#111111" />
<text x="481.40" y="515.60" font-size="7.0" fill="#333" text-anchor="start" stroke="#333" stroke-width="0.18" textLength="21.5" lengthAdjust="spacingAndGlyphs">Normal</text>
<text x="6.00" y="524.80" font-size="10.8" fill="#111" text-anchor="start" font-weight="bold" >G</text>
<text x="26.9" y="522.1" font-size="6.4" stroke-width="0.15"><tspan fill="#5cb85c">RB1</tspan><tspan fill="#e23a48">/CDKN2A</tspan></text>
<text x="89.8" y="522.1" font-size="6.4" stroke-width="0.15"><tspan fill="#555">+ </tspan><tspan fill="#5cb85c">ETV6</tspan><tspan fill="#e23a48">/IGH</tspan></text>
<text x="141.6" y="522.1" font-size="6.4" stroke-width="0.15"><tspan fill="#555">+ </tspan><tspan fill="#5cb85c">PRMT2</tspan><tspan fill="#e23a48">/C21orf91</tspan></text>
<text x="218.6" y="522.1" font-size="6.4" stroke-width="0.15"><tspan fill="#555">+ </tspan><tspan fill="#5cb85c">HMGN1</tspan></text>
<text x="6.20" y="554.00" font-size="6.5" fill="#333" text-anchor="start" stroke="#333" stroke-width="0.18" >C1</text>
<text x="6.20" y="607.30" font-size="6.5" fill="#333" text-anchor="start" stroke="#333" stroke-width="0.18" >C2</text>
<text x="6.20" y="660.20" font-size="6.5" fill="#333" text-anchor="start" stroke="#333" stroke-width="0.18" >C3</text>
<rect x="17.00" y="525.00" width="241.80" height="159.00" fill="#d6d6d6" />
<defs><radialGradient id="ng" cx="0.45" cy="0.45" r="0.6"><stop offset="0" stop-color="#342c96"/><stop offset="0.7" stop-color="#2c2684"/><stop offset="1" stop-color="#1a1652"/></radialGradient><filter id="nb" x="-20%" y="-20%" width="140%" height="140%"><feGaussianBlur stdDeviation="0.9"/></filter><filter id="mot" x="0" y="0" width="100%" height="100%"><feTurbulence type="fractalNoise" baseFrequency="0.16" numOctaves="2" seed="4"/><feColorMatrix type="matrix" values="0 0 0 0 0.06  0 0 0 0 0.05  0 0 0 0 0.22  0 0 0 -3.4 1.85"/><feComposite in2="SourceGraphic" operator="in"/></filter><filter id="db" x="-100%" y="-100%" width="300%" height="300%"><feGaussianBlur stdDeviation="0.45"/></filter></defs>
<rect x="17.40" y="525.30" width="59.20" height="51.70" fill="#07070b" />
<g transform="translate(17.40,525.30)">
<path d="M8,22 C7,12 13,7 21,7 C25,7 27,9 30,10 C32,6 38,4 44,6 C51,9 54,16 54,24 C55,33 52,40 46,44 C39,48 30,48 22,46 C14,44 9,38 8,30 Z" fill="url(#ng)" filter="url(#nb)"/>
<path d="M8,22 C7,12 13,7 21,7 C25,7 27,9 30,10 C32,6 38,4 44,6 C51,9 54,16 54,24 C55,33 52,40 46,44 C39,48 30,48 22,46 C14,44 9,38 8,30 Z" fill="#000" filter="url(#mot)" opacity="0.8"/>
<g stroke="#14123e" stroke-width="2.4" fill="none" opacity="0.5" filter="url(#nb)"><path d="M30,10 C29,18 27,26 28,34"/><path d="M18,20 C22,24 24,30 22,38"/><path d="M36,20 C40,26 44,28 48,30"/><path d="M14,40 C22,42 30,41 38,44"/></g>
<g filter="url(#db)">
<circle cx="28" cy="27" r="0.9" fill="#ff3a5a"/>
<circle cx="33" cy="29" r="0.9" fill="#ff3a5a"/>
</g>
<rect x="43" y="42.2" width="16.5" height="0.9" fill="#e8232e"/>
<text x="51" y="40.6" font-size="2.2" fill="#e8232e" text-anchor="middle">5 µm</text>
</g>
<rect x="78.30" y="525.30" width="58.80" height="51.70" fill="#07070b" />
<g transform="translate(78.30,525.30)">
<path d="M8,22 C7,12 13,7 21,7 C25,7 27,9 30,10 C32,6 38,4 44,6 C51,9 54,16 54,24 C55,33 52,40 46,44 C39,48 30,48 22,46 C14,44 9,38 8,30 Z" fill="url(#ng)" filter="url(#nb)"/>
<path d="M8,22 C7,12 13,7 21,7 C25,7 27,9 30,10 C32,6 38,4 44,6 C51,9 54,16 54,24 C55,33 52,40 46,44 C39,48 30,48 22,46 C14,44 9,38 8,30 Z" fill="#000" filter="url(#mot)" opacity="0.8"/>
<g stroke="#14123e" stroke-width="2.4" fill="none" opacity="0.5" filter="url(#nb)"><path d="M30,10 C29,18 27,26 28,34"/><path d="M18,20 C22,24 24,30 22,38"/><path d="M36,20 C40,26 44,28 48,30"/><path d="M14,40 C22,42 30,41 38,44"/></g>
<g filter="url(#db)">
<circle cx="19" cy="28" r="1.0" fill="#ff3a5a"/>
<circle cx="33" cy="29" r="1.0" fill="#ff3a5a"/>
<circle cx="24" cy="22" r="0.7" fill="#ff3a5a"/>
</g>
</g>
<rect x="139.00" y="525.30" width="58.80" height="51.70" fill="#07070b" />
<g transform="translate(139.00,525.30)">
<path d="M8,22 C7,12 13,7 21,7 C25,7 27,9 30,10 C32,6 38,4 44,6 C51,9 54,16 54,24 C55,33 52,40 46,44 C39,48 30,48 22,46 C14,44 9,38 8,30 Z" fill="url(#ng)" filter="url(#nb)"/>
<path d="M8,22 C7,12 13,7 21,7 C25,7 27,9 30,10 C32,6 38,4 44,6 C51,9 54,16 54,24 C55,33 52,40 46,44 C39,48 30,48 22,46 C14,44 9,38 8,30 Z" fill="#000" filter="url(#mot)" opacity="0.8"/>
<g stroke="#14123e" stroke-width="2.4" fill="none" opacity="0.5" filter="url(#nb)"><path d="M30,10 C29,18 27,26 28,34"/><path d="M18,20 C22,24 24,30 22,38"/><path d="M36,20 C40,26 44,28 48,30"/><path d="M14,40 C22,42 30,41 38,44"/></g>
<g filter="url(#db)">
<circle cx="18" cy="27" r="0.9" fill="#ff3a5a"/>
<circle cx="30" cy="30" r="0.9" fill="#ff3a5a"/>
<circle cx="36" cy="40" r="1.1" fill="#d8f8e8"/>
<circle cx="26" cy="22" r="0.7" fill="#ff3a5a"/>
</g>
</g>
<rect x="199.50" y="525.30" width="59.00" height="51.70" fill="#07070b" />
<g transform="translate(199.50,525.30)">
<path d="M8,22 C7,12 13,7 21,7 C25,7 27,9 30,10 C32,6 38,4 44,6 C51,9 54,16 54,24 C55,33 52,40 46,44 C39,48 30,48 22,46 C14,44 9,38 8,30 Z" fill="url(#ng)" filter="url(#nb)"/>
<path d="M8,22 C7,12 13,7 21,7 C25,7 27,9 30,10 C32,6 38,4 44,6 C51,9 54,16 54,24 C55,33 52,40 46,44 C39,48 30,48 22,46 C14,44 9,38 8,30 Z" fill="#000" filter="url(#mot)" opacity="0.8"/>
<g stroke="#14123e" stroke-width="2.4" fill="none" opacity="0.5" filter="url(#nb)"><path d="M30,10 C29,18 27,26 28,34"/><path d="M18,20 C22,24 24,30 22,38"/><path d="M36,20 C40,26 44,28 48,30"/><path d="M14,40 C22,42 30,41 38,44"/></g>
<g filter="url(#db)">
<circle cx="16" cy="27" r="0.9" fill="#ff3a5a"/>
<circle cx="30" cy="38" r="1.0" fill="#5ff0c0"/>
<circle cx="34" cy="38" r="1.0" fill="#5ff0c0"/>
<circle cx="38" cy="38" r="1.0" fill="#5ff0c0"/>
<circle cx="36" cy="33" r="1.0" fill="#5ff0c0"/>
<circle cx="26" cy="25" r="0.8" fill="#ff3a5a"/>
</g>
</g>
<rect x="17.40" y="578.90" width="59.20" height="51.70" fill="#07070b" />
<g transform="translate(17.40,578.90)">
<path d="M8,26 C7,16 13,8 23,6 C33,4 44,6 49,13 C53,20 53,30 50,37 C46,44 37,46 28,46 C22,46 18,44 16,41 C12,40 8,34 8,26 Z" fill="url(#ng)" filter="url(#nb)"/>
<path d="M8,26 C7,16 13,8 23,6 C33,4 44,6 49,13 C53,20 53,30 50,37 C46,44 37,46 28,46 C22,46 18,44 16,41 C12,40 8,34 8,26 Z" fill="#000" filter="url(#mot)" opacity="0.8"/>
<g stroke="#14123e" stroke-width="2.4" fill="none" opacity="0.5" filter="url(#nb)"><path d="M20,14 C26,18 30,24 28,32"/><path d="M34,30 C38,36 36,42 30,45"/><path d="M10,34 C16,36 22,40 24,46"/><path d="M40,12 C44,18 46,24 48,28"/></g>
<g filter="url(#db)">
<circle cx="24" cy="14" r="0.6" fill="#ff3a5a"/>
</g>
<rect x="43" y="42.2" width="16.5" height="0.9" fill="#e8232e"/>
<text x="51" y="40.6" font-size="2.2" fill="#e8232e" text-anchor="middle">5 µm</text>
</g>
<rect x="78.30" y="578.90" width="58.80" height="51.70" fill="#07070b" />
<g transform="translate(78.30,578.90)">
<path d="M8,26 C7,16 13,8 23,6 C33,4 44,6 49,13 C53,20 53,30 50,37 C46,44 37,46 28,46 C22,46 18,44 16,41 C12,40 8,34 8,26 Z" fill="url(#ng)" filter="url(#nb)"/>
<path d="M8,26 C7,16 13,8 23,6 C33,4 44,6 49,13 C53,20 53,30 50,37 C46,44 37,46 28,46 C22,46 18,44 16,41 C12,40 8,34 8,26 Z" fill="#000" filter="url(#mot)" opacity="0.8"/>
<g stroke="#14123e" stroke-width="2.4" fill="none" opacity="0.5" filter="url(#nb)"><path d="M20,14 C26,18 30,24 28,32"/><path d="M34,30 C38,36 36,42 30,45"/><path d="M10,34 C16,36 22,40 24,46"/><path d="M40,12 C44,18 46,24 48,28"/></g>
<g filter="url(#db)">
<circle cx="28" cy="28" r="1.1" fill="#ff3a5a"/>
<circle cx="35" cy="25" r="1.1" fill="#ff3a5a"/>
<circle cx="25" cy="22" r="0.8" fill="#ff3a5a"/>
<circle cx="18" cy="26" r="0.9" fill="#66ff99"/>
<circle cx="30" cy="16" r="0.6" fill="#ff3a5a"/>
</g>
</g>
<rect x="139.00" y="578.90" width="58.80" height="51.70" fill="#07070b" />
<g transform="translate(139.00,578.90)">
<path d="M8,26 C7,16 13,8 23,6 C33,4 44,6 49,13 C53,20 53,30 50,37 C46,44 37,46 28,46 C22,46 18,44 16,41 C12,40 8,34 8,26 Z" fill="url(#ng)" filter="url(#nb)"/>
<path d="M8,26 C7,16 13,8 23,6 C33,4 44,6 49,13 C53,20 53,30 50,37 C46,44 37,46 28,46 C22,46 18,44 16,41 C12,40 8,34 8,26 Z" fill="#000" filter="url(#mot)" opacity="0.8"/>
<g stroke="#14123e" stroke-width="2.4" fill="none" opacity="0.5" filter="url(#nb)"><path d="M20,14 C26,18 30,24 28,32"/><path d="M34,30 C38,36 36,42 30,45"/><path d="M10,34 C16,36 22,40 24,46"/><path d="M40,12 C44,18 46,24 48,28"/></g>
<g filter="url(#db)">
<circle cx="22" cy="26" r="1.1" fill="#ff3a5a"/>
<circle cx="35" cy="22" r="1.0" fill="#ff3a5a"/>
<circle cx="28" cy="24" r="1.0" fill="#5ff0c0"/>
<circle cx="37" cy="19" r="1.0" fill="#5ff0c0"/>
<circle cx="30" cy="32" r="0.8" fill="#ff3a5a"/>
</g>
</g>
<rect x="199.50" y="578.90" width="59.00" height="51.70" fill="#07070b" />
<g transform="translate(199.50,578.90)">
<path d="M8,26 C7,16 13,8 23,6 C33,4 44,6 49,13 C53,20 53,30 50,37 C46,44 37,46 28,46 C22,46 18,44 16,41 C12,40 8,34 8,26 Z" fill="url(#ng)" filter="url(#nb)"/>
<path d="M8,26 C7,16 13,8 23,6 C33,4 44,6 49,13 C53,20 53,30 50,37 C46,44 37,46 28,46 C22,46 18,44 16,41 C12,40 8,34 8,26 Z" fill="#000" filter="url(#mot)" opacity="0.8"/>
<g stroke="#14123e" stroke-width="2.4" fill="none" opacity="0.5" filter="url(#nb)"><path d="M20,14 C26,18 30,24 28,32"/><path d="M34,30 C38,36 36,42 30,45"/><path d="M10,34 C16,36 22,40 24,46"/><path d="M40,12 C44,18 46,24 48,28"/></g>
<g filter="url(#db)">
<circle cx="20" cy="25" r="1.1" fill="#ff3a5a"/>
<circle cx="30" cy="26" r="1.1" fill="#ff3a5a"/>
<circle cx="24" cy="26" r="1.1" fill="#5ff0c0"/>
<circle cx="33" cy="22" r="1.1" fill="#5ff0c0"/>
<circle cx="38" cy="27" r="1.0" fill="#5ff0c0"/>
<circle cx="28" cy="30" r="1.0" fill="#5ff0c0"/>
<circle cx="42" cy="18" r="0.9" fill="#5ff0c0"/>
</g>
</g>
<rect x="17.40" y="632.30" width="59.20" height="51.50" fill="#07070b" />
<g transform="translate(17.40,632.30)">
<path d="M5,22 C5,12 12,5 22,4 C28,3 31,6 35,5 C43,4 50,8 53,15 C56,22 54,30 52,37 C50,45 42,50 32,50 C24,51 16,48 11,43 C6,38 5,30 5,22 Z" fill="url(#ng)" filter="url(#nb)"/>
<path d="M5,22 C5,12 12,5 22,4 C28,3 31,6 35,5 C43,4 50,8 53,15 C56,22 54,30 52,37 C50,45 42,50 32,50 C24,51 16,48 11,43 C6,38 5,30 5,22 Z" fill="#000" filter="url(#mot)" opacity="0.8"/>
<g stroke="#14123e" stroke-width="2.4" fill="none" opacity="0.5" filter="url(#nb)"><path d="M12,12 C18,16 22,22 20,30"/><path d="M36,34 C40,38 44,40 48,38"/><path d="M26,36 C30,42 36,44 42,46"/><path d="M40,10 C42,18 40,24 44,30"/><path d="M10,36 C14,40 20,42 24,48"/></g>
<g filter="url(#db)">
<circle cx="28" cy="20" r="0.8" fill="#ff3a5a"/>
</g>
<rect x="43" y="42.2" width="16.5" height="0.9" fill="#e8232e"/>
<text x="51" y="40.6" font-size="2.2" fill="#e8232e" text-anchor="middle">5 µm</text>
</g>
<rect x="78.30" y="632.30" width="58.80" height="51.50" fill="#07070b" />
<g transform="translate(78.30,632.30)">
<path d="M5,22 C5,12 12,5 22,4 C28,3 31,6 35,5 C43,4 50,8 53,15 C56,22 54,30 52,37 C50,45 42,50 32,50 C24,51 16,48 11,43 C6,38 5,30 5,22 Z" fill="url(#ng)" filter="url(#nb)"/>
<path d="M5,22 C5,12 12,5 22,4 C28,3 31,6 35,5 C43,4 50,8 53,15 C56,22 54,30 52,37 C50,45 42,50 32,50 C24,51 16,48 11,43 C6,38 5,30 5,22 Z" fill="#000" filter="url(#mot)" opacity="0.8"/>
<g stroke="#14123e" stroke-width="2.4" fill="none" opacity="0.5" filter="url(#nb)"><path d="M12,12 C18,16 22,22 20,30"/><path d="M36,34 C40,38 44,40 48,38"/><path d="M26,36 C30,42 36,44 42,46"/><path d="M40,10 C42,18 40,24 44,30"/><path d="M10,36 C14,40 20,42 24,48"/></g>
<g filter="url(#db)">
<ellipse cx="37" cy="18" rx="2.08" ry="1.04" fill="#ff2a4a"/>
<circle cx="29" cy="35" r="1.1" fill="#ff3a5a"/>
<circle cx="21" cy="22" r="0.8" fill="#ff3a5a"/>
<circle cx="14" cy="15" r="0.7" fill="#ff3a5a"/>
</g>
</g>
<rect x="139.00" y="632.30" width="58.80" height="51.50" fill="#07070b" />
<g transform="translate(139.00,632.30)">
<path d="M5,22 C5,12 12,5 22,4 C28,3 31,6 35,5 C43,4 50,8 53,15 C56,22 54,30 52,37 C50,45 42,50 32,50 C24,51 16,48 11,43 C6,38 5,30 5,22 Z" fill="url(#ng)" filter="url(#nb)"/>
<path d="M5,22 C5,12 12,5 22,4 C28,3 31,6 35,5 C43,4 50,8 53,15 C56,22 54,30 52,37 C50,45 42,50 32,50 C24,51 16,48 11,43 C6,38 5,30 5,22 Z" fill="#000" filter="url(#mot)" opacity="0.8"/>
<g stroke="#14123e" stroke-width="2.4" fill="none" opacity="0.5" filter="url(#nb)"><path d="M12,12 C18,16 22,22 20,30"/><path d="M36,34 C40,38 44,40 48,38"/><path d="M26,36 C30,42 36,44 42,46"/><path d="M40,10 C42,18 40,24 44,30"/><path d="M10,36 C14,40 20,42 24,48"/></g>
<g filter="url(#db)">
<ellipse cx="34" cy="17" rx="2.08" ry="1.04" fill="#ff2a4a"/>
<circle cx="25" cy="25" r="1.0" fill="#ff3a5a"/>
<circle cx="35" cy="32" r="1.0" fill="#ff3a5a"/>
<circle cx="10" cy="12" r="1.0" fill="#5ff0c0"/>
<circle cx="18" cy="21" r="1.0" fill="#5ff0c0"/>
<circle cx="12" cy="20" r="0.8" fill="#ff3a5a"/>
</g>
</g>
<rect x="199.50" y="632.30" width="59.00" height="51.50" fill="#07070b" />
<g transform="translate(199.50,632.30)">
<path d="M5,22 C5,12 12,5 22,4 C28,3 31,6 35,5 C43,4 50,8 53,15 C56,22 54,30 52,37 C50,45 42,50 32,50 C24,51 16,48 11,43 C6,38 5,30 5,22 Z" fill="url(#ng)" filter="url(#nb)"/>
<path d="M5,22 C5,12 12,5 22,4 C28,3 31,6 35,5 C43,4 50,8 53,15 C56,22 54,30 52,37 C50,45 42,50 32,50 C24,51 16,48 11,43 C6,38 5,30 5,22 Z" fill="#000" filter="url(#mot)" opacity="0.8"/>
<g stroke="#14123e" stroke-width="2.4" fill="none" opacity="0.5" filter="url(#nb)"><path d="M12,12 C18,16 22,22 20,30"/><path d="M36,34 C40,38 44,40 48,38"/><path d="M26,36 C30,42 36,44 42,46"/><path d="M40,10 C42,18 40,24 44,30"/><path d="M10,36 C14,40 20,42 24,48"/></g>
<g filter="url(#db)">
<circle cx="10" cy="10" r="1.0" fill="#5ff0c0"/>
<circle cx="19" cy="7" r="1.0" fill="#5ff0c0"/>
<circle cx="24" cy="15" r="1.1" fill="#5ff0c0"/>
<circle cx="30" cy="12" r="1.0" fill="#5ff0c0"/>
<circle cx="33" cy="20" r="1.1" fill="#5ff0c0"/>
<circle cx="18" cy="25" r="1.0" fill="#5ff0c0"/>
<ellipse cx="37" cy="18" rx="2.08" ry="1.04" fill="#ff2a4a"/>
<circle cx="30" cy="35" r="1.1" fill="#ff3a5a"/>
<circle cx="6" cy="20" r="0.9" fill="#5ff0c0"/>
</g>
</g>
<text x="264.80" y="524.80" font-size="10.8" fill="#111" text-anchor="start" font-weight="bold" >H</text>
<rect x="374.00" y="549.00" width="131.60" height="105.50" fill="#f2f2f2" />
<line x1="306.2" y1="554" x2="306.2" y2="654" stroke="#222" stroke-width="1.2" stroke-dasharray="2.6,1.4"/>
<line x1="279.30" y1="655.50" x2="508.00" y2="655.50" stroke="#222" stroke-width="0.9" />
<path d="M504,652.6 L512.5,655.5 L504,658.4 L506,655.5 Z" fill="#222"/>
<text x="268.8" y="657.0" font-size="7.1" fill="#333" text-anchor="middle" textLength="13.5" lengthAdjust="spacingAndGlyphs">Time</text>
<text x="345.0" y="663.6" font-size="7.8" fill="#333" text-anchor="middle" textLength="58" lengthAdjust="spacingAndGlyphs">Leukemia initiation</text>
<text x="452.2" y="663.6" font-size="7.8" fill="#333" text-anchor="middle" textLength="60.5" lengthAdjust="spacingAndGlyphs">Leukemia expansion</text>
<circle cx="289.0" cy="613.4" r="10.8" fill="#dedaf0" stroke="#b6aed8" stroke-width="0.8"/>
<circle cx="289.0" cy="613.4" r="7.78" fill="none" stroke="#b6aed8" stroke-width="0.5" opacity="0.5"/>
<circle cx="289.0" cy="613.4" r="5.8" fill="#c6bee4"/>
<text x="289" y="631.2" font-size="7.1" fill="#333" text-anchor="middle" textLength="19.5" lengthAdjust="spacingAndGlyphs">Normal</text>
<text x="289" y="638.7" font-size="7.1" fill="#333" text-anchor="middle" textLength="10" lengthAdjust="spacingAndGlyphs">cell</text>
<path d="M302.6,613.8 H329.5" stroke="#222" stroke-width="1"/><path d="M327.2,611 L332.4,613.8 L327.2,616.6 Z" fill="#222"/>
<circle cx="345.0" cy="613.4" r="11.0" fill="#7ec2ea" stroke="#4a98cc" stroke-width="0.8"/>
<circle cx="345.0" cy="613.4" r="7.92" fill="none" stroke="#4a98cc" stroke-width="0.5" opacity="0.5"/>
<circle cx="345.0" cy="613.4" r="5.8" fill="#62a8d8"/>
<text x="327.5" y="577.7" font-size="7.1" fill="#333" text-anchor="middle" textLength="40" lengthAdjust="spacingAndGlyphs">Centromeric/</text>
<text x="327.5" y="585.3" font-size="7.1" fill="#333" text-anchor="middle" textLength="41.5" lengthAdjust="spacingAndGlyphs">telomeric loss</text>
<text x="327.5" y="592.6" font-size="7.1" fill="#333" text-anchor="middle" textLength="25" lengthAdjust="spacingAndGlyphs">of chr21</text>
<path d="M319.6,595.5 Q319.8,603 324.6,606.6" stroke="#222" stroke-width="1.1" fill="none"/><path d="M322.2,608.2 L327.4,609.8 L326.2,604.4 Z" fill="#222"/>
<text x="358" y="592.0" font-size="7.1" fill="#333" text-anchor="middle" textLength="22" lengthAdjust="spacingAndGlyphs">iAMP21</text>
<path d="M358.8,595 Q359.2,603 366,607" stroke="#222" stroke-width="1.1" fill="none"/><path d="M363.6,608.6 L369.8,609.8 L367.4,604.2 Z" fill="#222"/>
<path d="M358,614 H376.5" stroke="#222" stroke-width="1"/><path d="M374.2,611.2 L379.6,614 L374.2,616.8 Z" fill="#222"/>
<text x="345" y="630.0" font-size="7.1" fill="#333" text-anchor="middle" textLength="51" lengthAdjust="spacingAndGlyphs">Chr21 centromeric</text>
<text x="345" y="637.6" font-size="7.1" fill="#333" text-anchor="middle" textLength="46" lengthAdjust="spacingAndGlyphs">and/or telomeric</text>
<text x="345" y="645.0" font-size="7.1" fill="#333" text-anchor="middle" textLength="11.5" lengthAdjust="spacingAndGlyphs">loss</text>
<circle cx="395.4" cy="612.5" r="11.3" fill="#f6b8b8" stroke="#e88c8c" stroke-width="0.8"/>
<circle cx="395.4" cy="612.5" r="8.14" fill="none" stroke="#e88c8c" stroke-width="0.5" opacity="0.5"/>
<circle cx="395.4" cy="612.5" r="5.8" fill="#ee9c9c"/>
<text x="395.2" y="595.8" font-size="6.6" fill="#333" text-anchor="middle" font-weight="bold">C1</text>
<text x="397.0" y="630.4" font-size="7.1" fill="#333" text-anchor="middle" textLength="31" lengthAdjust="spacingAndGlyphs">iAMP21 (+)</text>
<circle cx="455" cy="566.3" r="10.8" fill="#a9dfbe" stroke="#5fb886" stroke-width="0.8"/>
<circle cx="455" cy="566.3" r="7.6" fill="none" stroke="#5fb886" stroke-width="0.4" opacity="0.6"/>
<circle cx="455" cy="566.3" r="5.3" fill="#5cbb88"/>
<circle cx="477.3" cy="566.3" r="10.8" fill="#a9dfbe" stroke="#5fb886" stroke-width="0.8"/>
<circle cx="477.3" cy="566.3" r="7.6" fill="none" stroke="#5fb886" stroke-width="0.4" opacity="0.6"/>
<circle cx="477.3" cy="566.3" r="5.3" fill="#5cbb88"/>
<circle cx="468" cy="580.8" r="10.8" fill="#a9dfbe" stroke="#5fb886" stroke-width="0.8"/>
<circle cx="468" cy="580.8" r="7.6" fill="none" stroke="#5fb886" stroke-width="0.4" opacity="0.6"/>
<circle cx="468" cy="580.8" r="5.3" fill="#5cbb88"/>
<circle cx="447.9" cy="583.6" r="10.8" fill="#a9dfbe" stroke="#5fb886" stroke-width="0.8"/>
<circle cx="447.9" cy="583.6" r="7.6" fill="none" stroke="#5fb886" stroke-width="0.4" opacity="0.6"/>
<circle cx="447.9" cy="583.6" r="5.3" fill="#5cbb88"/>
<circle cx="479.6" cy="592.3" r="10.8" fill="#a9dfbe" stroke="#5fb886" stroke-width="0.8"/>
<circle cx="479.6" cy="592.3" r="7.6" fill="none" stroke="#5fb886" stroke-width="0.4" opacity="0.6"/>
<circle cx="479.6" cy="592.3" r="5.3" fill="#5cbb88"/>
<circle cx="460.9" cy="599.5" r="10.8" fill="#a9dfbe" stroke="#5fb886" stroke-width="0.8"/>
<circle cx="460.9" cy="599.5" r="7.6" fill="none" stroke="#5fb886" stroke-width="0.4" opacity="0.6"/>
<circle cx="460.9" cy="599.5" r="5.3" fill="#5cbb88"/>
<text x="497.6" y="582.2" font-size="6.6" fill="#333" text-anchor="middle" font-weight="bold">C2</text>
<text x="423.4" y="580.2" font-size="7.1" fill="#333" text-anchor="middle" textLength="21" lengthAdjust="spacingAndGlyphs">Gain of</text>
<text x="423.4" y="587.7" font-size="7.1" fill="#333" text-anchor="middle" textLength="29.5" lengthAdjust="spacingAndGlyphs">chr14 and</text>
<text x="423.4" y="595.0" font-size="7.1" fill="#333" text-anchor="middle" textLength="14.5" lengthAdjust="spacingAndGlyphs">extra</text>
<text x="423.4" y="602.3" font-size="7.1" fill="#333" text-anchor="middle" textLength="20" lengthAdjust="spacingAndGlyphs">iAMP21</text>
<path d="M409,611 Q414,604 428,603 Q440,602 443.2,598.6" stroke="#222" stroke-width="0.9" fill="none"/><path d="M440.2,599.4 L445.4,595.6 L444.6,601.8 Z" fill="#222"/>
<text x="465.2" y="616.8" font-size="7.1" fill="#333" text-anchor="middle" textLength="40" lengthAdjust="spacingAndGlyphs">Chr14 gain &amp;</text>
<text x="465.2" y="624.9" font-size="7.1" fill="#333" text-anchor="middle" textLength="35" lengthAdjust="spacingAndGlyphs">iAMP21 (++)</text>
<path d="M409,616.8 L446,632.4" stroke="#222" stroke-width="0.9"/><path d="M443.4,634.8 L449.6,634.2 L445.4,629.4 Z" fill="#222"/>
<text x="427.7" y="632.6" font-size="7.1" fill="#333" text-anchor="middle" textLength="15" lengthAdjust="spacingAndGlyphs">Extra</text>
<text x="427.7" y="639.3" font-size="7.1" fill="#333" text-anchor="middle" textLength="20" lengthAdjust="spacingAndGlyphs">iAMP21</text>
<circle cx="462.9" cy="637.9" r="11" fill="#b4262b" stroke="#7a1014" stroke-width="0.8"/>
<circle cx="462.9" cy="637.9" r="7.6" fill="none" stroke="#7a1014" stroke-width="0.4" opacity="0.6"/>
<circle cx="463.4" cy="638.4" r="5.5" fill="#981820"/>
<text x="497.6" y="637.2" font-size="6.6" fill="#333" text-anchor="middle" font-weight="bold">C3</text>
<text x="462.9" y="653.6" font-size="7.1" fill="#333" text-anchor="middle" textLength="38" lengthAdjust="spacingAndGlyphs">iAMP21 (+++)</text>
</svg></body></html>
